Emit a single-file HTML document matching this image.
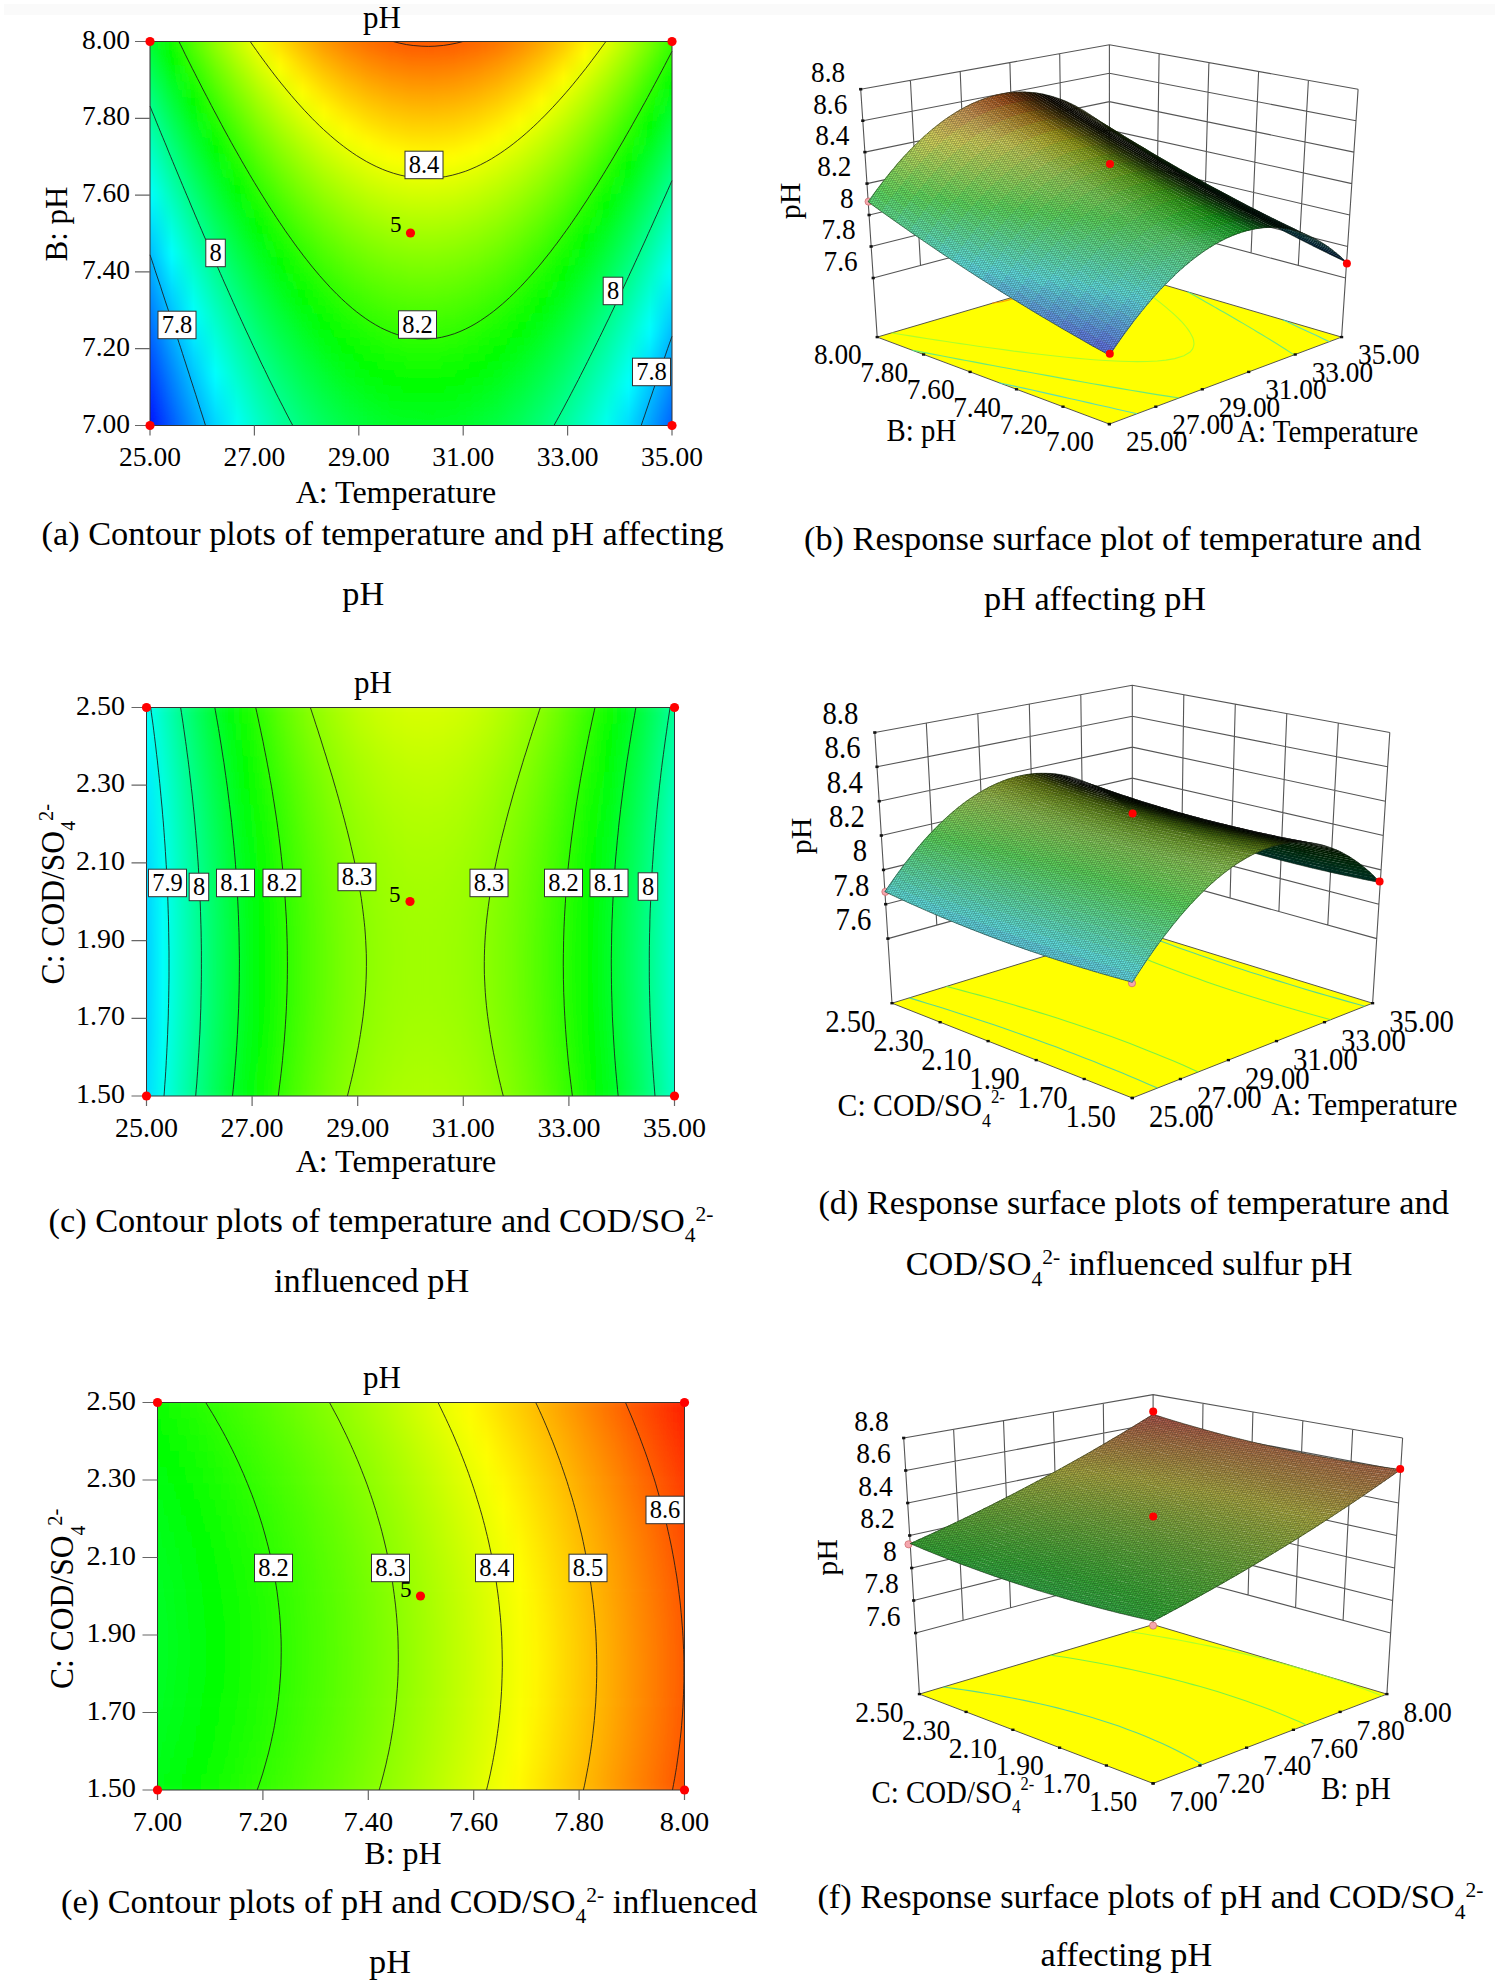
<!DOCTYPE html><html><head><meta charset="utf-8"><title>Figure</title><style>html,body{margin:0;padding:0;background:#fff}svg{display:block}.e{stroke:#1a2a1a;stroke-width:.9;stroke-opacity:.55;fill:none}</style></head><body><svg width="1499" height="1984" viewBox="0 0 1499 1984" font-family='"Liberation Serif","Times New Roman",serif'>
<defs><filter id="wh" x="0" y="0" width="100%" height="100%" filterUnits="objectBoundingBox"><feColorMatrix type="matrix" values="0 0 0 0 1 0 0 0 0 1 0 0 0 0 1 0 0 0 1 0"/></filter><pattern id="mesh" width="2.4" height="2.4" patternUnits="userSpaceOnUse" patternTransform="skewX(-28) skewY(-8)"><path d="M0 .45H2.4M.45 0V2.4" stroke="#000" stroke-opacity=".3" stroke-width=".9"/></pattern></defs>
<rect x="0" y="0" width="1499" height="1984" fill="#fff"/>
<rect x="4" y="4" width="1491" height="11" fill="#fafafa"/>
<defs><linearGradient id="pag0" gradientUnits="userSpaceOnUse" x1="150" x2="672" y1="0" y2="0"><stop offset="0" stop-color="#00ff35"/><stop offset="0.0417" stop-color="#12ff00"/><stop offset="0.0833" stop-color="#53ff00"/><stop offset="0.125" stop-color="#8fff00"/><stop offset="0.167" stop-color="#c4ff00"/><stop offset="0.208" stop-color="#f4ff00"/><stop offset="0.25" stop-color="#ffe000"/><stop offset="0.292" stop-color="#ffbc00"/><stop offset="0.333" stop-color="#ff9d00"/><stop offset="0.375" stop-color="#ff8500"/><stop offset="0.417" stop-color="#ff7200"/><stop offset="0.458" stop-color="#ff6500"/><stop offset="0.5" stop-color="#ff5d00"/><stop offset="0.542" stop-color="#ff5c00"/><stop offset="0.583" stop-color="#ff6000"/><stop offset="0.625" stop-color="#ff6a00"/><stop offset="0.667" stop-color="#ff7900"/><stop offset="0.708" stop-color="#ff8f00"/><stop offset="0.75" stop-color="#ffaa00"/><stop offset="0.792" stop-color="#ffcb00"/><stop offset="0.833" stop-color="#fff200"/><stop offset="0.875" stop-color="#e0ff00"/><stop offset="0.917" stop-color="#adff00"/><stop offset="0.958" stop-color="#75ff00"/><stop offset="1" stop-color="#37ff00"/></linearGradient><linearGradient id="pag1" gradientUnits="userSpaceOnUse" x1="150" x2="672" y1="0" y2="0"><stop offset="0" stop-color="#00ff40"/><stop offset="0.0417" stop-color="#06ff00"/><stop offset="0.0833" stop-color="#48ff00"/><stop offset="0.125" stop-color="#83ff00"/><stop offset="0.167" stop-color="#b8ff00"/><stop offset="0.208" stop-color="#e8ff00"/><stop offset="0.25" stop-color="#ffec00"/><stop offset="0.292" stop-color="#ffc800"/><stop offset="0.333" stop-color="#ffa900"/><stop offset="0.375" stop-color="#ff9100"/><stop offset="0.417" stop-color="#ff7e00"/><stop offset="0.458" stop-color="#ff7100"/><stop offset="0.5" stop-color="#ff6900"/><stop offset="0.542" stop-color="#ff6800"/><stop offset="0.583" stop-color="#ff6c00"/><stop offset="0.625" stop-color="#ff7600"/><stop offset="0.667" stop-color="#ff8500"/><stop offset="0.708" stop-color="#ff9b00"/><stop offset="0.75" stop-color="#ffb600"/><stop offset="0.792" stop-color="#ffd700"/><stop offset="0.833" stop-color="#fffe00"/><stop offset="0.875" stop-color="#d3ff00"/><stop offset="0.917" stop-color="#a1ff00"/><stop offset="0.958" stop-color="#69ff00"/><stop offset="1" stop-color="#2bff00"/></linearGradient><linearGradient id="pag2" gradientUnits="userSpaceOnUse" x1="150" x2="672" y1="0" y2="0"><stop offset="0" stop-color="#00ff4c"/><stop offset="0.0417" stop-color="#00ff05"/><stop offset="0.0833" stop-color="#3cff00"/><stop offset="0.125" stop-color="#77ff00"/><stop offset="0.167" stop-color="#adff00"/><stop offset="0.208" stop-color="#dcff00"/><stop offset="0.25" stop-color="#fff800"/><stop offset="0.292" stop-color="#ffd400"/><stop offset="0.333" stop-color="#ffb500"/><stop offset="0.375" stop-color="#ff9d00"/><stop offset="0.417" stop-color="#ff8a00"/><stop offset="0.458" stop-color="#ff7d00"/><stop offset="0.5" stop-color="#ff7500"/><stop offset="0.542" stop-color="#ff7400"/><stop offset="0.583" stop-color="#ff7800"/><stop offset="0.625" stop-color="#ff8200"/><stop offset="0.667" stop-color="#ff9200"/><stop offset="0.708" stop-color="#ffa700"/><stop offset="0.75" stop-color="#ffc200"/><stop offset="0.792" stop-color="#ffe300"/><stop offset="0.833" stop-color="#f4ff00"/><stop offset="0.875" stop-color="#c7ff00"/><stop offset="0.917" stop-color="#95ff00"/><stop offset="0.958" stop-color="#5dff00"/><stop offset="1" stop-color="#1fff00"/></linearGradient><linearGradient id="pag3" gradientUnits="userSpaceOnUse" x1="150" x2="672" y1="0" y2="0"><stop offset="0" stop-color="#00ff58"/><stop offset="0.0417" stop-color="#00ff11"/><stop offset="0.0833" stop-color="#30ff00"/><stop offset="0.125" stop-color="#6bff00"/><stop offset="0.167" stop-color="#a1ff00"/><stop offset="0.208" stop-color="#d1ff00"/><stop offset="0.25" stop-color="#fbff00"/><stop offset="0.292" stop-color="#ffdf00"/><stop offset="0.333" stop-color="#ffc100"/><stop offset="0.375" stop-color="#ffa800"/><stop offset="0.417" stop-color="#ff9500"/><stop offset="0.458" stop-color="#ff8800"/><stop offset="0.5" stop-color="#ff8100"/><stop offset="0.542" stop-color="#ff8000"/><stop offset="0.583" stop-color="#ff8400"/><stop offset="0.625" stop-color="#ff8e00"/><stop offset="0.667" stop-color="#ff9e00"/><stop offset="0.708" stop-color="#ffb300"/><stop offset="0.75" stop-color="#ffce00"/><stop offset="0.792" stop-color="#ffef00"/><stop offset="0.833" stop-color="#e8ff00"/><stop offset="0.875" stop-color="#bbff00"/><stop offset="0.917" stop-color="#89ff00"/><stop offset="0.958" stop-color="#51ff00"/><stop offset="1" stop-color="#13ff00"/></linearGradient><linearGradient id="pag4" gradientUnits="userSpaceOnUse" x1="150" x2="672" y1="0" y2="0"><stop offset="0" stop-color="#00ff63"/><stop offset="0.0417" stop-color="#00ff1c"/><stop offset="0.0833" stop-color="#25ff00"/><stop offset="0.125" stop-color="#60ff00"/><stop offset="0.167" stop-color="#95ff00"/><stop offset="0.208" stop-color="#c5ff00"/><stop offset="0.25" stop-color="#efff00"/><stop offset="0.292" stop-color="#ffeb00"/><stop offset="0.333" stop-color="#ffcd00"/><stop offset="0.375" stop-color="#ffb400"/><stop offset="0.417" stop-color="#ffa100"/><stop offset="0.458" stop-color="#ff9400"/><stop offset="0.5" stop-color="#ff8d00"/><stop offset="0.542" stop-color="#ff8b00"/><stop offset="0.583" stop-color="#ff9000"/><stop offset="0.625" stop-color="#ff9a00"/><stop offset="0.667" stop-color="#ffa900"/><stop offset="0.708" stop-color="#ffbf00"/><stop offset="0.75" stop-color="#ffda00"/><stop offset="0.792" stop-color="#fffb00"/><stop offset="0.833" stop-color="#dcff00"/><stop offset="0.875" stop-color="#afff00"/><stop offset="0.917" stop-color="#7dff00"/><stop offset="0.958" stop-color="#44ff00"/><stop offset="1" stop-color="#07ff00"/></linearGradient><linearGradient id="pag5" gradientUnits="userSpaceOnUse" x1="150" x2="672" y1="0" y2="0"><stop offset="0" stop-color="#00ff6e"/><stop offset="0.0417" stop-color="#00ff28"/><stop offset="0.0833" stop-color="#19ff00"/><stop offset="0.125" stop-color="#55ff00"/><stop offset="0.167" stop-color="#8aff00"/><stop offset="0.208" stop-color="#baff00"/><stop offset="0.25" stop-color="#e3ff00"/><stop offset="0.292" stop-color="#fff600"/><stop offset="0.333" stop-color="#ffd800"/><stop offset="0.375" stop-color="#ffc000"/><stop offset="0.417" stop-color="#ffad00"/><stop offset="0.458" stop-color="#ffa000"/><stop offset="0.5" stop-color="#ff9800"/><stop offset="0.542" stop-color="#ff9700"/><stop offset="0.583" stop-color="#ff9b00"/><stop offset="0.625" stop-color="#ffa500"/><stop offset="0.667" stop-color="#ffb500"/><stop offset="0.708" stop-color="#ffcb00"/><stop offset="0.75" stop-color="#ffe600"/><stop offset="0.792" stop-color="#f7ff00"/><stop offset="0.833" stop-color="#d0ff00"/><stop offset="0.875" stop-color="#a3ff00"/><stop offset="0.917" stop-color="#71ff00"/><stop offset="0.958" stop-color="#39ff00"/><stop offset="1" stop-color="#00ff05"/></linearGradient><linearGradient id="pag6" gradientUnits="userSpaceOnUse" x1="150" x2="672" y1="0" y2="0"><stop offset="0" stop-color="#00ff7a"/><stop offset="0.0417" stop-color="#00ff33"/><stop offset="0.0833" stop-color="#0eff00"/><stop offset="0.125" stop-color="#49ff00"/><stop offset="0.167" stop-color="#7fff00"/><stop offset="0.208" stop-color="#aeff00"/><stop offset="0.25" stop-color="#d8ff00"/><stop offset="0.292" stop-color="#fcff00"/><stop offset="0.333" stop-color="#ffe400"/><stop offset="0.375" stop-color="#ffcb00"/><stop offset="0.417" stop-color="#ffb800"/><stop offset="0.458" stop-color="#ffab00"/><stop offset="0.5" stop-color="#ffa400"/><stop offset="0.542" stop-color="#ffa300"/><stop offset="0.583" stop-color="#ffa700"/><stop offset="0.625" stop-color="#ffb100"/><stop offset="0.667" stop-color="#ffc100"/><stop offset="0.708" stop-color="#ffd600"/><stop offset="0.75" stop-color="#fff200"/><stop offset="0.792" stop-color="#ebff00"/><stop offset="0.833" stop-color="#c4ff00"/><stop offset="0.875" stop-color="#97ff00"/><stop offset="0.917" stop-color="#65ff00"/><stop offset="0.958" stop-color="#2dff00"/><stop offset="1" stop-color="#00ff11"/></linearGradient><linearGradient id="pag7" gradientUnits="userSpaceOnUse" x1="150" x2="672" y1="0" y2="0"><stop offset="0" stop-color="#00ff85"/><stop offset="0.0417" stop-color="#00ff3e"/><stop offset="0.0833" stop-color="#03ff00"/><stop offset="0.125" stop-color="#3eff00"/><stop offset="0.167" stop-color="#73ff00"/><stop offset="0.208" stop-color="#a3ff00"/><stop offset="0.25" stop-color="#cdff00"/><stop offset="0.292" stop-color="#f1ff00"/><stop offset="0.333" stop-color="#ffef00"/><stop offset="0.375" stop-color="#ffd600"/><stop offset="0.417" stop-color="#ffc400"/><stop offset="0.458" stop-color="#ffb700"/><stop offset="0.5" stop-color="#ffaf00"/><stop offset="0.542" stop-color="#ffae00"/><stop offset="0.583" stop-color="#ffb200"/><stop offset="0.625" stop-color="#ffbc00"/><stop offset="0.667" stop-color="#ffcc00"/><stop offset="0.708" stop-color="#ffe200"/><stop offset="0.75" stop-color="#fffd00"/><stop offset="0.792" stop-color="#dfff00"/><stop offset="0.833" stop-color="#b9ff00"/><stop offset="0.875" stop-color="#8cff00"/><stop offset="0.917" stop-color="#59ff00"/><stop offset="0.958" stop-color="#21ff00"/><stop offset="1" stop-color="#00ff1d"/></linearGradient><linearGradient id="pag8" gradientUnits="userSpaceOnUse" x1="150" x2="672" y1="0" y2="0"><stop offset="0" stop-color="#00ff90"/><stop offset="0.0417" stop-color="#00ff49"/><stop offset="0.0833" stop-color="#00ff08"/><stop offset="0.125" stop-color="#33ff00"/><stop offset="0.167" stop-color="#68ff00"/><stop offset="0.208" stop-color="#98ff00"/><stop offset="0.25" stop-color="#c2ff00"/><stop offset="0.292" stop-color="#e6ff00"/><stop offset="0.333" stop-color="#fffa00"/><stop offset="0.375" stop-color="#ffe200"/><stop offset="0.417" stop-color="#ffcf00"/><stop offset="0.458" stop-color="#ffc200"/><stop offset="0.5" stop-color="#ffbb00"/><stop offset="0.542" stop-color="#ffb900"/><stop offset="0.583" stop-color="#ffbe00"/><stop offset="0.625" stop-color="#ffc800"/><stop offset="0.667" stop-color="#ffd800"/><stop offset="0.708" stop-color="#ffed00"/><stop offset="0.75" stop-color="#f5ff00"/><stop offset="0.792" stop-color="#d4ff00"/><stop offset="0.833" stop-color="#adff00"/><stop offset="0.875" stop-color="#80ff00"/><stop offset="0.917" stop-color="#4eff00"/><stop offset="0.958" stop-color="#15ff00"/><stop offset="1" stop-color="#00ff29"/></linearGradient><linearGradient id="pag9" gradientUnits="userSpaceOnUse" x1="150" x2="672" y1="0" y2="0"><stop offset="0" stop-color="#00ff9b"/><stop offset="0.0417" stop-color="#00ff54"/><stop offset="0.0833" stop-color="#00ff13"/><stop offset="0.125" stop-color="#28ff00"/><stop offset="0.167" stop-color="#5dff00"/><stop offset="0.208" stop-color="#8dff00"/><stop offset="0.25" stop-color="#b7ff00"/><stop offset="0.292" stop-color="#dbff00"/><stop offset="0.333" stop-color="#f9ff00"/><stop offset="0.375" stop-color="#ffed00"/><stop offset="0.417" stop-color="#ffda00"/><stop offset="0.458" stop-color="#ffcd00"/><stop offset="0.5" stop-color="#ffc600"/><stop offset="0.542" stop-color="#ffc500"/><stop offset="0.583" stop-color="#ffc900"/><stop offset="0.625" stop-color="#ffd300"/><stop offset="0.667" stop-color="#ffe300"/><stop offset="0.708" stop-color="#fff900"/><stop offset="0.75" stop-color="#eaff00"/><stop offset="0.792" stop-color="#c9ff00"/><stop offset="0.833" stop-color="#a2ff00"/><stop offset="0.875" stop-color="#75ff00"/><stop offset="0.917" stop-color="#42ff00"/><stop offset="0.958" stop-color="#0aff00"/><stop offset="1" stop-color="#00ff34"/></linearGradient><linearGradient id="pag10" gradientUnits="userSpaceOnUse" x1="150" x2="672" y1="0" y2="0"><stop offset="0" stop-color="#00ffa5"/><stop offset="0.0417" stop-color="#00ff5f"/><stop offset="0.0833" stop-color="#00ff1e"/><stop offset="0.125" stop-color="#1dff00"/><stop offset="0.167" stop-color="#52ff00"/><stop offset="0.208" stop-color="#82ff00"/><stop offset="0.25" stop-color="#acff00"/><stop offset="0.292" stop-color="#d0ff00"/><stop offset="0.333" stop-color="#eeff00"/><stop offset="0.375" stop-color="#fff800"/><stop offset="0.417" stop-color="#ffe500"/><stop offset="0.458" stop-color="#ffd800"/><stop offset="0.5" stop-color="#ffd100"/><stop offset="0.542" stop-color="#ffd000"/><stop offset="0.583" stop-color="#ffd400"/><stop offset="0.625" stop-color="#ffde00"/><stop offset="0.667" stop-color="#ffee00"/><stop offset="0.708" stop-color="#faff00"/><stop offset="0.75" stop-color="#dfff00"/><stop offset="0.792" stop-color="#bdff00"/><stop offset="0.833" stop-color="#96ff00"/><stop offset="0.875" stop-color="#69ff00"/><stop offset="0.917" stop-color="#37ff00"/><stop offset="0.958" stop-color="#00ff01"/><stop offset="1" stop-color="#00ff40"/></linearGradient><linearGradient id="pag11" gradientUnits="userSpaceOnUse" x1="150" x2="672" y1="0" y2="0"><stop offset="0" stop-color="#00ffb0"/><stop offset="0.0417" stop-color="#00ff69"/><stop offset="0.0833" stop-color="#00ff29"/><stop offset="0.125" stop-color="#12ff00"/><stop offset="0.167" stop-color="#48ff00"/><stop offset="0.208" stop-color="#77ff00"/><stop offset="0.25" stop-color="#a1ff00"/><stop offset="0.292" stop-color="#c5ff00"/><stop offset="0.333" stop-color="#e3ff00"/><stop offset="0.375" stop-color="#fbff00"/><stop offset="0.417" stop-color="#fff000"/><stop offset="0.458" stop-color="#ffe300"/><stop offset="0.5" stop-color="#ffdc00"/><stop offset="0.542" stop-color="#ffdb00"/><stop offset="0.583" stop-color="#ffdf00"/><stop offset="0.625" stop-color="#ffe900"/><stop offset="0.667" stop-color="#fff900"/><stop offset="0.708" stop-color="#efff00"/><stop offset="0.75" stop-color="#d3ff00"/><stop offset="0.792" stop-color="#b2ff00"/><stop offset="0.833" stop-color="#8bff00"/><stop offset="0.875" stop-color="#5eff00"/><stop offset="0.917" stop-color="#2cff00"/><stop offset="0.958" stop-color="#00ff0d"/><stop offset="1" stop-color="#00ff4b"/></linearGradient><linearGradient id="pag12" gradientUnits="userSpaceOnUse" x1="150" x2="672" y1="0" y2="0"><stop offset="0" stop-color="#00ffbb"/><stop offset="0.0417" stop-color="#00ff74"/><stop offset="0.0833" stop-color="#00ff33"/><stop offset="0.125" stop-color="#08ff00"/><stop offset="0.167" stop-color="#3dff00"/><stop offset="0.208" stop-color="#6cff00"/><stop offset="0.25" stop-color="#96ff00"/><stop offset="0.292" stop-color="#baff00"/><stop offset="0.333" stop-color="#d8ff00"/><stop offset="0.375" stop-color="#f1ff00"/><stop offset="0.417" stop-color="#fffb00"/><stop offset="0.458" stop-color="#ffee00"/><stop offset="0.5" stop-color="#ffe700"/><stop offset="0.542" stop-color="#ffe600"/><stop offset="0.583" stop-color="#ffea00"/><stop offset="0.625" stop-color="#fff400"/><stop offset="0.667" stop-color="#faff00"/><stop offset="0.708" stop-color="#e4ff00"/><stop offset="0.75" stop-color="#c8ff00"/><stop offset="0.792" stop-color="#a7ff00"/><stop offset="0.833" stop-color="#80ff00"/><stop offset="0.875" stop-color="#53ff00"/><stop offset="0.917" stop-color="#21ff00"/><stop offset="0.958" stop-color="#00ff18"/><stop offset="1" stop-color="#00ff56"/></linearGradient><linearGradient id="pag13" gradientUnits="userSpaceOnUse" x1="150" x2="672" y1="0" y2="0"><stop offset="0" stop-color="#00ffc5"/><stop offset="0.0417" stop-color="#00ff7f"/><stop offset="0.0833" stop-color="#00ff3e"/><stop offset="0.125" stop-color="#00ff03"/><stop offset="0.167" stop-color="#32ff00"/><stop offset="0.208" stop-color="#62ff00"/><stop offset="0.25" stop-color="#8bff00"/><stop offset="0.292" stop-color="#afff00"/><stop offset="0.333" stop-color="#ceff00"/><stop offset="0.375" stop-color="#e6ff00"/><stop offset="0.417" stop-color="#f8ff00"/><stop offset="0.458" stop-color="#fff900"/><stop offset="0.5" stop-color="#fff200"/><stop offset="0.542" stop-color="#fff000"/><stop offset="0.583" stop-color="#fff500"/><stop offset="0.625" stop-color="#ffff00"/><stop offset="0.667" stop-color="#efff00"/><stop offset="0.708" stop-color="#d9ff00"/><stop offset="0.75" stop-color="#bdff00"/><stop offset="0.792" stop-color="#9cff00"/><stop offset="0.833" stop-color="#75ff00"/><stop offset="0.875" stop-color="#48ff00"/><stop offset="0.917" stop-color="#16ff00"/><stop offset="0.958" stop-color="#00ff23"/><stop offset="1" stop-color="#00ff61"/></linearGradient><linearGradient id="pag14" gradientUnits="userSpaceOnUse" x1="150" x2="672" y1="0" y2="0"><stop offset="0" stop-color="#00ffcf"/><stop offset="0.0417" stop-color="#00ff89"/><stop offset="0.0833" stop-color="#00ff48"/><stop offset="0.125" stop-color="#00ff0d"/><stop offset="0.167" stop-color="#28ff00"/><stop offset="0.208" stop-color="#57ff00"/><stop offset="0.25" stop-color="#81ff00"/><stop offset="0.292" stop-color="#a5ff00"/><stop offset="0.333" stop-color="#c3ff00"/><stop offset="0.375" stop-color="#dbff00"/><stop offset="0.417" stop-color="#eeff00"/><stop offset="0.458" stop-color="#fbff00"/><stop offset="0.5" stop-color="#fffc00"/><stop offset="0.542" stop-color="#fffb00"/><stop offset="0.583" stop-color="#feff00"/><stop offset="0.625" stop-color="#f4ff00"/><stop offset="0.667" stop-color="#e4ff00"/><stop offset="0.708" stop-color="#ceff00"/><stop offset="0.75" stop-color="#b3ff00"/><stop offset="0.792" stop-color="#91ff00"/><stop offset="0.833" stop-color="#6aff00"/><stop offset="0.875" stop-color="#3dff00"/><stop offset="0.917" stop-color="#0bff00"/><stop offset="0.958" stop-color="#00ff2e"/><stop offset="1" stop-color="#00ff6c"/></linearGradient><linearGradient id="pag15" gradientUnits="userSpaceOnUse" x1="150" x2="672" y1="0" y2="0"><stop offset="0" stop-color="#00ffda"/><stop offset="0.0417" stop-color="#00ff93"/><stop offset="0.0833" stop-color="#00ff52"/><stop offset="0.125" stop-color="#00ff18"/><stop offset="0.167" stop-color="#1eff00"/><stop offset="0.208" stop-color="#4dff00"/><stop offset="0.25" stop-color="#77ff00"/><stop offset="0.292" stop-color="#9aff00"/><stop offset="0.333" stop-color="#b9ff00"/><stop offset="0.375" stop-color="#d1ff00"/><stop offset="0.417" stop-color="#e3ff00"/><stop offset="0.458" stop-color="#f0ff00"/><stop offset="0.5" stop-color="#f7ff00"/><stop offset="0.542" stop-color="#f8ff00"/><stop offset="0.583" stop-color="#f4ff00"/><stop offset="0.625" stop-color="#eaff00"/><stop offset="0.667" stop-color="#d9ff00"/><stop offset="0.708" stop-color="#c4ff00"/><stop offset="0.75" stop-color="#a8ff00"/><stop offset="0.792" stop-color="#87ff00"/><stop offset="0.833" stop-color="#5fff00"/><stop offset="0.875" stop-color="#32ff00"/><stop offset="0.917" stop-color="#00ff00"/><stop offset="0.958" stop-color="#00ff39"/><stop offset="1" stop-color="#00ff77"/></linearGradient><linearGradient id="pag16" gradientUnits="userSpaceOnUse" x1="150" x2="672" y1="0" y2="0"><stop offset="0" stop-color="#00ffe4"/><stop offset="0.0417" stop-color="#00ff9d"/><stop offset="0.0833" stop-color="#00ff5d"/><stop offset="0.125" stop-color="#00ff22"/><stop offset="0.167" stop-color="#13ff00"/><stop offset="0.208" stop-color="#43ff00"/><stop offset="0.25" stop-color="#6cff00"/><stop offset="0.292" stop-color="#90ff00"/><stop offset="0.333" stop-color="#aeff00"/><stop offset="0.375" stop-color="#c6ff00"/><stop offset="0.417" stop-color="#d9ff00"/><stop offset="0.458" stop-color="#e6ff00"/><stop offset="0.5" stop-color="#edff00"/><stop offset="0.542" stop-color="#eeff00"/><stop offset="0.583" stop-color="#e9ff00"/><stop offset="0.625" stop-color="#dfff00"/><stop offset="0.667" stop-color="#cfff00"/><stop offset="0.708" stop-color="#b9ff00"/><stop offset="0.75" stop-color="#9dff00"/><stop offset="0.792" stop-color="#7cff00"/><stop offset="0.833" stop-color="#55ff00"/><stop offset="0.875" stop-color="#28ff00"/><stop offset="0.917" stop-color="#00ff0b"/><stop offset="0.958" stop-color="#00ff43"/><stop offset="1" stop-color="#00ff82"/></linearGradient><linearGradient id="pag17" gradientUnits="userSpaceOnUse" x1="150" x2="672" y1="0" y2="0"><stop offset="0" stop-color="#00ffee"/><stop offset="0.0417" stop-color="#00ffa7"/><stop offset="0.0833" stop-color="#00ff67"/><stop offset="0.125" stop-color="#00ff2c"/><stop offset="0.167" stop-color="#09ff00"/><stop offset="0.208" stop-color="#39ff00"/><stop offset="0.25" stop-color="#62ff00"/><stop offset="0.292" stop-color="#86ff00"/><stop offset="0.333" stop-color="#a4ff00"/><stop offset="0.375" stop-color="#bcff00"/><stop offset="0.417" stop-color="#cfff00"/><stop offset="0.458" stop-color="#dbff00"/><stop offset="0.5" stop-color="#e2ff00"/><stop offset="0.542" stop-color="#e4ff00"/><stop offset="0.583" stop-color="#dfff00"/><stop offset="0.625" stop-color="#d5ff00"/><stop offset="0.667" stop-color="#c4ff00"/><stop offset="0.708" stop-color="#afff00"/><stop offset="0.75" stop-color="#93ff00"/><stop offset="0.792" stop-color="#71ff00"/><stop offset="0.833" stop-color="#4aff00"/><stop offset="0.875" stop-color="#1dff00"/><stop offset="0.917" stop-color="#00ff15"/><stop offset="0.958" stop-color="#00ff4e"/><stop offset="1" stop-color="#00ff8c"/></linearGradient><linearGradient id="pag18" gradientUnits="userSpaceOnUse" x1="150" x2="672" y1="0" y2="0"><stop offset="0" stop-color="#00fff8"/><stop offset="0.0417" stop-color="#00ffb1"/><stop offset="0.0833" stop-color="#00ff71"/><stop offset="0.125" stop-color="#00ff36"/><stop offset="0.167" stop-color="#00ff01"/><stop offset="0.208" stop-color="#2fff00"/><stop offset="0.25" stop-color="#58ff00"/><stop offset="0.292" stop-color="#7cff00"/><stop offset="0.333" stop-color="#9aff00"/><stop offset="0.375" stop-color="#b2ff00"/><stop offset="0.417" stop-color="#c5ff00"/><stop offset="0.458" stop-color="#d1ff00"/><stop offset="0.5" stop-color="#d8ff00"/><stop offset="0.542" stop-color="#d9ff00"/><stop offset="0.583" stop-color="#d5ff00"/><stop offset="0.625" stop-color="#caff00"/><stop offset="0.667" stop-color="#baff00"/><stop offset="0.708" stop-color="#a4ff00"/><stop offset="0.75" stop-color="#89ff00"/><stop offset="0.792" stop-color="#67ff00"/><stop offset="0.833" stop-color="#40ff00"/><stop offset="0.875" stop-color="#13ff00"/><stop offset="0.917" stop-color="#00ff20"/><stop offset="0.958" stop-color="#00ff59"/><stop offset="1" stop-color="#00ff97"/></linearGradient><linearGradient id="pag19" gradientUnits="userSpaceOnUse" x1="150" x2="672" y1="0" y2="0"><stop offset="0" stop-color="#00fcff"/><stop offset="0.0417" stop-color="#00ffbb"/><stop offset="0.0833" stop-color="#00ff7b"/><stop offset="0.125" stop-color="#00ff40"/><stop offset="0.167" stop-color="#00ff0b"/><stop offset="0.208" stop-color="#25ff00"/><stop offset="0.25" stop-color="#4eff00"/><stop offset="0.292" stop-color="#72ff00"/><stop offset="0.333" stop-color="#90ff00"/><stop offset="0.375" stop-color="#a8ff00"/><stop offset="0.417" stop-color="#baff00"/><stop offset="0.458" stop-color="#c7ff00"/><stop offset="0.5" stop-color="#ceff00"/><stop offset="0.542" stop-color="#cfff00"/><stop offset="0.583" stop-color="#cbff00"/><stop offset="0.625" stop-color="#c0ff00"/><stop offset="0.667" stop-color="#b0ff00"/><stop offset="0.708" stop-color="#9aff00"/><stop offset="0.75" stop-color="#7eff00"/><stop offset="0.792" stop-color="#5dff00"/><stop offset="0.833" stop-color="#35ff00"/><stop offset="0.875" stop-color="#08ff00"/><stop offset="0.917" stop-color="#00ff2a"/><stop offset="0.958" stop-color="#00ff63"/><stop offset="1" stop-color="#00ffa1"/></linearGradient><linearGradient id="pag20" gradientUnits="userSpaceOnUse" x1="150" x2="672" y1="0" y2="0"><stop offset="0" stop-color="#00f3ff"/><stop offset="0.0417" stop-color="#00ffc5"/><stop offset="0.0833" stop-color="#00ff84"/><stop offset="0.125" stop-color="#00ff49"/><stop offset="0.167" stop-color="#00ff14"/><stop offset="0.208" stop-color="#1bff00"/><stop offset="0.25" stop-color="#44ff00"/><stop offset="0.292" stop-color="#68ff00"/><stop offset="0.333" stop-color="#86ff00"/><stop offset="0.375" stop-color="#9eff00"/><stop offset="0.417" stop-color="#b1ff00"/><stop offset="0.458" stop-color="#bdff00"/><stop offset="0.5" stop-color="#c4ff00"/><stop offset="0.542" stop-color="#c5ff00"/><stop offset="0.583" stop-color="#c0ff00"/><stop offset="0.625" stop-color="#b6ff00"/><stop offset="0.667" stop-color="#a6ff00"/><stop offset="0.708" stop-color="#90ff00"/><stop offset="0.75" stop-color="#74ff00"/><stop offset="0.792" stop-color="#53ff00"/><stop offset="0.833" stop-color="#2bff00"/><stop offset="0.875" stop-color="#00ff02"/><stop offset="0.917" stop-color="#00ff35"/><stop offset="0.958" stop-color="#00ff6d"/><stop offset="1" stop-color="#00ffac"/></linearGradient><linearGradient id="pag21" gradientUnits="userSpaceOnUse" x1="150" x2="672" y1="0" y2="0"><stop offset="0" stop-color="#00e9ff"/><stop offset="0.0417" stop-color="#00ffce"/><stop offset="0.0833" stop-color="#00ff8e"/><stop offset="0.125" stop-color="#00ff53"/><stop offset="0.167" stop-color="#00ff1e"/><stop offset="0.208" stop-color="#11ff00"/><stop offset="0.25" stop-color="#3bff00"/><stop offset="0.292" stop-color="#5eff00"/><stop offset="0.333" stop-color="#7cff00"/><stop offset="0.375" stop-color="#94ff00"/><stop offset="0.417" stop-color="#a7ff00"/><stop offset="0.458" stop-color="#b3ff00"/><stop offset="0.5" stop-color="#baff00"/><stop offset="0.542" stop-color="#bbff00"/><stop offset="0.583" stop-color="#b7ff00"/><stop offset="0.625" stop-color="#acff00"/><stop offset="0.667" stop-color="#9cff00"/><stop offset="0.708" stop-color="#86ff00"/><stop offset="0.75" stop-color="#6aff00"/><stop offset="0.792" stop-color="#49ff00"/><stop offset="0.833" stop-color="#21ff00"/><stop offset="0.875" stop-color="#00ff0c"/><stop offset="0.917" stop-color="#00ff3f"/><stop offset="0.958" stop-color="#00ff77"/><stop offset="1" stop-color="#00ffb6"/></linearGradient><linearGradient id="pag22" gradientUnits="userSpaceOnUse" x1="150" x2="672" y1="0" y2="0"><stop offset="0" stop-color="#00e0ff"/><stop offset="0.0417" stop-color="#00ffd8"/><stop offset="0.0833" stop-color="#00ff97"/><stop offset="0.125" stop-color="#00ff5d"/><stop offset="0.167" stop-color="#00ff28"/><stop offset="0.208" stop-color="#07ff00"/><stop offset="0.25" stop-color="#31ff00"/><stop offset="0.292" stop-color="#55ff00"/><stop offset="0.333" stop-color="#72ff00"/><stop offset="0.375" stop-color="#8bff00"/><stop offset="0.417" stop-color="#9dff00"/><stop offset="0.458" stop-color="#aaff00"/><stop offset="0.5" stop-color="#b0ff00"/><stop offset="0.542" stop-color="#b1ff00"/><stop offset="0.583" stop-color="#adff00"/><stop offset="0.625" stop-color="#a2ff00"/><stop offset="0.667" stop-color="#92ff00"/><stop offset="0.708" stop-color="#7cff00"/><stop offset="0.75" stop-color="#60ff00"/><stop offset="0.792" stop-color="#3fff00"/><stop offset="0.833" stop-color="#17ff00"/><stop offset="0.875" stop-color="#00ff16"/><stop offset="0.917" stop-color="#00ff49"/><stop offset="0.958" stop-color="#00ff81"/><stop offset="1" stop-color="#00ffc0"/></linearGradient><linearGradient id="pag23" gradientUnits="userSpaceOnUse" x1="150" x2="672" y1="0" y2="0"><stop offset="0" stop-color="#00d6ff"/><stop offset="0.0417" stop-color="#00ffe1"/><stop offset="0.0833" stop-color="#00ffa1"/><stop offset="0.125" stop-color="#00ff66"/><stop offset="0.167" stop-color="#00ff31"/><stop offset="0.208" stop-color="#00ff02"/><stop offset="0.25" stop-color="#27ff00"/><stop offset="0.292" stop-color="#4bff00"/><stop offset="0.333" stop-color="#69ff00"/><stop offset="0.375" stop-color="#81ff00"/><stop offset="0.417" stop-color="#93ff00"/><stop offset="0.458" stop-color="#a0ff00"/><stop offset="0.5" stop-color="#a7ff00"/><stop offset="0.542" stop-color="#a8ff00"/><stop offset="0.583" stop-color="#a3ff00"/><stop offset="0.625" stop-color="#98ff00"/><stop offset="0.667" stop-color="#88ff00"/><stop offset="0.708" stop-color="#72ff00"/><stop offset="0.75" stop-color="#56ff00"/><stop offset="0.792" stop-color="#35ff00"/><stop offset="0.833" stop-color="#0dff00"/><stop offset="0.875" stop-color="#00ff20"/><stop offset="0.917" stop-color="#00ff53"/><stop offset="0.958" stop-color="#00ff8b"/><stop offset="1" stop-color="#00ffca"/></linearGradient><linearGradient id="pag24" gradientUnits="userSpaceOnUse" x1="150" x2="672" y1="0" y2="0"><stop offset="0" stop-color="#00cdff"/><stop offset="0.0417" stop-color="#00ffeb"/><stop offset="0.0833" stop-color="#00ffaa"/><stop offset="0.125" stop-color="#00ff6f"/><stop offset="0.167" stop-color="#00ff3b"/><stop offset="0.208" stop-color="#00ff0b"/><stop offset="0.25" stop-color="#1eff00"/><stop offset="0.292" stop-color="#42ff00"/><stop offset="0.333" stop-color="#5fff00"/><stop offset="0.375" stop-color="#78ff00"/><stop offset="0.417" stop-color="#8aff00"/><stop offset="0.458" stop-color="#96ff00"/><stop offset="0.5" stop-color="#9dff00"/><stop offset="0.542" stop-color="#9eff00"/><stop offset="0.583" stop-color="#99ff00"/><stop offset="0.625" stop-color="#8fff00"/><stop offset="0.667" stop-color="#7fff00"/><stop offset="0.708" stop-color="#68ff00"/><stop offset="0.75" stop-color="#4dff00"/><stop offset="0.792" stop-color="#2bff00"/><stop offset="0.833" stop-color="#04ff00"/><stop offset="0.875" stop-color="#00ff2a"/><stop offset="0.917" stop-color="#00ff5d"/><stop offset="0.958" stop-color="#00ff95"/><stop offset="1" stop-color="#00ffd4"/></linearGradient><linearGradient id="pag25" gradientUnits="userSpaceOnUse" x1="150" x2="672" y1="0" y2="0"><stop offset="0" stop-color="#00c4ff"/><stop offset="0.0417" stop-color="#00fff4"/><stop offset="0.0833" stop-color="#00ffb3"/><stop offset="0.125" stop-color="#00ff79"/><stop offset="0.167" stop-color="#00ff44"/><stop offset="0.208" stop-color="#00ff15"/><stop offset="0.25" stop-color="#15ff00"/><stop offset="0.292" stop-color="#38ff00"/><stop offset="0.333" stop-color="#56ff00"/><stop offset="0.375" stop-color="#6eff00"/><stop offset="0.417" stop-color="#80ff00"/><stop offset="0.458" stop-color="#8dff00"/><stop offset="0.5" stop-color="#94ff00"/><stop offset="0.542" stop-color="#95ff00"/><stop offset="0.583" stop-color="#90ff00"/><stop offset="0.625" stop-color="#85ff00"/><stop offset="0.667" stop-color="#75ff00"/><stop offset="0.708" stop-color="#5fff00"/><stop offset="0.75" stop-color="#43ff00"/><stop offset="0.792" stop-color="#21ff00"/><stop offset="0.833" stop-color="#00ff06"/><stop offset="0.875" stop-color="#00ff33"/><stop offset="0.917" stop-color="#00ff66"/><stop offset="0.958" stop-color="#00ff9f"/><stop offset="1" stop-color="#00ffdd"/></linearGradient><linearGradient id="pag26" gradientUnits="userSpaceOnUse" x1="150" x2="672" y1="0" y2="0"><stop offset="0" stop-color="#00bbff"/><stop offset="0.0417" stop-color="#00fffd"/><stop offset="0.0833" stop-color="#00ffbc"/><stop offset="0.125" stop-color="#00ff82"/><stop offset="0.167" stop-color="#00ff4d"/><stop offset="0.208" stop-color="#00ff1e"/><stop offset="0.25" stop-color="#0cff00"/><stop offset="0.292" stop-color="#2fff00"/><stop offset="0.333" stop-color="#4dff00"/><stop offset="0.375" stop-color="#65ff00"/><stop offset="0.417" stop-color="#77ff00"/><stop offset="0.458" stop-color="#84ff00"/><stop offset="0.5" stop-color="#8aff00"/><stop offset="0.542" stop-color="#8bff00"/><stop offset="0.583" stop-color="#86ff00"/><stop offset="0.625" stop-color="#7cff00"/><stop offset="0.667" stop-color="#6cff00"/><stop offset="0.708" stop-color="#55ff00"/><stop offset="0.75" stop-color="#39ff00"/><stop offset="0.792" stop-color="#18ff00"/><stop offset="0.833" stop-color="#00ff10"/><stop offset="0.875" stop-color="#00ff3d"/><stop offset="0.917" stop-color="#00ff70"/><stop offset="0.958" stop-color="#00ffa9"/><stop offset="1" stop-color="#00ffe7"/></linearGradient><linearGradient id="pag27" gradientUnits="userSpaceOnUse" x1="150" x2="672" y1="0" y2="0"><stop offset="0" stop-color="#00b2ff"/><stop offset="0.0417" stop-color="#00f8ff"/><stop offset="0.0833" stop-color="#00ffc5"/><stop offset="0.125" stop-color="#00ff8b"/><stop offset="0.167" stop-color="#00ff56"/><stop offset="0.208" stop-color="#00ff27"/><stop offset="0.25" stop-color="#02ff00"/><stop offset="0.292" stop-color="#26ff00"/><stop offset="0.333" stop-color="#44ff00"/><stop offset="0.375" stop-color="#5cff00"/><stop offset="0.417" stop-color="#6eff00"/><stop offset="0.458" stop-color="#7aff00"/><stop offset="0.5" stop-color="#81ff00"/><stop offset="0.542" stop-color="#82ff00"/><stop offset="0.583" stop-color="#7dff00"/><stop offset="0.625" stop-color="#73ff00"/><stop offset="0.667" stop-color="#62ff00"/><stop offset="0.708" stop-color="#4cff00"/><stop offset="0.75" stop-color="#30ff00"/><stop offset="0.792" stop-color="#0eff00"/><stop offset="0.833" stop-color="#00ff19"/><stop offset="0.875" stop-color="#00ff46"/><stop offset="0.917" stop-color="#00ff79"/><stop offset="0.958" stop-color="#00ffb2"/><stop offset="1" stop-color="#00fff1"/></linearGradient><linearGradient id="pag28" gradientUnits="userSpaceOnUse" x1="150" x2="672" y1="0" y2="0"><stop offset="0" stop-color="#00a9ff"/><stop offset="0.0417" stop-color="#00efff"/><stop offset="0.0833" stop-color="#00ffce"/><stop offset="0.125" stop-color="#00ff94"/><stop offset="0.167" stop-color="#00ff5f"/><stop offset="0.208" stop-color="#00ff30"/><stop offset="0.25" stop-color="#00ff07"/><stop offset="0.292" stop-color="#1dff00"/><stop offset="0.333" stop-color="#3bff00"/><stop offset="0.375" stop-color="#53ff00"/><stop offset="0.417" stop-color="#65ff00"/><stop offset="0.458" stop-color="#71ff00"/><stop offset="0.5" stop-color="#78ff00"/><stop offset="0.542" stop-color="#79ff00"/><stop offset="0.583" stop-color="#74ff00"/><stop offset="0.625" stop-color="#69ff00"/><stop offset="0.667" stop-color="#59ff00"/><stop offset="0.708" stop-color="#43ff00"/><stop offset="0.75" stop-color="#27ff00"/><stop offset="0.792" stop-color="#05ff00"/><stop offset="0.833" stop-color="#00ff22"/><stop offset="0.875" stop-color="#00ff50"/><stop offset="0.917" stop-color="#00ff83"/><stop offset="0.958" stop-color="#00ffbc"/><stop offset="1" stop-color="#00fffa"/></linearGradient><linearGradient id="pag29" gradientUnits="userSpaceOnUse" x1="150" x2="672" y1="0" y2="0"><stop offset="0" stop-color="#00a1ff"/><stop offset="0.0417" stop-color="#00e7ff"/><stop offset="0.0833" stop-color="#00ffd7"/><stop offset="0.125" stop-color="#00ff9c"/><stop offset="0.167" stop-color="#00ff68"/><stop offset="0.208" stop-color="#00ff39"/><stop offset="0.25" stop-color="#00ff0f"/><stop offset="0.292" stop-color="#14ff00"/><stop offset="0.333" stop-color="#32ff00"/><stop offset="0.375" stop-color="#4aff00"/><stop offset="0.417" stop-color="#5cff00"/><stop offset="0.458" stop-color="#68ff00"/><stop offset="0.5" stop-color="#6fff00"/><stop offset="0.542" stop-color="#70ff00"/><stop offset="0.583" stop-color="#6bff00"/><stop offset="0.625" stop-color="#60ff00"/><stop offset="0.667" stop-color="#50ff00"/><stop offset="0.708" stop-color="#3aff00"/><stop offset="0.75" stop-color="#1eff00"/><stop offset="0.792" stop-color="#00ff04"/><stop offset="0.833" stop-color="#00ff2c"/><stop offset="0.875" stop-color="#00ff59"/><stop offset="0.917" stop-color="#00ff8c"/><stop offset="0.958" stop-color="#00ffc5"/><stop offset="1" stop-color="#00fbff"/></linearGradient><linearGradient id="pag30" gradientUnits="userSpaceOnUse" x1="150" x2="672" y1="0" y2="0"><stop offset="0" stop-color="#0098ff"/><stop offset="0.0417" stop-color="#00deff"/><stop offset="0.0833" stop-color="#00ffe0"/><stop offset="0.125" stop-color="#00ffa5"/><stop offset="0.167" stop-color="#00ff70"/><stop offset="0.208" stop-color="#00ff41"/><stop offset="0.25" stop-color="#00ff18"/><stop offset="0.292" stop-color="#0bff00"/><stop offset="0.333" stop-color="#29ff00"/><stop offset="0.375" stop-color="#41ff00"/><stop offset="0.417" stop-color="#53ff00"/><stop offset="0.458" stop-color="#5fff00"/><stop offset="0.5" stop-color="#66ff00"/><stop offset="0.542" stop-color="#67ff00"/><stop offset="0.583" stop-color="#62ff00"/><stop offset="0.625" stop-color="#57ff00"/><stop offset="0.667" stop-color="#47ff00"/><stop offset="0.708" stop-color="#31ff00"/><stop offset="0.75" stop-color="#15ff00"/><stop offset="0.792" stop-color="#00ff0d"/><stop offset="0.833" stop-color="#00ff35"/><stop offset="0.875" stop-color="#00ff62"/><stop offset="0.917" stop-color="#00ff95"/><stop offset="0.958" stop-color="#00ffce"/><stop offset="1" stop-color="#00f1ff"/></linearGradient><linearGradient id="pag31" gradientUnits="userSpaceOnUse" x1="150" x2="672" y1="0" y2="0"><stop offset="0" stop-color="#008fff"/><stop offset="0.0417" stop-color="#00d5ff"/><stop offset="0.0833" stop-color="#00ffe8"/><stop offset="0.125" stop-color="#00ffae"/><stop offset="0.167" stop-color="#00ff79"/><stop offset="0.208" stop-color="#00ff4a"/><stop offset="0.25" stop-color="#00ff21"/><stop offset="0.292" stop-color="#03ff00"/><stop offset="0.333" stop-color="#20ff00"/><stop offset="0.375" stop-color="#38ff00"/><stop offset="0.417" stop-color="#4aff00"/><stop offset="0.458" stop-color="#57ff00"/><stop offset="0.5" stop-color="#5dff00"/><stop offset="0.542" stop-color="#5eff00"/><stop offset="0.583" stop-color="#59ff00"/><stop offset="0.625" stop-color="#4eff00"/><stop offset="0.667" stop-color="#3eff00"/><stop offset="0.708" stop-color="#28ff00"/><stop offset="0.75" stop-color="#0cff00"/><stop offset="0.792" stop-color="#00ff16"/><stop offset="0.833" stop-color="#00ff3e"/><stop offset="0.875" stop-color="#00ff6b"/><stop offset="0.917" stop-color="#00ff9e"/><stop offset="0.958" stop-color="#00ffd7"/><stop offset="1" stop-color="#00e8ff"/></linearGradient><linearGradient id="pag32" gradientUnits="userSpaceOnUse" x1="150" x2="672" y1="0" y2="0"><stop offset="0" stop-color="#0087ff"/><stop offset="0.0417" stop-color="#00cdff"/><stop offset="0.0833" stop-color="#00fff1"/><stop offset="0.125" stop-color="#00ffb6"/><stop offset="0.167" stop-color="#00ff81"/><stop offset="0.208" stop-color="#00ff53"/><stop offset="0.25" stop-color="#00ff29"/><stop offset="0.292" stop-color="#00ff06"/><stop offset="0.333" stop-color="#18ff00"/><stop offset="0.375" stop-color="#30ff00"/><stop offset="0.417" stop-color="#42ff00"/><stop offset="0.458" stop-color="#4eff00"/><stop offset="0.5" stop-color="#55ff00"/><stop offset="0.542" stop-color="#55ff00"/><stop offset="0.583" stop-color="#50ff00"/><stop offset="0.625" stop-color="#46ff00"/><stop offset="0.667" stop-color="#35ff00"/><stop offset="0.708" stop-color="#1fff00"/><stop offset="0.75" stop-color="#03ff00"/><stop offset="0.792" stop-color="#00ff1f"/><stop offset="0.833" stop-color="#00ff47"/><stop offset="0.875" stop-color="#00ff74"/><stop offset="0.917" stop-color="#00ffa7"/><stop offset="0.958" stop-color="#00ffe0"/><stop offset="1" stop-color="#00dfff"/></linearGradient><linearGradient id="pag33" gradientUnits="userSpaceOnUse" x1="150" x2="672" y1="0" y2="0"><stop offset="0" stop-color="#007fff"/><stop offset="0.0417" stop-color="#00c5ff"/><stop offset="0.0833" stop-color="#00fff9"/><stop offset="0.125" stop-color="#00ffbf"/><stop offset="0.167" stop-color="#00ff8a"/><stop offset="0.208" stop-color="#00ff5b"/><stop offset="0.25" stop-color="#00ff32"/><stop offset="0.292" stop-color="#00ff0e"/><stop offset="0.333" stop-color="#0fff00"/><stop offset="0.375" stop-color="#27ff00"/><stop offset="0.417" stop-color="#39ff00"/><stop offset="0.458" stop-color="#45ff00"/><stop offset="0.5" stop-color="#4cff00"/><stop offset="0.542" stop-color="#4dff00"/><stop offset="0.583" stop-color="#48ff00"/><stop offset="0.625" stop-color="#3dff00"/><stop offset="0.667" stop-color="#2cff00"/><stop offset="0.708" stop-color="#16ff00"/><stop offset="0.75" stop-color="#00ff06"/><stop offset="0.792" stop-color="#00ff28"/><stop offset="0.833" stop-color="#00ff4f"/><stop offset="0.875" stop-color="#00ff7d"/><stop offset="0.917" stop-color="#00ffb0"/><stop offset="0.958" stop-color="#00ffe9"/><stop offset="1" stop-color="#00d6ff"/></linearGradient><linearGradient id="pag34" gradientUnits="userSpaceOnUse" x1="150" x2="672" y1="0" y2="0"><stop offset="0" stop-color="#0077ff"/><stop offset="0.0417" stop-color="#00bdff"/><stop offset="0.0833" stop-color="#00fdff"/><stop offset="0.125" stop-color="#00ffc7"/><stop offset="0.167" stop-color="#00ff92"/><stop offset="0.208" stop-color="#00ff63"/><stop offset="0.25" stop-color="#00ff3a"/><stop offset="0.292" stop-color="#00ff17"/><stop offset="0.333" stop-color="#07ff00"/><stop offset="0.375" stop-color="#1fff00"/><stop offset="0.417" stop-color="#31ff00"/><stop offset="0.458" stop-color="#3dff00"/><stop offset="0.5" stop-color="#44ff00"/><stop offset="0.542" stop-color="#44ff00"/><stop offset="0.583" stop-color="#3fff00"/><stop offset="0.625" stop-color="#34ff00"/><stop offset="0.667" stop-color="#24ff00"/><stop offset="0.708" stop-color="#0eff00"/><stop offset="0.75" stop-color="#00ff0f"/><stop offset="0.792" stop-color="#00ff30"/><stop offset="0.833" stop-color="#00ff58"/><stop offset="0.875" stop-color="#00ff86"/><stop offset="0.917" stop-color="#00ffb9"/><stop offset="0.958" stop-color="#00fff2"/><stop offset="1" stop-color="#00ceff"/></linearGradient><linearGradient id="pag35" gradientUnits="userSpaceOnUse" x1="150" x2="672" y1="0" y2="0"><stop offset="0" stop-color="#006fff"/><stop offset="0.0417" stop-color="#00b5ff"/><stop offset="0.0833" stop-color="#00f5ff"/><stop offset="0.125" stop-color="#00ffcf"/><stop offset="0.167" stop-color="#00ff9a"/><stop offset="0.208" stop-color="#00ff6b"/><stop offset="0.25" stop-color="#00ff42"/><stop offset="0.292" stop-color="#00ff1f"/><stop offset="0.333" stop-color="#00ff01"/><stop offset="0.375" stop-color="#16ff00"/><stop offset="0.417" stop-color="#28ff00"/><stop offset="0.458" stop-color="#35ff00"/><stop offset="0.5" stop-color="#3bff00"/><stop offset="0.542" stop-color="#3cff00"/><stop offset="0.583" stop-color="#37ff00"/><stop offset="0.625" stop-color="#2cff00"/><stop offset="0.667" stop-color="#1bff00"/><stop offset="0.708" stop-color="#05ff00"/><stop offset="0.75" stop-color="#00ff17"/><stop offset="0.792" stop-color="#00ff39"/><stop offset="0.833" stop-color="#00ff61"/><stop offset="0.875" stop-color="#00ff8e"/><stop offset="0.917" stop-color="#00ffc1"/><stop offset="0.958" stop-color="#00fffa"/><stop offset="1" stop-color="#00c5ff"/></linearGradient><linearGradient id="pag36" gradientUnits="userSpaceOnUse" x1="150" x2="672" y1="0" y2="0"><stop offset="0" stop-color="#0067ff"/><stop offset="0.0417" stop-color="#00adff"/><stop offset="0.0833" stop-color="#00edff"/><stop offset="0.125" stop-color="#00ffd7"/><stop offset="0.167" stop-color="#00ffa2"/><stop offset="0.208" stop-color="#00ff73"/><stop offset="0.25" stop-color="#00ff4a"/><stop offset="0.292" stop-color="#00ff27"/><stop offset="0.333" stop-color="#00ff0a"/><stop offset="0.375" stop-color="#0eff00"/><stop offset="0.417" stop-color="#20ff00"/><stop offset="0.458" stop-color="#2cff00"/><stop offset="0.5" stop-color="#33ff00"/><stop offset="0.542" stop-color="#34ff00"/><stop offset="0.583" stop-color="#2fff00"/><stop offset="0.625" stop-color="#24ff00"/><stop offset="0.667" stop-color="#13ff00"/><stop offset="0.708" stop-color="#00ff03"/><stop offset="0.75" stop-color="#00ff1f"/><stop offset="0.792" stop-color="#00ff41"/><stop offset="0.833" stop-color="#00ff69"/><stop offset="0.875" stop-color="#00ff97"/><stop offset="0.917" stop-color="#00ffca"/><stop offset="0.958" stop-color="#00fbff"/><stop offset="1" stop-color="#00bcff"/></linearGradient><linearGradient id="pag37" gradientUnits="userSpaceOnUse" x1="150" x2="672" y1="0" y2="0"><stop offset="0" stop-color="#005fff"/><stop offset="0.0417" stop-color="#00a5ff"/><stop offset="0.0833" stop-color="#00e5ff"/><stop offset="0.125" stop-color="#00ffdf"/><stop offset="0.167" stop-color="#00ffaa"/><stop offset="0.208" stop-color="#00ff7b"/><stop offset="0.25" stop-color="#00ff52"/><stop offset="0.292" stop-color="#00ff2f"/><stop offset="0.333" stop-color="#00ff12"/><stop offset="0.375" stop-color="#06ff00"/><stop offset="0.417" stop-color="#18ff00"/><stop offset="0.458" stop-color="#24ff00"/><stop offset="0.5" stop-color="#2bff00"/><stop offset="0.542" stop-color="#2bff00"/><stop offset="0.583" stop-color="#26ff00"/><stop offset="0.625" stop-color="#1bff00"/><stop offset="0.667" stop-color="#0bff00"/><stop offset="0.708" stop-color="#00ff0c"/><stop offset="0.75" stop-color="#00ff28"/><stop offset="0.792" stop-color="#00ff4a"/><stop offset="0.833" stop-color="#00ff71"/><stop offset="0.875" stop-color="#00ff9f"/><stop offset="0.917" stop-color="#00ffd2"/><stop offset="0.958" stop-color="#00f3ff"/><stop offset="1" stop-color="#00b4ff"/></linearGradient><linearGradient id="pag38" gradientUnits="userSpaceOnUse" x1="150" x2="672" y1="0" y2="0"><stop offset="0" stop-color="#0057ff"/><stop offset="0.0417" stop-color="#009dff"/><stop offset="0.0833" stop-color="#00ddff"/><stop offset="0.125" stop-color="#00ffe7"/><stop offset="0.167" stop-color="#00ffb2"/><stop offset="0.208" stop-color="#00ff83"/><stop offset="0.25" stop-color="#00ff5a"/><stop offset="0.292" stop-color="#00ff37"/><stop offset="0.333" stop-color="#00ff19"/><stop offset="0.375" stop-color="#00ff02"/><stop offset="0.417" stop-color="#10ff00"/><stop offset="0.458" stop-color="#1cff00"/><stop offset="0.5" stop-color="#23ff00"/><stop offset="0.542" stop-color="#23ff00"/><stop offset="0.583" stop-color="#1eff00"/><stop offset="0.625" stop-color="#13ff00"/><stop offset="0.667" stop-color="#03ff00"/><stop offset="0.708" stop-color="#00ff14"/><stop offset="0.75" stop-color="#00ff30"/><stop offset="0.792" stop-color="#00ff52"/><stop offset="0.833" stop-color="#00ff7a"/><stop offset="0.875" stop-color="#00ffa7"/><stop offset="0.917" stop-color="#00ffdb"/><stop offset="0.958" stop-color="#00eaff"/><stop offset="1" stop-color="#00acff"/></linearGradient><linearGradient id="pag39" gradientUnits="userSpaceOnUse" x1="150" x2="672" y1="0" y2="0"><stop offset="0" stop-color="#004fff"/><stop offset="0.0417" stop-color="#0095ff"/><stop offset="0.0833" stop-color="#00d5ff"/><stop offset="0.125" stop-color="#00ffee"/><stop offset="0.167" stop-color="#00ffba"/><stop offset="0.208" stop-color="#00ff8b"/><stop offset="0.25" stop-color="#00ff62"/><stop offset="0.292" stop-color="#00ff3f"/><stop offset="0.333" stop-color="#00ff21"/><stop offset="0.375" stop-color="#00ff0a"/><stop offset="0.417" stop-color="#08ff00"/><stop offset="0.458" stop-color="#14ff00"/><stop offset="0.5" stop-color="#1bff00"/><stop offset="0.542" stop-color="#1bff00"/><stop offset="0.583" stop-color="#16ff00"/><stop offset="0.625" stop-color="#0bff00"/><stop offset="0.667" stop-color="#00ff05"/><stop offset="0.708" stop-color="#00ff1c"/><stop offset="0.75" stop-color="#00ff38"/><stop offset="0.792" stop-color="#00ff5a"/><stop offset="0.833" stop-color="#00ff82"/><stop offset="0.875" stop-color="#00ffaf"/><stop offset="0.917" stop-color="#00ffe3"/><stop offset="0.958" stop-color="#00e2ff"/><stop offset="1" stop-color="#00a3ff"/></linearGradient><linearGradient id="pag40" gradientUnits="userSpaceOnUse" x1="150" x2="672" y1="0" y2="0"><stop offset="0" stop-color="#0048ff"/><stop offset="0.0417" stop-color="#008eff"/><stop offset="0.0833" stop-color="#00ceff"/><stop offset="0.125" stop-color="#00fff6"/><stop offset="0.167" stop-color="#00ffc1"/><stop offset="0.208" stop-color="#00ff93"/><stop offset="0.25" stop-color="#00ff6a"/><stop offset="0.292" stop-color="#00ff46"/><stop offset="0.333" stop-color="#00ff29"/><stop offset="0.375" stop-color="#00ff11"/><stop offset="0.417" stop-color="#01ff00"/><stop offset="0.458" stop-color="#0dff00"/><stop offset="0.5" stop-color="#13ff00"/><stop offset="0.542" stop-color="#14ff00"/><stop offset="0.583" stop-color="#0eff00"/><stop offset="0.625" stop-color="#03ff00"/><stop offset="0.667" stop-color="#00ff0d"/><stop offset="0.708" stop-color="#00ff24"/><stop offset="0.75" stop-color="#00ff40"/><stop offset="0.792" stop-color="#00ff62"/><stop offset="0.833" stop-color="#00ff8a"/><stop offset="0.875" stop-color="#00ffb7"/><stop offset="0.917" stop-color="#00ffeb"/><stop offset="0.958" stop-color="#00daff"/><stop offset="1" stop-color="#009bff"/></linearGradient><linearGradient id="pag41" gradientUnits="userSpaceOnUse" x1="150" x2="672" y1="0" y2="0"><stop offset="0" stop-color="#0041ff"/><stop offset="0.0417" stop-color="#0086ff"/><stop offset="0.0833" stop-color="#00c6ff"/><stop offset="0.125" stop-color="#00fffd"/><stop offset="0.167" stop-color="#00ffc9"/><stop offset="0.208" stop-color="#00ff9a"/><stop offset="0.25" stop-color="#00ff71"/><stop offset="0.292" stop-color="#00ff4e"/><stop offset="0.333" stop-color="#00ff31"/><stop offset="0.375" stop-color="#00ff19"/><stop offset="0.417" stop-color="#00ff07"/><stop offset="0.458" stop-color="#05ff00"/><stop offset="0.5" stop-color="#0bff00"/><stop offset="0.542" stop-color="#0cff00"/><stop offset="0.583" stop-color="#07ff00"/><stop offset="0.625" stop-color="#00ff04"/><stop offset="0.667" stop-color="#00ff15"/><stop offset="0.708" stop-color="#00ff2c"/><stop offset="0.75" stop-color="#00ff48"/><stop offset="0.792" stop-color="#00ff6a"/><stop offset="0.833" stop-color="#00ff92"/><stop offset="0.875" stop-color="#00ffbf"/><stop offset="0.917" stop-color="#00fff3"/><stop offset="0.958" stop-color="#00d2ff"/><stop offset="1" stop-color="#0093ff"/></linearGradient><linearGradient id="pag42" gradientUnits="userSpaceOnUse" x1="150" x2="672" y1="0" y2="0"><stop offset="0" stop-color="#0039ff"/><stop offset="0.0417" stop-color="#007fff"/><stop offset="0.0833" stop-color="#00bfff"/><stop offset="0.125" stop-color="#00f9ff"/><stop offset="0.167" stop-color="#00ffd0"/><stop offset="0.208" stop-color="#00ffa2"/><stop offset="0.25" stop-color="#00ff79"/><stop offset="0.292" stop-color="#00ff55"/><stop offset="0.333" stop-color="#00ff38"/><stop offset="0.375" stop-color="#00ff20"/><stop offset="0.417" stop-color="#00ff0f"/><stop offset="0.458" stop-color="#00ff03"/><stop offset="0.5" stop-color="#04ff00"/><stop offset="0.542" stop-color="#04ff00"/><stop offset="0.583" stop-color="#00ff01"/><stop offset="0.625" stop-color="#00ff0c"/><stop offset="0.667" stop-color="#00ff1d"/><stop offset="0.708" stop-color="#00ff33"/><stop offset="0.75" stop-color="#00ff50"/><stop offset="0.792" stop-color="#00ff72"/><stop offset="0.833" stop-color="#00ff9a"/><stop offset="0.875" stop-color="#00ffc7"/><stop offset="0.917" stop-color="#00fffb"/><stop offset="0.958" stop-color="#00caff"/><stop offset="1" stop-color="#008bff"/></linearGradient><linearGradient id="pag43" gradientUnits="userSpaceOnUse" x1="150" x2="672" y1="0" y2="0"><stop offset="0" stop-color="#0032ff"/><stop offset="0.0417" stop-color="#0078ff"/><stop offset="0.0833" stop-color="#00b8ff"/><stop offset="0.125" stop-color="#00f2ff"/><stop offset="0.167" stop-color="#00ffd8"/><stop offset="0.208" stop-color="#00ffa9"/><stop offset="0.25" stop-color="#00ff80"/><stop offset="0.292" stop-color="#00ff5d"/><stop offset="0.333" stop-color="#00ff3f"/><stop offset="0.375" stop-color="#00ff28"/><stop offset="0.417" stop-color="#00ff16"/><stop offset="0.458" stop-color="#00ff0a"/><stop offset="0.5" stop-color="#00ff04"/><stop offset="0.542" stop-color="#00ff03"/><stop offset="0.583" stop-color="#00ff09"/><stop offset="0.625" stop-color="#00ff14"/><stop offset="0.667" stop-color="#00ff24"/><stop offset="0.708" stop-color="#00ff3b"/><stop offset="0.75" stop-color="#00ff57"/><stop offset="0.792" stop-color="#00ff79"/><stop offset="0.833" stop-color="#00ffa1"/><stop offset="0.875" stop-color="#00ffcf"/><stop offset="0.917" stop-color="#00fcff"/><stop offset="0.958" stop-color="#00c2ff"/><stop offset="1" stop-color="#0084ff"/></linearGradient><linearGradient id="pag44" gradientUnits="userSpaceOnUse" x1="150" x2="672" y1="0" y2="0"><stop offset="0" stop-color="#002bff"/><stop offset="0.0417" stop-color="#0071ff"/><stop offset="0.0833" stop-color="#00b1ff"/><stop offset="0.125" stop-color="#00ebff"/><stop offset="0.167" stop-color="#00ffdf"/><stop offset="0.208" stop-color="#00ffb0"/><stop offset="0.25" stop-color="#00ff87"/><stop offset="0.292" stop-color="#00ff64"/><stop offset="0.333" stop-color="#00ff47"/><stop offset="0.375" stop-color="#00ff2f"/><stop offset="0.417" stop-color="#00ff1d"/><stop offset="0.458" stop-color="#00ff11"/><stop offset="0.5" stop-color="#00ff0b"/><stop offset="0.542" stop-color="#00ff0b"/><stop offset="0.583" stop-color="#00ff10"/><stop offset="0.625" stop-color="#00ff1b"/><stop offset="0.667" stop-color="#00ff2c"/><stop offset="0.708" stop-color="#00ff42"/><stop offset="0.75" stop-color="#00ff5f"/><stop offset="0.792" stop-color="#00ff81"/><stop offset="0.833" stop-color="#00ffa9"/><stop offset="0.875" stop-color="#00ffd7"/><stop offset="0.917" stop-color="#00f4ff"/><stop offset="0.958" stop-color="#00bbff"/><stop offset="1" stop-color="#007cff"/></linearGradient><linearGradient id="pag45" gradientUnits="userSpaceOnUse" x1="150" x2="672" y1="0" y2="0"><stop offset="0" stop-color="#0024ff"/><stop offset="0.0417" stop-color="#006aff"/><stop offset="0.0833" stop-color="#00aaff"/><stop offset="0.125" stop-color="#00e4ff"/><stop offset="0.167" stop-color="#00ffe6"/><stop offset="0.208" stop-color="#00ffb7"/><stop offset="0.25" stop-color="#00ff8e"/><stop offset="0.292" stop-color="#00ff6b"/><stop offset="0.333" stop-color="#00ff4e"/><stop offset="0.375" stop-color="#00ff36"/><stop offset="0.417" stop-color="#00ff25"/><stop offset="0.458" stop-color="#00ff19"/><stop offset="0.5" stop-color="#00ff12"/><stop offset="0.542" stop-color="#00ff12"/><stop offset="0.583" stop-color="#00ff17"/><stop offset="0.625" stop-color="#00ff22"/><stop offset="0.667" stop-color="#00ff33"/><stop offset="0.708" stop-color="#00ff4a"/><stop offset="0.75" stop-color="#00ff66"/><stop offset="0.792" stop-color="#00ff88"/><stop offset="0.833" stop-color="#00ffb0"/><stop offset="0.875" stop-color="#00ffde"/><stop offset="0.917" stop-color="#00edff"/><stop offset="0.958" stop-color="#00b3ff"/><stop offset="1" stop-color="#0074ff"/></linearGradient><linearGradient id="pag46" gradientUnits="userSpaceOnUse" x1="150" x2="672" y1="0" y2="0"><stop offset="0" stop-color="#001dff"/><stop offset="0.0417" stop-color="#0063ff"/><stop offset="0.0833" stop-color="#00a3ff"/><stop offset="0.125" stop-color="#00ddff"/><stop offset="0.167" stop-color="#00ffed"/><stop offset="0.208" stop-color="#00ffbe"/><stop offset="0.25" stop-color="#00ff95"/><stop offset="0.292" stop-color="#00ff72"/><stop offset="0.333" stop-color="#00ff55"/><stop offset="0.375" stop-color="#00ff3d"/><stop offset="0.417" stop-color="#00ff2c"/><stop offset="0.458" stop-color="#00ff20"/><stop offset="0.5" stop-color="#00ff1a"/><stop offset="0.542" stop-color="#00ff19"/><stop offset="0.583" stop-color="#00ff1e"/><stop offset="0.625" stop-color="#00ff2a"/><stop offset="0.667" stop-color="#00ff3a"/><stop offset="0.708" stop-color="#00ff51"/><stop offset="0.75" stop-color="#00ff6e"/><stop offset="0.792" stop-color="#00ff90"/><stop offset="0.833" stop-color="#00ffb8"/><stop offset="0.875" stop-color="#00ffe5"/><stop offset="0.917" stop-color="#00e5ff"/><stop offset="0.958" stop-color="#00acff"/><stop offset="1" stop-color="#006dff"/></linearGradient><linearGradient id="pag47" gradientUnits="userSpaceOnUse" x1="150" x2="672" y1="0" y2="0"><stop offset="0" stop-color="#0017ff"/><stop offset="0.0417" stop-color="#005cff"/><stop offset="0.0833" stop-color="#009cff"/><stop offset="0.125" stop-color="#00d6ff"/><stop offset="0.167" stop-color="#00fff4"/><stop offset="0.208" stop-color="#00ffc5"/><stop offset="0.25" stop-color="#00ff9c"/><stop offset="0.292" stop-color="#00ff79"/><stop offset="0.333" stop-color="#00ff5c"/><stop offset="0.375" stop-color="#00ff44"/><stop offset="0.417" stop-color="#00ff33"/><stop offset="0.458" stop-color="#00ff27"/><stop offset="0.5" stop-color="#00ff21"/><stop offset="0.542" stop-color="#00ff20"/><stop offset="0.583" stop-color="#00ff26"/><stop offset="0.625" stop-color="#00ff31"/><stop offset="0.667" stop-color="#00ff42"/><stop offset="0.708" stop-color="#00ff58"/><stop offset="0.75" stop-color="#00ff75"/><stop offset="0.792" stop-color="#00ff97"/><stop offset="0.833" stop-color="#00ffbf"/><stop offset="0.875" stop-color="#00ffed"/><stop offset="0.917" stop-color="#00deff"/><stop offset="0.958" stop-color="#00a5ff"/><stop offset="1" stop-color="#0065ff"/></linearGradient><clipPath id="pac"><rect x="150" y="41.5" width="522" height="384"/></clipPath><filter id="paf" filterUnits="userSpaceOnUse" x="136" y="27.5" width="550" height="412"><feGaussianBlur stdDeviation="0 4.40"/></filter></defs>
<g id="pa" clip-path="url(#pac)"><g filter="url(#paf)"><rect x="136" y="27.50" width="550" height="22.60" fill="url(#pag0)"/><rect x="136" y="49.50" width="550" height="8.60" fill="url(#pag1)"/><rect x="136" y="57.50" width="550" height="8.60" fill="url(#pag2)"/><rect x="136" y="65.50" width="550" height="8.60" fill="url(#pag3)"/><rect x="136" y="73.50" width="550" height="8.60" fill="url(#pag4)"/><rect x="136" y="81.50" width="550" height="8.60" fill="url(#pag5)"/><rect x="136" y="89.50" width="550" height="8.60" fill="url(#pag6)"/><rect x="136" y="97.50" width="550" height="8.60" fill="url(#pag7)"/><rect x="136" y="105.50" width="550" height="8.60" fill="url(#pag8)"/><rect x="136" y="113.50" width="550" height="8.60" fill="url(#pag9)"/><rect x="136" y="121.50" width="550" height="8.60" fill="url(#pag10)"/><rect x="136" y="129.50" width="550" height="8.60" fill="url(#pag11)"/><rect x="136" y="137.50" width="550" height="8.60" fill="url(#pag12)"/><rect x="136" y="145.50" width="550" height="8.60" fill="url(#pag13)"/><rect x="136" y="153.50" width="550" height="8.60" fill="url(#pag14)"/><rect x="136" y="161.50" width="550" height="8.60" fill="url(#pag15)"/><rect x="136" y="169.50" width="550" height="8.60" fill="url(#pag16)"/><rect x="136" y="177.50" width="550" height="8.60" fill="url(#pag17)"/><rect x="136" y="185.50" width="550" height="8.60" fill="url(#pag18)"/><rect x="136" y="193.50" width="550" height="8.60" fill="url(#pag19)"/><rect x="136" y="201.50" width="550" height="8.60" fill="url(#pag20)"/><rect x="136" y="209.50" width="550" height="8.60" fill="url(#pag21)"/><rect x="136" y="217.50" width="550" height="8.60" fill="url(#pag22)"/><rect x="136" y="225.50" width="550" height="8.60" fill="url(#pag23)"/><rect x="136" y="233.50" width="550" height="8.60" fill="url(#pag24)"/><rect x="136" y="241.50" width="550" height="8.60" fill="url(#pag25)"/><rect x="136" y="249.50" width="550" height="8.60" fill="url(#pag26)"/><rect x="136" y="257.50" width="550" height="8.60" fill="url(#pag27)"/><rect x="136" y="265.50" width="550" height="8.60" fill="url(#pag28)"/><rect x="136" y="273.50" width="550" height="8.60" fill="url(#pag29)"/><rect x="136" y="281.50" width="550" height="8.60" fill="url(#pag30)"/><rect x="136" y="289.50" width="550" height="8.60" fill="url(#pag31)"/><rect x="136" y="297.50" width="550" height="8.60" fill="url(#pag32)"/><rect x="136" y="305.50" width="550" height="8.60" fill="url(#pag33)"/><rect x="136" y="313.50" width="550" height="8.60" fill="url(#pag34)"/><rect x="136" y="321.50" width="550" height="8.60" fill="url(#pag35)"/><rect x="136" y="329.50" width="550" height="8.60" fill="url(#pag36)"/><rect x="136" y="337.50" width="550" height="8.60" fill="url(#pag37)"/><rect x="136" y="345.50" width="550" height="8.60" fill="url(#pag38)"/><rect x="136" y="353.50" width="550" height="8.60" fill="url(#pag39)"/><rect x="136" y="361.50" width="550" height="8.60" fill="url(#pag40)"/><rect x="136" y="369.50" width="550" height="8.60" fill="url(#pag41)"/><rect x="136" y="377.50" width="550" height="8.60" fill="url(#pag42)"/><rect x="136" y="385.50" width="550" height="8.60" fill="url(#pag43)"/><rect x="136" y="393.50" width="550" height="8.60" fill="url(#pag44)"/><rect x="136" y="401.50" width="550" height="8.60" fill="url(#pag45)"/><rect x="136" y="409.50" width="550" height="8.60" fill="url(#pag46)"/><rect x="136" y="417.50" width="550" height="22.60" fill="url(#pag47)"/></g></g>
<path d="M205.5 425.5 204 420.7 202.2 415 200.4 409.5 198.9 404.7 197.4 399.9 195.7 394.5 193.8 388.7 192.3 383.9 190.7 379.1 189.2 374.2 187.1 367.9 185.6 363.1 184 358.3 182.5 353.5 180.5 347.3 178.8 342.3 177.3 337.5 175.7 332.7 173.9 327.2 172 321.5 170.5 316.7 168.9 311.9 167.3 307.1 165.2 300.8 163.6 295.9 162 291.1 160.5 286.3 158.7 281 156.7 275.1 155.1 270.3 153.6 265.5 152 260.7 150 254.8" fill="none" stroke="#1a1a1a" stroke-width="1" stroke-opacity=".85"/>
<path d="M641.2 425.5 642.8 420.7 644.5 415.9 646.1 411.1 648.1 405.3 649.9 399.9 651.6 395.1 653.2 390.3 654.9 385.5 656.8 380 658.7 374.3 660.4 369.5 662.1 364.7 663.7 359.9 665.5 354.9 667.6 348.7 669.3 343.9 671 339.1 672 336.3" fill="none" stroke="#1a1a1a" stroke-width="1" stroke-opacity=".85"/>
<path d="M292.8 425.5 290.2 420.7 287.7 415.9 285.2 411.1 282.8 406.3 280.5 401.9 278.3 397.6 276.1 393.3 273.9 388.7 271.5 383.9 269.1 379.1 266.8 374.3 264.5 369.5 262.1 364.7 259.8 359.9 257.6 355.1 255.3 350.3 253 345.5 250.8 340.7 248.6 335.9 246.3 331.1 244.1 326.3 241.9 321.5 239.7 316.7 237.5 311.9 235.4 307.1 233.2 302.3 231.1 297.5 228.9 292.7 226.8 287.9 224.6 283.1 222.5 278.3 220.4 273.5 218.3 268.7 216.2 263.9 214.1 259.1 212 254.3 209.9 249.5 207.9 244.7 205.8 239.9 203.7 235.1 201.7 230.3 199.6 225.5 197.6 220.7 195.5 215.9 193.5 211.1 191.3 206 189.2 200.8 187 195.7 184.8 190.5 182.7 185.5 180.7 180.7 178.7 175.9 176.7 171.1 174.7 166.3 172.7 161.5 170.7 156.7 168.7 151.9 166.8 147.1 164.8 142.3 162.8 137.5 160.8 132.7 158.7 127.5 156.5 122.2 154.4 116.8 152.3 111.9 150.4 107.1 150 106.2" fill="none" stroke="#1a1a1a" stroke-width="1" stroke-opacity=".85"/>
<path d="M553.9 425.5 556.6 420.7 558.9 416.5 561.1 412.5 563.6 407.9 566.1 403.1 568.7 398.3 571.2 393.5 573.7 388.7 576.2 383.9 578.5 379.5 580.6 375.3 582.8 371 585.2 366.3 587.6 361.5 590 356.7 592.4 351.9 594.8 347.1 597.2 342.3 599.5 337.5 601.9 332.7 604.2 327.9 606.5 323.1 608.9 318.3 611.1 313.6 613.3 309.1 615.4 304.5 617.6 299.9 619.8 295.3 622 290.7 624.2 286 626.3 281.4 628.5 276.7 630.7 271.9 633 267.1 635.2 262.3 637.4 257.5 639.6 252.7 641.8 247.9 644 243.1 646.2 238.3 648.3 233.5 650.5 228.7 652.7 223.9 654.8 219.1 657 214.3 659.1 209.5 661.3 204.7 663.4 199.9 665.6 195.1 667.7 190.3 669.8 185.5 672 180.6" fill="none" stroke="#1a1a1a" stroke-width="1" stroke-opacity=".85"/>
<path d="M672 51.3 669.6 55.9 667.1 60.7 664.6 65.5 662.1 70.3 659.5 75.1 657 79.9 654.6 84.3 652.4 88.4 650.1 92.7 647.5 97.5 644.9 102.3 642.2 107.1 639.6 111.9 637.2 116.1 635 120 632.4 124.7 629.7 129.5 626.9 134.3 624.2 139.1 622 142.9 619.5 147.1 616.7 151.9 613.9 156.7 611.1 161.4 608.9 165 606.2 169.5 603.3 174.3 600.3 179.1 598.1 182.7 595.3 187.1 592.2 191.9 589.3 196.4 587.1 199.9 583.9 204.7 580.7 209.5 578.5 212.9 575.3 217.5 572 222.3 569.8 225.5 566.4 230.3 563.2 234.7 560.6 238.3 557.1 243.1 554.5 246.4 551 251.1 548 254.9 544.6 259.1 541.5 263 538.1 267.1 535 270.7 531.2 275.1 528.3 278.3 524.1 282.9 520.9 286.3 517.6 289.7 513.2 294 509.6 297.5 506.1 300.7 502.4 304 498 307.7 493.7 311.2 489.3 314.5 484.9 317.6 480.6 320.5 476.2 323.3 470.9 326.3 465.4 329.1 461 331.1 454.5 333.7 448 335.7 441.5 337.3 434.9 338.4 426.2 339 417.5 338.8 408.8 337.6 402.3 336.1 396.3 334.3 391.4 332.5 384.9 329.7 380.5 327.6 375.4 324.7 370.1 321.5 365.3 318.3 361 315.2 356.7 311.9 352.7 308.7 349 305.5 345.4 302.3 341.4 298.6 337.1 294.4 333.8 291.1 330.5 287.7 326.3 283.1 323.4 279.9 319.6 275.6 316.5 271.9 313.1 267.9 309.9 263.9 306.6 259.7 303.6 255.9 300.1 251.2 297.6 247.9 294.1 243.1 291.4 239.3 288.4 235.1 285 230.3 282.7 226.8 279.6 222.3 276.4 217.5 274 213.8 271.2 209.5 268.1 204.7 265.3 200.2 263.1 196.7 260.1 191.9 257.2 187.1 254.4 182.5 252.2 178.8 249.5 174.3 246.7 169.5 243.9 164.7 241.3 160.2 239.2 156.4 236.6 151.9 233.9 147.1 231.2 142.3 228.6 137.5 226.1 133 223.9 129 221.6 124.7 219 119.9 216.5 115.1 213.9 110.3 211.4 105.5 208.9 100.7 206.6 96.3 204.4 92.1 202.2 87.9 199.8 83.1 197.3 78.3 194.9 73.5 192.4 68.7 190 63.9 187.6 59.1 185.2 54.3 182.9 49.5 180.5 44.7 178.9 41.5" fill="none" stroke="#1a1a1a" stroke-width="1" stroke-opacity=".85"/>
<path d="M250.2 41.5 253.5 46.3 256.6 50.6 259.2 54.3 262.7 59.1 265.3 62.6 268.6 67.1 271.8 71.3 274.7 75.1 278.3 79.7 281 83.1 284.9 87.8 287.6 91.1 291.4 95.6 294.4 99.1 297.9 103.1 301.5 107.1 304.4 110.3 308.8 114.9 312 118.3 315.3 121.6 319.6 125.8 323.5 129.5 327.1 132.7 330.7 135.9 334.9 139.5 339.2 143 343.6 146.4 347.9 149.6 352.3 152.7 356.6 155.6 361 158.3 366.4 161.5 371.9 164.4 376.2 166.5 382.7 169.4 387.1 171.1 393.6 173.3 400.1 175.1 406.6 176.5 413.2 177.6 421.9 178.3 430.6 178.3 439.3 177.6 445.8 176.6 452.3 175.2 458.8 173.4 465.4 171.3 470 169.5 476.2 166.8 480.6 164.7 486.7 161.5 491.5 158.8 495.8 156.1 500.2 153.3 504.5 150.3 509 147.1 513.2 143.9 517.6 140.4 521.9 136.9 526.3 133.1 530.3 129.5 533.8 126.3 537.2 123.1 541.5 118.9 545.3 115.1 548.4 111.9 552.4 107.7 555.9 103.9 558.9 100.6 563.1 95.9 565.9 92.7 569.8 88.2 572.7 84.7 576.3 80.3 579.2 76.7 582.8 72.2 585.6 68.7 589.3 63.9 591.7 60.7 595.3 55.9 598.1 52.2 601.2 47.9 604.6 43.3 605.9 41.5" fill="none" stroke="#1a1a1a" stroke-width="1" stroke-opacity=".85"/>
<path d="M393.1 41.5 399.4 43.1 406.6 44.6 413.2 45.5 421.9 46.2 428.4 46.4 434.9 46.2 443.6 45.4 450.1 44.4 456.7 43.1 462.9 41.5" fill="none" stroke="#1a1a1a" stroke-width="1" stroke-opacity=".85"/>
<rect x="150" y="41.5" width="522" height="384" fill="none" stroke="#333" stroke-width="1"/>
<text x="150" y="466" font-size="27.5" text-anchor="middle" fill="#000">25.00</text>
<text x="254.4" y="466" font-size="27.5" text-anchor="middle" fill="#000">27.00</text>
<text x="358.8" y="466" font-size="27.5" text-anchor="middle" fill="#000">29.00</text>
<text x="463.2" y="466" font-size="27.5" text-anchor="middle" fill="#000">31.00</text>
<text x="567.6" y="466" font-size="27.5" text-anchor="middle" fill="#000">33.00</text>
<text x="672" y="466" font-size="27.5" text-anchor="middle" fill="#000">35.00</text>
<text x="130" y="432.5" font-size="27.5" text-anchor="end" fill="#000">7.00</text>
<text x="130" y="355.7" font-size="27.5" text-anchor="end" fill="#000">7.20</text>
<text x="130" y="278.9" font-size="27.5" text-anchor="end" fill="#000">7.40</text>
<text x="130" y="202.1" font-size="27.5" text-anchor="end" fill="#000">7.60</text>
<text x="130" y="125.3" font-size="27.5" text-anchor="end" fill="#000">7.80</text>
<text x="130" y="48.5" font-size="27.5" text-anchor="end" fill="#000">8.00</text>
<path d="M150 425.5v10M254.4 425.5v10M358.8 425.5v10M463.2 425.5v10M567.6 425.5v10M672 425.5v10M150 425.5h-15M150 348.7h-15M150 271.9h-15M150 195.1h-15M150 118.3h-15M150 41.5h-15" stroke="#666" stroke-width="1.2" fill="none"/>
<circle cx="150" cy="41.5" r="4.6" fill="#f00"/>
<circle cx="672" cy="41.5" r="4.6" fill="#f00"/>
<circle cx="150" cy="425.5" r="4.6" fill="#f00"/>
<circle cx="672" cy="425.5" r="4.6" fill="#f00"/>
<text x="382" y="27.5" font-size="31" text-anchor="middle" fill="#000">pH</text>
<text x="396" y="503" font-size="32" text-anchor="middle" fill="#000">A: Temperature</text>
<text transform="translate(66.5,224) rotate(-90)" font-size="31" text-anchor="middle">B: pH</text>
<circle cx="410.5" cy="233" r="4.6" fill="#f00"/>
<text x="390" y="232" font-size="23" text-anchor="start" fill="#000">5</text>
<rect x="405" y="151.2" width="38" height="27.5" fill="#fff" stroke="#333" stroke-width="1"/>
<text x="424" y="173.1" font-size="24.5" text-anchor="middle" fill="#000">8.4</text>
<rect x="205.8" y="239.2" width="19.5" height="27.5" fill="#fff" stroke="#333" stroke-width="1"/>
<text x="215.5" y="261.1" font-size="24.5" text-anchor="middle" fill="#000">8</text>
<rect x="398.5" y="310.8" width="38" height="27.5" fill="#fff" stroke="#333" stroke-width="1"/>
<text x="417.5" y="332.6" font-size="24.5" text-anchor="middle" fill="#000">8.2</text>
<rect x="158" y="311.2" width="38" height="27.5" fill="#fff" stroke="#333" stroke-width="1"/>
<text x="177" y="333.1" font-size="24.5" text-anchor="middle" fill="#000">7.8</text>
<rect x="603.2" y="277.2" width="19.5" height="27.5" fill="#fff" stroke="#333" stroke-width="1"/>
<text x="613" y="299.1" font-size="24.5" text-anchor="middle" fill="#000">8</text>
<rect x="632.5" y="358.2" width="38" height="27.5" fill="#fff" stroke="#333" stroke-width="1"/>
<text x="651.5" y="380.1" font-size="24.5" text-anchor="middle" fill="#000">7.8</text>
<text x="41.5" y="545.2" font-size="34.3" text-anchor="start" fill="#000">(a) Contour plots of temperature and pH affecting</text>
<text x="342.3" y="604.5" font-size="34.3" text-anchor="start" fill="#000">pH</text>
<defs><linearGradient id="pcg0" gradientUnits="userSpaceOnUse" x1="146.5" x2="674.5" y1="0" y2="0"><stop offset="0" stop-color="#00fff9"/><stop offset="0.0312" stop-color="#00ffc4"/><stop offset="0.0625" stop-color="#00ff92"/><stop offset="0.0938" stop-color="#00ff63"/><stop offset="0.125" stop-color="#00ff38"/><stop offset="0.156" stop-color="#00ff0f"/><stop offset="0.188" stop-color="#16ff00"/><stop offset="0.219" stop-color="#37ff00"/><stop offset="0.25" stop-color="#56ff00"/><stop offset="0.281" stop-color="#71ff00"/><stop offset="0.312" stop-color="#89ff00"/><stop offset="0.344" stop-color="#9eff00"/><stop offset="0.375" stop-color="#afff00"/><stop offset="0.406" stop-color="#beff00"/><stop offset="0.438" stop-color="#c9ff00"/><stop offset="0.469" stop-color="#d0ff00"/><stop offset="0.5" stop-color="#d5ff00"/><stop offset="0.531" stop-color="#d6ff00"/><stop offset="0.562" stop-color="#d4ff00"/><stop offset="0.594" stop-color="#cfff00"/><stop offset="0.625" stop-color="#c7ff00"/><stop offset="0.656" stop-color="#bbff00"/><stop offset="0.688" stop-color="#acff00"/><stop offset="0.719" stop-color="#9aff00"/><stop offset="0.75" stop-color="#85ff00"/><stop offset="0.781" stop-color="#6cff00"/><stop offset="0.812" stop-color="#50ff00"/><stop offset="0.844" stop-color="#31ff00"/><stop offset="0.875" stop-color="#0eff00"/><stop offset="0.906" stop-color="#00ff17"/><stop offset="0.938" stop-color="#00ff40"/><stop offset="0.969" stop-color="#00ff6c"/><stop offset="1" stop-color="#00ff9c"/></linearGradient><linearGradient id="pcg1" gradientUnits="userSpaceOnUse" x1="146.5" x2="674.5" y1="0" y2="0"><stop offset="0" stop-color="#00feff"/><stop offset="0.0312" stop-color="#00ffcb"/><stop offset="0.0625" stop-color="#00ff99"/><stop offset="0.0938" stop-color="#00ff6a"/><stop offset="0.125" stop-color="#00ff3f"/><stop offset="0.156" stop-color="#00ff16"/><stop offset="0.188" stop-color="#0fff00"/><stop offset="0.219" stop-color="#30ff00"/><stop offset="0.25" stop-color="#4fff00"/><stop offset="0.281" stop-color="#6aff00"/><stop offset="0.312" stop-color="#82ff00"/><stop offset="0.344" stop-color="#97ff00"/><stop offset="0.375" stop-color="#a8ff00"/><stop offset="0.406" stop-color="#b7ff00"/><stop offset="0.438" stop-color="#c2ff00"/><stop offset="0.469" stop-color="#caff00"/><stop offset="0.5" stop-color="#ceff00"/><stop offset="0.531" stop-color="#cfff00"/><stop offset="0.562" stop-color="#cdff00"/><stop offset="0.594" stop-color="#c8ff00"/><stop offset="0.625" stop-color="#c0ff00"/><stop offset="0.656" stop-color="#b4ff00"/><stop offset="0.688" stop-color="#a5ff00"/><stop offset="0.719" stop-color="#93ff00"/><stop offset="0.75" stop-color="#7eff00"/><stop offset="0.781" stop-color="#65ff00"/><stop offset="0.812" stop-color="#49ff00"/><stop offset="0.844" stop-color="#2aff00"/><stop offset="0.875" stop-color="#07ff00"/><stop offset="0.906" stop-color="#00ff1e"/><stop offset="0.938" stop-color="#00ff47"/><stop offset="0.969" stop-color="#00ff73"/><stop offset="1" stop-color="#00ffa3"/></linearGradient><linearGradient id="pcg2" gradientUnits="userSpaceOnUse" x1="146.5" x2="674.5" y1="0" y2="0"><stop offset="0" stop-color="#00f8ff"/><stop offset="0.0312" stop-color="#00ffd1"/><stop offset="0.0625" stop-color="#00ff9f"/><stop offset="0.0938" stop-color="#00ff71"/><stop offset="0.125" stop-color="#00ff45"/><stop offset="0.156" stop-color="#00ff1d"/><stop offset="0.188" stop-color="#08ff00"/><stop offset="0.219" stop-color="#2aff00"/><stop offset="0.25" stop-color="#48ff00"/><stop offset="0.281" stop-color="#64ff00"/><stop offset="0.312" stop-color="#7cff00"/><stop offset="0.344" stop-color="#91ff00"/><stop offset="0.375" stop-color="#a2ff00"/><stop offset="0.406" stop-color="#b0ff00"/><stop offset="0.438" stop-color="#bbff00"/><stop offset="0.469" stop-color="#c3ff00"/><stop offset="0.5" stop-color="#c8ff00"/><stop offset="0.531" stop-color="#c9ff00"/><stop offset="0.562" stop-color="#c7ff00"/><stop offset="0.594" stop-color="#c2ff00"/><stop offset="0.625" stop-color="#b9ff00"/><stop offset="0.656" stop-color="#aeff00"/><stop offset="0.688" stop-color="#9fff00"/><stop offset="0.719" stop-color="#8dff00"/><stop offset="0.75" stop-color="#77ff00"/><stop offset="0.781" stop-color="#5fff00"/><stop offset="0.812" stop-color="#43ff00"/><stop offset="0.844" stop-color="#23ff00"/><stop offset="0.875" stop-color="#01ff00"/><stop offset="0.906" stop-color="#00ff25"/><stop offset="0.938" stop-color="#00ff4d"/><stop offset="0.969" stop-color="#00ff7a"/><stop offset="1" stop-color="#00ffa9"/></linearGradient><linearGradient id="pcg3" gradientUnits="userSpaceOnUse" x1="146.5" x2="674.5" y1="0" y2="0"><stop offset="0" stop-color="#00f2ff"/><stop offset="0.0312" stop-color="#00ffd7"/><stop offset="0.0625" stop-color="#00ffa5"/><stop offset="0.0938" stop-color="#00ff76"/><stop offset="0.125" stop-color="#00ff4b"/><stop offset="0.156" stop-color="#00ff23"/><stop offset="0.188" stop-color="#02ff00"/><stop offset="0.219" stop-color="#24ff00"/><stop offset="0.25" stop-color="#43ff00"/><stop offset="0.281" stop-color="#5eff00"/><stop offset="0.312" stop-color="#76ff00"/><stop offset="0.344" stop-color="#8bff00"/><stop offset="0.375" stop-color="#9cff00"/><stop offset="0.406" stop-color="#aaff00"/><stop offset="0.438" stop-color="#b5ff00"/><stop offset="0.469" stop-color="#bdff00"/><stop offset="0.5" stop-color="#c2ff00"/><stop offset="0.531" stop-color="#c3ff00"/><stop offset="0.562" stop-color="#c1ff00"/><stop offset="0.594" stop-color="#bcff00"/><stop offset="0.625" stop-color="#b3ff00"/><stop offset="0.656" stop-color="#a8ff00"/><stop offset="0.688" stop-color="#99ff00"/><stop offset="0.719" stop-color="#87ff00"/><stop offset="0.75" stop-color="#71ff00"/><stop offset="0.781" stop-color="#59ff00"/><stop offset="0.812" stop-color="#3dff00"/><stop offset="0.844" stop-color="#1eff00"/><stop offset="0.875" stop-color="#00ff05"/><stop offset="0.906" stop-color="#00ff2b"/><stop offset="0.938" stop-color="#00ff53"/><stop offset="0.969" stop-color="#00ff80"/><stop offset="1" stop-color="#00ffaf"/></linearGradient><linearGradient id="pcg4" gradientUnits="userSpaceOnUse" x1="146.5" x2="674.5" y1="0" y2="0"><stop offset="0" stop-color="#00ecff"/><stop offset="0.0312" stop-color="#00ffdd"/><stop offset="0.0625" stop-color="#00ffab"/><stop offset="0.0938" stop-color="#00ff7c"/><stop offset="0.125" stop-color="#00ff50"/><stop offset="0.156" stop-color="#00ff28"/><stop offset="0.188" stop-color="#00ff03"/><stop offset="0.219" stop-color="#1fff00"/><stop offset="0.25" stop-color="#3dff00"/><stop offset="0.281" stop-color="#58ff00"/><stop offset="0.312" stop-color="#70ff00"/><stop offset="0.344" stop-color="#85ff00"/><stop offset="0.375" stop-color="#97ff00"/><stop offset="0.406" stop-color="#a5ff00"/><stop offset="0.438" stop-color="#b0ff00"/><stop offset="0.469" stop-color="#b8ff00"/><stop offset="0.5" stop-color="#bcff00"/><stop offset="0.531" stop-color="#beff00"/><stop offset="0.562" stop-color="#bcff00"/><stop offset="0.594" stop-color="#b6ff00"/><stop offset="0.625" stop-color="#aeff00"/><stop offset="0.656" stop-color="#a2ff00"/><stop offset="0.688" stop-color="#93ff00"/><stop offset="0.719" stop-color="#81ff00"/><stop offset="0.75" stop-color="#6cff00"/><stop offset="0.781" stop-color="#53ff00"/><stop offset="0.812" stop-color="#37ff00"/><stop offset="0.844" stop-color="#18ff00"/><stop offset="0.875" stop-color="#00ff0a"/><stop offset="0.906" stop-color="#00ff30"/><stop offset="0.938" stop-color="#00ff59"/><stop offset="0.969" stop-color="#00ff85"/><stop offset="1" stop-color="#00ffb4"/></linearGradient><linearGradient id="pcg5" gradientUnits="userSpaceOnUse" x1="146.5" x2="674.5" y1="0" y2="0"><stop offset="0" stop-color="#00e7ff"/><stop offset="0.0312" stop-color="#00ffe2"/><stop offset="0.0625" stop-color="#00ffb0"/><stop offset="0.0938" stop-color="#00ff81"/><stop offset="0.125" stop-color="#00ff55"/><stop offset="0.156" stop-color="#00ff2d"/><stop offset="0.188" stop-color="#00ff08"/><stop offset="0.219" stop-color="#1aff00"/><stop offset="0.25" stop-color="#38ff00"/><stop offset="0.281" stop-color="#53ff00"/><stop offset="0.312" stop-color="#6bff00"/><stop offset="0.344" stop-color="#80ff00"/><stop offset="0.375" stop-color="#92ff00"/><stop offset="0.406" stop-color="#a0ff00"/><stop offset="0.438" stop-color="#abff00"/><stop offset="0.469" stop-color="#b3ff00"/><stop offset="0.5" stop-color="#b7ff00"/><stop offset="0.531" stop-color="#b9ff00"/><stop offset="0.562" stop-color="#b7ff00"/><stop offset="0.594" stop-color="#b1ff00"/><stop offset="0.625" stop-color="#a9ff00"/><stop offset="0.656" stop-color="#9dff00"/><stop offset="0.688" stop-color="#8eff00"/><stop offset="0.719" stop-color="#7cff00"/><stop offset="0.75" stop-color="#67ff00"/><stop offset="0.781" stop-color="#4eff00"/><stop offset="0.812" stop-color="#32ff00"/><stop offset="0.844" stop-color="#13ff00"/><stop offset="0.875" stop-color="#00ff0f"/><stop offset="0.906" stop-color="#00ff35"/><stop offset="0.938" stop-color="#00ff5e"/><stop offset="0.969" stop-color="#00ff8a"/><stop offset="1" stop-color="#00ffb9"/></linearGradient><linearGradient id="pcg6" gradientUnits="userSpaceOnUse" x1="146.5" x2="674.5" y1="0" y2="0"><stop offset="0" stop-color="#00e3ff"/><stop offset="0.0312" stop-color="#00ffe6"/><stop offset="0.0625" stop-color="#00ffb4"/><stop offset="0.0938" stop-color="#00ff86"/><stop offset="0.125" stop-color="#00ff5a"/><stop offset="0.156" stop-color="#00ff32"/><stop offset="0.188" stop-color="#00ff0d"/><stop offset="0.219" stop-color="#15ff00"/><stop offset="0.25" stop-color="#33ff00"/><stop offset="0.281" stop-color="#4fff00"/><stop offset="0.312" stop-color="#67ff00"/><stop offset="0.344" stop-color="#7cff00"/><stop offset="0.375" stop-color="#8dff00"/><stop offset="0.406" stop-color="#9bff00"/><stop offset="0.438" stop-color="#a6ff00"/><stop offset="0.469" stop-color="#aeff00"/><stop offset="0.5" stop-color="#b3ff00"/><stop offset="0.531" stop-color="#b4ff00"/><stop offset="0.562" stop-color="#b2ff00"/><stop offset="0.594" stop-color="#adff00"/><stop offset="0.625" stop-color="#a4ff00"/><stop offset="0.656" stop-color="#99ff00"/><stop offset="0.688" stop-color="#8aff00"/><stop offset="0.719" stop-color="#78ff00"/><stop offset="0.75" stop-color="#62ff00"/><stop offset="0.781" stop-color="#4aff00"/><stop offset="0.812" stop-color="#2eff00"/><stop offset="0.844" stop-color="#0eff00"/><stop offset="0.875" stop-color="#00ff14"/><stop offset="0.906" stop-color="#00ff3a"/><stop offset="0.938" stop-color="#00ff62"/><stop offset="0.969" stop-color="#00ff8f"/><stop offset="1" stop-color="#00ffbe"/></linearGradient><linearGradient id="pcg7" gradientUnits="userSpaceOnUse" x1="146.5" x2="674.5" y1="0" y2="0"><stop offset="0" stop-color="#00deff"/><stop offset="0.0312" stop-color="#00ffea"/><stop offset="0.0625" stop-color="#00ffb8"/><stop offset="0.0938" stop-color="#00ff8a"/><stop offset="0.125" stop-color="#00ff5e"/><stop offset="0.156" stop-color="#00ff36"/><stop offset="0.188" stop-color="#00ff11"/><stop offset="0.219" stop-color="#11ff00"/><stop offset="0.25" stop-color="#2fff00"/><stop offset="0.281" stop-color="#4bff00"/><stop offset="0.312" stop-color="#63ff00"/><stop offset="0.344" stop-color="#77ff00"/><stop offset="0.375" stop-color="#89ff00"/><stop offset="0.406" stop-color="#97ff00"/><stop offset="0.438" stop-color="#a2ff00"/><stop offset="0.469" stop-color="#aaff00"/><stop offset="0.5" stop-color="#afff00"/><stop offset="0.531" stop-color="#b0ff00"/><stop offset="0.562" stop-color="#aeff00"/><stop offset="0.594" stop-color="#a9ff00"/><stop offset="0.625" stop-color="#a0ff00"/><stop offset="0.656" stop-color="#95ff00"/><stop offset="0.688" stop-color="#86ff00"/><stop offset="0.719" stop-color="#74ff00"/><stop offset="0.75" stop-color="#5eff00"/><stop offset="0.781" stop-color="#45ff00"/><stop offset="0.812" stop-color="#2aff00"/><stop offset="0.844" stop-color="#0aff00"/><stop offset="0.875" stop-color="#00ff18"/><stop offset="0.906" stop-color="#00ff3e"/><stop offset="0.938" stop-color="#00ff67"/><stop offset="0.969" stop-color="#00ff93"/><stop offset="1" stop-color="#00ffc2"/></linearGradient><linearGradient id="pcg8" gradientUnits="userSpaceOnUse" x1="146.5" x2="674.5" y1="0" y2="0"><stop offset="0" stop-color="#00dbff"/><stop offset="0.0312" stop-color="#00ffee"/><stop offset="0.0625" stop-color="#00ffbc"/><stop offset="0.0938" stop-color="#00ff8d"/><stop offset="0.125" stop-color="#00ff62"/><stop offset="0.156" stop-color="#00ff3a"/><stop offset="0.188" stop-color="#00ff15"/><stop offset="0.219" stop-color="#0dff00"/><stop offset="0.25" stop-color="#2cff00"/><stop offset="0.281" stop-color="#47ff00"/><stop offset="0.312" stop-color="#5fff00"/><stop offset="0.344" stop-color="#74ff00"/><stop offset="0.375" stop-color="#85ff00"/><stop offset="0.406" stop-color="#94ff00"/><stop offset="0.438" stop-color="#9fff00"/><stop offset="0.469" stop-color="#a6ff00"/><stop offset="0.5" stop-color="#abff00"/><stop offset="0.531" stop-color="#acff00"/><stop offset="0.562" stop-color="#aaff00"/><stop offset="0.594" stop-color="#a5ff00"/><stop offset="0.625" stop-color="#9dff00"/><stop offset="0.656" stop-color="#91ff00"/><stop offset="0.688" stop-color="#82ff00"/><stop offset="0.719" stop-color="#70ff00"/><stop offset="0.75" stop-color="#5aff00"/><stop offset="0.781" stop-color="#42ff00"/><stop offset="0.812" stop-color="#26ff00"/><stop offset="0.844" stop-color="#07ff00"/><stop offset="0.875" stop-color="#00ff1c"/><stop offset="0.906" stop-color="#00ff41"/><stop offset="0.938" stop-color="#00ff6a"/><stop offset="0.969" stop-color="#00ff96"/><stop offset="1" stop-color="#00ffc6"/></linearGradient><linearGradient id="pcg9" gradientUnits="userSpaceOnUse" x1="146.5" x2="674.5" y1="0" y2="0"><stop offset="0" stop-color="#00d8ff"/><stop offset="0.0312" stop-color="#00fff1"/><stop offset="0.0625" stop-color="#00ffbf"/><stop offset="0.0938" stop-color="#00ff90"/><stop offset="0.125" stop-color="#00ff65"/><stop offset="0.156" stop-color="#00ff3d"/><stop offset="0.188" stop-color="#00ff18"/><stop offset="0.219" stop-color="#0aff00"/><stop offset="0.25" stop-color="#29ff00"/><stop offset="0.281" stop-color="#44ff00"/><stop offset="0.312" stop-color="#5cff00"/><stop offset="0.344" stop-color="#71ff00"/><stop offset="0.375" stop-color="#82ff00"/><stop offset="0.406" stop-color="#90ff00"/><stop offset="0.438" stop-color="#9bff00"/><stop offset="0.469" stop-color="#a3ff00"/><stop offset="0.5" stop-color="#a8ff00"/><stop offset="0.531" stop-color="#a9ff00"/><stop offset="0.562" stop-color="#a7ff00"/><stop offset="0.594" stop-color="#a2ff00"/><stop offset="0.625" stop-color="#9aff00"/><stop offset="0.656" stop-color="#8eff00"/><stop offset="0.688" stop-color="#7fff00"/><stop offset="0.719" stop-color="#6dff00"/><stop offset="0.75" stop-color="#57ff00"/><stop offset="0.781" stop-color="#3fff00"/><stop offset="0.812" stop-color="#23ff00"/><stop offset="0.844" stop-color="#04ff00"/><stop offset="0.875" stop-color="#00ff1f"/><stop offset="0.906" stop-color="#00ff44"/><stop offset="0.938" stop-color="#00ff6d"/><stop offset="0.969" stop-color="#00ff9a"/><stop offset="1" stop-color="#00ffc9"/></linearGradient><linearGradient id="pcg10" gradientUnits="userSpaceOnUse" x1="146.5" x2="674.5" y1="0" y2="0"><stop offset="0" stop-color="#00d5ff"/><stop offset="0.0312" stop-color="#00fff4"/><stop offset="0.0625" stop-color="#00ffc2"/><stop offset="0.0938" stop-color="#00ff93"/><stop offset="0.125" stop-color="#00ff68"/><stop offset="0.156" stop-color="#00ff3f"/><stop offset="0.188" stop-color="#00ff1a"/><stop offset="0.219" stop-color="#07ff00"/><stop offset="0.25" stop-color="#26ff00"/><stop offset="0.281" stop-color="#41ff00"/><stop offset="0.312" stop-color="#59ff00"/><stop offset="0.344" stop-color="#6eff00"/><stop offset="0.375" stop-color="#7fff00"/><stop offset="0.406" stop-color="#8eff00"/><stop offset="0.438" stop-color="#99ff00"/><stop offset="0.469" stop-color="#a1ff00"/><stop offset="0.5" stop-color="#a5ff00"/><stop offset="0.531" stop-color="#a6ff00"/><stop offset="0.562" stop-color="#a4ff00"/><stop offset="0.594" stop-color="#9fff00"/><stop offset="0.625" stop-color="#97ff00"/><stop offset="0.656" stop-color="#8bff00"/><stop offset="0.688" stop-color="#7cff00"/><stop offset="0.719" stop-color="#6aff00"/><stop offset="0.75" stop-color="#55ff00"/><stop offset="0.781" stop-color="#3cff00"/><stop offset="0.812" stop-color="#20ff00"/><stop offset="0.844" stop-color="#01ff00"/><stop offset="0.875" stop-color="#00ff22"/><stop offset="0.906" stop-color="#00ff47"/><stop offset="0.938" stop-color="#00ff70"/><stop offset="0.969" stop-color="#00ff9c"/><stop offset="1" stop-color="#00ffcc"/></linearGradient><linearGradient id="pcg11" gradientUnits="userSpaceOnUse" x1="146.5" x2="674.5" y1="0" y2="0"><stop offset="0" stop-color="#00d3ff"/><stop offset="0.0312" stop-color="#00fff6"/><stop offset="0.0625" stop-color="#00ffc4"/><stop offset="0.0938" stop-color="#00ff95"/><stop offset="0.125" stop-color="#00ff6a"/><stop offset="0.156" stop-color="#00ff42"/><stop offset="0.188" stop-color="#00ff1d"/><stop offset="0.219" stop-color="#05ff00"/><stop offset="0.25" stop-color="#24ff00"/><stop offset="0.281" stop-color="#3fff00"/><stop offset="0.312" stop-color="#57ff00"/><stop offset="0.344" stop-color="#6cff00"/><stop offset="0.375" stop-color="#7dff00"/><stop offset="0.406" stop-color="#8bff00"/><stop offset="0.438" stop-color="#97ff00"/><stop offset="0.469" stop-color="#9eff00"/><stop offset="0.5" stop-color="#a3ff00"/><stop offset="0.531" stop-color="#a4ff00"/><stop offset="0.562" stop-color="#a2ff00"/><stop offset="0.594" stop-color="#9dff00"/><stop offset="0.625" stop-color="#95ff00"/><stop offset="0.656" stop-color="#89ff00"/><stop offset="0.688" stop-color="#7aff00"/><stop offset="0.719" stop-color="#68ff00"/><stop offset="0.75" stop-color="#52ff00"/><stop offset="0.781" stop-color="#3aff00"/><stop offset="0.812" stop-color="#1eff00"/><stop offset="0.844" stop-color="#00ff01"/><stop offset="0.875" stop-color="#00ff24"/><stop offset="0.906" stop-color="#00ff49"/><stop offset="0.938" stop-color="#00ff72"/><stop offset="0.969" stop-color="#00ff9e"/><stop offset="1" stop-color="#00ffce"/></linearGradient><linearGradient id="pcg12" gradientUnits="userSpaceOnUse" x1="146.5" x2="674.5" y1="0" y2="0"><stop offset="0" stop-color="#00d1ff"/><stop offset="0.0312" stop-color="#00fff8"/><stop offset="0.0625" stop-color="#00ffc6"/><stop offset="0.0938" stop-color="#00ff97"/><stop offset="0.125" stop-color="#00ff6c"/><stop offset="0.156" stop-color="#00ff43"/><stop offset="0.188" stop-color="#00ff1e"/><stop offset="0.219" stop-color="#03ff00"/><stop offset="0.25" stop-color="#22ff00"/><stop offset="0.281" stop-color="#3dff00"/><stop offset="0.312" stop-color="#55ff00"/><stop offset="0.344" stop-color="#6aff00"/><stop offset="0.375" stop-color="#7bff00"/><stop offset="0.406" stop-color="#8aff00"/><stop offset="0.438" stop-color="#95ff00"/><stop offset="0.469" stop-color="#9dff00"/><stop offset="0.5" stop-color="#a1ff00"/><stop offset="0.531" stop-color="#a2ff00"/><stop offset="0.562" stop-color="#a0ff00"/><stop offset="0.594" stop-color="#9bff00"/><stop offset="0.625" stop-color="#93ff00"/><stop offset="0.656" stop-color="#87ff00"/><stop offset="0.688" stop-color="#78ff00"/><stop offset="0.719" stop-color="#66ff00"/><stop offset="0.75" stop-color="#51ff00"/><stop offset="0.781" stop-color="#38ff00"/><stop offset="0.812" stop-color="#1cff00"/><stop offset="0.844" stop-color="#00ff03"/><stop offset="0.875" stop-color="#00ff26"/><stop offset="0.906" stop-color="#00ff4b"/><stop offset="0.938" stop-color="#00ff74"/><stop offset="0.969" stop-color="#00ffa0"/><stop offset="1" stop-color="#00ffd0"/></linearGradient><linearGradient id="pcg13" gradientUnits="userSpaceOnUse" x1="146.5" x2="674.5" y1="0" y2="0"><stop offset="0" stop-color="#00d0ff"/><stop offset="0.0312" stop-color="#00fff9"/><stop offset="0.0625" stop-color="#00ffc7"/><stop offset="0.0938" stop-color="#00ff98"/><stop offset="0.125" stop-color="#00ff6d"/><stop offset="0.156" stop-color="#00ff45"/><stop offset="0.188" stop-color="#00ff20"/><stop offset="0.219" stop-color="#02ff00"/><stop offset="0.25" stop-color="#21ff00"/><stop offset="0.281" stop-color="#3cff00"/><stop offset="0.312" stop-color="#54ff00"/><stop offset="0.344" stop-color="#69ff00"/><stop offset="0.375" stop-color="#7aff00"/><stop offset="0.406" stop-color="#88ff00"/><stop offset="0.438" stop-color="#93ff00"/><stop offset="0.469" stop-color="#9bff00"/><stop offset="0.5" stop-color="#a0ff00"/><stop offset="0.531" stop-color="#a1ff00"/><stop offset="0.562" stop-color="#9fff00"/><stop offset="0.594" stop-color="#9aff00"/><stop offset="0.625" stop-color="#91ff00"/><stop offset="0.656" stop-color="#86ff00"/><stop offset="0.688" stop-color="#77ff00"/><stop offset="0.719" stop-color="#65ff00"/><stop offset="0.75" stop-color="#4fff00"/><stop offset="0.781" stop-color="#37ff00"/><stop offset="0.812" stop-color="#1bff00"/><stop offset="0.844" stop-color="#00ff04"/><stop offset="0.875" stop-color="#00ff27"/><stop offset="0.906" stop-color="#00ff4d"/><stop offset="0.938" stop-color="#00ff75"/><stop offset="0.969" stop-color="#00ffa2"/><stop offset="1" stop-color="#00ffd1"/></linearGradient><linearGradient id="pcg14" gradientUnits="userSpaceOnUse" x1="146.5" x2="674.5" y1="0" y2="0"><stop offset="0" stop-color="#00cfff"/><stop offset="0.0312" stop-color="#00fffa"/><stop offset="0.0625" stop-color="#00ffc8"/><stop offset="0.0938" stop-color="#00ff99"/><stop offset="0.125" stop-color="#00ff6e"/><stop offset="0.156" stop-color="#00ff46"/><stop offset="0.188" stop-color="#00ff21"/><stop offset="0.219" stop-color="#01ff00"/><stop offset="0.25" stop-color="#20ff00"/><stop offset="0.281" stop-color="#3bff00"/><stop offset="0.312" stop-color="#53ff00"/><stop offset="0.344" stop-color="#68ff00"/><stop offset="0.375" stop-color="#79ff00"/><stop offset="0.406" stop-color="#88ff00"/><stop offset="0.438" stop-color="#93ff00"/><stop offset="0.469" stop-color="#9aff00"/><stop offset="0.5" stop-color="#9fff00"/><stop offset="0.531" stop-color="#a0ff00"/><stop offset="0.562" stop-color="#9eff00"/><stop offset="0.594" stop-color="#99ff00"/><stop offset="0.625" stop-color="#91ff00"/><stop offset="0.656" stop-color="#85ff00"/><stop offset="0.688" stop-color="#76ff00"/><stop offset="0.719" stop-color="#64ff00"/><stop offset="0.75" stop-color="#4eff00"/><stop offset="0.781" stop-color="#36ff00"/><stop offset="0.812" stop-color="#1aff00"/><stop offset="0.844" stop-color="#00ff05"/><stop offset="0.875" stop-color="#00ff28"/><stop offset="0.906" stop-color="#00ff4d"/><stop offset="0.938" stop-color="#00ff76"/><stop offset="0.969" stop-color="#00ffa2"/><stop offset="1" stop-color="#00ffd2"/></linearGradient><linearGradient id="pcg15" gradientUnits="userSpaceOnUse" x1="146.5" x2="674.5" y1="0" y2="0"><stop offset="0" stop-color="#00ceff"/><stop offset="0.0312" stop-color="#00fffa"/><stop offset="0.0625" stop-color="#00ffc8"/><stop offset="0.0938" stop-color="#00ff9a"/><stop offset="0.125" stop-color="#00ff6e"/><stop offset="0.156" stop-color="#00ff46"/><stop offset="0.188" stop-color="#00ff21"/><stop offset="0.219" stop-color="#01ff00"/><stop offset="0.25" stop-color="#1fff00"/><stop offset="0.281" stop-color="#3bff00"/><stop offset="0.312" stop-color="#53ff00"/><stop offset="0.344" stop-color="#67ff00"/><stop offset="0.375" stop-color="#79ff00"/><stop offset="0.406" stop-color="#87ff00"/><stop offset="0.438" stop-color="#92ff00"/><stop offset="0.469" stop-color="#9aff00"/><stop offset="0.5" stop-color="#9fff00"/><stop offset="0.531" stop-color="#a0ff00"/><stop offset="0.562" stop-color="#9eff00"/><stop offset="0.594" stop-color="#99ff00"/><stop offset="0.625" stop-color="#90ff00"/><stop offset="0.656" stop-color="#85ff00"/><stop offset="0.688" stop-color="#76ff00"/><stop offset="0.719" stop-color="#63ff00"/><stop offset="0.75" stop-color="#4eff00"/><stop offset="0.781" stop-color="#35ff00"/><stop offset="0.812" stop-color="#19ff00"/><stop offset="0.844" stop-color="#00ff06"/><stop offset="0.875" stop-color="#00ff28"/><stop offset="0.906" stop-color="#00ff4e"/><stop offset="0.938" stop-color="#00ff77"/><stop offset="0.969" stop-color="#00ffa3"/><stop offset="1" stop-color="#00ffd2"/></linearGradient><linearGradient id="pcg16" gradientUnits="userSpaceOnUse" x1="146.5" x2="674.5" y1="0" y2="0"><stop offset="0" stop-color="#00ceff"/><stop offset="0.0312" stop-color="#00fffa"/><stop offset="0.0625" stop-color="#00ffc8"/><stop offset="0.0938" stop-color="#00ff9a"/><stop offset="0.125" stop-color="#00ff6e"/><stop offset="0.156" stop-color="#00ff46"/><stop offset="0.188" stop-color="#00ff21"/><stop offset="0.219" stop-color="#01ff00"/><stop offset="0.25" stop-color="#1fff00"/><stop offset="0.281" stop-color="#3bff00"/><stop offset="0.312" stop-color="#53ff00"/><stop offset="0.344" stop-color="#67ff00"/><stop offset="0.375" stop-color="#79ff00"/><stop offset="0.406" stop-color="#87ff00"/><stop offset="0.438" stop-color="#92ff00"/><stop offset="0.469" stop-color="#9aff00"/><stop offset="0.5" stop-color="#9fff00"/><stop offset="0.531" stop-color="#a0ff00"/><stop offset="0.562" stop-color="#9eff00"/><stop offset="0.594" stop-color="#99ff00"/><stop offset="0.625" stop-color="#90ff00"/><stop offset="0.656" stop-color="#85ff00"/><stop offset="0.688" stop-color="#76ff00"/><stop offset="0.719" stop-color="#64ff00"/><stop offset="0.75" stop-color="#4eff00"/><stop offset="0.781" stop-color="#35ff00"/><stop offset="0.812" stop-color="#1aff00"/><stop offset="0.844" stop-color="#00ff06"/><stop offset="0.875" stop-color="#00ff28"/><stop offset="0.906" stop-color="#00ff4e"/><stop offset="0.938" stop-color="#00ff77"/><stop offset="0.969" stop-color="#00ffa3"/><stop offset="1" stop-color="#00ffd2"/></linearGradient><linearGradient id="pcg17" gradientUnits="userSpaceOnUse" x1="146.5" x2="674.5" y1="0" y2="0"><stop offset="0" stop-color="#00cfff"/><stop offset="0.0312" stop-color="#00fffa"/><stop offset="0.0625" stop-color="#00ffc8"/><stop offset="0.0938" stop-color="#00ff99"/><stop offset="0.125" stop-color="#00ff6e"/><stop offset="0.156" stop-color="#00ff45"/><stop offset="0.188" stop-color="#00ff20"/><stop offset="0.219" stop-color="#01ff00"/><stop offset="0.25" stop-color="#20ff00"/><stop offset="0.281" stop-color="#3bff00"/><stop offset="0.312" stop-color="#53ff00"/><stop offset="0.344" stop-color="#68ff00"/><stop offset="0.375" stop-color="#79ff00"/><stop offset="0.406" stop-color="#88ff00"/><stop offset="0.438" stop-color="#93ff00"/><stop offset="0.469" stop-color="#9bff00"/><stop offset="0.5" stop-color="#9fff00"/><stop offset="0.531" stop-color="#a0ff00"/><stop offset="0.562" stop-color="#9eff00"/><stop offset="0.594" stop-color="#99ff00"/><stop offset="0.625" stop-color="#91ff00"/><stop offset="0.656" stop-color="#85ff00"/><stop offset="0.688" stop-color="#76ff00"/><stop offset="0.719" stop-color="#64ff00"/><stop offset="0.75" stop-color="#4fff00"/><stop offset="0.781" stop-color="#36ff00"/><stop offset="0.812" stop-color="#1aff00"/><stop offset="0.844" stop-color="#00ff05"/><stop offset="0.875" stop-color="#00ff27"/><stop offset="0.906" stop-color="#00ff4d"/><stop offset="0.938" stop-color="#00ff76"/><stop offset="0.969" stop-color="#00ffa2"/><stop offset="1" stop-color="#00ffd2"/></linearGradient><linearGradient id="pcg18" gradientUnits="userSpaceOnUse" x1="146.5" x2="674.5" y1="0" y2="0"><stop offset="0" stop-color="#00d0ff"/><stop offset="0.0312" stop-color="#00fff9"/><stop offset="0.0625" stop-color="#00ffc7"/><stop offset="0.0938" stop-color="#00ff98"/><stop offset="0.125" stop-color="#00ff6d"/><stop offset="0.156" stop-color="#00ff44"/><stop offset="0.188" stop-color="#00ff1f"/><stop offset="0.219" stop-color="#02ff00"/><stop offset="0.25" stop-color="#21ff00"/><stop offset="0.281" stop-color="#3cff00"/><stop offset="0.312" stop-color="#54ff00"/><stop offset="0.344" stop-color="#69ff00"/><stop offset="0.375" stop-color="#7aff00"/><stop offset="0.406" stop-color="#89ff00"/><stop offset="0.438" stop-color="#94ff00"/><stop offset="0.469" stop-color="#9cff00"/><stop offset="0.5" stop-color="#a0ff00"/><stop offset="0.531" stop-color="#a1ff00"/><stop offset="0.562" stop-color="#9fff00"/><stop offset="0.594" stop-color="#9aff00"/><stop offset="0.625" stop-color="#92ff00"/><stop offset="0.656" stop-color="#86ff00"/><stop offset="0.688" stop-color="#77ff00"/><stop offset="0.719" stop-color="#65ff00"/><stop offset="0.75" stop-color="#50ff00"/><stop offset="0.781" stop-color="#37ff00"/><stop offset="0.812" stop-color="#1bff00"/><stop offset="0.844" stop-color="#00ff04"/><stop offset="0.875" stop-color="#00ff26"/><stop offset="0.906" stop-color="#00ff4c"/><stop offset="0.938" stop-color="#00ff75"/><stop offset="0.969" stop-color="#00ffa1"/><stop offset="1" stop-color="#00ffd1"/></linearGradient><linearGradient id="pcg19" gradientUnits="userSpaceOnUse" x1="146.5" x2="674.5" y1="0" y2="0"><stop offset="0" stop-color="#00d1ff"/><stop offset="0.0312" stop-color="#00fff7"/><stop offset="0.0625" stop-color="#00ffc5"/><stop offset="0.0938" stop-color="#00ff97"/><stop offset="0.125" stop-color="#00ff6b"/><stop offset="0.156" stop-color="#00ff43"/><stop offset="0.188" stop-color="#00ff1e"/><stop offset="0.219" stop-color="#04ff00"/><stop offset="0.25" stop-color="#22ff00"/><stop offset="0.281" stop-color="#3eff00"/><stop offset="0.312" stop-color="#56ff00"/><stop offset="0.344" stop-color="#6aff00"/><stop offset="0.375" stop-color="#7cff00"/><stop offset="0.406" stop-color="#8aff00"/><stop offset="0.438" stop-color="#95ff00"/><stop offset="0.469" stop-color="#9dff00"/><stop offset="0.5" stop-color="#a2ff00"/><stop offset="0.531" stop-color="#a3ff00"/><stop offset="0.562" stop-color="#a1ff00"/><stop offset="0.594" stop-color="#9cff00"/><stop offset="0.625" stop-color="#93ff00"/><stop offset="0.656" stop-color="#88ff00"/><stop offset="0.688" stop-color="#79ff00"/><stop offset="0.719" stop-color="#67ff00"/><stop offset="0.75" stop-color="#51ff00"/><stop offset="0.781" stop-color="#38ff00"/><stop offset="0.812" stop-color="#1dff00"/><stop offset="0.844" stop-color="#00ff03"/><stop offset="0.875" stop-color="#00ff25"/><stop offset="0.906" stop-color="#00ff4b"/><stop offset="0.938" stop-color="#00ff74"/><stop offset="0.969" stop-color="#00ffa0"/><stop offset="1" stop-color="#00ffcf"/></linearGradient><linearGradient id="pcg20" gradientUnits="userSpaceOnUse" x1="146.5" x2="674.5" y1="0" y2="0"><stop offset="0" stop-color="#00d3ff"/><stop offset="0.0312" stop-color="#00fff5"/><stop offset="0.0625" stop-color="#00ffc3"/><stop offset="0.0938" stop-color="#00ff95"/><stop offset="0.125" stop-color="#00ff69"/><stop offset="0.156" stop-color="#00ff41"/><stop offset="0.188" stop-color="#00ff1c"/><stop offset="0.219" stop-color="#06ff00"/><stop offset="0.25" stop-color="#24ff00"/><stop offset="0.281" stop-color="#40ff00"/><stop offset="0.312" stop-color="#58ff00"/><stop offset="0.344" stop-color="#6cff00"/><stop offset="0.375" stop-color="#7eff00"/><stop offset="0.406" stop-color="#8cff00"/><stop offset="0.438" stop-color="#97ff00"/><stop offset="0.469" stop-color="#9fff00"/><stop offset="0.5" stop-color="#a4ff00"/><stop offset="0.531" stop-color="#a5ff00"/><stop offset="0.562" stop-color="#a3ff00"/><stop offset="0.594" stop-color="#9eff00"/><stop offset="0.625" stop-color="#95ff00"/><stop offset="0.656" stop-color="#8aff00"/><stop offset="0.688" stop-color="#7bff00"/><stop offset="0.719" stop-color="#68ff00"/><stop offset="0.75" stop-color="#53ff00"/><stop offset="0.781" stop-color="#3aff00"/><stop offset="0.812" stop-color="#1eff00"/><stop offset="0.844" stop-color="#00ff01"/><stop offset="0.875" stop-color="#00ff23"/><stop offset="0.906" stop-color="#00ff49"/><stop offset="0.938" stop-color="#00ff72"/><stop offset="0.969" stop-color="#00ff9e"/><stop offset="1" stop-color="#00ffcd"/></linearGradient><linearGradient id="pcg21" gradientUnits="userSpaceOnUse" x1="146.5" x2="674.5" y1="0" y2="0"><stop offset="0" stop-color="#00d6ff"/><stop offset="0.0312" stop-color="#00fff3"/><stop offset="0.0625" stop-color="#00ffc1"/><stop offset="0.0938" stop-color="#00ff92"/><stop offset="0.125" stop-color="#00ff67"/><stop offset="0.156" stop-color="#00ff3f"/><stop offset="0.188" stop-color="#00ff1a"/><stop offset="0.219" stop-color="#08ff00"/><stop offset="0.25" stop-color="#27ff00"/><stop offset="0.281" stop-color="#42ff00"/><stop offset="0.312" stop-color="#5aff00"/><stop offset="0.344" stop-color="#6fff00"/><stop offset="0.375" stop-color="#80ff00"/><stop offset="0.406" stop-color="#8fff00"/><stop offset="0.438" stop-color="#9aff00"/><stop offset="0.469" stop-color="#a1ff00"/><stop offset="0.5" stop-color="#a6ff00"/><stop offset="0.531" stop-color="#a7ff00"/><stop offset="0.562" stop-color="#a5ff00"/><stop offset="0.594" stop-color="#a0ff00"/><stop offset="0.625" stop-color="#98ff00"/><stop offset="0.656" stop-color="#8cff00"/><stop offset="0.688" stop-color="#7dff00"/><stop offset="0.719" stop-color="#6bff00"/><stop offset="0.75" stop-color="#55ff00"/><stop offset="0.781" stop-color="#3dff00"/><stop offset="0.812" stop-color="#21ff00"/><stop offset="0.844" stop-color="#02ff00"/><stop offset="0.875" stop-color="#00ff21"/><stop offset="0.906" stop-color="#00ff46"/><stop offset="0.938" stop-color="#00ff6f"/><stop offset="0.969" stop-color="#00ff9b"/><stop offset="1" stop-color="#00ffcb"/></linearGradient><linearGradient id="pcg22" gradientUnits="userSpaceOnUse" x1="146.5" x2="674.5" y1="0" y2="0"><stop offset="0" stop-color="#00d9ff"/><stop offset="0.0312" stop-color="#00fff0"/><stop offset="0.0625" stop-color="#00ffbe"/><stop offset="0.0938" stop-color="#00ff8f"/><stop offset="0.125" stop-color="#00ff64"/><stop offset="0.156" stop-color="#00ff3c"/><stop offset="0.188" stop-color="#00ff17"/><stop offset="0.219" stop-color="#0bff00"/><stop offset="0.25" stop-color="#2aff00"/><stop offset="0.281" stop-color="#45ff00"/><stop offset="0.312" stop-color="#5dff00"/><stop offset="0.344" stop-color="#72ff00"/><stop offset="0.375" stop-color="#83ff00"/><stop offset="0.406" stop-color="#91ff00"/><stop offset="0.438" stop-color="#9cff00"/><stop offset="0.469" stop-color="#a4ff00"/><stop offset="0.5" stop-color="#a9ff00"/><stop offset="0.531" stop-color="#aaff00"/><stop offset="0.562" stop-color="#a8ff00"/><stop offset="0.594" stop-color="#a3ff00"/><stop offset="0.625" stop-color="#9bff00"/><stop offset="0.656" stop-color="#8fff00"/><stop offset="0.688" stop-color="#80ff00"/><stop offset="0.719" stop-color="#6eff00"/><stop offset="0.75" stop-color="#58ff00"/><stop offset="0.781" stop-color="#40ff00"/><stop offset="0.812" stop-color="#24ff00"/><stop offset="0.844" stop-color="#05ff00"/><stop offset="0.875" stop-color="#00ff1e"/><stop offset="0.906" stop-color="#00ff43"/><stop offset="0.938" stop-color="#00ff6c"/><stop offset="0.969" stop-color="#00ff99"/><stop offset="1" stop-color="#00ffc8"/></linearGradient><linearGradient id="pcg23" gradientUnits="userSpaceOnUse" x1="146.5" x2="674.5" y1="0" y2="0"><stop offset="0" stop-color="#00dcff"/><stop offset="0.0312" stop-color="#00ffed"/><stop offset="0.0625" stop-color="#00ffbb"/><stop offset="0.0938" stop-color="#00ff8c"/><stop offset="0.125" stop-color="#00ff61"/><stop offset="0.156" stop-color="#00ff38"/><stop offset="0.188" stop-color="#00ff13"/><stop offset="0.219" stop-color="#0eff00"/><stop offset="0.25" stop-color="#2dff00"/><stop offset="0.281" stop-color="#48ff00"/><stop offset="0.312" stop-color="#60ff00"/><stop offset="0.344" stop-color="#75ff00"/><stop offset="0.375" stop-color="#86ff00"/><stop offset="0.406" stop-color="#95ff00"/><stop offset="0.438" stop-color="#a0ff00"/><stop offset="0.469" stop-color="#a8ff00"/><stop offset="0.5" stop-color="#acff00"/><stop offset="0.531" stop-color="#adff00"/><stop offset="0.562" stop-color="#abff00"/><stop offset="0.594" stop-color="#a6ff00"/><stop offset="0.625" stop-color="#9eff00"/><stop offset="0.656" stop-color="#92ff00"/><stop offset="0.688" stop-color="#83ff00"/><stop offset="0.719" stop-color="#71ff00"/><stop offset="0.75" stop-color="#5cff00"/><stop offset="0.781" stop-color="#43ff00"/><stop offset="0.812" stop-color="#27ff00"/><stop offset="0.844" stop-color="#08ff00"/><stop offset="0.875" stop-color="#00ff1b"/><stop offset="0.906" stop-color="#00ff40"/><stop offset="0.938" stop-color="#00ff69"/><stop offset="0.969" stop-color="#00ff95"/><stop offset="1" stop-color="#00ffc5"/></linearGradient><clipPath id="pcc"><rect x="146.5" y="707.5" width="528" height="388.5"/></clipPath><filter id="pcf" filterUnits="userSpaceOnUse" x="132.5" y="693.5" width="556" height="416.5"><feGaussianBlur stdDeviation="0 8.90"/></filter></defs>
<g id="pc" clip-path="url(#pcc)"><g filter="url(#pcf)"><rect x="132.5" y="693.50" width="556" height="30.79" fill="url(#pcg0)"/><rect x="132.5" y="723.69" width="556" height="16.79" fill="url(#pcg1)"/><rect x="132.5" y="739.88" width="556" height="16.79" fill="url(#pcg2)"/><rect x="132.5" y="756.06" width="556" height="16.79" fill="url(#pcg3)"/><rect x="132.5" y="772.25" width="556" height="16.79" fill="url(#pcg4)"/><rect x="132.5" y="788.44" width="556" height="16.79" fill="url(#pcg5)"/><rect x="132.5" y="804.62" width="556" height="16.79" fill="url(#pcg6)"/><rect x="132.5" y="820.81" width="556" height="16.79" fill="url(#pcg7)"/><rect x="132.5" y="837.00" width="556" height="16.79" fill="url(#pcg8)"/><rect x="132.5" y="853.19" width="556" height="16.79" fill="url(#pcg9)"/><rect x="132.5" y="869.38" width="556" height="16.79" fill="url(#pcg10)"/><rect x="132.5" y="885.56" width="556" height="16.79" fill="url(#pcg11)"/><rect x="132.5" y="901.75" width="556" height="16.79" fill="url(#pcg12)"/><rect x="132.5" y="917.94" width="556" height="16.79" fill="url(#pcg13)"/><rect x="132.5" y="934.12" width="556" height="16.79" fill="url(#pcg14)"/><rect x="132.5" y="950.31" width="556" height="16.79" fill="url(#pcg15)"/><rect x="132.5" y="966.50" width="556" height="16.79" fill="url(#pcg16)"/><rect x="132.5" y="982.69" width="556" height="16.79" fill="url(#pcg17)"/><rect x="132.5" y="998.88" width="556" height="16.79" fill="url(#pcg18)"/><rect x="132.5" y="1015.06" width="556" height="16.79" fill="url(#pcg19)"/><rect x="132.5" y="1031.25" width="556" height="16.79" fill="url(#pcg20)"/><rect x="132.5" y="1047.44" width="556" height="16.79" fill="url(#pcg21)"/><rect x="132.5" y="1063.62" width="556" height="16.79" fill="url(#pcg22)"/><rect x="132.5" y="1079.81" width="556" height="30.79" fill="url(#pcg23)"/></g></g>
<path d="M164 1096 164.4 1091.1 164.8 1084.7 165.3 1078.2 165.7 1071.7 166.1 1065.2 166.3 1060.4 166.7 1053.9 167 1047.4 167.3 1041 167.6 1034.5 167.8 1028 168.1 1021.5 168.3 1015.1 168.4 1008.6 168.6 1003.7 168.7 997.3 168.8 990.8 168.9 984.3 169 977.8 169 971.4 169 964.9 169 958.4 169 951.9 168.9 945.5 168.8 939 168.7 932.5 168.6 926 168.5 921.2 168.3 914.7 168.1 908.2 167.9 901.8 167.7 895.3 167.4 888.8 167.1 882.3 166.8 875.9 166.5 869.4 166.2 864.5 165.8 858 165.4 851.6 165 845.1 164.5 838.6 164.1 832.8 163.7 827.3 163.2 820.8 162.6 814.3 162.1 807.9 161.6 803 161 796.5 160.4 790.1 159.8 783.6 159.3 778.7 158.6 772.2 157.9 765.8 157.4 760.9 156.6 754.4 155.9 748 155.3 743.1 154.5 736.6 153.7 730.2 153.1 725.3 152.2 718.8 151.3 712.4 150.7 707.5" fill="none" stroke="#1a1a1a" stroke-width="1" stroke-opacity=".85"/>
<path d="M195.7 1096 196.2 1089.5 196.8 1083 197.1 1078.2 197.6 1071.7 198 1065.2 198.4 1058.8 198.8 1052.3 199.2 1045.8 199.4 1041 199.8 1034.5 200.1 1028 200.3 1021.5 200.5 1015.1 200.8 1008.6 200.9 1002.1 201.1 995.6 201.2 989.2 201.3 982.7 201.4 976.2 201.4 969.7 201.4 963.3 201.4 956.8 201.4 950.3 201.3 943.8 201.2 937.4 201.1 930.9 200.9 924.4 200.7 917.9 200.5 911.5 200.3 905 200 898.5 199.7 892 199.4 885.6 199.1 880.7 198.8 874.2 198.4 867.8 198 861.3 197.5 854.8 197.1 849.2 196.7 843.5 196.1 837 195.6 830.5 195 824 194.6 819.2 194 812.7 193.3 806.2 192.7 800.1 192.2 794.9 191.4 788.4 190.7 782 190.1 777.1 189.4 770.6 188.6 764.2 188 759.3 187.1 752.8 186.3 746.3 185.6 741.5 184.7 735 183.9 729.5 183.1 723.7 182.1 717.2 181.4 712.4 180.6 707.5" fill="none" stroke="#1a1a1a" stroke-width="1" stroke-opacity=".85"/>
<path d="M655 1096 654.6 1091.1 654.1 1084.7 653.6 1078.2 653.1 1071.7 652.7 1065.2 652.4 1060.4 652 1053.9 651.6 1047.4 651.2 1041 650.9 1034.5 650.6 1028 650.4 1021.5 650.2 1016.7 650 1010.2 649.8 1003.7 649.7 997.3 649.5 990.8 649.4 984.3 649.3 977.8 649.3 971.4 649.3 964.9 649.3 958.4 649.3 951.9 649.4 945.5 649.5 939 649.6 932.5 649.8 926 649.9 919.6 650.1 913.1 650.3 908.2 650.6 901.8 650.8 895.3 651.1 888.8 651.5 882.3 651.8 875.9 652.2 869.4 652.5 864.5 653 858 653.4 851.6 653.9 845.1 654.4 838.6 654.8 833.8 655.4 827.3 656 820.8 656.6 814.3 657 809.5 657.7 803 658.4 796.5 659.1 790.1 659.6 785.2 660.4 778.7 661.1 772.2 661.7 767.4 662.5 760.9 663.4 754.4 664 749.6 664.9 743.1 665.7 737.2 666.5 731.8 667.4 725.3 668.1 720.5 669.1 714 670.1 707.5" fill="none" stroke="#1a1a1a" stroke-width="1" stroke-opacity=".85"/>
<path d="M232.5 1096 233.2 1089.5 233.8 1083 234.4 1076.6 234.8 1071.7 235.3 1065.2 235.8 1058.8 236.3 1052.3 236.7 1045.8 237 1041 237.4 1034.5 237.7 1028 238 1021.5 238.3 1015.1 238.6 1008.6 238.8 1002.1 238.9 997.3 239.1 990.8 239.2 984.3 239.3 977.8 239.3 971.4 239.4 964.9 239.4 958.4 239.3 951.9 239.2 945.5 239.1 939 239 932.5 238.8 927.6 238.6 921.2 238.4 914.7 238.1 908.2 237.8 901.8 237.5 895.3 237.1 888.8 236.7 882.3 236.4 877.5 236 871 235.5 864.5 235 858 234.5 852.7 234 846.7 233.4 840.2 232.7 833.8 232.2 828.9 231.6 822.4 230.8 816 230.1 809.5 229.5 804.6 228.7 798.2 227.9 791.7 227.3 786.8 226.4 780.3 225.7 775.4 224.8 769 223.9 762.5 223.1 757.7 222.1 751.2 221.3 745.9 220.3 739.9 219.3 733.4 218.5 728.5 217.4 722.1 216.5 717.2 215.4 710.7 214.8 707.5" fill="none" stroke="#1a1a1a" stroke-width="1" stroke-opacity=".85"/>
<path d="M618.2 1096 617.5 1089.5 617.1 1084.7 616.5 1078.2 615.9 1071.7 615.4 1065.2 615 1060.4 614.5 1053.9 614.1 1047.4 613.7 1041 613.3 1034.5 613 1028 612.7 1023.2 612.4 1016.7 612.2 1010.2 612 1003.7 611.8 997.3 611.6 990.8 611.5 984.3 611.4 977.8 611.4 971.4 611.3 964.9 611.3 958.4 611.4 951.9 611.5 945.5 611.6 939 611.7 932.5 611.9 926 612.1 919.6 612.4 913.1 612.6 906.6 612.9 901 613.2 895.3 613.6 888.8 614 882.3 614.4 875.9 614.9 869.4 615.2 864.5 615.7 858 616.3 851.6 616.9 845.1 617.3 840.2 618 833.8 618.6 827.3 619.3 820.8 619.9 816 620.6 809.5 621.4 803 622 798.2 622.8 791.7 623.7 785.2 624.3 780.3 625.2 773.9 626.1 767.7 626.8 762.5 627.8 756.1 628.6 751.2 629.6 744.7 630.5 739.1 631.4 733.4 632.5 726.9 633.3 722.1 634.5 715.6 635.3 710.7 635.9 707.5" fill="none" stroke="#1a1a1a" stroke-width="1" stroke-opacity=".85"/>
<path d="M278.3 1096 278.9 1091.1 279.7 1084.7 280.5 1078.2 281.1 1073.3 281.8 1066.9 282.5 1060.4 282.9 1055.5 283.5 1049.1 284.1 1042.6 284.6 1036.1 285.1 1029.6 285.4 1024.8 285.8 1018.3 286.2 1011.8 286.5 1005.3 286.7 998.9 287 992.4 287.1 985.9 287.3 979.5 287.3 974.6 287.4 968.1 287.4 961.6 287.3 955.2 287.3 950.3 287.2 943.8 287 937.4 286.8 930.9 286.6 924.4 286.3 917.9 285.9 911.5 285.5 905 285.1 898.5 284.8 893.7 284.3 887.2 283.7 880.7 283.1 874.2 282.7 869.4 282 862.9 281.3 856.4 280.7 850.9 280 845.1 279.2 838.6 278.5 833.2 277.7 827.3 276.8 820.8 276.1 816 275.1 809.5 274.1 803 273.3 798.2 272.3 791.7 271.5 786.8 270.3 780.3 269.5 775.5 268.3 769 267.4 764.2 266.2 757.7 265.2 752.8 263.9 746.3 263 741.5 261.6 735 260.6 730.2 259.2 723.7 258.2 718.8 256.8 712.4 255.7 707.5" fill="none" stroke="#1a1a1a" stroke-width="1" stroke-opacity=".85"/>
<path d="M572.4 1096 571.6 1089.5 571 1084.7 570.2 1078.2 569.4 1071.7 568.9 1066.8 568.2 1060.4 567.6 1053.9 567 1047.4 566.6 1042.6 566.1 1036.1 565.6 1029.6 565.2 1023.2 564.8 1016.7 564.5 1010.9 564.2 1005.3 564 998.9 563.7 992.4 563.6 985.9 563.4 979.5 563.4 973 563.3 966.5 563.3 960 563.4 953.6 563.5 947.1 563.6 940.6 563.8 934.1 564 927.6 564.3 921.2 564.5 916.3 564.9 909.8 565.3 903.4 565.7 896.9 566.2 890.4 566.7 883.9 567.1 879.1 567.7 872.6 568.3 866.1 568.9 860.8 569.6 854.8 570.3 848.3 571.1 841.9 571.7 837 572.6 830.5 573.3 825.1 574.1 819.2 575.1 812.7 575.8 807.9 576.8 801.4 577.7 796 578.7 790.1 579.8 783.6 580.6 778.7 581.8 772.2 582.7 767.4 583.9 760.9 584.8 756.1 586.1 749.6 587.1 744.7 588.4 738.3 589.4 733.4 590.8 726.9 591.8 722.1 593.1 716.1 594.3 710.7 595 707.5" fill="none" stroke="#1a1a1a" stroke-width="1" stroke-opacity=".85"/>
<path d="M347.4 1096 348.9 1090.1 350.2 1084.7 351.4 1079.8 352.9 1073.3 353.9 1068.5 355.3 1062 356.3 1057.2 357.6 1050.7 358.5 1045.8 359.6 1039.3 360.4 1034.5 361.4 1028 362.1 1023.2 363 1016.7 363.7 1010.2 364.3 1004.9 364.9 998.9 365.4 992.4 365.8 985.9 366.1 979.5 366.3 973 366.4 966.5 366.4 960 366.3 953.6 366 947.1 365.7 940.6 365.3 934.1 364.8 927.6 364.3 922.7 363.6 916.3 362.8 909.8 362.1 904.4 361.3 898.5 360.2 892 359.4 887.2 358.3 880.7 357.4 875.9 356.1 869.4 355.1 864.5 353.7 858 352.6 853.2 351.1 846.7 350 841.9 348.8 837 347.2 830.5 345.9 825.7 344.5 820.2 342.9 814.3 341.6 809.5 340.1 804 338.5 798.2 337.1 793.3 335.7 788.4 333.8 782 332.4 777.1 330.9 772.2 329.1 766.3 327.4 760.9 326 756.1 324.4 751.2 322.5 745.1 320.9 739.9 319.3 735 317.8 730.2 315.9 724.5 314.1 718.8 312.5 714 310.9 709.1 310.3 707.5" fill="none" stroke="#1a1a1a" stroke-width="1" stroke-opacity=".85"/>
<path d="M503.3 1096 502 1091.1 500.7 1085.6 499.3 1079.8 498.2 1075 496.8 1068.5 495.7 1063.6 494.4 1057.2 493.4 1052.3 492.2 1045.8 491.4 1041 490.3 1034.5 489.5 1029.6 488.6 1023.2 487.7 1016.7 487.1 1011.8 486.4 1005.3 485.8 998.9 485.3 992.4 485 987.5 484.7 981.1 484.4 974.6 484.3 968.1 484.3 961.6 484.4 955.2 484.6 948.7 484.9 942.2 485.3 935.7 485.7 930.9 486.2 924.4 486.9 917.9 487.5 912.8 488.3 906.6 489.2 900.1 489.9 895.3 491 888.8 491.9 883.7 493 877.5 494.1 872 495.3 866.1 496.3 861.3 497.7 854.8 498.8 849.9 500.3 843.5 501.5 838.6 502.9 833 504.4 827.3 505.6 822.4 507.3 816.1 508.6 811.1 510 806.2 511.7 800 513.1 794.9 514.5 790.1 516.1 784.7 517.9 778.7 519.3 773.9 520.8 769 522.7 762.7 524.2 757.7 525.8 752.8 527.3 748 529.3 741.6 530.9 736.6 532.4 731.8 534 726.9 535.9 721.1 537.7 715.6 539.3 710.7 540.4 707.5" fill="none" stroke="#1a1a1a" stroke-width="1" stroke-opacity=".85"/>
<rect x="146.5" y="707.5" width="528" height="388.5" fill="none" stroke="#333" stroke-width="1"/>
<text x="146.5" y="1136.5" font-size="28" text-anchor="middle" fill="#000">25.00</text>
<text x="252.1" y="1136.5" font-size="28" text-anchor="middle" fill="#000">27.00</text>
<text x="357.7" y="1136.5" font-size="28" text-anchor="middle" fill="#000">29.00</text>
<text x="463.3" y="1136.5" font-size="28" text-anchor="middle" fill="#000">31.00</text>
<text x="568.9" y="1136.5" font-size="28" text-anchor="middle" fill="#000">33.00</text>
<text x="674.5" y="1136.5" font-size="28" text-anchor="middle" fill="#000">35.00</text>
<text x="125" y="1103" font-size="28" text-anchor="end" fill="#000">1.50</text>
<text x="125" y="1025.3" font-size="28" text-anchor="end" fill="#000">1.70</text>
<text x="125" y="947.6" font-size="28" text-anchor="end" fill="#000">1.90</text>
<text x="125" y="869.9" font-size="28" text-anchor="end" fill="#000">2.10</text>
<text x="125" y="792.2" font-size="28" text-anchor="end" fill="#000">2.30</text>
<text x="125" y="714.5" font-size="28" text-anchor="end" fill="#000">2.50</text>
<path d="M146.5 1096v10M252.1 1096v10M357.7 1096v10M463.3 1096v10M568.9 1096v10M674.5 1096v10M146.5 1096h-15M146.5 1018.3h-15M146.5 940.6h-15M146.5 862.9h-15M146.5 785.2h-15M146.5 707.5h-15" stroke="#666" stroke-width="1.2" fill="none"/>
<circle cx="146.5" cy="707.5" r="4.6" fill="#f00"/>
<circle cx="674.5" cy="707.5" r="4.6" fill="#f00"/>
<circle cx="146.5" cy="1096" r="4.6" fill="#f00"/>
<circle cx="674.5" cy="1096" r="4.6" fill="#f00"/>
<text x="373" y="693" font-size="31" text-anchor="middle" fill="#000">pH</text>
<text x="396" y="1172" font-size="32" text-anchor="middle" fill="#000">A: Temperature</text>
<text transform="translate(63.9,984.4) rotate(-90) scale(1,1.05)" font-size="31.6">C: COD/SO<tspan font-size="19.6" dy="10.6">4</tspan><tspan font-size="20.5" dy="-21.4">2-</tspan></text>
<circle cx="410" cy="901.5" r="4.6" fill="#f00"/>
<text x="389" y="902" font-size="23" text-anchor="start" fill="#000">5</text>
<rect x="148.5" y="869.2" width="38" height="27.5" fill="#fff" stroke="#333" stroke-width="1"/>
<text x="167.5" y="891.1" font-size="24.5" text-anchor="middle" fill="#000">7.9</text>
<rect x="189.2" y="873.2" width="19.5" height="27.5" fill="#fff" stroke="#333" stroke-width="1"/>
<text x="199" y="895.1" font-size="24.5" text-anchor="middle" fill="#000">8</text>
<rect x="216.5" y="869.2" width="38" height="27.5" fill="#fff" stroke="#333" stroke-width="1"/>
<text x="235.5" y="891.1" font-size="24.5" text-anchor="middle" fill="#000">8.1</text>
<rect x="263" y="869.2" width="38" height="27.5" fill="#fff" stroke="#333" stroke-width="1"/>
<text x="282" y="891.1" font-size="24.5" text-anchor="middle" fill="#000">8.2</text>
<rect x="338" y="863.2" width="38" height="27.5" fill="#fff" stroke="#333" stroke-width="1"/>
<text x="357" y="885.1" font-size="24.5" text-anchor="middle" fill="#000">8.3</text>
<rect x="470" y="869.2" width="38" height="27.5" fill="#fff" stroke="#333" stroke-width="1"/>
<text x="489" y="891.1" font-size="24.5" text-anchor="middle" fill="#000">8.3</text>
<rect x="544.5" y="869.2" width="38" height="27.5" fill="#fff" stroke="#333" stroke-width="1"/>
<text x="563.5" y="891.1" font-size="24.5" text-anchor="middle" fill="#000">8.2</text>
<rect x="590" y="869.2" width="38" height="27.5" fill="#fff" stroke="#333" stroke-width="1"/>
<text x="609" y="891.1" font-size="24.5" text-anchor="middle" fill="#000">8.1</text>
<rect x="638.2" y="872.8" width="19.5" height="27.5" fill="#fff" stroke="#333" stroke-width="1"/>
<text x="648" y="894.6" font-size="24.5" text-anchor="middle" fill="#000">8</text>
<text x="48.5" y="1231.5" font-size="34.3">(c) Contour plots of temperature and COD/SO<tspan font-size="21.5" dy="10.7">4</tspan><tspan font-size="21.5" dy="-21.4">2-</tspan></text>
<text x="274" y="1291.5" font-size="34.3" text-anchor="start" fill="#000">influenced pH</text>
<defs><linearGradient id="peg0" gradientUnits="userSpaceOnUse" x1="157.5" x2="684.5" y1="0" y2="0"><stop offset="0" stop-color="#0bff00"/><stop offset="0.0312" stop-color="#15ff00"/><stop offset="0.0625" stop-color="#20ff00"/><stop offset="0.0938" stop-color="#2cff00"/><stop offset="0.125" stop-color="#37ff00"/><stop offset="0.156" stop-color="#43ff00"/><stop offset="0.188" stop-color="#4fff00"/><stop offset="0.219" stop-color="#5bff00"/><stop offset="0.25" stop-color="#68ff00"/><stop offset="0.281" stop-color="#75ff00"/><stop offset="0.312" stop-color="#82ff00"/><stop offset="0.344" stop-color="#8fff00"/><stop offset="0.375" stop-color="#9cff00"/><stop offset="0.406" stop-color="#aaff00"/><stop offset="0.438" stop-color="#b8ff00"/><stop offset="0.469" stop-color="#c7ff00"/><stop offset="0.5" stop-color="#d5ff00"/><stop offset="0.531" stop-color="#e4ff00"/><stop offset="0.562" stop-color="#f3ff00"/><stop offset="0.594" stop-color="#fffc00"/><stop offset="0.625" stop-color="#ffed00"/><stop offset="0.656" stop-color="#ffdd00"/><stop offset="0.688" stop-color="#ffcd00"/><stop offset="0.719" stop-color="#ffbd00"/><stop offset="0.75" stop-color="#ffac00"/><stop offset="0.781" stop-color="#ff9b00"/><stop offset="0.812" stop-color="#ff8a00"/><stop offset="0.844" stop-color="#ff7900"/><stop offset="0.875" stop-color="#ff6800"/><stop offset="0.906" stop-color="#ff5600"/><stop offset="0.938" stop-color="#ff4400"/><stop offset="0.969" stop-color="#ff3200"/><stop offset="1" stop-color="#ff2000"/></linearGradient><linearGradient id="peg1" gradientUnits="userSpaceOnUse" x1="157.5" x2="684.5" y1="0" y2="0"><stop offset="0" stop-color="#04ff00"/><stop offset="0.0312" stop-color="#0fff00"/><stop offset="0.0625" stop-color="#1aff00"/><stop offset="0.0938" stop-color="#25ff00"/><stop offset="0.125" stop-color="#31ff00"/><stop offset="0.156" stop-color="#3cff00"/><stop offset="0.188" stop-color="#48ff00"/><stop offset="0.219" stop-color="#55ff00"/><stop offset="0.25" stop-color="#61ff00"/><stop offset="0.281" stop-color="#6eff00"/><stop offset="0.312" stop-color="#7bff00"/><stop offset="0.344" stop-color="#88ff00"/><stop offset="0.375" stop-color="#96ff00"/><stop offset="0.406" stop-color="#a3ff00"/><stop offset="0.438" stop-color="#b1ff00"/><stop offset="0.469" stop-color="#c0ff00"/><stop offset="0.5" stop-color="#ceff00"/><stop offset="0.531" stop-color="#ddff00"/><stop offset="0.562" stop-color="#ecff00"/><stop offset="0.594" stop-color="#fbff00"/><stop offset="0.625" stop-color="#fff400"/><stop offset="0.656" stop-color="#ffe400"/><stop offset="0.688" stop-color="#ffd400"/><stop offset="0.719" stop-color="#ffc400"/><stop offset="0.75" stop-color="#ffb300"/><stop offset="0.781" stop-color="#ffa300"/><stop offset="0.812" stop-color="#ff9200"/><stop offset="0.844" stop-color="#ff8000"/><stop offset="0.875" stop-color="#ff6f00"/><stop offset="0.906" stop-color="#ff5d00"/><stop offset="0.938" stop-color="#ff4b00"/><stop offset="0.969" stop-color="#ff3900"/><stop offset="1" stop-color="#ff2700"/></linearGradient><linearGradient id="peg2" gradientUnits="userSpaceOnUse" x1="157.5" x2="684.5" y1="0" y2="0"><stop offset="0" stop-color="#00ff02"/><stop offset="0.0312" stop-color="#09ff00"/><stop offset="0.0625" stop-color="#14ff00"/><stop offset="0.0938" stop-color="#1fff00"/><stop offset="0.125" stop-color="#2bff00"/><stop offset="0.156" stop-color="#36ff00"/><stop offset="0.188" stop-color="#42ff00"/><stop offset="0.219" stop-color="#4fff00"/><stop offset="0.25" stop-color="#5bff00"/><stop offset="0.281" stop-color="#68ff00"/><stop offset="0.312" stop-color="#75ff00"/><stop offset="0.344" stop-color="#82ff00"/><stop offset="0.375" stop-color="#8fff00"/><stop offset="0.406" stop-color="#9dff00"/><stop offset="0.438" stop-color="#abff00"/><stop offset="0.469" stop-color="#b9ff00"/><stop offset="0.5" stop-color="#c8ff00"/><stop offset="0.531" stop-color="#d6ff00"/><stop offset="0.562" stop-color="#e5ff00"/><stop offset="0.594" stop-color="#f5ff00"/><stop offset="0.625" stop-color="#fffa00"/><stop offset="0.656" stop-color="#ffea00"/><stop offset="0.688" stop-color="#ffda00"/><stop offset="0.719" stop-color="#ffca00"/><stop offset="0.75" stop-color="#ffba00"/><stop offset="0.781" stop-color="#ffa900"/><stop offset="0.812" stop-color="#ff9800"/><stop offset="0.844" stop-color="#ff8700"/><stop offset="0.875" stop-color="#ff7600"/><stop offset="0.906" stop-color="#ff6400"/><stop offset="0.938" stop-color="#ff5200"/><stop offset="0.969" stop-color="#ff4000"/><stop offset="1" stop-color="#ff2e00"/></linearGradient><linearGradient id="peg3" gradientUnits="userSpaceOnUse" x1="157.5" x2="684.5" y1="0" y2="0"><stop offset="0" stop-color="#00ff07"/><stop offset="0.0312" stop-color="#03ff00"/><stop offset="0.0625" stop-color="#0eff00"/><stop offset="0.0938" stop-color="#19ff00"/><stop offset="0.125" stop-color="#25ff00"/><stop offset="0.156" stop-color="#31ff00"/><stop offset="0.188" stop-color="#3dff00"/><stop offset="0.219" stop-color="#49ff00"/><stop offset="0.25" stop-color="#55ff00"/><stop offset="0.281" stop-color="#62ff00"/><stop offset="0.312" stop-color="#6fff00"/><stop offset="0.344" stop-color="#7cff00"/><stop offset="0.375" stop-color="#8aff00"/><stop offset="0.406" stop-color="#97ff00"/><stop offset="0.438" stop-color="#a5ff00"/><stop offset="0.469" stop-color="#b3ff00"/><stop offset="0.5" stop-color="#c2ff00"/><stop offset="0.531" stop-color="#d0ff00"/><stop offset="0.562" stop-color="#dfff00"/><stop offset="0.594" stop-color="#efff00"/><stop offset="0.625" stop-color="#feff00"/><stop offset="0.656" stop-color="#fff000"/><stop offset="0.688" stop-color="#ffe100"/><stop offset="0.719" stop-color="#ffd000"/><stop offset="0.75" stop-color="#ffc000"/><stop offset="0.781" stop-color="#ffaf00"/><stop offset="0.812" stop-color="#ff9e00"/><stop offset="0.844" stop-color="#ff8d00"/><stop offset="0.875" stop-color="#ff7c00"/><stop offset="0.906" stop-color="#ff6a00"/><stop offset="0.938" stop-color="#ff5800"/><stop offset="0.969" stop-color="#ff4600"/><stop offset="1" stop-color="#ff3400"/></linearGradient><linearGradient id="peg4" gradientUnits="userSpaceOnUse" x1="157.5" x2="684.5" y1="0" y2="0"><stop offset="0" stop-color="#00ff0d"/><stop offset="0.0312" stop-color="#00ff02"/><stop offset="0.0625" stop-color="#09ff00"/><stop offset="0.0938" stop-color="#14ff00"/><stop offset="0.125" stop-color="#20ff00"/><stop offset="0.156" stop-color="#2bff00"/><stop offset="0.188" stop-color="#37ff00"/><stop offset="0.219" stop-color="#44ff00"/><stop offset="0.25" stop-color="#50ff00"/><stop offset="0.281" stop-color="#5dff00"/><stop offset="0.312" stop-color="#6aff00"/><stop offset="0.344" stop-color="#77ff00"/><stop offset="0.375" stop-color="#84ff00"/><stop offset="0.406" stop-color="#92ff00"/><stop offset="0.438" stop-color="#a0ff00"/><stop offset="0.469" stop-color="#aeff00"/><stop offset="0.5" stop-color="#bcff00"/><stop offset="0.531" stop-color="#cbff00"/><stop offset="0.562" stop-color="#daff00"/><stop offset="0.594" stop-color="#e9ff00"/><stop offset="0.625" stop-color="#f8ff00"/><stop offset="0.656" stop-color="#fff600"/><stop offset="0.688" stop-color="#ffe600"/><stop offset="0.719" stop-color="#ffd600"/><stop offset="0.75" stop-color="#ffc600"/><stop offset="0.781" stop-color="#ffb500"/><stop offset="0.812" stop-color="#ffa400"/><stop offset="0.844" stop-color="#ff9300"/><stop offset="0.875" stop-color="#ff8200"/><stop offset="0.906" stop-color="#ff7000"/><stop offset="0.938" stop-color="#ff5e00"/><stop offset="0.969" stop-color="#ff4c00"/><stop offset="1" stop-color="#ff3a00"/></linearGradient><linearGradient id="peg5" gradientUnits="userSpaceOnUse" x1="157.5" x2="684.5" y1="0" y2="0"><stop offset="0" stop-color="#00ff11"/><stop offset="0.0312" stop-color="#00ff07"/><stop offset="0.0625" stop-color="#04ff00"/><stop offset="0.0938" stop-color="#10ff00"/><stop offset="0.125" stop-color="#1bff00"/><stop offset="0.156" stop-color="#27ff00"/><stop offset="0.188" stop-color="#33ff00"/><stop offset="0.219" stop-color="#3fff00"/><stop offset="0.25" stop-color="#4bff00"/><stop offset="0.281" stop-color="#58ff00"/><stop offset="0.312" stop-color="#65ff00"/><stop offset="0.344" stop-color="#72ff00"/><stop offset="0.375" stop-color="#7fff00"/><stop offset="0.406" stop-color="#8dff00"/><stop offset="0.438" stop-color="#9bff00"/><stop offset="0.469" stop-color="#a9ff00"/><stop offset="0.5" stop-color="#b7ff00"/><stop offset="0.531" stop-color="#c6ff00"/><stop offset="0.562" stop-color="#d5ff00"/><stop offset="0.594" stop-color="#e4ff00"/><stop offset="0.625" stop-color="#f3ff00"/><stop offset="0.656" stop-color="#fffb00"/><stop offset="0.688" stop-color="#ffeb00"/><stop offset="0.719" stop-color="#ffdb00"/><stop offset="0.75" stop-color="#ffcb00"/><stop offset="0.781" stop-color="#ffba00"/><stop offset="0.812" stop-color="#ffa900"/><stop offset="0.844" stop-color="#ff9800"/><stop offset="0.875" stop-color="#ff8700"/><stop offset="0.906" stop-color="#ff7500"/><stop offset="0.938" stop-color="#ff6400"/><stop offset="0.969" stop-color="#ff5200"/><stop offset="1" stop-color="#ff3f00"/></linearGradient><linearGradient id="peg6" gradientUnits="userSpaceOnUse" x1="157.5" x2="684.5" y1="0" y2="0"><stop offset="0" stop-color="#00ff15"/><stop offset="0.0312" stop-color="#00ff0b"/><stop offset="0.0625" stop-color="#00ff00"/><stop offset="0.0938" stop-color="#0bff00"/><stop offset="0.125" stop-color="#17ff00"/><stop offset="0.156" stop-color="#22ff00"/><stop offset="0.188" stop-color="#2eff00"/><stop offset="0.219" stop-color="#3aff00"/><stop offset="0.25" stop-color="#47ff00"/><stop offset="0.281" stop-color="#53ff00"/><stop offset="0.312" stop-color="#60ff00"/><stop offset="0.344" stop-color="#6dff00"/><stop offset="0.375" stop-color="#7bff00"/><stop offset="0.406" stop-color="#88ff00"/><stop offset="0.438" stop-color="#96ff00"/><stop offset="0.469" stop-color="#a4ff00"/><stop offset="0.5" stop-color="#b3ff00"/><stop offset="0.531" stop-color="#c1ff00"/><stop offset="0.562" stop-color="#d0ff00"/><stop offset="0.594" stop-color="#dfff00"/><stop offset="0.625" stop-color="#efff00"/><stop offset="0.656" stop-color="#feff00"/><stop offset="0.688" stop-color="#fff000"/><stop offset="0.719" stop-color="#ffe000"/><stop offset="0.75" stop-color="#ffd000"/><stop offset="0.781" stop-color="#ffbf00"/><stop offset="0.812" stop-color="#ffae00"/><stop offset="0.844" stop-color="#ff9d00"/><stop offset="0.875" stop-color="#ff8c00"/><stop offset="0.906" stop-color="#ff7a00"/><stop offset="0.938" stop-color="#ff6900"/><stop offset="0.969" stop-color="#ff5600"/><stop offset="1" stop-color="#ff4400"/></linearGradient><linearGradient id="peg7" gradientUnits="userSpaceOnUse" x1="157.5" x2="684.5" y1="0" y2="0"><stop offset="0" stop-color="#00ff19"/><stop offset="0.0312" stop-color="#00ff0e"/><stop offset="0.0625" stop-color="#00ff04"/><stop offset="0.0938" stop-color="#08ff00"/><stop offset="0.125" stop-color="#13ff00"/><stop offset="0.156" stop-color="#1fff00"/><stop offset="0.188" stop-color="#2aff00"/><stop offset="0.219" stop-color="#36ff00"/><stop offset="0.25" stop-color="#43ff00"/><stop offset="0.281" stop-color="#4fff00"/><stop offset="0.312" stop-color="#5cff00"/><stop offset="0.344" stop-color="#69ff00"/><stop offset="0.375" stop-color="#77ff00"/><stop offset="0.406" stop-color="#84ff00"/><stop offset="0.438" stop-color="#92ff00"/><stop offset="0.469" stop-color="#a0ff00"/><stop offset="0.5" stop-color="#afff00"/><stop offset="0.531" stop-color="#bdff00"/><stop offset="0.562" stop-color="#ccff00"/><stop offset="0.594" stop-color="#dbff00"/><stop offset="0.625" stop-color="#eaff00"/><stop offset="0.656" stop-color="#faff00"/><stop offset="0.688" stop-color="#fff400"/><stop offset="0.719" stop-color="#ffe400"/><stop offset="0.75" stop-color="#ffd400"/><stop offset="0.781" stop-color="#ffc300"/><stop offset="0.812" stop-color="#ffb300"/><stop offset="0.844" stop-color="#ffa200"/><stop offset="0.875" stop-color="#ff9000"/><stop offset="0.906" stop-color="#ff7f00"/><stop offset="0.938" stop-color="#ff6d00"/><stop offset="0.969" stop-color="#ff5b00"/><stop offset="1" stop-color="#ff4900"/></linearGradient><linearGradient id="peg8" gradientUnits="userSpaceOnUse" x1="157.5" x2="684.5" y1="0" y2="0"><stop offset="0" stop-color="#00ff1c"/><stop offset="0.0312" stop-color="#00ff12"/><stop offset="0.0625" stop-color="#00ff07"/><stop offset="0.0938" stop-color="#04ff00"/><stop offset="0.125" stop-color="#10ff00"/><stop offset="0.156" stop-color="#1bff00"/><stop offset="0.188" stop-color="#27ff00"/><stop offset="0.219" stop-color="#33ff00"/><stop offset="0.25" stop-color="#3fff00"/><stop offset="0.281" stop-color="#4cff00"/><stop offset="0.312" stop-color="#59ff00"/><stop offset="0.344" stop-color="#66ff00"/><stop offset="0.375" stop-color="#73ff00"/><stop offset="0.406" stop-color="#81ff00"/><stop offset="0.438" stop-color="#8fff00"/><stop offset="0.469" stop-color="#9dff00"/><stop offset="0.5" stop-color="#abff00"/><stop offset="0.531" stop-color="#baff00"/><stop offset="0.562" stop-color="#c8ff00"/><stop offset="0.594" stop-color="#d7ff00"/><stop offset="0.625" stop-color="#e7ff00"/><stop offset="0.656" stop-color="#f6ff00"/><stop offset="0.688" stop-color="#fff800"/><stop offset="0.719" stop-color="#ffe800"/><stop offset="0.75" stop-color="#ffd800"/><stop offset="0.781" stop-color="#ffc700"/><stop offset="0.812" stop-color="#ffb600"/><stop offset="0.844" stop-color="#ffa500"/><stop offset="0.875" stop-color="#ff9400"/><stop offset="0.906" stop-color="#ff8300"/><stop offset="0.938" stop-color="#ff7100"/><stop offset="0.969" stop-color="#ff5f00"/><stop offset="1" stop-color="#ff4d00"/></linearGradient><linearGradient id="peg9" gradientUnits="userSpaceOnUse" x1="157.5" x2="684.5" y1="0" y2="0"><stop offset="0" stop-color="#00ff1f"/><stop offset="0.0312" stop-color="#00ff15"/><stop offset="0.0625" stop-color="#00ff0a"/><stop offset="0.0938" stop-color="#01ff00"/><stop offset="0.125" stop-color="#0dff00"/><stop offset="0.156" stop-color="#18ff00"/><stop offset="0.188" stop-color="#24ff00"/><stop offset="0.219" stop-color="#30ff00"/><stop offset="0.25" stop-color="#3cff00"/><stop offset="0.281" stop-color="#49ff00"/><stop offset="0.312" stop-color="#56ff00"/><stop offset="0.344" stop-color="#63ff00"/><stop offset="0.375" stop-color="#70ff00"/><stop offset="0.406" stop-color="#7eff00"/><stop offset="0.438" stop-color="#8bff00"/><stop offset="0.469" stop-color="#9aff00"/><stop offset="0.5" stop-color="#a8ff00"/><stop offset="0.531" stop-color="#b6ff00"/><stop offset="0.562" stop-color="#c5ff00"/><stop offset="0.594" stop-color="#d4ff00"/><stop offset="0.625" stop-color="#e3ff00"/><stop offset="0.656" stop-color="#f3ff00"/><stop offset="0.688" stop-color="#fffb00"/><stop offset="0.719" stop-color="#ffeb00"/><stop offset="0.75" stop-color="#ffdb00"/><stop offset="0.781" stop-color="#ffcb00"/><stop offset="0.812" stop-color="#ffba00"/><stop offset="0.844" stop-color="#ffa900"/><stop offset="0.875" stop-color="#ff9800"/><stop offset="0.906" stop-color="#ff8600"/><stop offset="0.938" stop-color="#ff7400"/><stop offset="0.969" stop-color="#ff6200"/><stop offset="1" stop-color="#ff5000"/></linearGradient><linearGradient id="peg10" gradientUnits="userSpaceOnUse" x1="157.5" x2="684.5" y1="0" y2="0"><stop offset="0" stop-color="#00ff21"/><stop offset="0.0312" stop-color="#00ff17"/><stop offset="0.0625" stop-color="#00ff0c"/><stop offset="0.0938" stop-color="#00ff01"/><stop offset="0.125" stop-color="#0aff00"/><stop offset="0.156" stop-color="#16ff00"/><stop offset="0.188" stop-color="#22ff00"/><stop offset="0.219" stop-color="#2eff00"/><stop offset="0.25" stop-color="#3aff00"/><stop offset="0.281" stop-color="#46ff00"/><stop offset="0.312" stop-color="#53ff00"/><stop offset="0.344" stop-color="#60ff00"/><stop offset="0.375" stop-color="#6eff00"/><stop offset="0.406" stop-color="#7bff00"/><stop offset="0.438" stop-color="#89ff00"/><stop offset="0.469" stop-color="#97ff00"/><stop offset="0.5" stop-color="#a5ff00"/><stop offset="0.531" stop-color="#b4ff00"/><stop offset="0.562" stop-color="#c2ff00"/><stop offset="0.594" stop-color="#d1ff00"/><stop offset="0.625" stop-color="#e1ff00"/><stop offset="0.656" stop-color="#f0ff00"/><stop offset="0.688" stop-color="#fffe00"/><stop offset="0.719" stop-color="#ffee00"/><stop offset="0.75" stop-color="#ffde00"/><stop offset="0.781" stop-color="#ffce00"/><stop offset="0.812" stop-color="#ffbd00"/><stop offset="0.844" stop-color="#ffac00"/><stop offset="0.875" stop-color="#ff9b00"/><stop offset="0.906" stop-color="#ff8900"/><stop offset="0.938" stop-color="#ff7700"/><stop offset="0.969" stop-color="#ff6600"/><stop offset="1" stop-color="#ff5300"/></linearGradient><linearGradient id="peg11" gradientUnits="userSpaceOnUse" x1="157.5" x2="684.5" y1="0" y2="0"><stop offset="0" stop-color="#00ff23"/><stop offset="0.0312" stop-color="#00ff19"/><stop offset="0.0625" stop-color="#00ff0e"/><stop offset="0.0938" stop-color="#00ff03"/><stop offset="0.125" stop-color="#08ff00"/><stop offset="0.156" stop-color="#14ff00"/><stop offset="0.188" stop-color="#20ff00"/><stop offset="0.219" stop-color="#2cff00"/><stop offset="0.25" stop-color="#38ff00"/><stop offset="0.281" stop-color="#44ff00"/><stop offset="0.312" stop-color="#51ff00"/><stop offset="0.344" stop-color="#5eff00"/><stop offset="0.375" stop-color="#6bff00"/><stop offset="0.406" stop-color="#79ff00"/><stop offset="0.438" stop-color="#87ff00"/><stop offset="0.469" stop-color="#95ff00"/><stop offset="0.5" stop-color="#a3ff00"/><stop offset="0.531" stop-color="#b1ff00"/><stop offset="0.562" stop-color="#c0ff00"/><stop offset="0.594" stop-color="#cfff00"/><stop offset="0.625" stop-color="#deff00"/><stop offset="0.656" stop-color="#eeff00"/><stop offset="0.688" stop-color="#fdff00"/><stop offset="0.719" stop-color="#fff100"/><stop offset="0.75" stop-color="#ffe000"/><stop offset="0.781" stop-color="#ffd000"/><stop offset="0.812" stop-color="#ffbf00"/><stop offset="0.844" stop-color="#ffae00"/><stop offset="0.875" stop-color="#ff9d00"/><stop offset="0.906" stop-color="#ff8c00"/><stop offset="0.938" stop-color="#ff7a00"/><stop offset="0.969" stop-color="#ff6800"/><stop offset="1" stop-color="#ff5600"/></linearGradient><linearGradient id="peg12" gradientUnits="userSpaceOnUse" x1="157.5" x2="684.5" y1="0" y2="0"><stop offset="0" stop-color="#00ff25"/><stop offset="0.0312" stop-color="#00ff1a"/><stop offset="0.0625" stop-color="#00ff0f"/><stop offset="0.0938" stop-color="#00ff04"/><stop offset="0.125" stop-color="#07ff00"/><stop offset="0.156" stop-color="#12ff00"/><stop offset="0.188" stop-color="#1eff00"/><stop offset="0.219" stop-color="#2aff00"/><stop offset="0.25" stop-color="#36ff00"/><stop offset="0.281" stop-color="#43ff00"/><stop offset="0.312" stop-color="#50ff00"/><stop offset="0.344" stop-color="#5cff00"/><stop offset="0.375" stop-color="#6aff00"/><stop offset="0.406" stop-color="#77ff00"/><stop offset="0.438" stop-color="#85ff00"/><stop offset="0.469" stop-color="#93ff00"/><stop offset="0.5" stop-color="#a1ff00"/><stop offset="0.531" stop-color="#b0ff00"/><stop offset="0.562" stop-color="#beff00"/><stop offset="0.594" stop-color="#cdff00"/><stop offset="0.625" stop-color="#dcff00"/><stop offset="0.656" stop-color="#ecff00"/><stop offset="0.688" stop-color="#fbff00"/><stop offset="0.719" stop-color="#fff300"/><stop offset="0.75" stop-color="#ffe200"/><stop offset="0.781" stop-color="#ffd200"/><stop offset="0.812" stop-color="#ffc100"/><stop offset="0.844" stop-color="#ffb000"/><stop offset="0.875" stop-color="#ff9f00"/><stop offset="0.906" stop-color="#ff8e00"/><stop offset="0.938" stop-color="#ff7c00"/><stop offset="0.969" stop-color="#ff6a00"/><stop offset="1" stop-color="#ff5800"/></linearGradient><linearGradient id="peg13" gradientUnits="userSpaceOnUse" x1="157.5" x2="684.5" y1="0" y2="0"><stop offset="0" stop-color="#00ff26"/><stop offset="0.0312" stop-color="#00ff1b"/><stop offset="0.0625" stop-color="#00ff10"/><stop offset="0.0938" stop-color="#00ff05"/><stop offset="0.125" stop-color="#06ff00"/><stop offset="0.156" stop-color="#11ff00"/><stop offset="0.188" stop-color="#1dff00"/><stop offset="0.219" stop-color="#29ff00"/><stop offset="0.25" stop-color="#35ff00"/><stop offset="0.281" stop-color="#42ff00"/><stop offset="0.312" stop-color="#4eff00"/><stop offset="0.344" stop-color="#5bff00"/><stop offset="0.375" stop-color="#68ff00"/><stop offset="0.406" stop-color="#76ff00"/><stop offset="0.438" stop-color="#84ff00"/><stop offset="0.469" stop-color="#92ff00"/><stop offset="0.5" stop-color="#a0ff00"/><stop offset="0.531" stop-color="#aeff00"/><stop offset="0.562" stop-color="#bdff00"/><stop offset="0.594" stop-color="#ccff00"/><stop offset="0.625" stop-color="#dbff00"/><stop offset="0.656" stop-color="#eaff00"/><stop offset="0.688" stop-color="#faff00"/><stop offset="0.719" stop-color="#fff400"/><stop offset="0.75" stop-color="#ffe400"/><stop offset="0.781" stop-color="#ffd300"/><stop offset="0.812" stop-color="#ffc300"/><stop offset="0.844" stop-color="#ffb200"/><stop offset="0.875" stop-color="#ffa100"/><stop offset="0.906" stop-color="#ff8f00"/><stop offset="0.938" stop-color="#ff7e00"/><stop offset="0.969" stop-color="#ff6c00"/><stop offset="1" stop-color="#ff5a00"/></linearGradient><linearGradient id="peg14" gradientUnits="userSpaceOnUse" x1="157.5" x2="684.5" y1="0" y2="0"><stop offset="0" stop-color="#00ff26"/><stop offset="0.0312" stop-color="#00ff1c"/><stop offset="0.0625" stop-color="#00ff11"/><stop offset="0.0938" stop-color="#00ff06"/><stop offset="0.125" stop-color="#05ff00"/><stop offset="0.156" stop-color="#11ff00"/><stop offset="0.188" stop-color="#1cff00"/><stop offset="0.219" stop-color="#28ff00"/><stop offset="0.25" stop-color="#35ff00"/><stop offset="0.281" stop-color="#41ff00"/><stop offset="0.312" stop-color="#4eff00"/><stop offset="0.344" stop-color="#5bff00"/><stop offset="0.375" stop-color="#68ff00"/><stop offset="0.406" stop-color="#75ff00"/><stop offset="0.438" stop-color="#83ff00"/><stop offset="0.469" stop-color="#91ff00"/><stop offset="0.5" stop-color="#9fff00"/><stop offset="0.531" stop-color="#adff00"/><stop offset="0.562" stop-color="#bcff00"/><stop offset="0.594" stop-color="#cbff00"/><stop offset="0.625" stop-color="#daff00"/><stop offset="0.656" stop-color="#e9ff00"/><stop offset="0.688" stop-color="#f9ff00"/><stop offset="0.719" stop-color="#fff500"/><stop offset="0.75" stop-color="#ffe500"/><stop offset="0.781" stop-color="#ffd500"/><stop offset="0.812" stop-color="#ffc400"/><stop offset="0.844" stop-color="#ffb300"/><stop offset="0.875" stop-color="#ffa200"/><stop offset="0.906" stop-color="#ff9100"/><stop offset="0.938" stop-color="#ff7f00"/><stop offset="0.969" stop-color="#ff6d00"/><stop offset="1" stop-color="#ff5b00"/></linearGradient><linearGradient id="peg15" gradientUnits="userSpaceOnUse" x1="157.5" x2="684.5" y1="0" y2="0"><stop offset="0" stop-color="#00ff26"/><stop offset="0.0312" stop-color="#00ff1c"/><stop offset="0.0625" stop-color="#00ff11"/><stop offset="0.0938" stop-color="#00ff06"/><stop offset="0.125" stop-color="#05ff00"/><stop offset="0.156" stop-color="#11ff00"/><stop offset="0.188" stop-color="#1cff00"/><stop offset="0.219" stop-color="#28ff00"/><stop offset="0.25" stop-color="#34ff00"/><stop offset="0.281" stop-color="#41ff00"/><stop offset="0.312" stop-color="#4dff00"/><stop offset="0.344" stop-color="#5aff00"/><stop offset="0.375" stop-color="#67ff00"/><stop offset="0.406" stop-color="#75ff00"/><stop offset="0.438" stop-color="#82ff00"/><stop offset="0.469" stop-color="#90ff00"/><stop offset="0.5" stop-color="#9fff00"/><stop offset="0.531" stop-color="#adff00"/><stop offset="0.562" stop-color="#bcff00"/><stop offset="0.594" stop-color="#caff00"/><stop offset="0.625" stop-color="#daff00"/><stop offset="0.656" stop-color="#e9ff00"/><stop offset="0.688" stop-color="#f9ff00"/><stop offset="0.719" stop-color="#fff600"/><stop offset="0.75" stop-color="#ffe600"/><stop offset="0.781" stop-color="#ffd500"/><stop offset="0.812" stop-color="#ffc500"/><stop offset="0.844" stop-color="#ffb400"/><stop offset="0.875" stop-color="#ffa300"/><stop offset="0.906" stop-color="#ff9100"/><stop offset="0.938" stop-color="#ff8000"/><stop offset="0.969" stop-color="#ff6e00"/><stop offset="1" stop-color="#ff5c00"/></linearGradient><linearGradient id="peg16" gradientUnits="userSpaceOnUse" x1="157.5" x2="684.5" y1="0" y2="0"><stop offset="0" stop-color="#00ff26"/><stop offset="0.0312" stop-color="#00ff1b"/><stop offset="0.0625" stop-color="#00ff11"/><stop offset="0.0938" stop-color="#00ff06"/><stop offset="0.125" stop-color="#06ff00"/><stop offset="0.156" stop-color="#11ff00"/><stop offset="0.188" stop-color="#1dff00"/><stop offset="0.219" stop-color="#28ff00"/><stop offset="0.25" stop-color="#35ff00"/><stop offset="0.281" stop-color="#41ff00"/><stop offset="0.312" stop-color="#4eff00"/><stop offset="0.344" stop-color="#5bff00"/><stop offset="0.375" stop-color="#68ff00"/><stop offset="0.406" stop-color="#75ff00"/><stop offset="0.438" stop-color="#83ff00"/><stop offset="0.469" stop-color="#90ff00"/><stop offset="0.5" stop-color="#9fff00"/><stop offset="0.531" stop-color="#adff00"/><stop offset="0.562" stop-color="#bcff00"/><stop offset="0.594" stop-color="#caff00"/><stop offset="0.625" stop-color="#daff00"/><stop offset="0.656" stop-color="#e9ff00"/><stop offset="0.688" stop-color="#f8ff00"/><stop offset="0.719" stop-color="#fff600"/><stop offset="0.75" stop-color="#ffe600"/><stop offset="0.781" stop-color="#ffd500"/><stop offset="0.812" stop-color="#ffc500"/><stop offset="0.844" stop-color="#ffb400"/><stop offset="0.875" stop-color="#ffa300"/><stop offset="0.906" stop-color="#ff9200"/><stop offset="0.938" stop-color="#ff8000"/><stop offset="0.969" stop-color="#ff6e00"/><stop offset="1" stop-color="#ff5c00"/></linearGradient><linearGradient id="peg17" gradientUnits="userSpaceOnUse" x1="157.5" x2="684.5" y1="0" y2="0"><stop offset="0" stop-color="#00ff25"/><stop offset="0.0312" stop-color="#00ff1a"/><stop offset="0.0625" stop-color="#00ff10"/><stop offset="0.0938" stop-color="#00ff05"/><stop offset="0.125" stop-color="#06ff00"/><stop offset="0.156" stop-color="#12ff00"/><stop offset="0.188" stop-color="#1dff00"/><stop offset="0.219" stop-color="#29ff00"/><stop offset="0.25" stop-color="#35ff00"/><stop offset="0.281" stop-color="#42ff00"/><stop offset="0.312" stop-color="#4eff00"/><stop offset="0.344" stop-color="#5bff00"/><stop offset="0.375" stop-color="#68ff00"/><stop offset="0.406" stop-color="#76ff00"/><stop offset="0.438" stop-color="#83ff00"/><stop offset="0.469" stop-color="#91ff00"/><stop offset="0.5" stop-color="#9fff00"/><stop offset="0.531" stop-color="#adff00"/><stop offset="0.562" stop-color="#bcff00"/><stop offset="0.594" stop-color="#cbff00"/><stop offset="0.625" stop-color="#daff00"/><stop offset="0.656" stop-color="#e9ff00"/><stop offset="0.688" stop-color="#f9ff00"/><stop offset="0.719" stop-color="#fff500"/><stop offset="0.75" stop-color="#ffe500"/><stop offset="0.781" stop-color="#ffd500"/><stop offset="0.812" stop-color="#ffc400"/><stop offset="0.844" stop-color="#ffb400"/><stop offset="0.875" stop-color="#ffa300"/><stop offset="0.906" stop-color="#ff9100"/><stop offset="0.938" stop-color="#ff8000"/><stop offset="0.969" stop-color="#ff6e00"/><stop offset="1" stop-color="#ff5c00"/></linearGradient><linearGradient id="peg18" gradientUnits="userSpaceOnUse" x1="157.5" x2="684.5" y1="0" y2="0"><stop offset="0" stop-color="#00ff23"/><stop offset="0.0312" stop-color="#00ff19"/><stop offset="0.0625" stop-color="#00ff0e"/><stop offset="0.0938" stop-color="#00ff03"/><stop offset="0.125" stop-color="#08ff00"/><stop offset="0.156" stop-color="#13ff00"/><stop offset="0.188" stop-color="#1fff00"/><stop offset="0.219" stop-color="#2aff00"/><stop offset="0.25" stop-color="#37ff00"/><stop offset="0.281" stop-color="#43ff00"/><stop offset="0.312" stop-color="#4fff00"/><stop offset="0.344" stop-color="#5cff00"/><stop offset="0.375" stop-color="#69ff00"/><stop offset="0.406" stop-color="#77ff00"/><stop offset="0.438" stop-color="#84ff00"/><stop offset="0.469" stop-color="#92ff00"/><stop offset="0.5" stop-color="#a0ff00"/><stop offset="0.531" stop-color="#aeff00"/><stop offset="0.562" stop-color="#bdff00"/><stop offset="0.594" stop-color="#ccff00"/><stop offset="0.625" stop-color="#dbff00"/><stop offset="0.656" stop-color="#eaff00"/><stop offset="0.688" stop-color="#faff00"/><stop offset="0.719" stop-color="#fff500"/><stop offset="0.75" stop-color="#ffe400"/><stop offset="0.781" stop-color="#ffd400"/><stop offset="0.812" stop-color="#ffc400"/><stop offset="0.844" stop-color="#ffb300"/><stop offset="0.875" stop-color="#ffa200"/><stop offset="0.906" stop-color="#ff9100"/><stop offset="0.938" stop-color="#ff7f00"/><stop offset="0.969" stop-color="#ff6d00"/><stop offset="1" stop-color="#ff5b00"/></linearGradient><linearGradient id="peg19" gradientUnits="userSpaceOnUse" x1="157.5" x2="684.5" y1="0" y2="0"><stop offset="0" stop-color="#00ff21"/><stop offset="0.0312" stop-color="#00ff17"/><stop offset="0.0625" stop-color="#00ff0d"/><stop offset="0.0938" stop-color="#00ff02"/><stop offset="0.125" stop-color="#09ff00"/><stop offset="0.156" stop-color="#15ff00"/><stop offset="0.188" stop-color="#20ff00"/><stop offset="0.219" stop-color="#2cff00"/><stop offset="0.25" stop-color="#38ff00"/><stop offset="0.281" stop-color="#45ff00"/><stop offset="0.312" stop-color="#51ff00"/><stop offset="0.344" stop-color="#5eff00"/><stop offset="0.375" stop-color="#6bff00"/><stop offset="0.406" stop-color="#78ff00"/><stop offset="0.438" stop-color="#86ff00"/><stop offset="0.469" stop-color="#94ff00"/><stop offset="0.5" stop-color="#a2ff00"/><stop offset="0.531" stop-color="#b0ff00"/><stop offset="0.562" stop-color="#beff00"/><stop offset="0.594" stop-color="#cdff00"/><stop offset="0.625" stop-color="#dcff00"/><stop offset="0.656" stop-color="#ecff00"/><stop offset="0.688" stop-color="#fbff00"/><stop offset="0.719" stop-color="#fff300"/><stop offset="0.75" stop-color="#ffe300"/><stop offset="0.781" stop-color="#ffd300"/><stop offset="0.812" stop-color="#ffc200"/><stop offset="0.844" stop-color="#ffb200"/><stop offset="0.875" stop-color="#ffa100"/><stop offset="0.906" stop-color="#ff8f00"/><stop offset="0.938" stop-color="#ff7e00"/><stop offset="0.969" stop-color="#ff6c00"/><stop offset="1" stop-color="#ff5a00"/></linearGradient><linearGradient id="peg20" gradientUnits="userSpaceOnUse" x1="157.5" x2="684.5" y1="0" y2="0"><stop offset="0" stop-color="#00ff1f"/><stop offset="0.0312" stop-color="#00ff15"/><stop offset="0.0625" stop-color="#00ff0a"/><stop offset="0.0938" stop-color="#01ff00"/><stop offset="0.125" stop-color="#0cff00"/><stop offset="0.156" stop-color="#17ff00"/><stop offset="0.188" stop-color="#22ff00"/><stop offset="0.219" stop-color="#2eff00"/><stop offset="0.25" stop-color="#3aff00"/><stop offset="0.281" stop-color="#47ff00"/><stop offset="0.312" stop-color="#53ff00"/><stop offset="0.344" stop-color="#60ff00"/><stop offset="0.375" stop-color="#6dff00"/><stop offset="0.406" stop-color="#7aff00"/><stop offset="0.438" stop-color="#88ff00"/><stop offset="0.469" stop-color="#96ff00"/><stop offset="0.5" stop-color="#a4ff00"/><stop offset="0.531" stop-color="#b2ff00"/><stop offset="0.562" stop-color="#c0ff00"/><stop offset="0.594" stop-color="#cfff00"/><stop offset="0.625" stop-color="#deff00"/><stop offset="0.656" stop-color="#edff00"/><stop offset="0.688" stop-color="#fdff00"/><stop offset="0.719" stop-color="#fff100"/><stop offset="0.75" stop-color="#ffe100"/><stop offset="0.781" stop-color="#ffd100"/><stop offset="0.812" stop-color="#ffc100"/><stop offset="0.844" stop-color="#ffb000"/><stop offset="0.875" stop-color="#ff9f00"/><stop offset="0.906" stop-color="#ff8e00"/><stop offset="0.938" stop-color="#ff7c00"/><stop offset="0.969" stop-color="#ff6b00"/><stop offset="1" stop-color="#ff5900"/></linearGradient><linearGradient id="peg21" gradientUnits="userSpaceOnUse" x1="157.5" x2="684.5" y1="0" y2="0"><stop offset="0" stop-color="#00ff1c"/><stop offset="0.0312" stop-color="#00ff12"/><stop offset="0.0625" stop-color="#00ff08"/><stop offset="0.0938" stop-color="#03ff00"/><stop offset="0.125" stop-color="#0eff00"/><stop offset="0.156" stop-color="#1aff00"/><stop offset="0.188" stop-color="#25ff00"/><stop offset="0.219" stop-color="#31ff00"/><stop offset="0.25" stop-color="#3dff00"/><stop offset="0.281" stop-color="#49ff00"/><stop offset="0.312" stop-color="#56ff00"/><stop offset="0.344" stop-color="#62ff00"/><stop offset="0.375" stop-color="#6fff00"/><stop offset="0.406" stop-color="#7dff00"/><stop offset="0.438" stop-color="#8aff00"/><stop offset="0.469" stop-color="#98ff00"/><stop offset="0.5" stop-color="#a6ff00"/><stop offset="0.531" stop-color="#b4ff00"/><stop offset="0.562" stop-color="#c3ff00"/><stop offset="0.594" stop-color="#d1ff00"/><stop offset="0.625" stop-color="#e0ff00"/><stop offset="0.656" stop-color="#f0ff00"/><stop offset="0.688" stop-color="#ffff00"/><stop offset="0.719" stop-color="#ffef00"/><stop offset="0.75" stop-color="#ffdf00"/><stop offset="0.781" stop-color="#ffcf00"/><stop offset="0.812" stop-color="#ffbf00"/><stop offset="0.844" stop-color="#ffae00"/><stop offset="0.875" stop-color="#ff9d00"/><stop offset="0.906" stop-color="#ff8c00"/><stop offset="0.938" stop-color="#ff7a00"/><stop offset="0.969" stop-color="#ff6900"/><stop offset="1" stop-color="#ff5700"/></linearGradient><linearGradient id="peg22" gradientUnits="userSpaceOnUse" x1="157.5" x2="684.5" y1="0" y2="0"><stop offset="0" stop-color="#00ff19"/><stop offset="0.0312" stop-color="#00ff0f"/><stop offset="0.0625" stop-color="#00ff04"/><stop offset="0.0938" stop-color="#06ff00"/><stop offset="0.125" stop-color="#11ff00"/><stop offset="0.156" stop-color="#1dff00"/><stop offset="0.188" stop-color="#28ff00"/><stop offset="0.219" stop-color="#34ff00"/><stop offset="0.25" stop-color="#40ff00"/><stop offset="0.281" stop-color="#4cff00"/><stop offset="0.312" stop-color="#59ff00"/><stop offset="0.344" stop-color="#65ff00"/><stop offset="0.375" stop-color="#72ff00"/><stop offset="0.406" stop-color="#80ff00"/><stop offset="0.438" stop-color="#8dff00"/><stop offset="0.469" stop-color="#9bff00"/><stop offset="0.5" stop-color="#a9ff00"/><stop offset="0.531" stop-color="#b7ff00"/><stop offset="0.562" stop-color="#c5ff00"/><stop offset="0.594" stop-color="#d4ff00"/><stop offset="0.625" stop-color="#e3ff00"/><stop offset="0.656" stop-color="#f2ff00"/><stop offset="0.688" stop-color="#fffc00"/><stop offset="0.719" stop-color="#ffed00"/><stop offset="0.75" stop-color="#ffdd00"/><stop offset="0.781" stop-color="#ffcc00"/><stop offset="0.812" stop-color="#ffbc00"/><stop offset="0.844" stop-color="#ffab00"/><stop offset="0.875" stop-color="#ff9a00"/><stop offset="0.906" stop-color="#ff8900"/><stop offset="0.938" stop-color="#ff7800"/><stop offset="0.969" stop-color="#ff6600"/><stop offset="1" stop-color="#ff5400"/></linearGradient><linearGradient id="peg23" gradientUnits="userSpaceOnUse" x1="157.5" x2="684.5" y1="0" y2="0"><stop offset="0" stop-color="#00ff15"/><stop offset="0.0312" stop-color="#00ff0b"/><stop offset="0.0625" stop-color="#00ff01"/><stop offset="0.0938" stop-color="#0aff00"/><stop offset="0.125" stop-color="#15ff00"/><stop offset="0.156" stop-color="#20ff00"/><stop offset="0.188" stop-color="#2cff00"/><stop offset="0.219" stop-color="#38ff00"/><stop offset="0.25" stop-color="#43ff00"/><stop offset="0.281" stop-color="#50ff00"/><stop offset="0.312" stop-color="#5cff00"/><stop offset="0.344" stop-color="#69ff00"/><stop offset="0.375" stop-color="#76ff00"/><stop offset="0.406" stop-color="#83ff00"/><stop offset="0.438" stop-color="#90ff00"/><stop offset="0.469" stop-color="#9eff00"/><stop offset="0.5" stop-color="#acff00"/><stop offset="0.531" stop-color="#baff00"/><stop offset="0.562" stop-color="#c9ff00"/><stop offset="0.594" stop-color="#d7ff00"/><stop offset="0.625" stop-color="#e6ff00"/><stop offset="0.656" stop-color="#f6ff00"/><stop offset="0.688" stop-color="#fff900"/><stop offset="0.719" stop-color="#ffe900"/><stop offset="0.75" stop-color="#ffd900"/><stop offset="0.781" stop-color="#ffc900"/><stop offset="0.812" stop-color="#ffb900"/><stop offset="0.844" stop-color="#ffa800"/><stop offset="0.875" stop-color="#ff9700"/><stop offset="0.906" stop-color="#ff8600"/><stop offset="0.938" stop-color="#ff7500"/><stop offset="0.969" stop-color="#ff6300"/><stop offset="1" stop-color="#ff5100"/></linearGradient><clipPath id="pec"><rect x="157.5" y="1402.5" width="527" height="387.5"/></clipPath><filter id="pef" filterUnits="userSpaceOnUse" x="143.5" y="1388.5" width="555" height="415.5"><feGaussianBlur stdDeviation="0 8.88"/></filter></defs>
<g id="pe" clip-path="url(#pec)"><g filter="url(#pef)"><rect x="143.5" y="1388.50" width="555" height="30.75" fill="url(#peg0)"/><rect x="143.5" y="1418.65" width="555" height="16.75" fill="url(#peg1)"/><rect x="143.5" y="1434.79" width="555" height="16.75" fill="url(#peg2)"/><rect x="143.5" y="1450.94" width="555" height="16.75" fill="url(#peg3)"/><rect x="143.5" y="1467.08" width="555" height="16.75" fill="url(#peg4)"/><rect x="143.5" y="1483.23" width="555" height="16.75" fill="url(#peg5)"/><rect x="143.5" y="1499.38" width="555" height="16.75" fill="url(#peg6)"/><rect x="143.5" y="1515.52" width="555" height="16.75" fill="url(#peg7)"/><rect x="143.5" y="1531.67" width="555" height="16.75" fill="url(#peg8)"/><rect x="143.5" y="1547.81" width="555" height="16.75" fill="url(#peg9)"/><rect x="143.5" y="1563.96" width="555" height="16.75" fill="url(#peg10)"/><rect x="143.5" y="1580.10" width="555" height="16.75" fill="url(#peg11)"/><rect x="143.5" y="1596.25" width="555" height="16.75" fill="url(#peg12)"/><rect x="143.5" y="1612.40" width="555" height="16.75" fill="url(#peg13)"/><rect x="143.5" y="1628.54" width="555" height="16.75" fill="url(#peg14)"/><rect x="143.5" y="1644.69" width="555" height="16.75" fill="url(#peg15)"/><rect x="143.5" y="1660.83" width="555" height="16.75" fill="url(#peg16)"/><rect x="143.5" y="1676.98" width="555" height="16.75" fill="url(#peg17)"/><rect x="143.5" y="1693.12" width="555" height="16.75" fill="url(#peg18)"/><rect x="143.5" y="1709.27" width="555" height="16.75" fill="url(#peg19)"/><rect x="143.5" y="1725.42" width="555" height="16.75" fill="url(#peg20)"/><rect x="143.5" y="1741.56" width="555" height="16.75" fill="url(#peg21)"/><rect x="143.5" y="1757.71" width="555" height="16.75" fill="url(#peg22)"/><rect x="143.5" y="1773.85" width="555" height="30.75" fill="url(#peg23)"/></g></g>
<path d="M257.2 1790 258.9 1785.2 260.7 1779.7 262.6 1773.9 264 1769 265.4 1764.2 267.2 1757.7 268.5 1752.9 269.7 1748 271.2 1741.6 272.2 1736.7 273.6 1730.3 274.5 1725.4 275.6 1719 276.4 1714.1 277.3 1707.7 278.2 1701.2 278.7 1696.4 279.4 1689.9 279.9 1683.4 280.4 1677 280.7 1672.1 281 1665.7 281.1 1659.2 281.2 1652.8 281.2 1646.3 281.1 1639.8 280.8 1633.4 280.5 1626.9 280.2 1622.1 279.7 1615.6 279.1 1609.2 278.4 1602.7 277.8 1597.9 277 1591.4 276.1 1585.5 275.2 1580.1 274.1 1573.6 273.1 1568.8 271.8 1562.3 270.8 1557.5 269.5 1552 268.1 1546.2 266.8 1541.4 265.1 1535 263.7 1530.1 262.3 1525.2 260.7 1520.2 258.7 1513.9 257 1509.1 255.3 1504.2 253.6 1499.4 251.8 1494.5 249.7 1489.2 247.5 1483.7 245.3 1478.4 243.3 1473.5 241.1 1468.7 239 1463.9 236.7 1459 234.4 1454.2 232.2 1449.6 230 1445.3 227.8 1441 225.4 1436.4 222.8 1431.6 220.1 1426.7 217.3 1421.9 214.6 1417.1 212.4 1413.4 209.7 1409 206.7 1404.1 205.7 1402.5" fill="none" stroke="#1a1a1a" stroke-width="1" stroke-opacity=".85"/>
<path d="M379.2 1790 380.6 1785.2 381.9 1780.3 383.6 1773.9 384.8 1769 386 1764.2 387.4 1757.7 388.5 1752.9 389.8 1746.4 390.7 1741.6 391.8 1735.1 392.6 1730.3 393.6 1723.8 394.4 1717.3 395 1712.5 395.8 1706 396.4 1699.6 396.8 1694.1 397.3 1688.3 397.7 1681.8 398 1675.4 398.2 1668.9 398.3 1662.4 398.3 1656 398.2 1649.5 398.1 1643.1 397.9 1636.6 397.6 1630.2 397.1 1623.7 396.8 1618.9 396.2 1612.4 395.6 1605.9 394.8 1599.5 394.2 1594.6 393.3 1588.2 392.5 1582.2 391.6 1576.9 390.5 1570.4 389.6 1565.6 388.3 1559.1 387.3 1554.3 385.9 1548 384.7 1543 383.5 1538.1 381.9 1531.7 380.6 1526.8 379.2 1522 377.3 1515.5 375.9 1510.7 374.3 1505.8 372.7 1500.7 370.6 1494.5 368.9 1489.7 367.2 1484.8 365.4 1480 363.5 1475.2 361.6 1470.3 359.5 1465 357.3 1459.7 355.1 1454.6 352.9 1449.6 350.7 1444.7 348.5 1439.9 346.3 1435.2 344.1 1430.7 341.9 1426.2 339.8 1421.9 337.3 1417 334.7 1412.2 332.1 1407.3 329.5 1402.5" fill="none" stroke="#1a1a1a" stroke-width="1" stroke-opacity=".85"/>
<path d="M486.5 1790 487.7 1785.2 489.1 1779.3 490.3 1773.9 491.3 1769 492.6 1762.6 493.5 1757.7 494.7 1751.2 495.7 1745.4 496.5 1739.9 497.4 1733.5 498.1 1728.6 498.9 1722.2 499.6 1715.7 500.1 1710.7 500.6 1704.4 501.1 1698 501.5 1691.5 501.8 1685.1 502 1678.6 502.2 1672.1 502.3 1667.3 502.3 1660.8 502.2 1656 502.1 1649.5 501.9 1643.1 501.7 1636.6 501.3 1630.2 500.9 1623.7 500.4 1617.2 499.9 1612.4 499.3 1605.9 498.6 1599.5 497.9 1593.8 497.1 1588.2 496.2 1581.7 495.4 1576.9 494.3 1570.4 493.5 1565.5 492.3 1559.1 491.3 1554.2 489.9 1547.8 488.9 1543 487.4 1536.5 486.2 1531.7 484.7 1525.6 483.3 1520.4 482 1515.5 480.3 1509.6 478.7 1504.2 477.2 1499.4 475.7 1494.5 473.7 1488.3 472 1483.2 470.3 1478.4 468.6 1473.5 466.8 1468.7 464.9 1463.6 462.7 1457.9 460.6 1452.6 458.7 1447.7 456.6 1442.9 454.6 1438 452.5 1433.2 450.3 1428.3 448.1 1423.5 445.8 1418.6 443.5 1413.8 441.2 1409 438.8 1404.1 438 1402.5" fill="none" stroke="#1a1a1a" stroke-width="1" stroke-opacity=".85"/>
<path d="M583.4 1790 584.5 1785.2 585.7 1779.2 586.7 1773.9 587.9 1767.6 588.8 1762.6 589.8 1756.1 590.6 1751.2 591.5 1744.8 592.3 1738.7 592.9 1733.5 593.6 1727 594.3 1720.6 594.7 1715.7 595.2 1709.3 595.7 1702.8 596 1696.4 596.3 1689.9 596.5 1683.4 596.7 1677.5 596.7 1672.1 596.8 1665.7 596.7 1659.2 596.6 1654.4 596.4 1647.9 596.2 1641.5 595.9 1635 595.5 1628.5 595 1622.1 594.5 1615.7 594 1610.8 593.4 1604.3 592.6 1597.9 592 1593 591.2 1586.6 590.2 1580.1 589.5 1575.3 588.4 1568.8 587.6 1564 586.4 1557.5 585.4 1552.7 584.1 1546.2 583.1 1541.4 581.7 1534.9 580.5 1530.1 579.1 1524.2 577.7 1518.8 576.5 1513.9 574.7 1507.4 573.4 1502.6 572 1497.8 570.3 1492.3 568.5 1486.5 567 1481.6 565.4 1476.8 563.7 1471.8 561.5 1465.5 559.8 1460.6 558 1455.8 556.2 1450.9 554.4 1446.1 552.5 1441.2 550.5 1436.4 548.4 1431.1 546.2 1425.8 544 1420.7 541.8 1415.7 539.6 1410.8 537.4 1406 535.7 1402.5" fill="none" stroke="#1a1a1a" stroke-width="1" stroke-opacity=".85"/>
<path d="M672.5 1790 673.5 1784.5 674.6 1778.7 675.7 1772.2 676.5 1767.4 677.4 1760.9 678.1 1756.1 679 1749.6 679.8 1743.2 680.3 1738.3 681 1731.9 681.6 1725.4 682.1 1719 682.5 1714.1 682.9 1707.7 683.2 1701.2 683.5 1694.7 683.7 1688.3 683.9 1681.8 683.9 1675.4 683.9 1668.9 683.9 1662.4 683.8 1656 683.6 1649.5 683.3 1643.1 683 1636.6 682.6 1630.2 682.2 1625.3 681.7 1618.9 681.1 1612.4 680.5 1605.9 680 1601.1 679.2 1594.6 678.4 1588.2 677.7 1583.3 676.8 1576.9 675.7 1570.4 674.9 1565.6 673.8 1559.1 672.9 1554.3 671.7 1547.8 670.7 1543 669.3 1536.5 668.2 1531.7 666.9 1525.9 665.6 1520.4 664.4 1515.5 662.8 1509.1 661.5 1504.2 660.1 1499.4 658.3 1492.9 656.9 1488.1 655.5 1483.2 653.8 1477.7 651.9 1471.9 650.3 1467.1 648.7 1462.2 647.1 1457.4 645 1451.5 643 1446.1 641.2 1441.2 639.4 1436.4 637.5 1431.6 635.6 1426.7 633.7 1421.9 631.7 1417 629.6 1412.1 627.4 1407 625.5 1402.5" fill="none" stroke="#1a1a1a" stroke-width="1" stroke-opacity=".85"/>
<rect x="157.5" y="1402.5" width="527" height="387.5" fill="none" stroke="#333" stroke-width="1"/>
<text x="157.5" y="1830.5" font-size="28.3" text-anchor="middle" fill="#000">7.00</text>
<text x="262.9" y="1830.5" font-size="28.3" text-anchor="middle" fill="#000">7.20</text>
<text x="368.3" y="1830.5" font-size="28.3" text-anchor="middle" fill="#000">7.40</text>
<text x="473.7" y="1830.5" font-size="28.3" text-anchor="middle" fill="#000">7.60</text>
<text x="579.1" y="1830.5" font-size="28.3" text-anchor="middle" fill="#000">7.80</text>
<text x="684.5" y="1830.5" font-size="28.3" text-anchor="middle" fill="#000">8.00</text>
<text x="136" y="1797" font-size="28.3" text-anchor="end" fill="#000">1.50</text>
<text x="136" y="1719.5" font-size="28.3" text-anchor="end" fill="#000">1.70</text>
<text x="136" y="1642" font-size="28.3" text-anchor="end" fill="#000">1.90</text>
<text x="136" y="1564.5" font-size="28.3" text-anchor="end" fill="#000">2.10</text>
<text x="136" y="1487" font-size="28.3" text-anchor="end" fill="#000">2.30</text>
<text x="136" y="1409.5" font-size="28.3" text-anchor="end" fill="#000">2.50</text>
<path d="M157.5 1790v10M262.9 1790v10M368.3 1790v10M473.7 1790v10M579.1 1790v10M684.5 1790v10M157.5 1790h-15M157.5 1712.5h-15M157.5 1635h-15M157.5 1557.5h-15M157.5 1480h-15M157.5 1402.5h-15" stroke="#666" stroke-width="1.2" fill="none"/>
<circle cx="157.5" cy="1402.5" r="4.6" fill="#f00"/>
<circle cx="684.5" cy="1402.5" r="4.6" fill="#f00"/>
<circle cx="157.5" cy="1790" r="4.6" fill="#f00"/>
<circle cx="684.5" cy="1790" r="4.6" fill="#f00"/>
<text x="382" y="1388" font-size="31" text-anchor="middle" fill="#000">pH</text>
<text x="403" y="1864" font-size="32" text-anchor="middle" fill="#000">B: pH</text>
<text transform="translate(73.4,1689) rotate(-90) scale(1,1.05)" font-size="31.6">C: COD/SO<tspan font-size="19.6" dy="10.6">4</tspan><tspan font-size="20.5" dy="-21.4">2-</tspan></text>
<circle cx="420.5" cy="1596" r="4.6" fill="#f00"/>
<text x="400" y="1597" font-size="23" text-anchor="start" fill="#000">5</text>
<rect x="254.5" y="1554.2" width="38" height="27.5" fill="#fff" stroke="#333" stroke-width="1"/>
<text x="273.5" y="1576.1" font-size="24.5" text-anchor="middle" fill="#000">8.2</text>
<rect x="371.5" y="1554.2" width="38" height="27.5" fill="#fff" stroke="#333" stroke-width="1"/>
<text x="390.5" y="1576.1" font-size="24.5" text-anchor="middle" fill="#000">8.3</text>
<rect x="475.5" y="1554.2" width="38" height="27.5" fill="#fff" stroke="#333" stroke-width="1"/>
<text x="494.5" y="1576.1" font-size="24.5" text-anchor="middle" fill="#000">8.4</text>
<rect x="569" y="1554.2" width="38" height="27.5" fill="#fff" stroke="#333" stroke-width="1"/>
<text x="588" y="1576.1" font-size="24.5" text-anchor="middle" fill="#000">8.5</text>
<rect x="646" y="1496.2" width="38" height="27.5" fill="#fff" stroke="#333" stroke-width="1"/>
<text x="665" y="1518.1" font-size="24.5" text-anchor="middle" fill="#000">8.6</text>
<text x="61" y="1912.5" font-size="34.3">(e) Contour plots of pH and COD/SO<tspan font-size="21.5" dy="10.7">4</tspan><tspan font-size="21.5" dy="-21.4">2-</tspan><tspan dy="10.7"> influenced</tspan></text>
<text x="369" y="1972.5" font-size="34.3" text-anchor="start" fill="#000">pH</text>
<g id="pb">
<path d="M873.2 278L1109.4 215.3L1345.6 278M871.1 246.5L1109.4 186.9L1347.7 246.5M869.1 215L1109.4 158.5L1349.7 215M867 183.6L1109.4 130.1L1351.8 183.6M864.9 152.1L1109.4 101.6L1353.9 152.1M862.8 120.7L1109.4 73.2L1356 120.7M860.7 89.2L1109.4 44.8L1358.1 89.2M910.4 80.3L920.5 265.4M1159.1 53.7L1156.6 227.9M960.2 71.4L967.7 252.9M1208.9 62.6L1203.9 240.4M1009.9 62.6L1014.9 240.4M1258.6 71.4L1251.1 252.9M1059.7 53.7L1062.2 227.9M1308.4 80.3L1298.3 265.4M860.7 89.2L877.2 337.1M1109.4 44.8L1109.4 268.8M1358.1 89.2L1341.6 337.1" fill="none" stroke="#555" stroke-width="1.1"/>
<polygon points="1109.4,424.1 1341.6,337.1 1109.4,268.8 877.2,337.1" fill="#ffff00" stroke="#444" stroke-width=".9"/>
<path d="M1137.1 413.7 1128.3 411.7 1117 409.2 1109 407.3 1097.1 404.7 1089.2 402.9 1077.8 400.3 1069.6 398.5 1061.5 396.6 1050.3 394.1 1042.6 392.4 1031.1 389.8 1023.5 388.1 1014.2 386.1 1004.6 384 998.8 382.7" fill="none" stroke="#40d8d0" stroke-width="1.1" stroke-opacity=".85"/>
<path d="M1329.5 341.7 1322 338.2 1316.6 335.6 1311.5 333.3 1303.9 329.7 1299 327.4 1292.3 324.3 1286.7 321.6 1282.8 319.8" fill="none" stroke="#40d8d0" stroke-width="1.1" stroke-opacity=".85"/>
<path d="M1179 398 1168.8 396.4 1157.1 394.6 1148 393.1 1139.3 391.6 1130.7 390.2 1121.3 388.6 1109.5 386.6 1101.1 385.1 1092.7 383.7 1084.5 382.2 1072.5 380.1 1064 378.6 1055.9 377.1 1047.8 375.6 1035.9 373.5 1027.9 372 1020.1 370.6 1010.6 368.8 1000.6 367 992.8 365.5 985.2 364.1 973.7 361.9 966.1 360.5 958.6 359.1 948.9 357.3 939.9 355.5 932.5 354.1 924.5 352.6 914.2 350.6 912.3 350.3" fill="none" stroke="#50e890" stroke-width="1.1" stroke-opacity=".85"/>
<path d="M1294.1 354.9 1289.8 352.1 1285.5 349.3 1281.1 346.5 1276.8 343.8 1271.5 340.5 1266 337.1 1261.7 334.5 1257.4 332 1253.2 329.4 1248.1 326.4 1242.6 323.1 1238.4 320.7 1234.2 318.3 1230 315.8 1223.9 312.3 1219.7 309.9 1215.6 307.6 1211.6 305.2 1205.7 301.9 1201.5 299.6 1197.5 297.3 1193.5 295.1 1187.6 291.8 1187.5 291.7" fill="none" stroke="#50e890" stroke-width="1.1" stroke-opacity=".85"/>
<path d="M1114.7 270.3 1118.9 273.1 1122.7 275.6 1126 277.8 1129.2 280 1132.5 282.3 1135.7 284.5 1139.3 287 1143.2 289.8 1147 292.5 1150.3 295 1153.5 297.4 1156.7 299.9 1159.9 302.4 1163 304.9 1166.1 307.4 1169.2 310.1 1172.2 312.7 1175.2 315.4 1178.1 318.2 1180.9 321 1183.6 323.9 1185.8 326.5 1187.6 328.9 1189.5 331.6 1191.4 334.9 1192.8 337.8 1193.5 340.1 1194 343.7 1193.6 346.2 1192.6 348.9 1190.1 352 1183.9 355.8 1174.7 358.6 1165.8 360.1 1157.4 361 1147.3 361.5 1137.5 361.6 1129.3 361.5 1120.5 361.2 1109.9 360.7 1101.3 360.2 1093.7 359.7 1085.1 359 1075.6 358.1 1066.4 357.2 1057.2 356.3 1048.3 355.3 1039.5 354.3 1030.8 353.2 1022.2 352.1 1013.7 351.1 1005.3 349.9 997 348.8 987.6 347.5 977.9 346.2 968.5 344.8 960.5 343.6 952.6 342.5 944.8 341.3 937 340.1 928 338.7 917.8 337.1 910.2 335.9 902.7 334.7 895.2 333.5 891.5 332.9" fill="none" stroke="#a0ff30" stroke-width="1.1" stroke-opacity=".85"/>
<path d="M991.9 303.3 1001.9 301.7 1008.2 300.1 1013.8 298.4 1020.8 295.4 1022.6 294.3" fill="none" stroke="#ff9000" stroke-width="1.1" stroke-opacity=".85"/>
<rect x="871.6" y="276.7" width="3.2" height="2.6" fill="#111"/>
<rect x="869.5" y="245.2" width="3.2" height="2.6" fill="#111"/>
<rect x="867.5" y="213.7" width="3.2" height="2.6" fill="#111"/>
<rect x="865.4" y="182.3" width="3.2" height="2.6" fill="#111"/>
<rect x="863.3" y="150.8" width="3.2" height="2.6" fill="#111"/>
<rect x="861.2" y="119.4" width="3.2" height="2.6" fill="#111"/>
<rect x="859.1" y="87.9" width="3.2" height="2.6" fill="#111"/>
<rect x="1107.8" y="422.9" width="3.2" height="2.4" fill="#111"/>
<rect x="1107.8" y="422.9" width="3.2" height="2.4" fill="#111"/>
<rect x="1061.4" y="405.5" width="3.2" height="2.4" fill="#111"/>
<rect x="1154.2" y="405.5" width="3.2" height="2.4" fill="#111"/>
<rect x="1014.9" y="388.1" width="3.2" height="2.4" fill="#111"/>
<rect x="1200.7" y="388.1" width="3.2" height="2.4" fill="#111"/>
<rect x="968.5" y="370.7" width="3.2" height="2.4" fill="#111"/>
<rect x="1247.1" y="370.7" width="3.2" height="2.4" fill="#111"/>
<rect x="922" y="353.3" width="3.2" height="2.4" fill="#111"/>
<rect x="1293.6" y="353.3" width="3.2" height="2.4" fill="#111"/>
<rect x="875.6" y="335.9" width="3.2" height="2.4" fill="#111"/>
<rect x="1340" y="335.9" width="3.2" height="2.4" fill="#111"/>
<circle cx="868.6" cy="201.6" r="3.6" fill="#f4a6ae" stroke="#c66" stroke-width=".7"/>
<g id="spb">
<path d="M1119.2 135l4.1 3.6-14.3-9.2-4.1-3.6z" fill="#0d3800"/>
<path class="e" d="M1122.9 138.4L1109.4 129.7"/>
<path class="e" d="M1105.2 126.1L1109.4 129.7"/>
<path d="M1115 131.6l4.2 3.5-14.3-9.2-4.2-3.5z" fill="#133800"/>
<path class="e" d="M1101.1 122.7L1105.2 126.1"/>
<path d="M1132.9 143.7l4.1 3.6-14.5-9.1-4.1-3.7z" fill="#053800"/>
<path class="e" d="M1136.6 147L1122.9 138.4"/>
<path d="M1110.8 128.4l4.2 3.2-14.3-9.2-4.2-3.2z" fill="#193800"/>
<path class="e" d="M1096.8 119.4L1101.1 122.7"/>
<path d="M1128.8 140.3l4.1 3.4-14.5-9.1-4.1-3.5z" fill="#0b3800"/>
<path d="M1106.6 125.3l4.2 3.1-14.3-9.2-4.3-3.1z" fill="#1d3500"/>
<path class="e" d="M1092.6 116.4L1096.8 119.4"/>
<path d="M1146.8 152.3l4 3.6-14.6-9.1-4.1-3.6z" fill="#003803"/>
<path class="e" d="M1150.5 155.6L1136.6 147"/>
<path d="M1124.6 137.1l4.2 3.2-14.5-9.1-4.2-3.3z" fill="#113800"/>
<path d="M1102.4 122.4l4.2 2.9-14.4-9.2-4.2-2.9z" fill="#1f3000"/>
<path class="e" d="M1088.3 113.5L1092.6 116.4"/>
<path d="M1142.7 148.9l4.1 3.4-14.7-9-4.1-3.5z" fill="#033800"/>
<path d="M1120.4 134l4.2 3.1-14.5-9.2-4.2-3.1z" fill="#153500"/>
<path d="M1098.1 119.7l4.3 2.7-14.4-9.2-4.3-2.7z" fill="#202c00"/>
<path class="e" d="M1084.1 110.7L1088.3 113.5"/>
<path d="M1160.8 160.8l4 3.6-14.7-9-4.1-3.6z" fill="#00380b"/>
<path class="e" d="M1164.5 164.2L1150.5 155.6"/>
<path d="M1138.5 145.7l4.1 3.2-14.6-9.1-4.2-3.2z" fill="#093800"/>
<path d="M1116.2 131.1l4.2 2.9-14.6-9.1-4.2-2.9z" fill="#183000"/>
<path d="M1093.8 117.2l4.3 2.5-14.4-9.2-4.3-2.6z" fill="#212700"/>
<path class="e" d="M1079.7 108.2L1084.1 110.7"/>
<path d="M1156.7 157.4l4.1 3.5-14.8-9-4.1-3.5z" fill="#003804"/>
<path d="M1134.3 142.6l4.2 3.1-14.7-9.1-4.2-3.1z" fill="#0e3500"/>
<path d="M1111.9 128.4l4.3 2.7-14.6-9.1-4.3-2.8z" fill="#1a2c00"/>
<path d="M1175 169.3l4 3.6-14.9-8.9-4.1-3.6z" fill="#003812"/>
<path class="e" d="M1178.6 172.7L1164.5 164.2"/>
<path d="M1089.5 114.8l4.3 2.4-14.4-9.3-4.4-2.3z" fill="#202300"/>
<path class="e" d="M1075.4 105.8L1079.7 108.2"/>
<path d="M1152.6 154.2l4.1 3.3-14.8-9-4.2-3.3z" fill="#023800"/>
<path d="M1130.1 139.7l4.2 2.9-14.7-9.1-4.2-2.9z" fill="#123000"/>
<path d="M1107.6 125.9l4.3 2.5-14.6-9.2-4.3-2.5z" fill="#1b2700"/>
<path d="M1085.1 112.7l4.4 2.1-14.5-9.2-4.4-2.2z" fill="#1e1f00"/>
<path class="e" d="M1071 103.6L1075.4 105.8"/>
<path d="M1170.9 165.9l4.1 3.5-15-9-4.1-3.4z" fill="#00380c"/>
<path d="M1148.4 151.2l4.2 3-14.9-9-4.1-3z" fill="#073500"/>
<path d="M1125.9 137l4.2 2.7-14.7-9-4.2-2.8z" fill="#142c00"/>
<path d="M1189.4 177.7l3.9 3.7-15.1-8.9-4-3.6z" fill="#003819"/>
<path class="e" d="M1193 181.1L1178.6 172.7"/>
<path d="M1103.3 123.5l4.3 2.4-14.6-9.2-4.3-2.4z" fill="#1b2300"/>
<path d="M1080.7 110.7l4.4 1.9-14.4-9.2-4.5-2z" fill="#1a1800"/>
<path class="e" d="M1066.6 101.6L1071 103.6"/>
<path d="M1166.8 162.7l4.1 3.3-15-9-4.1-3.2z" fill="#003806"/>
<path d="M1144.3 148.3l4.1 2.9-14.8-9-4.2-2.9z" fill="#0b3100"/>
<path d="M1121.6 134.5l4.3 2.5-14.7-9.1-4.3-2.5z" fill="#162800"/>
<path d="M1099 121.4l4.3 2.1-14.6-9.2-4.3-2.1z" fill="#1a1f00"/>
<path d="M1076.3 108.9l4.5 1.7-14.5-9.3-4.5-1.7z" fill="#161300"/>
<path class="e" d="M1062.2 99.8L1066.6 101.6"/>
<path d="M1185.3 174.4l4 3.4-15.1-8.9-4-3.4z" fill="#003813"/>
<path d="M1162.7 159.7l4.1 3-15-8.9-4.1-3.1z" fill="#003500"/>
<path d="M1140 145.6l4.2 2.7-14.8-9-4.3-2.7z" fill="#0e2c00"/>
<path d="M1117.3 132.2l4.3 2.3-14.7-9.1-4.3-2.3z" fill="#162300"/>
<path d="M1203.9 186.1l3.9 3.6-15.2-8.8-4-3.6z" fill="#003820"/>
<path class="e" d="M1207.5 189.5L1193 181.1"/>
<path d="M1094.6 119.4l4.4 1.9-14.6-9.2-4.4-1.9z" fill="#181a00"/>
<path d="M1071.9 107.2l4.5 1.6-14.5-9.3-4.5-1.6z" fill="#110e00"/>
<path class="e" d="M1057.8 98.2L1062.2 99.8"/>
<path d="M1181.2 171.2l4.1 3.2-15.2-8.9-4-3.2z" fill="#00380d"/>
<path d="M1158.5 156.8l4.2 2.9-15-9-4.2-2.9z" fill="#053100"/>
<path d="M1135.8 143.1l4.2 2.5-14.9-9-4.2-2.6z" fill="#102800"/>
<path d="M1113 130l4.4 2.2-14.8-9.2-4.4-2.1z" fill="#161f00"/>
<path d="M1090.2 117.6l4.5 1.7-14.7-9.2-4.4-1.7z" fill="#161600"/>
<path d="M1067.5 105.8l4.4 1.4-14.5-9.3-4.5-1.4z" fill="#0d0a00"/>
<path class="e" d="M1053.3 96.7L1057.8 98.2"/>
<path d="M1199.9 182.7l4 3.5-15.4-8.8-4-3.5z" fill="#00381a"/>
<path d="M1177.1 168.1l4.1 3.1-15.2-8.9-4.1-3.1z" fill="#003507"/>
<path d="M1154.3 154.1l4.2 2.7-15-8.9-4.2-2.8z" fill="#092c00"/>
<path d="M1131.5 140.8l4.3 2.3-14.9-9.1-4.3-2.3z" fill="#122300"/>
<path d="M1218.6 194.4l3.9 3.7-15.4-8.8-4-3.6z" fill="#003827"/>
<path class="e" d="M1222.1 197.8L1207.5 189.5"/>
<path d="M1108.7 128l4.3 2-14.8-9.1-4.3-2z" fill="#151a00"/>
<path d="M1085.8 116l4.5 1.5-14.7-9.2-4.4-1.6z" fill="#111000"/>
<path d="M1063 104.6l4.5 1.1-14.5-9.3-4.6-1.2z" fill="#0b0700"/>
<path class="e" d="M1048.8 95.5L1053.3 96.7"/>
<path d="M1195.8 179.5l4.1 3.3-15.4-8.8-4-3.3z" fill="#003814"/>
<path d="M1173 165.3l4.1 2.8-15.2-8.9-4.1-2.8z" fill="#003101"/>
<path d="M1150.1 151.6l4.2 2.5-15-8.9-4.3-2.6z" fill="#0b2800"/>
<path d="M1127.2 138.6l4.3 2.2-14.9-9.1-4.3-2.2z" fill="#121f00"/>
<path d="M1058.5 103.5l4.5 1-14.5-9.3-4.6-1z" fill="#0a0701"/>
<path class="e" d="M1044.3 94.4L1048.8 95.5"/>
<path d="M1104.3 126.3l4.4 1.7-14.8-9.1-4.4-1.8z" fill="#131600"/>
<path d="M1081.4 114.6l4.5 1.3-14.7-9.2-4.5-1.4z" fill="#0d0b00"/>
<path d="M1214.6 191.1l4 3.4-15.5-8.8-4-3.4z" fill="#003821"/>
<path d="M1191.7 176.5l4.1 3.1-15.4-8.8-4-3.1z" fill="#00350d"/>
<path d="M1168.8 162.6l4.2 2.7-15.2-8.9-4.2-2.7z" fill="#032c00"/>
<path d="M1145.9 149.3l4.2 2.3-15.1-9-4.2-2.3z" fill="#0d2300"/>
<path d="M1054 102.7l4.5 .7-14.5-9.3-4.6-.8z" fill="#0d0802"/>
<path class="e" d="M1039.8 93.5L1044.3 94.4"/>
<path d="M1122.9 136.6l4.3 2-14.9-9.1-4.4-1.9z" fill="#111a00"/>
<path d="M1233.5 202.7l3.9 3.6-15.7-8.7-3.9-3.6z" fill="#00382d"/>
<path class="e" d="M1237 206.1L1222.1 197.8"/>
<path d="M1076.9 113.3l4.5 1.2-14.7-9.3-4.5-1.1z" fill="#0b0900"/>
<path d="M1099.9 124.7l4.4 1.5-14.8-9.1-4.4-1.6z" fill="#101200"/>
<path d="M1210.6 187.9l4 3.2-15.5-8.7-4.1-3.3z" fill="#00381a"/>
<path d="M1187.6 173.7l4.1 2.8-15.4-8.8-4.1-2.9z" fill="#003107"/>
<path d="M1164.6 160.1l4.2 2.5-15.2-8.9-4.2-2.5z" fill="#062800"/>
<path d="M1049.4 102l4.6 .6-14.5-9.4-4.6-.6z" fill="#150d03"/>
<path class="e" d="M1035.3 92.8L1039.8 93.5"/>
<path d="M1141.6 147.2l4.3 2.1-15.1-9-4.3-2.2z" fill="#0e1f00"/>
<path d="M1072.4 112.3l4.6 1-14.7-9.3-4.6-1z" fill="#0a0801"/>
<path d="M1118.5 134.9l4.4 1.7-15-9.1-4.3-1.7z" fill="#101600"/>
<path d="M1095.5 123.3l4.4 1.3-14.8-9.2-4.5-1.3z" fill="#0d0d00"/>
<path d="M1229.5 199.3l4 3.5-15.7-8.7-4-3.5z" fill="#003827"/>
<path d="M1206.5 184.8l4.1 3.1-15.6-8.8-4-3z" fill="#003514"/>
<path d="M1183.5 171l4.1 2.7-15.4-8.9-4.2-2.7z" fill="#002d02"/>
<path d="M1044.9 101.6l4.6 .3-14.6-9.4-4.6-.3z" fill="#201305"/>
<path class="e" d="M1030.7 92.4L1035.3 92.8"/>
<path d="M1160.4 157.8l4.2 2.3-15.2-8.9-4.3-2.4z" fill="#092400"/>
<path d="M1067.9 111.5l4.6 .7-14.7-9.3-4.6-.7z" fill="#0c0902"/>
<path d="M1137.3 145.2l4.3 1.9-15.1-9-4.4-1.9z" fill="#0e1b00"/>
<path d="M1091 122l4.5 1.2-14.8-9.2-4.5-1.2z" fill="#0b0a00"/>
<path d="M1114.2 133.3l4.4 1.5-15-9.1-4.4-1.5z" fill="#0e1200"/>
<path d="M1248.6 210.9l3.8 3.6-15.8-8.6-3.9-3.6z" fill="#003834"/>
<path class="e" d="M1252.1 214.3L1237 206.1"/>
<path d="M1225.5 196.1l4 3.3-15.7-8.7-4-3.3z" fill="#003821"/>
<path d="M1202.4 182l4.1 2.9-15.6-8.8-4.1-2.9z" fill="#00310d"/>
<path d="M1040.3 101.3l4.6 .2-14.5-9.4-4.7-.2z" fill="#2d1906"/>
<path class="e" d="M1026.1 92.1L1030.7 92.4"/>
<path d="M1179.3 168.5l4.2 2.5-15.5-8.9-4.1-2.5z" fill="#012800"/>
<path d="M1063.4 110.8l4.6 .6-14.7-9.3-4.6-.6z" fill="#150f03"/>
<path d="M1156.1 155.6l4.3 2.2-15.3-9-4.3-2.1z" fill="#0a1f00"/>
<path d="M1086.6 121l4.5 1-14.9-9.2-4.5-1z" fill="#0a0901"/>
<path d="M1133 143.4l4.3 1.8-15.1-9.1-4.4-1.7z" fill="#0d1600"/>
<path d="M1109.8 131.9l4.4 1.3-15-9.1-4.5-1.3z" fill="#0b0d00"/>
<path d="M1244.6 207.6l3.9 3.4-15.8-8.6-4-3.5z" fill="#00382d"/>
<path d="M1035.7 101.2l4.7 0-14.6-9.4-4.7 0z" fill="#3b2009"/>
<path class="e" d="M1021.5 92L1026.1 92.1"/>
<path d="M1221.5 193.1l4 3.1-15.7-8.7-4.1-3.1z" fill="#00361a"/>
<path d="M1058.9 110.4l4.6 .3-14.8-9.3-4.6-.4z" fill="#1f1605"/>
<path d="M1198.3 179.3l4.1 2.7-15.6-8.8-4.1-2.7z" fill="#002d08"/>
<path d="M1082.1 120.2l4.5 .7-14.8-9.2-4.6-.7z" fill="#0c0b02"/>
<path d="M1175.1 166.2l4.2 2.3-15.4-8.9-4.3-2.3z" fill="#042400"/>
<path d="M1105.3 130.7l4.5 1.1-15-9.1-4.5-1.1z" fill="#0a0b00"/>
<path d="M1151.9 153.7l4.3 1.9-15.4-8.9-4.3-2z" fill="#0b1b00"/>
<path d="M1128.6 141.8l4.4 1.6-15.2-9-4.4-1.6z" fill="#0c1200"/>
<path d="M1263.9 219.1l3.8 3.6-16.1-8.6-3.8-3.6z" fill="#003638"/>
<path class="e" d="M1267.3 222.4L1252.1 214.3"/>
<path d="M1031.1 101.4l4.7-.3-14.6-9.4-4.7 .2z" fill="#4b270b"/>
<path class="e" d="M1016.9 92.1L1021.5 92"/>
<path d="M1240.7 204.4l3.9 3.2-15.9-8.6-4-3.3z" fill="#003827"/>
<path d="M1054.3 110.1l4.6 .2-14.7-9.4-4.7-.1z" fill="#2c1e06"/>
<path d="M1217.4 190.3l4.1 2.9-15.8-8.8-4-2.8z" fill="#003113"/>
<path d="M1077.6 119.6l4.5 .5-14.8-9.2-4.6-.6z" fill="#141103"/>
<path d="M1194.2 176.8l4.1 2.5-15.6-8.7-4.2-2.6z" fill="#002803"/>
<path d="M1100.9 129.7l4.5 .9-15.1-9.1-4.5-1z" fill="#0a0a01"/>
<path d="M1170.9 164.1l4.2 2.1-15.5-8.9-4.2-2.1z" fill="#061f00"/>
<path d="M1124.2 140.5l4.4 1.3-15.2-9-4.4-1.4z" fill="#0a0d00"/>
<path d="M1147.5 151.9l4.4 1.8-15.4-9-4.3-1.7z" fill="#0a1600"/>
<path d="M1026.4 101.7l4.7-.4-14.5-9.5-4.8 .5z" fill="#5c2f0d"/>
<path class="e" d="M1012.2 92.5L1016.9 92.1"/>
<path d="M1260 215.7l3.8 3.4-16.1-8.5-3.9-3.5z" fill="#003833"/>
<path d="M1049.7 110.1l4.7-.1-14.8-9.3-4.7 0z" fill="#3b2709"/>
<path d="M1236.7 201.3l4 3.1-16-8.6-4-3.1z" fill="#003620"/>
<path d="M1073 119.1l4.6 .4-14.9-9.3-4.6-.3z" fill="#1f1a04"/>
<path d="M1213.3 187.6l4.1 2.7-15.8-8.7-4.1-2.7z" fill="#002d0d"/>
<path d="M1096.4 128.9l4.5 .7-15-9.1-4.6-.8z" fill="#0c0c02"/>
<path d="M1190 174.5l4.2 2.3-15.7-8.8-4.2-2.3z" fill="#002400"/>
<path d="M1119.8 139.3l4.4 1.1-15.2-9-4.4-1.2z" fill="#080b00"/>
<path d="M1021.8 102.3l4.7-.7-14.6-9.5-4.7 .7z" fill="#6e3710"/>
<path class="e" d="M1007.6 93L1012.2 92.5"/>
<path d="M1166.6 162.1l4.3 1.9-15.5-8.8-4.3-2z" fill="#071b00"/>
<path d="M1143.2 150.4l4.4 1.5-15.4-9-4.4-1.5z" fill="#091200"/>
<path d="M1279.3 227.2l3.8 3.6-16.2-8.5-3.9-3.6z" fill="#003138"/>
<path class="e" d="M1282.7 230.5L1267.3 222.4"/>
<path d="M1045.1 110.2l4.7-.2-14.8-9.4-4.7 .3z" fill="#4b300b"/>
<path d="M1256 212.5l3.9 3.3-16.1-8.6-3.9-3.3z" fill="#00382d"/>
<path d="M1068.5 118.9l4.6 .1-14.9-9.2-4.6-.2z" fill="#2c2306"/>
<path d="M1232.6 198.5l4.1 2.9-16-8.7-4-2.9z" fill="#003118"/>
<path d="M1017.1 103l4.8-.9-14.6-9.4-4.8 .9z" fill="#803f12"/>
<path class="e" d="M1002.9 93.7L1007.6 93"/>
<path d="M1091.9 128.2l4.5 .6-15-9.2-4.6-.5z" fill="#141303"/>
<path d="M1209.2 185.1l4.1 2.5-15.8-8.7-4.1-2.5z" fill="#002808"/>
<path d="M1115.3 138.3l4.5 .9-15.2-9.1-4.5-.9z" fill="#080a01"/>
<path d="M1185.8 172.4l4.2 2.1-15.7-8.8-4.2-2.1z" fill="#021f00"/>
<path d="M1138.8 149l4.4 1.3-15.3-9-4.5-1.3z" fill="#080e00"/>
<path d="M1162.3 160.4l4.3 1.7-15.5-8.9-4.3-1.7z" fill="#081600"/>
<path d="M1040.4 110.6l4.8-.5-14.8-9.3-4.7 .4z" fill="#5c3a0d"/>
<path d="M1063.9 118.9l4.6-.1-14.9-9.3-4.6 .1z" fill="#3b2e08"/>
<path d="M1275.5 223.8l3.8 3.4-16.3-8.5-3.9-3.4z" fill="#003738"/>
<path d="M1012.4 104l4.8-1.1-14.6-9.5-4.8 1.1z" fill="#914816"/>
<path class="e" d="M998.2 94.7L1002.9 93.7"/>
<path d="M1087.4 127.8l4.5 .4-15-9.2-4.6-.4z" fill="#1f1d04"/>
<path d="M1252 209.5l4 3.1-16.1-8.6-4-3.1z" fill="#003626"/>
<path d="M1110.9 137.5l4.5 .7-15.2-9.1-4.6-.7z" fill="#0a0c02"/>
<path d="M1228.6 195.8l4 2.7-16-8.6-4-2.7z" fill="#002d12"/>
<path d="M1035.8 111.2l4.7-.7-14.7-9.4-4.8 .7z" fill="#6e4410"/>
<path d="M1134.4 147.8l4.4 1.1-15.3-9-4.5-1.1z" fill="#070b00"/>
<path d="M1205.1 182.8l4.1 2.3-15.8-8.7-4.2-2.3z" fill="#002404"/>
<path d="M1158 158.8l4.3 1.5-15.5-8.9-4.4-1.5z" fill="#071200"/>
<path d="M1181.5 170.5l4.3 1.9-15.7-8.8-4.3-1.9z" fill="#041b00"/>
<path d="M1059.3 119.1l4.7-.3-15-9.3-4.7 .2z" fill="#4b390b"/>
<path d="M1007.7 105.2l4.8-1.3-14.6-9.6-4.8 1.4z" fill="#a4551f"/>
<path class="e" d="M993.5 95.8L998.2 94.7"/>
<path d="M1295 235.2l3.8 3.6-16.5-8.4-3.8-3.6z" fill="#002b38"/>
<path class="e" d="M1298.4 238.6L1282.7 230.5"/>
<path d="M1082.8 127.6l4.6 .1-15.1-9.2-4.6-.1z" fill="#2c2806"/>
<path d="M1271.5 220.6l3.9 3.3-16.3-8.5-3.9-3.3z" fill="#003833"/>
<path d="M1031.1 112l4.8-1-14.8-9.4-4.7 .9z" fill="#804e12"/>
<path d="M1106.4 136.9l4.5 .5-15.2-9.1-4.6-.5z" fill="#121403"/>
<path d="M1248 206.7l4 2.8-16.1-8.5-4.1-2.9z" fill="#00311e"/>
<path d="M1130 146.8l4.5 .9-15.4-9-4.5-.9z" fill="#070a01"/>
<path d="M1224.5 193.4l4.1 2.5-16-8.7-4.2-2.5z" fill="#00280d"/>
<path d="M1003 106.6l4.8-1.6-14.6-9.5-4.8 1.5z" fill="#ad5e26"/>
<path class="e" d="M988.8 97.2L993.5 95.8"/>
<path d="M1153.6 157.4l4.4 1.4-15.6-8.9-4.4-1.4z" fill="#060e00"/>
<path d="M1200.9 180.7l4.2 2.1-15.9-8.7-4.2-2.1z" fill="#002001"/>
<path d="M1177.2 168.7l4.3 1.8-15.7-8.9-4.3-1.7z" fill="#051700"/>
<path d="M1054.6 119.4l4.8-.5-15-9.3-4.7 .5z" fill="#5d450d"/>
<path d="M1078.2 127.6l4.7-.1-15.1-9.2-4.7 .1z" fill="#3b3408"/>
<path d="M1026.4 113l4.8-1.2-14.7-9.4-4.8 1.1z" fill="#925a16"/>
<path d="M1291.2 231.8l3.8 3.5-16.5-8.5-3.8-3.4z" fill="#003138"/>
<path d="M1101.9 136.5l4.5 .3-15.2-9.1-4.6-.4z" fill="#1d1e04"/>
<path d="M998.2 108.2l4.9-1.8-14.6-9.5-4.9 1.7z" fill="#b4682e"/>
<path class="e" d="M984 98.8L988.8 97.2"/>
<path d="M1267.6 217.6l3.9 3.1-16.3-8.5-4-3.1z" fill="#00362c"/>
<path d="M1125.5 146l4.5 .7-15.4-9-4.5-.7z" fill="#090b02"/>
<path d="M1050 120l4.7-.7-14.9-9.3-4.7 .7z" fill="#6e5110"/>
<path d="M1244 204l4 2.7-16.2-8.6-4-2.7z" fill="#002d17"/>
<path d="M1149.2 156.3l4.4 1.1-15.5-8.9-4.5-1.2z" fill="#060b00"/>
<path d="M1220.3 191.1l4.2 2.3-16.1-8.7-4.1-2.3z" fill="#002408"/>
<path d="M1172.9 167.2l4.4 1.5-15.8-8.8-4.3-1.5z" fill="#051200"/>
<path d="M1196.6 178.8l4.3 1.9-15.9-8.7-4.3-2z" fill="#011b00"/>
<path d="M1021.7 114.2l4.8-1.4-14.7-9.4-4.8 1.3z" fill="#a5681e"/>
<path d="M1073.6 127.8l4.7-.3-15.1-9.2-4.7 .3z" fill="#4b420b"/>
<path d="M993.5 110l4.9-2-14.7-9.6-4.8 2z" fill="#bb7236"/>
<path class="e" d="M979.3 100.6L984 98.8"/>
<path d="M1310.9 243.2l3.7 3.6-16.6-8.4-3.8-3.6z" fill="#002538"/>
<path class="e" d="M1314.2 246.6L1298.4 238.6"/>
<path d="M1097.3 136.3l4.6 .1-15.2-9.1-4.6-.2z" fill="#2a2b06"/>
<path d="M1045.3 120.8l4.8-.9-14.9-9.3-4.8 .9z" fill="#815e12"/>
<path d="M1287.3 228.7l3.8 3.2-16.5-8.4-3.9-3.3z" fill="#003738"/>
<path d="M1121.1 145.4l4.5 .6-15.4-9.1-4.6-.5z" fill="#101303"/>
<path d="M1263.6 214.8l4 2.8-16.4-8.5-4-2.8z" fill="#003223"/>
<path d="M1144.8 155.3l4.5 .9-15.6-8.9-4.5-1z" fill="#060a01"/>
<path d="M1017 115.6l4.9-1.6-14.8-9.5-4.9 1.6z" fill="#ad7126"/>
<path d="M1239.9 201.5l4.1 2.5-16.2-8.6-4.1-2.5z" fill="#002911"/>
<path d="M1168.6 165.8l4.4 1.4-15.8-8.9-4.4-1.3z" fill="#050e00"/>
<path d="M1069 128.2l4.7-.5-15.1-9.3-4.7 .6z" fill="#5d4f0d"/>
<path d="M1216.2 189l4.1 2.1-16-8.7-4.2-2.1z" fill="#002005"/>
<path d="M988.7 112l4.9-2.2-14.6-9.6-4.9 2.2z" fill="#c17c3e"/>
<path class="e" d="M974.5 102.6L979.3 100.6"/>
<path d="M1192.4 177.1l4.2 1.7-15.8-8.8-4.3-1.7z" fill="#021700"/>
<path d="M1092.8 136.3l4.6-.1-15.3-9.2-4.6 .1z" fill="#3a3a08"/>
<path d="M1040.7 121.8l4.7-1.1-14.9-9.4-4.8 1.2z" fill="#936b16"/>
<path d="M1307.1 239.8l3.8 3.5-16.7-8.4-3.8-3.4z" fill="#002c38"/>
<path d="M1116.5 145.1l4.6 .3-15.4-9.1-4.6-.3z" fill="#191e04"/>
<path d="M1012.3 117.2l4.8-1.8-14.7-9.5-4.9 1.8z" fill="#b47a2e"/>
<path d="M983.9 114.3l4.9-2.5-14.6-9.6-4.9 2.4z" fill="#c78647"/>
<path class="e" d="M969.8 104.8L974.5 102.6"/>
<path d="M1283.4 225.7l3.9 3-16.6-8.4-3.9-3.1z" fill="#003631"/>
<path d="M1140.4 154.5l4.5 .7-15.6-8.9-4.5-.7z" fill="#070b02"/>
<path d="M1064.4 128.8l4.7-.7-15.1-9.3-4.7 .7z" fill="#6f5e10"/>
<path d="M1259.6 212.1l4 2.7-16.4-8.5-4-2.7z" fill="#002d1c"/>
<path d="M1164.2 164.7l4.4 1.1-15.7-8.9-4.4-1.1z" fill="#050b00"/>
<path d="M1235.8 199.3l4.1 2.2-16.2-8.6-4.2-2.3z" fill="#00240c"/>
<path d="M1188.1 175.5l4.3 1.5-15.9-8.7-4.3-1.6z" fill="#031200"/>
<path d="M1211.9 187.1l4.3 1.9-16.1-8.7-4.3-1.9z" fill="#001b02"/>
<path d="M1036 123.1l4.8-1.4-15-9.4-4.8 1.4z" fill="#a57a1e"/>
<path d="M1088.2 136.5l4.6-.3-15.2-9.2-4.7 .3z" fill="#4b4a0b"/>
<path d="M1007.5 119l4.9-2-14.8-9.5-4.8 2z" fill="#bb8436"/>
<path d="M979.1 116.7l5-2.6-14.6-9.7-4.9 2.7z" fill="#cc914f"/>
<path class="e" d="M965 107.2L969.8 104.8"/>
<path d="M1112 144.9l4.6 .1-15.4-9.1-4.6-.1z" fill="#252b06"/>
<path d="M1327 251.1l3.7 3.6-16.9-8.3-3.7-3.6z" fill="#002038"/>
<path class="e" d="M1330.3 254.5L1314.2 246.6"/>
<path d="M1059.7 129.6l4.8-.9-15.1-9.3-4.8 .9z" fill="#816d13"/>
<path d="M1135.9 154l4.5 .5-15.6-9-4.5-.5z" fill="#0d1303"/>
<path d="M1303.2 236.7l3.9 3.2-16.8-8.4-3.8-3.2z" fill="#003238"/>
<path d="M1031.2 124.5l4.9-1.6-15-9.4-4.8 1.6z" fill="#ad8326"/>
<path d="M1159.8 163.7l4.5 .9-15.8-8.8-4.5-1z" fill="#050a01"/>
<path d="M1279.4 222.8l4 2.9-16.6-8.5-4-2.8z" fill="#003228"/>
<path d="M974.3 119.4l5-2.9-14.6-9.6-4.9 2.8z" fill="#d19c57"/>
<path class="e" d="M960.2 109.9L965 107.2"/>
<path d="M1002.8 121.1l4.9-2.2-14.8-9.6-4.9 2.2z" fill="#c18e3e"/>
<path d="M1083.6 136.9l4.6-.5-15.2-9.2-4.7 .5z" fill="#5d5a0d"/>
<path d="M1183.8 174.2l4.3 1.3-15.9-8.8-4.4-1.3z" fill="#030e00"/>
<path d="M1255.6 209.7l4 2.4-16.4-8.5-4.1-2.5z" fill="#002915"/>
<path d="M1207.7 185.3l4.3 1.7-16.1-8.7-4.3-1.7z" fill="#001700"/>
<path d="M1231.6 197.2l4.2 2.1-16.3-8.7-4.1-2.1z" fill="#002008"/>
<path d="M1107.5 144.9l4.6-.1-15.5-9.1-4.6 .1z" fill="#343a08"/>
<path d="M1055 130.7l4.8-1.2-15.1-9.3-4.8 1.2z" fill="#937c16"/>
<path d="M969.5 122.3l5-3.1-14.6-9.7-4.9 3.1z" fill="#d5a75e"/>
<path class="e" d="M955.4 112.7L960.2 109.9"/>
<path d="M1026.5 126.2l4.9-1.9-15-9.4-4.8 1.8z" fill="#b48d2e"/>
<path d="M1131.4 153.6l4.6 .3-15.7-9-4.5-.3z" fill="#161e04"/>
<path d="M998 123.4l4.9-2.5-14.8-9.6-4.9 2.5z" fill="#c79846"/>
<path d="M1323.2 247.8l3.8 3.4-16.9-8.3-3.8-3.4z" fill="#002738"/>
<path d="M1078.9 137.6l4.7-.8-15.2-9.2-4.8 .7z" fill="#6f6a10"/>
<path d="M1155.4 163l4.5 .7-15.8-8.9-4.5-.7z" fill="#060b01"/>
<path d="M1299.4 233.6l3.8 3.1-16.7-8.4-3.9-3z" fill="#003636"/>
<path d="M1179.4 173l4.4 1.1-16-8.8-4.3-1.1z" fill="#030b00"/>
<path d="M1275.4 220.2l4 2.7-16.6-8.5-4-2.7z" fill="#002d20"/>
<path d="M1203.4 183.8l4.3 1.5-16.1-8.7-4.3-1.5z" fill="#011200"/>
<path d="M1050.3 131.9l4.8-1.4-15.1-9.3-4.8 1.4z" fill="#a58c1e"/>
<path d="M1251.5 207.4l4 2.3-16.4-8.6-4.1-2.3z" fill="#002410"/>
<path d="M1227.5 195.3l4.1 1.8-16.2-8.6-4.2-1.9z" fill="#001b05"/>
<path d="M964.7 125.4l5-3.3-14.6-9.7-5 3.3z" fill="#d8ae5f"/>
<path class="e" d="M950.6 115.8L955.4 112.7"/>
<path d="M1102.9 145.1l4.6-.3-15.4-9.1-4.7 .3z" fill="#444b0b"/>
<path d="M1021.8 128l4.8-2-14.9-9.5-4.9 2z" fill="#bb9636"/>
<path d="M993.2 125.9l4.9-2.7-14.7-9.6-5 2.6z" fill="#cca34f"/>
<path d="M1126.9 153.4l4.6 .1-15.7-9-4.5-.1z" fill="#212b06"/>
<path d="M1074.3 138.4l4.7-1-15.3-9.2-4.7 1z" fill="#817b13"/>
<path d="M1343.3 259l3.7 3.6-17.1-8.2-3.7-3.6z" fill="#001b38"/>
<path class="e" d="M1346.6 262.4L1330.3 254.5"/>
<path class="e" d="M1342.9 258.9L1346.6 262.4"/>
<path d="M959.9 128.8l5-3.6-14.6-9.7-5 3.5z" fill="#dab660"/>
<path class="e" d="M945.7 119.1L950.6 115.8"/>
<path d="M1151 162.4l4.5 .5-15.8-8.9-4.6-.5z" fill="#0b1203"/>
<path d="M1045.6 133.4l4.9-1.6-15.2-9.4-4.8 1.6z" fill="#ad9526"/>
<path d="M1319.4 244.6l3.8 3.2-16.9-8.3-3.9-3.2z" fill="#002d38"/>
<path d="M988.4 128.6l4.9-2.9-14.7-9.7-5 2.9z" fill="#d1ad57"/>
<path d="M1175 172.1l4.5 .9-16-8.8-4.4-.9z" fill="#040a01"/>
<path d="M1017 130.1l4.9-2.3-15-9.4-4.8 2.2z" fill="#c1a03e"/>
<path d="M1098.3 145.6l4.7-.6-15.5-9.1-4.7 .5z" fill="#565d0d"/>
<path d="M1295.4 230.8l3.9 2.9-16.8-8.4-3.9-2.9z" fill="#00322d"/>
<path d="M1199.1 182.5l4.4 1.3-16.2-8.7-4.3-1.4z" fill="#020e00"/>
<path d="M1271.4 217.7l4 2.5-16.6-8.5-4-2.5z" fill="#002919"/>
<path d="M1223.2 193.5l4.3 1.7-16.3-8.6-4.3-1.7z" fill="#001703"/>
<path d="M1247.3 205.3l4.2 2.1-16.5-8.6-4.2-2.1z" fill="#00200b"/>
<path d="M955 132.3l5-3.8-14.5-9.7-5 3.7z" fill="#dcbf61"/>
<path class="e" d="M940.9 122.6L945.7 119.1"/>
<path d="M1122.4 153.5l4.6-.2-15.7-9-4.6 .1z" fill="#2e3a08"/>
<path d="M1069.6 139.5l4.8-1.2-15.3-9.3-4.8 1.2z" fill="#948d16"/>
<path d="M983.6 131.5l4.9-3.1-14.7-9.7-5 3.1z" fill="#d6b75e"/>
<path d="M1040.9 135.1l4.8-1.9-15.1-9.4-4.8 1.9z" fill="#b49e2e"/>
<path d="M1012.2 132.4l4.9-2.5-14.9-9.5-4.9 2.5z" fill="#c7aa46"/>
<path d="M1146.5 162.1l4.5 .2-15.8-8.9-4.5-.3z" fill="#131d04"/>
<path d="M950.2 136.1l5-4-14.5-9.8-5 3.9z" fill="#ddc861"/>
<path class="e" d="M936.1 126.4L940.9 122.6"/>
<path d="M1093.7 146.2l4.7-.8-15.5-9.1-4.7 .8z" fill="#686f10"/>
<path d="M1339.6 255.6l3.7 3.5-17.1-8.3-3.8-3.4z" fill="#002238"/>
<path class="e" d="M1339.2 255.5L1342.9 258.9"/>
<path d="M1170.6 171.3l4.5 .7-16-8.8-4.5-.7z" fill="#050b01"/>
<path d="M1315.6 241.6l3.8 3-17-8.3-3.8-3z" fill="#003136"/>
<path d="M1194.8 181.3l4.4 1.1-16.2-8.7-4.4-1.1z" fill="#020b00"/>
<path d="M978.8 134.6l4.9-3.3-14.7-9.7-5 3.3z" fill="#d8bf5f"/>
<path d="M1064.9 140.7l4.8-1.4-15.3-9.3-4.8 1.4z" fill="#a59d1e"/>
<path d="M1291.5 228.2l3.9 2.7-16.8-8.4-4-2.7z" fill="#002d25"/>
<path d="M1219 192l4.3 1.5-16.4-8.6-4.2-1.5z" fill="#001301"/>
<path d="M1117.8 153.7l4.6-.3-15.6-9.1-4.7 .4z" fill="#3c4b0b"/>
<path d="M1267.3 215.4l4.1 2.3-16.7-8.4-4-2.3z" fill="#002414"/>
<path d="M1243.2 203.4l4.1 1.9-16.4-8.6-4.2-1.9z" fill="#001c08"/>
<path d="M1007.4 134.9l4.9-2.7-14.9-9.5-4.9 2.7z" fill="#cdb44f"/>
<path d="M1036.2 136.9l4.8-2-15.1-9.4-4.9 2z" fill="#bba836"/>
<path d="M945.3 140.1l5.1-4.2-14.6-9.9-5 4.2z" fill="#dfd162"/>
<path class="e" d="M931.2 130.3L936.1 126.4"/>
<path d="M1142 161.9l4.5 .1-15.8-9-4.6 0z" fill="#1c2a06"/>
<path d="M1089 147.1l4.7-1-15.4-9.2-4.8 1z" fill="#7a8213"/>
<path d="M973.9 138l5-3.6-14.7-9.7-5 3.6z" fill="#dac760"/>
<path d="M1166.2 170.8l4.5 .5-16-8.9-4.5-.4z" fill="#091203"/>
<path d="M940.5 144.3l5-4.5-14.5-9.8-5 4.4z" fill="#e0db63"/>
<path class="e" d="M926.4 134.5L931.2 130.3"/>
<path d="M1060.2 142.2l4.8-1.6-15.3-9.3-4.8 1.6z" fill="#ada626"/>
<path d="M1002.6 137.7l5-3-15-9.5-4.9 2.9z" fill="#d2be57"/>
<path d="M1031.4 139.1l4.9-2.3-15.1-9.5-4.9 2.3z" fill="#c2b13e"/>
<path d="M1190.4 180.4l4.4 .9-16.1-8.8-4.4-.9z" fill="#030a01"/>
<path d="M1335.8 252.5l3.8 3.2-17.2-8.2-3.8-3.3z" fill="#002838"/>
<path class="e" d="M1335.4 252.3L1339.2 255.5"/>
<path d="M1113.2 154.2l4.7-.6-15.7-9.1-4.7 .6z" fill="#4c5d0d"/>
<path d="M1214.7 190.7l4.3 1.3-16.3-8.7-4.3-1.3z" fill="#000e00"/>
<path d="M1311.7 238.8l3.9 2.8-17.1-8.3-3.9-2.9z" fill="#003232"/>
<path d="M969.1 141.6l5-3.8-14.7-9.8-5 3.8z" fill="#dcd061"/>
<path d="M1239 201.7l4.2 1.7-16.5-8.6-4.2-1.7z" fill="#001705"/>
<path d="M1287.5 225.7l4 2.5-16.9-8.4-4-2.5z" fill="#00291d"/>
<path d="M935.6 148.7l5.1-4.6-14.5-10-5.1 4.7z" fill="#dde163"/>
<path class="e" d="M921.6 138.9L926.4 134.5"/>
<path d="M1263.3 213.4l4 2.1-16.6-8.5-4.2-2.1z" fill="#00200f"/>
<path d="M1084.3 148.2l4.8-1.3-15.5-9.1-4.7 1.2z" fill="#8c9416"/>
<path d="M1137.4 162l4.6-.2-15.8-8.9-4.6 .1z" fill="#283a08"/>
<path d="M997.8 140.6l5-3.2-15-9.5-4.9 3.1z" fill="#d6c85e"/>
<path d="M1055.5 143.9l4.8-1.9-15.3-9.3-4.8 1.9z" fill="#b4b02d"/>
<path d="M1026.6 141.4l4.9-2.5-15.1-9.5-4.9 2.5z" fill="#c7bb46"/>
<path d="M1161.7 170.5l4.5 .2-16-8.8-4.5-.3z" fill="#101d04"/>
<path d="M930.8 153.4l5-4.9-14.5-10-5 4.9z" fill="#d4e264"/>
<path class="e" d="M916.7 143.5L921.6 138.9"/>
<path d="M964.2 145.4l5-4.1-14.7-9.7-5 4z" fill="#ded961"/>
<path d="M1108.6 154.8l4.7-.8-15.7-9-4.7 .8z" fill="#5d6f10"/>
<path d="M1186.1 179.7l4.4 .6-16.2-8.7-4.4-.7z" fill="#040a01"/>
<path d="M993 143.8l4.9-3.4-14.9-9.6-4.9 3.3z" fill="#d8d05f"/>
<path d="M1079.7 149.5l4.7-1.5-15.4-9.2-4.8 1.4z" fill="#9ba41e"/>
<path d="M1210.4 189.6l4.3 1.1-16.3-8.7-4.4-1.1z" fill="#010b00"/>
<path d="M1332 249.5l3.8 3-17.2-8.2-3.8-3.1z" fill="#002c36"/>
<path class="e" d="M1331.6 249.3L1335.4 252.3"/>
<path d="M925.9 158.3l5.1-5.2-14.5-9.9-5.1 5.1z" fill="#cae364"/>
<path class="e" d="M911.8 148.4L916.7 143.5"/>
<path d="M1132.9 162.2l4.6-.3-15.8-9-4.7 .3z" fill="#354b0b"/>
<path d="M1021.8 143.9l4.9-2.7-15.1-9.5-4.9 2.7z" fill="#cdc54f"/>
<path d="M1050.7 145.8l4.9-2.1-15.3-9.3-4.9 2.1z" fill="#bbb935"/>
<path d="M1234.8 200.2l4.2 1.5-16.5-8.6-4.3-1.5z" fill="#001303"/>
<path d="M959.4 149.4l5-4.3-14.7-9.7-5 4.2z" fill="#dcdf62"/>
<path d="M1307.8 236.1l3.9 2.7-17.1-8.3-3.9-2.7z" fill="#002e29"/>
<path d="M1259.1 211.5l4.2 1.9-16.8-8.5-4.1-1.9z" fill="#001c0b"/>
<path d="M1283.5 223.5l4 2.2-16.9-8.4-4.1-2.3z" fill="#002517"/>
<path d="M1157.2 170.3l4.6 .1-16-8.9-4.6-.1z" fill="#182a06"/>
<path d="M921 163.4l5.1-5.4-14.5-10-5 5.3z" fill="#bfe464"/>
<path class="e" d="M907 153.4L911.8 148.4"/>
<path d="M1103.9 155.7l4.8-1-15.7-9.1-4.7 1z" fill="#6d8213"/>
<path d="M988.1 147.2l5-3.6-14.9-9.7-5 3.6z" fill="#dad860"/>
<path d="M954.5 153.7l5-4.5-14.7-9.9-5 4.5z" fill="#d4e163"/>
<path d="M1075 151l4.8-1.7-15.5-9.2-4.8 1.6z" fill="#a3ad25"/>
<path d="M1017 146.7l5-3-15.1-9.5-5 3z" fill="#d2ce57"/>
<path d="M1181.6 179.1l4.5 .5-16.2-8.8-4.5-.4z" fill="#071203"/>
<path d="M1046 147.9l4.8-2.3-15.2-9.3-4.9 2.3z" fill="#c1c23e"/>
<path d="M916.2 168.7l5-5.6-14.4-10-5.1 5.5z" fill="#b3e565"/>
<path class="e" d="M902.1 158.7L907 153.4"/>
<path d="M1128.3 162.7l4.6-.6-15.8-9-4.7 .6z" fill="#435d0d"/>
<path d="M1206.1 188.7l4.3 .8-16.3-8.7-4.4-.8z" fill="#020901"/>
<path d="M983.3 150.8l5-3.9-14.9-9.6-5 3.8z" fill="#d8dc61"/>
<path d="M949.6 158.1l5.1-4.7-14.7-9.8-5 4.7z" fill="#cce263"/>
<path d="M1230.5 198.9l4.3 1.2-16.6-8.5-4.3-1.3z" fill="#000e01"/>
<path d="M1328.2 246.6l3.8 2.9-17.3-8.3-3.8-2.8z" fill="#002e32"/>
<path class="e" d="M1327.7 246.5L1331.6 249.3"/>
<path d="M1254.9 209.8l4.2 1.7-16.7-8.5-4.2-1.7z" fill="#001707"/>
<path d="M1303.8 233.7l3.9 2.4-17-8.3-4-2.5z" fill="#002921"/>
<path d="M1099.3 156.8l4.7-1.2-15.6-9.1-4.8 1.2z" fill="#7d9515"/>
<path d="M1279.4 221.4l4 2.1-16.9-8.4-4.1-2.1z" fill="#002012"/>
<path d="M911.3 174.3l5.1-5.9-14.5-10.1-5.1 5.8z" fill="#a7e665"/>
<path class="e" d="M897.3 164.2L902.1 158.7"/>
<path d="M1152.7 170.4l4.6-.2-16-8.9-4.6 .2z" fill="#223908"/>
<path d="M1012.2 149.7l5-3.2-15.1-9.6-5 3.2z" fill="#d5d65e"/>
<path d="M1070.2 152.7l4.9-1.9-15.5-9.2-4.9 1.8z" fill="#a9b52d"/>
<path d="M1041.2 150.3l4.9-2.5-15.3-9.4-4.9 2.5z" fill="#c4c846"/>
<path d="M944.8 162.8l5-4.9-14.7-9.9-5 4.9z" fill="#c2e364"/>
<path d="M978.4 154.6l5-4-14.8-9.7-5.1 4z" fill="#d2de62"/>
<path d="M1177.2 178.8l4.5 .3-16.2-8.8-4.5-.3z" fill="#0d1c04"/>
<path d="M906.4 180l5.1-6-14.5-10.2-5 6.1z" fill="#9ae765"/>
<path class="e" d="M892.4 170L897.3 164.2"/>
<path d="M1123.7 163.4l4.7-.8-15.9-9-4.7 .8z" fill="#527010"/>
<path d="M1201.7 187.9l4.4 .7-16.4-8.7-4.4-.7z" fill="#030a01"/>
<path d="M1007.4 152.9l4.9-3.5-15.1-9.5-4.9 3.4z" fill="#d1d95f"/>
<path d="M901.5 186l5.1-6.3-14.4-10.1-5.1 6.2z" fill="#8ce766"/>
<path class="e" d="M887.6 175.9L892.4 170"/>
<path d="M1094.6 158.1l4.8-1.4-15.7-9.2-4.8 1.5z" fill="#8ba41e"/>
<path d="M939.9 167.8l5-5.2-14.6-10-5.1 5.2z" fill="#b8e464"/>
<path d="M1226.2 197.8l4.3 1-16.5-8.6-4.4-1.1z" fill="#000b01"/>
<path d="M1036.4 152.9l4.9-2.8-15.3-9.4-4.9 2.7z" fill="#c5cd4e"/>
<path d="M973.6 158.7l5-4.3-14.9-9.7-5 4.2z" fill="#cbdf62"/>
<path d="M1065.5 154.6l4.8-2.1-15.4-9.3-4.9 2.1z" fill="#adbc35"/>
<path d="M1148.2 170.7l4.6-.4-16.1-8.9-4.6 .4z" fill="#2d4a0b"/>
<path d="M1250.7 208.3l4.3 1.5-16.8-8.6-4.2-1.4z" fill="#001305"/>
<path d="M1324.3 244l3.8 2.7-17.2-8.3-4-2.7z" fill="#002e2d"/>
<path class="e" d="M1323.8 243.8L1327.7 246.5"/>
<path d="M1275.3 219.5l4.1 1.9-17-8.4-4.1-1.9z" fill="#001c0d"/>
<path d="M896.7 192.2l5-6.5-14.4-10.2-5 6.5z" fill="#7ee866"/>
<path class="e" d="M882.7 182.1L887.6 175.9"/>
<path d="M1299.8 231.4l4 2.3-17.1-8.4-4.1-2.2z" fill="#00251b"/>
<path d="M935 172.9l5.1-5.4-14.7-10-5 5.4z" fill="#aee564"/>
<path d="M1002.5 156.3l5-3.7-15.1-9.5-5 3.6z" fill="#cddb60"/>
<path d="M1172.7 178.7l4.5 0-16.2-8.8-4.5 0z" fill="#142906"/>
<path d="M1119.1 164.3l4.7-1-15.9-9.1-4.7 1.1z" fill="#608313"/>
<path d="M968.7 163l5-4.6-14.8-9.7-5.1 4.5z" fill="#c3e163"/>
<path d="M891.8 198.7l5.1-6.8-14.4-10.2-5.1 6.7z" fill="#6fe866"/>
<path class="e" d="M877.9 188.5L882.7 182.1"/>
<path d="M1031.6 155.7l4.9-3-15.3-9.5-4.9 3z" fill="#c6d257"/>
<path d="M1089.9 159.7l4.8-1.7-15.7-9.2-4.8 1.7z" fill="#92ad25"/>
<path d="M1197.3 187.4l4.4 .5-16.4-8.7-4.4-.5z" fill="#061102"/>
<path d="M1060.7 156.8l4.9-2.4-15.5-9.3-4.9 2.4z" fill="#b1c23e"/>
<path d="M930.1 178.3l5.1-5.7-14.6-10-5.1 5.6z" fill="#a2e565"/>
<path d="M886.9 205.3l5.1-7-14.3-10.2-5.1 6.9z" fill="#66e96e"/>
<path class="e" d="M873 195.1L877.9 188.5"/>
<path d="M1143.6 171.2l4.6-.6-16-8.9-4.7 .6z" fill="#3a5d0d"/>
<path d="M1221.9 196.8l4.3 .9-16.6-8.6-4.3-.9z" fill="#010901"/>
<path d="M997.7 160l5-3.9-15.1-9.6-5 3.8z" fill="#c8dd61"/>
<path d="M963.8 167.5l5.1-4.8-14.9-9.8-5.1 4.8z" fill="#bbe263"/>
<path d="M882.1 212.2l5.1-7.2-14.4-10.3-5.1 7.1z" fill="#66e97f"/>
<path class="e" d="M881.9 211.8L868.2 201.9"/>
<path class="e" d="M868.2 201.9L873 195.1"/>
<path d="M1246.5 207l4.3 1.2-16.8-8.5-4.3-1.3z" fill="#000e03"/>
<path d="M925.2 183.9l5.1-5.9-14.6-10.1-5.1 5.9z" fill="#96e665"/>
<path d="M1114.4 165.4l4.7-1.2-15.8-9.1-4.8 1.3z" fill="#6f9616"/>
<path d="M1026.8 158.7l4.9-3.3-15.3-9.4-4.9 3.2z" fill="#c6d65e"/>
<path d="M1271.1 217.8l4.2 1.7-17-8.4-4.2-1.7z" fill="#00170a"/>
<path d="M1168.2 178.8l4.6-.2-16.3-8.8-4.6 .2z" fill="#1c3908"/>
<path d="M1320.3 241.6l3.9 2.4-17.3-8.2-3.9-2.5z" fill="#002925"/>
<path class="e" d="M1319.9 241.4L1323.8 243.8"/>
<path d="M1295.7 229.3l4.1 2.1-17.2-8.3-4-2.1z" fill="#002015"/>
<path d="M1085.2 161.4l4.8-1.9-15.7-9.2-4.8 1.9z" fill="#98b52d"/>
<path d="M1055.9 159.2l4.9-2.6-15.4-9.3-4.9 2.5z" fill="#b4c846"/>
<path d="M958.9 172.2l5.1-5-14.9-9.8-5 5z" fill="#b2e364"/>
<path d="M992.8 163.8l5-4.1-15.1-9.6-5 4z" fill="#c2de62"/>
<path d="M920.3 189.7l5.1-6.1-14.6-10.1-5.1 6.1z" fill="#89e765"/>
<path d="M1192.8 187.1l4.5 .2-16.4-8.7-4.5-.2z" fill="#0a1c04"/>
<path d="M1139 171.9l4.7-.8-16.1-9-4.7 .8z" fill="#477010"/>
<path d="M1021.9 161.9l5-3.4-15.3-9.5-5 3.4z" fill="#c2d95f"/>
<path d="M915.4 195.7l5.1-6.3-14.5-10.1-5.1 6.2z" fill="#7be766"/>
<path d="M1217.5 196.1l4.4 .7-16.6-8.6-4.4-.7z" fill="#020a01"/>
<path d="M954 177.2l5.1-5.2-14.8-9.9-5.1 5.2z" fill="#a8e464"/>
<path d="M1109.7 166.8l4.8-1.5-15.9-9.1-4.7 1.5z" fill="#7ba41d"/>
<path d="M987.9 167.9l5.1-4.3-15.1-9.7-5 4.3z" fill="#bbe062"/>
<path d="M1051.1 161.8l5-2.8-15.5-9.4-4.9 2.8z" fill="#b6cd4e"/>
<path d="M1080.4 163.4l4.9-2.2-15.7-9.2-4.8 2.1z" fill="#9dbc35"/>
<path d="M1242.2 205.9l4.3 1-16.8-8.5-4.3-1.1z" fill="#000b02"/>
<path d="M1163.7 179.1l4.6-.4-16.3-8.9-4.6 .4z" fill="#264a0b"/>
<path d="M910.5 201.9l5.2-6.5-14.6-10.2-5.1 6.6z" fill="#6ce866"/>
<path d="M1266.9 216.3l4.2 1.5-16.9-8.5-4.3-1.4z" fill="#001306"/>
<path d="M949.1 182.4l5.1-5.5-14.8-9.9-5.1 5.4z" fill="#9de565"/>
<path d="M1291.7 227.5l4 1.8-17.1-8.3-4.1-1.9z" fill="#001c10"/>
<path d="M1316.3 239.3l4 2.3-17.3-8.3-4-2.3z" fill="#00251e"/>
<path class="e" d="M1315.9 239.1L1319.9 241.4"/>
<path d="M1017.1 165.4l5-3.7-15.3-9.5-5 3.6z" fill="#bedb60"/>
<path d="M1134.4 172.8l4.7-1-16.1-9-4.7 1z" fill="#548313"/>
<path d="M1188.4 187l4.5 0-16.4-8.7-4.6 0z" fill="#102906"/>
<path d="M983 172.2l5.1-4.5-15.1-9.7-5 4.5z" fill="#b3e163"/>
<path d="M905.7 208.4l5.1-6.8-14.6-10.2-5.1 6.8z" fill="#66e86f"/>
<path d="M1046.3 164.6l5-3-15.5-9.4-4.9 3z" fill="#b7d257"/>
<path d="M1105 168.3l4.8-1.7-15.8-9.1-4.8 1.7z" fill="#83ad25"/>
<path d="M944.2 187.8l5.1-5.7-14.8-10-5.1 5.7z" fill="#91e665"/>
<path d="M1075.7 165.6l4.8-2.4-15.6-9.2-4.9 2.3z" fill="#a1c23d"/>
<path d="M1213.1 195.6l4.5 .5-16.7-8.7-4.4-.4z" fill="#041102"/>
<path d="M900.8 215.1l5.1-7-14.5-10.2-5.1 6.9z" fill="#66e980"/>
<path d="M1159.1 179.6l4.6-.6-16.2-8.9-4.7 .6z" fill="#315d0d"/>
<path d="M1012.2 169.1l5-4-15.2-9.5-5.1 3.9z" fill="#b9dd61"/>
<path d="M978.1 176.8l5.1-4.8-15-9.8-5.1 4.8z" fill="#abe263"/>
<path d="M1237.9 205l4.4 .8-16.9-8.5-4.3-.9z" fill="#010901"/>
<path d="M895.9 222l5.1-7.2-14.5-10.3-5.1 7.2z" fill="#67e991"/>
<path class="e" d="M895.7 221.6L881.9 211.8"/>
<path d="M939.3 193.4l5.1-5.9-14.8-10-5.1 5.9z" fill="#85e665"/>
<path d="M1262.7 215l4.3 1.3-17-8.5-4.3-1.2z" fill="#000f04"/>
<path d="M1129.7 174l4.8-1.3-16.1-9-4.7 1.3z" fill="#619616"/>
<path d="M1041.5 167.6l5-3.2-15.5-9.4-5 3.2z" fill="#b7d75e"/>
<path d="M1183.9 187.1l4.5-.2-16.4-8.7-4.6 .1z" fill="#173908"/>
<path d="M1287.5 225.8l4.2 1.7-17.2-8.4-4.2-1.7z" fill="#00170c"/>
<path d="M1100.3 170.1l4.8-2-15.8-9.1-4.9 1.9z" fill="#89b52d"/>
<path d="M1070.9 168l4.9-2.6-15.7-9.3-4.9 2.6z" fill="#a4c846"/>
<path d="M973.2 181.6l5.1-5.1-15-9.8-5.1 5z" fill="#a1e364"/>
<path d="M1312.3 237.2l4 2.1-17.3-8.3-4.1-2z" fill="#002018"/>
<path class="e" d="M1311.9 237.1L1315.9 239.1"/>
<path d="M934.4 199.2l5.1-6.1-14.7-10-5.1 6.1z" fill="#78e766"/>
<path d="M1007.3 173l5.1-4.2-15.3-9.6-5 4.1z" fill="#b3df62"/>
<path d="M1208.7 195.3l4.5 .3-16.7-8.7-4.4-.2z" fill="#071b04"/>
<path d="M1154.5 180.3l4.7-.8-16.3-8.9-4.7 .8z" fill="#3d7010"/>
<path d="M929.5 205.3l5.1-6.4-14.7-10-5.1 6.3z" fill="#6ae866"/>
<path d="M1036.7 170.9l4.9-3.5-15.4-9.4-5 3.4z" fill="#b4d95f"/>
<path d="M968.3 186.6l5.1-5.3-15-9.8-5.1 5.2z" fill="#97e464"/>
<path d="M1233.6 204.3l4.4 .6-16.9-8.5-4.4-.7z" fill="#010a01"/>
<path d="M1002.4 177.1l5.1-4.4-15.2-9.6-5.1 4.3z" fill="#ace063"/>
<path d="M1125.1 175.3l4.7-1.5-16.1-9-4.7 1.5z" fill="#6ca51d"/>
<path d="M1066.1 170.6l4.9-2.8-15.7-9.3-4.9 2.8z" fill="#a7cd4e"/>
<path d="M1095.6 172.1l4.8-2.2-15.9-9.1-4.8 2.1z" fill="#8ebc35"/>
<path d="M924.6 211.6l5.1-6.6-14.7-10.1-5.1 6.6z" fill="#66e871"/>
<path d="M1179.4 187.4l4.5-.4-16.4-8.8-4.6 .5z" fill="#204a0b"/>
<path d="M1258.5 213.9l4.3 1.1-17.1-8.5-4.3-1z" fill="#000b03"/>
<path d="M963.4 191.8l5.1-5.5-15-9.9-5.1 5.5z" fill="#8ce565"/>
<path d="M1283.4 224.3l4.1 1.5-17.2-8.4-4.2-1.5z" fill="#001308"/>
<path d="M1031.8 174.4l5-3.7-15.4-9.5-5 3.7z" fill="#afdb60"/>
<path d="M919.7 218.1l5.1-6.8-14.7-10.1-5.1 6.8z" fill="#66e981"/>
<path d="M1308.3 235.4l4 1.8-17.4-8.2-4.1-1.9z" fill="#001c12"/>
<path class="e" d="M1307.9 235.2L1311.9 237.1"/>
<path d="M997.6 181.4l5-4.6-15.2-9.6-5.1 4.6z" fill="#a4e163"/>
<path d="M1149.9 181.3l4.7-1.1-16.3-8.9-4.7 1.1z" fill="#488313"/>
<path d="M1204.3 195.3l4.5 0-16.7-8.7-4.5 0z" fill="#0c2806"/>
<path d="M1061.3 173.4l4.9-3-15.6-9.3-5 3z" fill="#a8d357"/>
<path d="M958.5 197.2l5.1-5.7-15-9.9-5.1 5.7z" fill="#81e665"/>
<path d="M1120.4 176.9l4.7-1.7-16-9.1-4.8 1.7z" fill="#73ad25"/>
<path d="M1090.8 174.3l4.9-2.4-15.9-9.2-4.9 2.4z" fill="#92c23d"/>
<path d="M914.8 224.9l5.1-7.1-14.7-10.2-5.1 7z" fill="#66e991"/>
<path d="M1229.2 203.8l4.4 .4-16.8-8.6-4.4-.4z" fill="#021002"/>
<path d="M1026.9 178.1l5.1-4-15.5-9.4-5 3.9z" fill="#aadd61"/>
<path d="M992.7 186l5-4.8-15.2-9.7-5.1 4.8z" fill="#9be364"/>
<path d="M1174.8 188l4.6-.7-16.4-8.8-4.7 .7z" fill="#295d0d"/>
<path d="M909.9 231.8l5.1-7.3-14.7-10.2-5.1 7.3z" fill="#67eaa2"/>
<path class="e" d="M909.7 231.4L895.7 221.6"/>
<path d="M953.6 202.9l5.1-6-15-9.9-5.1 5.9z" fill="#74e765"/>
<path d="M1254.2 213.1l4.3 .8-17-8.5-4.4-.8z" fill="#010902"/>
<path d="M1056.4 176.5l5-3.3-15.7-9.3-4.9 3.3z" fill="#a9d75f"/>
<path d="M1145.3 182.5l4.7-1.4-16.3-8.9-4.7 1.3z" fill="#539716"/>
<path d="M1279.2 223l4.2 1.3-17.2-8.4-4.3-1.3z" fill="#000f05"/>
<path d="M987.7 190.8l5.1-5-15.2-9.8-5 5.1z" fill="#92e464"/>
<path d="M1086 176.7l4.9-2.6-15.8-9.2-4.9 2.6z" fill="#95c846"/>
<path d="M1199.8 195.4l4.5-.2-16.6-8.7-4.6 .2z" fill="#123808"/>
<path d="M1115.6 178.7l4.9-2-16.1-9-4.8 1.9z" fill="#79b52d"/>
<path d="M948.7 208.8l5.1-6.2-14.9-10-5.2 6.2z" fill="#67e766"/>
<path d="M1022.1 182l5-4.1-15.4-9.6-5.1 4.2z" fill="#a4df62"/>
<path d="M1304.2 233.7l4.1 1.7-17.5-8.3-4.1-1.7z" fill="#00180e"/>
<path class="e" d="M1303.8 233.5L1307.9 235.2"/>
<path d="M1224.8 203.5l4.5 .2-16.9-8.6-4.5-.2z" fill="#051b04"/>
<path d="M943.8 214.9l5.1-6.4-14.9-10-5.2 6.3z" fill="#66e873"/>
<path d="M1170.2 188.7l4.7-.8-16.5-8.9-4.7 .9z" fill="#337010"/>
<path d="M1051.6 179.8l5-3.5-15.7-9.4-5 3.5z" fill="#a5da60"/>
<path d="M982.8 195.9l5.1-5.3-15.2-9.8-5 5.3z" fill="#87e565"/>
<path d="M1017.2 186.2l5-4.4-15.4-9.6-5.1 4.4z" fill="#9ce063"/>
<path d="M1140.6 183.8l4.7-1.5-16.2-8.9-4.8 1.5z" fill="#5da51d"/>
<path d="M1081.2 179.4l4.9-2.9-15.8-9.2-4.9 2.8z" fill="#98ce4e"/>
<path d="M1249.9 212.4l4.3 .6-17-8.5-4.4-.6z" fill="#010a02"/>
<path d="M1110.9 180.7l4.8-2.2-16-9.1-4.9 2.2z" fill="#7fbc35"/>
<path d="M938.8 221.2l5.2-6.6-14.9-10.1-5.2 6.6z" fill="#66e982"/>
<path d="M1195.3 195.7l4.5-.4-16.6-8.7-4.6 .4z" fill="#194a0b"/>
<path d="M977.9 201.1l5.1-5.5-15.2-9.8-5.1 5.5z" fill="#7ce665"/>
<path d="M1275 221.9l4.2 1.1-17.3-8.4-4.2-1.1z" fill="#000b04"/>
<path d="M1046.7 183.3l5-3.7-15.6-9.4-5 3.7z" fill="#a1dc61"/>
<path d="M933.9 227.8l5.2-6.9-14.9-10.1-5.2 6.9z" fill="#66e992"/>
<path d="M1012.3 190.6l5-4.6-15.4-9.6-5 4.6z" fill="#94e263"/>
<path d="M1300 232.2l4.2 1.5-17.5-8.3-4.1-1.5z" fill="#00130a"/>
<path class="e" d="M1299.6 232L1303.8 233.5"/>
<path d="M1165.6 189.7l4.7-1.1-16.5-8.8-4.7 1z" fill="#3c8413"/>
<path d="M1220.4 203.5l4.5-.1-16.9-8.6-4.5 0z" fill="#092806"/>
<path d="M1076.4 182.3l5-3.1-15.9-9.3-5 3.1z" fill="#9ad357"/>
<path d="M973 206.6l5.1-5.8-15.2-9.8-5.1 5.7z" fill="#71e665"/>
<path d="M929 234.6l5.1-7.1-14.8-10.2-5.2 7.1z" fill="#67e9a2"/>
<path d="M1135.9 185.4l4.8-1.7-16.3-9-4.8 1.7z" fill="#64ad25"/>
<path d="M1106.1 183l4.9-2.5-16.1-9.1-4.8 2.4z" fill="#83c33d"/>
<path d="M1041.9 187.1l5-4-15.7-9.4-5 3.9z" fill="#9bde61"/>
<path d="M1007.4 195.2l5-4.9-15.4-9.6-5 4.9z" fill="#8ce364"/>
<path d="M1245.5 211.9l4.4 .4-17.1-8.5-4.4-.4z" fill="#021003"/>
<path d="M924.1 241.6l5.1-7.3-14.8-10.2-5.2 7.3z" fill="#67eab3"/>
<path class="e" d="M923.9 241.2L909.7 231.4"/>
<path d="M968.1 212.3l5.1-6-15.2-9.8-5.1 5.9z" fill="#66e767"/>
<path d="M1190.7 196.3l4.6-.7-16.7-8.7-4.6 .6z" fill="#215d0d"/>
<path d="M1270.7 221.1l4.3 .8-17.3-8.4-4.3-.9z" fill="#000903"/>
<path d="M1071.6 185.4l4.9-3.4-15.8-9.2-5 3.3z" fill="#9bd75f"/>
<path d="M1161 190.9l4.7-1.3-16.5-8.9-4.7 1.3z" fill="#469716"/>
<path d="M1002.4 200.1l5.1-5.1-15.4-9.7-5 5.1z" fill="#82e464"/>
<path d="M963.1 218.3l5.2-6.3-15.2-9.9-5.1 6.2z" fill="#66e875"/>
<path d="M1101.4 185.4l4.9-2.6-16.1-9.2-4.9 2.7z" fill="#87c946"/>
<path d="M1131.2 187.3l4.8-2-16.3-9-4.8 1.9z" fill="#6bb52d"/>
<path d="M1295.9 231l4.2 1.2-17.5-8.3-4.2-1.3z" fill="#000f07"/>
<path class="e" d="M1295.5 230.8L1299.6 232"/>
<path d="M1037 191.1l5-4.2-15.6-9.5-5 4.2z" fill="#95df62"/>
<path d="M1215.9 203.6l4.5-.2-16.9-8.7-4.5 .3z" fill="#0d3808"/>
<path d="M958.2 224.4l5.1-6.4-15.1-10-5.1 6.4z" fill="#66e883"/>
<path d="M997.5 205.1l5.1-5.3-15.4-9.7-5.1 5.3z" fill="#78e565"/>
<path d="M1066.7 188.7l5-3.6-15.8-9.3-5 3.6z" fill="#98da60"/>
<path d="M1186.2 197.1l4.6-.9-16.7-8.8-4.6 .9z" fill="#297010"/>
<path d="M1241.1 211.6l4.5 .2-17.1-8.5-4.5-.2z" fill="#041a05"/>
<path d="M1032.1 195.3l5-4.5-15.6-9.5-5 4.4z" fill="#8ee163"/>
<path d="M1096.6 188.1l4.9-2.9-16.1-9.1-4.9 2.8z" fill="#8ace4e"/>
<path d="M1156.3 192.3l4.8-1.6-16.5-8.8-4.8 1.5z" fill="#4fa51d"/>
<path d="M953.2 230.8l5.2-6.7-15.1-10-5.1 6.7z" fill="#66e992"/>
<path d="M1126.4 189.3l4.9-2.2-16.3-9-4.8 2.2z" fill="#70bc35"/>
<path d="M1266.4 220.4l4.3 .6-17.3-8.4-4.3-.6z" fill="#010903"/>
<path d="M992.6 210.4l5.1-5.5-15.4-9.8-5.1 5.6z" fill="#6de665"/>
<path d="M1211.4 204l4.6-.5-16.9-8.6-4.6 .4z" fill="#134a0b"/>
<path d="M1061.9 192.3l5-3.8-15.9-9.4-5 3.8z" fill="#93dc61"/>
<path d="M948.3 237.4l5.2-6.9-15.1-10-5.2 6.8z" fill="#67e9a2"/>
<path d="M1291.7 229.9l4.2 1-17.5-8.3-4.2-1.1z" fill="#000b05"/>
<path class="e" d="M1291.3 229.7L1295.5 230.8"/>
<path d="M1027.2 199.7l5-4.7-15.6-9.5-5 4.6z" fill="#86e263"/>
<path d="M1181.6 198l4.6-1.1-16.7-8.7-4.6 1.1z" fill="#318413"/>
<path d="M987.6 216l5.2-5.8-15.4-9.8-5.1 5.8z" fill="#65e76a"/>
<path d="M1091.7 191l5-3.1-16.1-9.2-4.9 3.1z" fill="#8cd357"/>
<path d="M943.4 244.3l5.1-7.2-15-10.1-5.2 7.1z" fill="#67eab3"/>
<path d="M1236.7 211.6l4.5 0-17.1-8.6-4.5 0z" fill="#062806"/>
<path d="M1151.6 193.9l4.8-1.8-16.5-8.9-4.8 1.8z" fill="#56ad25"/>
<path d="M1121.7 191.6l4.9-2.5-16.3-9-4.9 2.4z" fill="#75c33d"/>
<path d="M1022.3 204.4l5-5-15.6-9.5-5 4.9z" fill="#7de364"/>
<path d="M1057 196l5-4-15.8-9.4-5 4z" fill="#8dde62"/>
<path d="M938.4 251.3l5.2-7.4-15-10.1-5.2 7.3z" fill="#67eac4"/>
<path class="e" d="M938.2 250.9L923.9 241.2"/>
<path d="M982.7 221.7l5.1-6-15.3-9.8-5.1 6z" fill="#66e777"/>
<path d="M1262.1 220l4.3 .3-17.3-8.4-4.4-.4z" fill="#020f04"/>
<path d="M1206.9 204.5l4.6-.7-16.9-8.6-4.6 .7z" fill="#195d0d"/>
<path d="M1086.9 194.2l5-3.4-16.1-9.2-4.9 3.3z" fill="#8ed85f"/>
<path d="M1287.4 229l4.3 .9-17.5-8.4-4.3-.8z" fill="#000903"/>
<path class="e" d="M1287 228.8L1291.3 229.7"/>
<path d="M1017.3 209.3l5.1-5.2-15.6-9.6-5.1 5.1z" fill="#73e464"/>
<path d="M1176.9 199.3l4.7-1.4-16.7-8.8-4.7 1.3z" fill="#399816"/>
<path d="M977.7 227.7l5.2-6.3-15.3-9.8-5.2 6.2z" fill="#66e885"/>
<path d="M1116.9 194.1l4.9-2.7-16.3-9.1-4.9 2.7z" fill="#79c945"/>
<path d="M1052.1 200.1l5-4.3-15.8-9.4-5 4.2z" fill="#87e062"/>
<path d="M1146.9 195.8l4.8-2.1-16.5-8.9-4.8 2z" fill="#5cb52d"/>
<path d="M1232.3 211.8l4.5-.3-17.2-8.6-4.5 .3z" fill="#093708"/>
<path d="M972.8 233.9l5.1-6.5-15.3-9.9-5.1 6.5z" fill="#66e993"/>
<path d="M1012.4 214.4l5.1-5.4-15.6-9.7-5.1 5.4z" fill="#69e565"/>
<path d="M1082.1 197.5l5-3.6-16.1-9.2-5 3.5z" fill="#8ada60"/>
<path d="M1202.3 205.3l4.6-.9-16.9-8.7-4.6 .9z" fill="#207110"/>
<path d="M1257.7 219.7l4.4 .2-17.3-8.5-4.5-.2z" fill="#041a07"/>
<path d="M1047.2 204.3l5.1-4.5-15.9-9.4-5 4.4z" fill="#7fe163"/>
<path d="M967.8 240.3l5.2-6.7-15.3-9.9-5.1 6.7z" fill="#66e9a2"/>
<path d="M1112.1 196.8l4.9-2.9-16.3-9.1-4.9 2.8z" fill="#7cce4e"/>
<path d="M1172.3 200.7l4.7-1.6-16.7-8.8-4.7 1.5z" fill="#41a51d"/>
<path d="M1142.2 197.8l4.8-2.2-16.5-9-4.8 2.2z" fill="#62bd35"/>
<path d="M1007.4 219.7l5.2-5.6-15.6-9.7-5.1 5.6z" fill="#65e66d"/>
<path d="M1283.2 228.4l4.3 .6-17.6-8.4-4.3-.6z" fill="#010903"/>
<path class="e" d="M1282.8 228.2L1287 228.8"/>
<path d="M962.9 247l5.1-7-15.2-10-5.2 7z" fill="#67eab2"/>
<path d="M1227.8 212.1l4.5-.4-17.1-8.6-4.6 .4z" fill="#0d490b"/>
<path d="M1077.2 201.1l5-3.8-16.1-9.3-5 3.8z" fill="#85dc61"/>
<path d="M1042.3 208.8l5.1-4.8-15.9-9.4-5 4.6z" fill="#77e264"/>
<path d="M1002.5 225.3l5.1-5.9-15.5-9.7-5.1 5.8z" fill="#66e779"/>
<path d="M957.9 253.9l5.2-7.2-15.2-10.1-5.2 7.2z" fill="#67eac3"/>
<path d="M1197.7 206.3l4.7-1.1-16.9-8.7-4.7 1.1z" fill="#268513"/>
<path d="M1107.3 199.7l4.9-3.1-16.2-9.2-5 3.2z" fill="#7fd357"/>
<path d="M1253.3 219.7l4.4-.1-17.3-8.5-4.5 .1z" fill="#062709"/>
<path d="M1167.6 202.3l4.8-1.8-16.7-8.8-4.8 1.8z" fill="#48ae24"/>
<path d="M1137.4 200.1l4.9-2.4-16.5-9-4.9 2.4z" fill="#67c33d"/>
<path d="M1037.3 213.5l5.1-5-15.8-9.5-5.1 4.9z" fill="#6ee464"/>
<path d="M953 261l5.1-7.4-15.2-10.1-5.1 7.4z" fill="#67ead4"/>
<path class="e" d="M952.7 260.6L938.2 250.9"/>
<path d="M1072.3 204.9l5-4-16-9.3-5 4z" fill="#80de62"/>
<path d="M997.5 231.1l5.2-6.1-15.6-9.8-5.1 6.1z" fill="#66e886"/>
<path d="M1278.8 227.9l4.4 .4-17.6-8.4-4.3-.4z" fill="#020f05"/>
<path class="e" d="M1278.5 227.7L1282.8 228.2"/>
<path d="M1223.3 212.7l4.5-.7-17.1-8.6-4.6 .7z" fill="#125d0d"/>
<path d="M1102.5 202.9l4.9-3.4-16.3-9.2-4.9 3.4z" fill="#81d85f"/>
<path d="M992.6 237.1l5.1-6.3-15.5-9.8-5.1 6.3z" fill="#66e894"/>
<path d="M1032.4 218.4l5.1-5.2-15.8-9.6-5.1 5.2z" fill="#65e565"/>
<path d="M1193.1 207.6l4.7-1.4-16.9-8.7-4.7 1.3z" fill="#2c9816"/>
<path d="M1067.4 209l5.1-4.3-16.1-9.4-5 4.3z" fill="#79e062"/>
<path d="M1132.7 202.6l4.9-2.7-16.5-9-4.9 2.7z" fill="#6bc945"/>
<path d="M1162.9 204.2l4.8-2-16.7-8.9-4.8 2z" fill="#4fb62c"/>
<path d="M1248.8 219.8l4.5-.2-17.3-8.5-4.5 .2z" fill="#08370c"/>
<path d="M987.6 243.4l5.2-6.6-15.5-9.9-5.2 6.6z" fill="#66e9a3"/>
<path d="M1027.4 223.5l5.2-5.4-15.8-9.6-5.1 5.4z" fill="#65e66f"/>
<path d="M1097.6 206.3l5-3.6-16.3-9.2-5 3.6z" fill="#7ddb60"/>
<path d="M1062.5 213.3l5.1-4.6-16.1-9.4-5 4.5z" fill="#72e163"/>
<path d="M1218.7 213.5l4.6-.9-17.1-8.6-4.7 .9z" fill="#177110"/>
<path d="M1274.5 227.7l4.4 .2-17.6-8.4-4.4-.2z" fill="#041908"/>
<path class="e" d="M1274.1 227.5L1278.5 227.7"/>
<path d="M982.6 249.8l5.2-6.8-15.5-9.8-5.1 6.7z" fill="#67e9b2"/>
<path d="M1127.9 205.4l4.9-2.9-16.5-9.1-4.9 2.9z" fill="#6fcf4e"/>
<path d="M1188.5 209l4.7-1.6-16.9-8.7-4.8 1.5z" fill="#34a51d"/>
<path d="M1158.2 206.3l4.8-2.3-16.7-8.9-4.8 2.3z" fill="#54bd35"/>
<path d="M1022.5 228.9l5.1-5.6-15.7-9.7-5.2 5.7z" fill="#65e67b"/>
<path d="M977.6 256.5l5.2-7-15.4-9.9-5.2 7z" fill="#67eac2"/>
<path d="M1092.7 209.9l5-3.8-16.2-9.3-5 3.9z" fill="#78dd61"/>
<path d="M1057.6 217.8l5.1-4.8-16.1-9.4-5 4.7z" fill="#69e364"/>
<path d="M1244.4 220.2l4.5-.4-17.4-8.6-4.5 .5z" fill="#0b490e"/>
<path d="M1017.5 234.5l5.2-5.9-15.8-9.6-5.1 5.8z" fill="#66e788"/>
<path d="M972.7 263.5l5.1-7.3-15.4-10-5.2 7.2z" fill="#67ead2"/>
<path d="M1123.1 208.4l4.9-3.2-16.5-9.1-4.9 3.2z" fill="#72d456"/>
<path d="M1214.1 214.6l4.7-1.2-17.2-8.6-4.6 1.1z" fill="#1c8513"/>
<path d="M1153.4 208.6l4.9-2.5-16.7-8.9-4.9 2.5z" fill="#59c33d"/>
<path d="M1183.8 210.7l4.8-1.8-17-8.8-4.8 1.8z" fill="#3bae24"/>
<path d="M1270.1 227.7l4.4-.1-17.6-8.4-4.4 .1z" fill="#06260c"/>
<path class="e" d="M1269.7 227.4L1274.1 227.5"/>
<path d="M967.7 270.6l5.2-7.5-15.4-10-5.2 7.5z" fill="#67ebe3"/>
<path class="e" d="M967.5 270.3L952.7 260.6"/>
<path d="M1052.6 222.5l5.1-5-16-9.5-5.1 5z" fill="#64e468"/>
<path d="M1087.8 213.8l5.1-4.1-16.3-9.3-5 4.1z" fill="#72df62"/>
<path d="M1012.5 240.4l5.2-6.2-15.7-9.7-5.2 6.1z" fill="#66e895"/>
<path d="M1239.9 220.9l4.5-.8-17.4-8.5-4.5 .7z" fill="#0d5d10"/>
<path d="M1118.2 211.6l5-3.4-16.5-9.1-5 3.3z" fill="#75d95f"/>
<path d="M1007.6 246.5l5.1-6.4-15.7-9.8-5.1 6.4z" fill="#66e9a3"/>
<path d="M1047.7 227.5l5.1-5.3-16-9.5-5.1 5.2z" fill="#65e573"/>
<path d="M1082.9 217.9l5.1-4.4-16.3-9.3-5 4.3z" fill="#6ce063"/>
<path d="M1209.5 215.8l4.7-1.4-17.2-8.6-4.7 1.3z" fill="#209916"/>
<path d="M1148.7 211.2l4.8-2.8-16.7-8.9-4.9 2.7z" fill="#5ec945"/>
<path d="M1179.1 212.6l4.8-2.1-17-8.8-4.8 2.1z" fill="#41b62c"/>
<path d="M1002.6 252.8l5.2-6.6-15.7-9.9-5.2 6.6z" fill="#67e9b2"/>
<path d="M1265.7 227.9l4.4-.3-17.6-8.4-4.4 .2z" fill="#08370f"/>
<path class="e" d="M1265.3 227.6L1269.7 227.4"/>
<path d="M1042.7 232.7l5.1-5.5-15.9-9.5-5.2 5.4z" fill="#65e67e"/>
<path d="M1113.4 215l4.9-3.6-16.4-9.2-5 3.6z" fill="#71db60"/>
<path d="M1078 222.2l5.1-4.6-16.3-9.3-5 4.5z" fill="#64e263"/>
<path d="M997.6 259.3l5.2-6.9-15.7-9.8-5.2 6.8z" fill="#67eac1"/>
<path d="M1235.3 221.7l4.6-1-17.4-8.5-4.6 .9z" fill="#107112"/>
<path d="M1143.9 214l4.9-3-16.8-9-4.9 2.9z" fill="#62cf4e"/>
<path d="M1037.7 238.1l5.2-5.7-16-9.6-5.1 5.7z" fill="#65e78a"/>
<path d="M1204.9 217.3l4.7-1.6-17.2-8.7-4.7 1.6z" fill="#27a51c"/>
<path d="M1174.4 214.7l4.8-2.3-17-8.8-4.8 2.3z" fill="#47bd34"/>
<path d="M992.6 266l5.2-7-15.7-9.9-5.1 7z" fill="#67ead1"/>
<path d="M1108.5 218.7l5-3.9-16.5-9.2-5 3.9z" fill="#6cdd61"/>
<path d="M1073.1 226.7l5.1-4.8-16.3-9.3-5 4.7z" fill="#64e36c"/>
<path d="M1261.2 228.3l4.5-.5-17.6-8.5-4.5 .5z" fill="#0a4913"/>
<path class="e" d="M1260.9 228L1265.3 227.6"/>
<path d="M1032.8 243.8l5.1-6-15.9-9.6-5.2 5.9z" fill="#66e896"/>
<path d="M987.6 273l5.2-7.3-15.6-9.9-5.2 7.2z" fill="#67ebe1"/>
<path d="M1139 217l5-3.2-16.8-9.1-4.9 3.2z" fill="#66d456"/>
<path d="M1230.8 222.7l4.6-1.1-17.4-8.6-4.6 1.2z" fill="#138515"/>
<path d="M982.6 280.2l5.2-7.5-15.6-10-5.2 7.5z" fill="#67e4eb"/>
<path class="e" d="M982.4 279.9L967.5 270.3"/>
<path d="M1169.6 217.1l4.9-2.6-17-8.8-4.8 2.5z" fill="#4cc43d"/>
<path d="M1068.1 231.5l5.1-5-16.2-9.4-5.1 5z" fill="#64e476"/>
<path d="M1200.2 219l4.8-1.8-17.2-8.8-4.8 1.9z" fill="#2eae24"/>
<path d="M1103.6 222.6l5-4.2-16.5-9.2-5 4.1z" fill="#66df62"/>
<path d="M1027.8 249.6l5.1-6.1-15.9-9.7-5.1 6.1z" fill="#66e8a4"/>
<path d="M1134.2 220.2l5-3.4-16.8-9.1-4.9 3.4z" fill="#69d95f"/>
<path d="M1256.7 228.9l4.6-.7-17.7-8.5-4.5 .7z" fill="#0d5c17"/>
<path class="e" d="M1256.4 228.7L1260.9 228"/>
<path d="M1022.8 255.8l5.2-6.5-16-9.7-5.1 6.4z" fill="#66e9b2"/>
<path d="M1063.2 236.5l5.1-5.3-16.2-9.4-5.1 5.2z" fill="#65e580"/>
<path d="M1098.7 226.7l5-4.4-16.4-9.2-5.1 4.3z" fill="#63e167"/>
<path d="M1164.9 219.7l4.8-2.8-16.9-8.9-4.9 2.7z" fill="#51ca45"/>
<path d="M1226.2 224l4.6-1.4-17.4-8.6-4.6 1.4z" fill="#169918"/>
<path d="M1195.5 220.9l4.8-2.1-17.2-8.7-4.8 2.1z" fill="#34b62c"/>
<path d="M1017.8 262.1l5.2-6.6-15.9-9.8-5.2 6.6z" fill="#67eac0"/>
<path d="M1058.2 241.8l5.1-5.6-16.2-9.5-5.1 5.5z" fill="#65e68c"/>
<path d="M1129.3 223.7l5-3.7-16.7-9.1-5 3.7z" fill="#65db60"/>
<path d="M1093.7 231l5.1-4.6-16.4-9.2-5.1 4.5z" fill="#63e26f"/>
<path d="M1012.8 268.7l5.2-6.9-15.9-9.8-5.2 6.8z" fill="#67ead0"/>
<path d="M1252.2 229.8l4.6-1-17.7-8.5-4.5 1z" fill="#10711b"/>
<path class="e" d="M1251.8 229.5L1256.4 228.7"/>
<path d="M1160.1 222.5l4.9-3-17-9-4.9 3z" fill="#55cf4e"/>
<path d="M1053.2 247.2l5.2-5.7-16.2-9.6-5.2 5.8z" fill="#66e798"/>
<path d="M1221.5 225.5l4.8-1.6-17.5-8.6-4.7 1.6z" fill="#1ca51e"/>
<path d="M1190.8 223.1l4.8-2.3-17.2-8.8-4.8 2.3z" fill="#3abd34"/>
<path d="M1007.7 275.5l5.3-7.1-15.9-9.9-5.2 7.1z" fill="#67ebdf"/>
<path d="M1124.4 227.4l5.1-4-16.7-9.1-5.1 3.9z" fill="#61dd63"/>
<path d="M1088.8 235.6l5.1-4.8-16.5-9.3-5 4.8z" fill="#64e379"/>
<path d="M1048.2 252.9l5.2-6-16.2-9.5-5.1 5.9z" fill="#66e8a4"/>
<path d="M1002.7 282.5l5.3-7.3-15.9-9.9-5.2 7.3z" fill="#67e6eb"/>
<path d="M1155.2 225.5l5-3.2-17-9-4.9 3.2z" fill="#59d456"/>
<path d="M1247.7 230.9l4.6-1.2-17.7-8.5-4.6 1.1z" fill="#13861f"/>
<path class="e" d="M1247.3 230.6L1251.8 229.5"/>
<path d="M997.7 289.8l5.2-7.6-15.8-9.9-5.2 7.5z" fill="#67d6eb"/>
<path class="e" d="M997.5 289.4L982.4 279.9"/>
<path d="M1083.8 240.4l5.2-5-16.5-9.4-5.1 5.1z" fill="#64e583"/>
<path d="M1186.1 225.5l4.8-2.6-17.2-8.8-4.8 2.5z" fill="#40c43d"/>
<path d="M1043.2 258.9l5.2-6.3-16.2-9.6-5.1 6.2z" fill="#66e9b2"/>
<path d="M1119.5 231.3l5.1-4.2-16.7-9.1-5.1 4.1z" fill="#62df6b"/>
<path d="M1216.9 227.3l4.7-1.9-17.4-8.7-4.7 1.9z" fill="#24ae27"/>
<path d="M1038.2 265l5.2-6.4-16.1-9.7-5.2 6.4z" fill="#67e9c0"/>
<path d="M1150.4 228.8l5-3.5-17-9-5 3.5z" fill="#5fd961"/>
<path d="M1078.9 245.5l5.1-5.3-16.4-9.4-5.2 5.3z" fill="#65e68e"/>
<path d="M1114.6 235.5l5.1-4.4-16.7-9.2-5.1 4.3z" fill="#63e173"/>
<path d="M1181.3 228.1l4.9-2.8-17.2-8.8-4.9 2.7z" fill="#45ca45"/>
<path d="M1243.1 232.2l4.6-1.5-17.6-8.5-4.7 1.4z" fill="#169a23"/>
<path class="e" d="M1242.7 231.9L1247.3 230.6"/>
<path d="M1212.2 229.2l4.8-2.1-17.5-8.7-4.7 2.1z" fill="#2cb630"/>
<path d="M1033.2 271.4l5.2-6.7-16.1-9.7-5.2 6.7z" fill="#67eace"/>
<path d="M1073.9 250.8l5.1-5.6-16.4-9.4-5.1 5.5z" fill="#65e799"/>
<path d="M1145.5 232.3l5-3.7-16.9-9.1-5 3.7z" fill="#61dc68"/>
<path d="M1109.7 239.9l5.1-4.7-16.7-9.2-5.1 4.6z" fill="#64e27c"/>
<path d="M1028.1 278.1l5.3-7-16.1-9.7-5.2 6.9z" fill="#67eade"/>
<path d="M1176.5 230.9l4.9-3-17.2-8.9-4.9 3z" fill="#4ed052"/>
<path d="M1068.9 256.3l5.1-5.8-16.3-9.5-5.2 5.8z" fill="#66e7a5"/>
<path d="M1023.1 284.9l5.2-7.2-16-9.8-5.2 7.2z" fill="#67e8eb"/>
<path d="M1238.5 233.7l4.6-1.7-17.6-8.5-4.7 1.6z" fill="#1ca52a"/>
<path class="e" d="M1238.1 233.4L1242.7 231.9"/>
<path d="M1207.5 231.4l4.8-2.4-17.4-8.7-4.9 2.4z" fill="#34be3a"/>
<path d="M1140.6 236l5.1-3.9-17-9.1-5 3.9z" fill="#62de6f"/>
<path d="M1104.7 244.5l5.1-4.9-16.6-9.3-5.1 4.9z" fill="#64e486"/>
<path d="M1018.1 292l5.2-7.4-16-9.9-5.3 7.4z" fill="#67d8eb"/>
<path d="M1063.9 262.1l5.2-6.1-16.4-9.5-5.2 6z" fill="#66e8b2"/>
<path d="M1171.7 234l4.9-3.3-17.2-8.9-4.9 3.3z" fill="#56d55f"/>
<path d="M1013 299.3l5.3-7.6-16-9.9-5.3 7.6z" fill="#68c8ec"/>
<path class="e" d="M1012.8 298.9L997.5 289.4"/>
<path d="M1099.8 249.3l5.1-5.1-16.7-9.3-5.1 5.1z" fill="#65e590"/>
<path d="M1058.8 268l5.2-6.2-16.3-9.6-5.2 6.2z" fill="#66e9bf"/>
<path d="M1202.7 233.8l4.9-2.6-17.5-8.7-4.8 2.5z" fill="#3dc446"/>
<path d="M1135.7 240l5.1-4.2-17-9.1-5 4.2z" fill="#62e077"/>
<path d="M1233.8 235.5l4.7-2-17.7-8.5-4.7 1.8z" fill="#24ae32"/>
<path class="e" d="M1233.5 235.2L1238.1 233.4"/>
<path d="M1053.8 274.3l5.2-6.6-16.3-9.6-5.2 6.5z" fill="#67eacd"/>
<path d="M1094.8 254.4l5.1-5.3-16.6-9.4-5.2 5.4z" fill="#65e69b"/>
<path d="M1166.8 237.3l5-3.5-17.2-8.9-5 3.4z" fill="#5fda6c"/>
<path d="M1130.8 244.2l5.1-4.5-16.9-9.1-5.1 4.4z" fill="#63e17f"/>
<path d="M1198 236.4l4.8-2.8-17.4-8.7-4.9 2.8z" fill="#45ca51"/>
<path d="M1048.8 280.7l5.2-6.8-16.3-9.6-5.2 6.7z" fill="#67eadc"/>
<path d="M1229.1 237.4l4.8-2.1-17.7-8.6-4.8 2.1z" fill="#2cb73c"/>
<path class="e" d="M1228.8 237.1L1233.5 235.2"/>
<path d="M1089.8 259.8l5.1-5.6-16.6-9.4-5.1 5.5z" fill="#66e7a6"/>
<path d="M1162 240.8l5-3.7-17.2-9-5 3.7z" fill="#61dc74"/>
<path d="M1043.7 287.4l5.3-7-16.3-9.7-5.3 6.9z" fill="#67eaeb"/>
<path d="M1125.9 248.6l5.1-4.7-17-9.1-5 4.6z" fill="#64e388"/>
<path d="M1084.8 265.3l5.2-5.8-16.7-9.4-5.1 5.8z" fill="#66e8b2"/>
<path d="M1193.2 239.3l4.9-3-17.5-8.8-4.9 3z" fill="#4ed05d"/>
<path d="M1038.7 294.3l5.2-7.2-16.3-9.8-5.2 7.2z" fill="#67dbeb"/>
<path d="M1224.4 239.6l4.8-2.3-17.7-8.7-4.8 2.4z" fill="#34be46"/>
<path class="e" d="M1224.1 239.4L1228.8 237.1"/>
<path d="M1120.9 253.3l5.1-4.9-16.9-9.2-5.1 4.8z" fill="#64e492"/>
<path d="M1157.1 244.6l5-4-17.2-9-5 4z" fill="#62de7b"/>
<path d="M1033.6 301.4l5.3-7.4-16.3-9.8-5.2 7.4z" fill="#68cbec"/>
<path d="M1079.7 271.1l5.2-6.1-16.6-9.4-5.1 6z" fill="#66e9bf"/>
<path d="M1188.4 242.4l4.9-3.3-17.4-8.8-5 3.3z" fill="#56d56a"/>
<path d="M1028.6 308.8l5.2-7.7-16.2-9.9-5.3 7.7z" fill="#68bbec"/>
<path class="e" d="M1028.3 308.4L1012.8 298.9"/>
<path d="M1115.9 258.2l5.2-5.2-16.9-9.2-5.2 5.1z" fill="#65e59c"/>
<path d="M1074.7 277.2l5.2-6.4-16.6-9.5-5.2 6.3z" fill="#67e9cc"/>
<path d="M1152.2 248.6l5-4.2-17.2-9-5 4.2z" fill="#63e083"/>
<path d="M1219.7 242.1l4.8-2.6-17.7-8.7-4.8 2.6z" fill="#3dc551"/>
<path class="e" d="M1219.3 241.8L1224.1 239.4"/>
<path d="M1069.7 283.4l5.2-6.5-16.6-9.6-5.2 6.5z" fill="#67eada"/>
<path d="M1110.9 263.3l5.2-5.4-16.9-9.3-5.1 5.4z" fill="#65e6a7"/>
<path d="M1183.5 245.8l5-3.6-17.5-8.8-4.9 3.5z" fill="#5fda77"/>
<path d="M1147.2 252.9l5.1-4.5-17.2-9.1-5 4.5z" fill="#63e28b"/>
<path d="M1064.6 289.9l5.3-6.8-16.6-9.6-5.2 6.8z" fill="#67eae9"/>
<path d="M1214.9 244.8l4.9-2.9-17.7-8.7-4.9 2.8z" fill="#45cb5d"/>
<path class="e" d="M1214.6 244.5L1219.3 241.8"/>
<path d="M1105.9 268.7l5.2-5.6-16.9-9.4-5.1 5.6z" fill="#66e7b3"/>
<path d="M1178.6 249.3l5-3.7-17.4-8.9-5 3.7z" fill="#61dd7f"/>
<path d="M1059.5 296.7l5.3-7.1-16.5-9.6-5.3 6.9z" fill="#67ddeb"/>
<path d="M1142.3 257.3l5.1-4.7-17.2-9.1-5.1 4.7z" fill="#64e394"/>
<path d="M1100.9 274.3l5.2-5.9-16.9-9.3-5.1 5.8z" fill="#66e8bf"/>
<path d="M1210.1 247.7l4.9-3.1-17.7-8.8-4.9 3.1z" fill="#4ed069"/>
<path class="e" d="M1209.8 247.4L1214.6 244.5"/>
<path d="M1054.5 303.6l5.2-7.3-16.5-9.7-5.2 7.3z" fill="#68ceeb"/>
<path d="M1137.3 262l5.1-4.9-17.1-9.2-5.1 5z" fill="#64e59e"/>
<path d="M1173.8 253.2l5-4.1-17.5-8.9-5 4z" fill="#62df86"/>
<path d="M1049.4 310.8l5.3-7.5-16.5-9.8-5.3 7.5z" fill="#68bfec"/>
<path d="M1095.9 280.2l5.2-6.2-16.9-9.4-5.2 6.1z" fill="#66e9cc"/>
<path d="M1044.3 318.2l5.3-7.7-16.5-9.8-5.2 7.7z" fill="#68aeec"/>
<path class="e" d="M1044.1 317.9L1028.3 308.4"/>
<path d="M1205.3 250.8l4.9-3.3-17.7-8.8-4.9 3.3z" fill="#56d575"/>
<path class="e" d="M1205 250.5L1209.8 247.4"/>
<path d="M1132.3 267l5.2-5.2-17.2-9.2-5.1 5.2z" fill="#65e6a8"/>
<path d="M1090.8 286.2l5.2-6.3-16.8-9.5-5.2 6.3z" fill="#67ead9"/>
<path d="M1168.8 257.2l5.1-4.3-17.4-8.9-5.1 4.2z" fill="#63e18e"/>
<path d="M1085.7 292.6l5.3-6.7-16.8-9.5-5.2 6.6z" fill="#67eae7"/>
<path d="M1127.3 272.2l5.2-5.5-17.1-9.2-5.2 5.4z" fill="#65e7b3"/>
<path d="M1200.4 254.2l5-3.6-17.7-8.8-4.9 3.6z" fill="#5fda82"/>
<path class="e" d="M1200.1 253.9L1205 250.5"/>
<path d="M1163.9 261.5l5.1-4.5-17.4-9-5.1 4.4z" fill="#63e297"/>
<path d="M1080.7 299.1l5.2-6.9-16.8-9.5-5.2 6.8z" fill="#67e0eb"/>
<path d="M1122.3 277.6l5.2-5.7-17.1-9.3-5.2 5.7z" fill="#66e8bf"/>
<path d="M1075.6 305.9l5.3-7.1-16.8-9.6-5.3 7z" fill="#67d1eb"/>
<path d="M1195.6 257.8l5-3.8-17.7-8.9-5 3.8z" fill="#61dd89"/>
<path class="e" d="M1195.3 257.5L1200.1 253.9"/>
<path d="M1158.9 266l5.1-4.8-17.4-9-5.1 4.7z" fill="#64e4a0"/>
<path d="M1117.3 283.3l5.2-6-17.1-9.3-5.2 5.9z" fill="#66e8cb"/>
<path d="M1070.5 312.9l5.3-7.3-16.8-9.7-5.2 7.3z" fill="#68c2ec"/>
<path d="M1154 270.8l5.1-5.1-17.4-9-5.1 4.9z" fill="#65e5a9"/>
<path d="M1190.7 261.6l5-4-17.7-8.9-5 4z" fill="#62df91"/>
<path class="e" d="M1190.4 261.3L1195.3 257.5"/>
<path d="M1065.4 320.2l5.3-7.6-16.7-9.7-5.3 7.5z" fill="#68b3ec"/>
<path d="M1112.2 289.2l5.2-6.2-17.1-9.4-5.2 6.1z" fill="#67e9d8"/>
<path d="M1060.3 327.6l5.3-7.8-16.7-9.7-5.3 7.7z" fill="#68a2ed"/>
<path class="e" d="M1060 327.3L1044.1 317.9"/>
<path d="M1149 275.7l5.1-5.2-17.4-9.1-5.1 5.2z" fill="#65e6b4"/>
<path d="M1107.1 295.3l5.3-6.4-17.1-9.5-5.2 6.4z" fill="#67eae5"/>
<path d="M1185.8 265.7l5-4.3-17.7-8.9-5 4.3z" fill="#63e199"/>
<path class="e" d="M1185.4 265.4L1190.4 261.3"/>
<path d="M1102.1 301.7l5.2-6.7-17-9.5-5.3 6.6z" fill="#67e2eb"/>
<path d="M1143.9 281l5.2-5.5-17.4-9.2-5.1 5.5z" fill="#66e7bf"/>
<path d="M1180.8 270.1l5.1-4.6-17.7-9-5 4.6z" fill="#64e3a2"/>
<path class="e" d="M1180.5 269.7L1185.4 265.4"/>
<path d="M1097 308.3l5.2-7-17-9.5-5.2 6.9z" fill="#67d4eb"/>
<path d="M1138.9 286.4l5.2-5.7-17.4-9.2-5.1 5.7z" fill="#66e8ca"/>
<path d="M1091.9 315.1l5.3-7.2-17-9.5-5.3 7.1z" fill="#68c6ec"/>
<path d="M1175.8 274.6l5.1-4.8-17.6-9-5.1 4.8z" fill="#64e4ab"/>
<path class="e" d="M1175.5 274.3L1180.5 269.7"/>
<path d="M1133.9 292.2l5.2-6-17.4-9.3-5.2 5.9z" fill="#66e9d7"/>
<path d="M1086.7 322.2l5.4-7.4-17-9.6-5.3 7.3z" fill="#68b7ec"/>
<path d="M1170.9 279.4l5.1-5-17.7-9.1-5.1 5z" fill="#65e5b5"/>
<path class="e" d="M1170.6 279.1L1175.5 274.3"/>
<path d="M1081.6 329.5l5.3-7.7-16.9-9.6-5.3 7.5z" fill="#68a7ed"/>
<path d="M1128.8 298.1l5.2-6.2-17.3-9.4-5.2 6.2z" fill="#67eae3"/>
<path d="M1076.5 337l5.3-7.9-16.9-9.7-5.3 7.8z" fill="#6896ed"/>
<path class="e" d="M1076.2 336.6L1060 327.3"/>
<path d="M1123.7 304.3l5.3-6.5-17.3-9.4-5.3 6.5z" fill="#67e4ea"/>
<path d="M1165.9 284.5l5.1-5.3-17.6-9.1-5.2 5.2z" fill="#65e6bf"/>
<path class="e" d="M1165.6 284.1L1170.6 279.1"/>
<path d="M1118.6 310.7l5.3-6.7-17.3-9.4-5.3 6.6z" fill="#67d7eb"/>
<path d="M1160.8 289.7l5.2-5.5-17.6-9.1-5.2 5.5z" fill="#66e7ca"/>
<path class="e" d="M1160.5 289.4L1165.6 284.1"/>
<path d="M1113.5 317.4l5.3-7-17.3-9.5-5.2 6.9z" fill="#67c9eb"/>
<path d="M1155.8 295.2l5.2-5.7-17.6-9.2-5.2 5.7z" fill="#66e8d6"/>
<path class="e" d="M1155.5 294.9L1160.5 289.4"/>
<path d="M1108.4 324.3l5.3-7.3-17.3-9.5-5.2 7.2z" fill="#68bbec"/>
<path d="M1150.7 301l5.2-6-17.6-9.3-5.2 6z" fill="#67e9e2"/>
<path class="e" d="M1150.4 300.7L1155.5 294.9"/>
<path d="M1103.2 331.4l5.4-7.5-17.3-9.5-5.3 7.4z" fill="#68acec"/>
<path d="M1098.1 338.7l5.3-7.6-17.2-9.7-5.3 7.7z" fill="#689ced"/>
<path d="M1145.6 307l5.3-6.3-17.6-9.3-5.2 6.3z" fill="#67e5ea"/>
<path class="e" d="M1145.4 306.6L1150.4 300.7"/>
<path d="M1092.9 346.4l5.4-8-17.2-9.7-5.3 7.9z" fill="#688bed"/>
<path class="e" d="M1092.7 346L1076.2 336.6"/>
<path d="M1140.5 313.2l5.3-6.5-17.6-9.3-5.2 6.5z" fill="#67d9eb"/>
<path class="e" d="M1140.3 312.9L1145.4 306.6"/>
<path d="M1135.4 319.7l5.3-6.8-17.5-9.3-5.3 6.7z" fill="#67cceb"/>
<path class="e" d="M1135.1 319.3L1140.3 312.9"/>
<path d="M1130.3 326.4l5.3-7-17.5-9.4-5.3 6.9z" fill="#68beec"/>
<path class="e" d="M1130 326.1L1135.1 319.3"/>
<path d="M1125.1 333.4l5.4-7.3-17.5-9.5-5.3 7.2z" fill="#68b0ec"/>
<path class="e" d="M1124.9 333L1130 326.1"/>
<path d="M1120 340.6l5.3-7.6-17.4-9.5-5.4 7.5z" fill="#68a1ed"/>
<path class="e" d="M1119.7 340.2L1124.9 333"/>
<path d="M1114.8 348l5.4-7.8-17.5-9.6-5.3 7.7z" fill="#6891ed"/>
<path class="e" d="M1114.6 347.6L1119.7 340.2"/>
<path d="M1109.7 355.6l5.3-7.9-17.4-9.7-5.3 7.9z" fill="#6880ee"/>
<path class="e" d="M1109.4 355.3L1092.7 346"/>
<path class="e" d="M1109.4 355.3L1114.6 347.6"/>
</g>
<mask id="mpb" maskUnits="userSpaceOnUse" x="866.2" y="90" width="482.4" height="267.3"><use href="#spb" filter="url(#wh)"/></mask>
<rect x="866.2" y="90" width="482.4" height="267.3" fill="url(#mesh)" mask="url(#mpb)"/>
</g>
<g id="pd">
<path d="M887.9 938.6L1132.3 870.9L1376.7 938.6M885.7 904.2L1132.3 840L1378.9 904.2M883.5 869.9L1132.3 809L1381.1 869.9M881.3 835.5L1132.3 778.1L1383.3 835.5M879.2 801.2L1132.3 747.1L1385.4 801.2M877 766.8L1132.3 716.2L1387.6 766.8M874.8 732.5L1132.3 685.2L1389.8 732.5M926.3 723L936.8 925.1M1183.8 694.7L1181.2 884.5M977.8 713.6L985.7 911.5M1235.3 704.1L1230.1 898M1029.3 704.1L1034.5 898M1286.8 713.6L1278.9 911.5M1080.8 694.7L1083.4 884.5M1338.3 723L1327.8 925.1M874.8 732.5L892 1003.2M1132.3 685.2L1132.3 929.1M1389.8 732.5L1372.6 1003.2" fill="none" stroke="#555" stroke-width="1.1"/>
<polygon points="1132.3,1098 1372.6,1003.2 1132.3,929.1 892,1003.2" fill="#ffff00" stroke="#444" stroke-width=".9"/>
<path d="M1157.5 1088.1 1147.9 1083.9 1138.3 1079.8 1128.7 1075.8 1122.4 1073.1 1112.9 1069.2 1103.4 1065.4 1094 1061.6 1084.6 1057.9 1075.2 1054.3 1065.8 1050.7 1056.5 1047.1 1047.1 1043.7 1037.8 1040.3 1028.5 1036.9 1020.2 1034 1013.1 1031.5 1003.9 1028.2 994.6 1025.1 985.4 1022 976.2 1018.9 967.2 1016 960.9 1013.9 951.8 1011 942.6 1008.1 933.5 1005.3 927.5 1003.4 918.4 1000.6 909.3 997.9" fill="none" stroke="#3cd2aa" stroke-width="1.1" stroke-opacity=".85"/>
<path d="M1364.8 1006.3 1357.7 1004.3 1347.3 1001.4 1336.9 998.4 1326.8 995.5 1316.7 992.6 1306.9 989.7 1297.1 986.7 1287.5 983.8 1278.1 980.9 1268.7 978 1259.6 975.1 1250.5 972.2 1241.6 969.3 1232.9 966.4 1224.2 963.6 1215.7 960.7 1207.4 957.8 1199.1 955 1193.7 953.1 1185.7 950.2 1177.8 947.4 1170 944.6 1162.5 941.8 1157.3 939.9 1149.8 937.1 1142.5 934.3 1137.6 932.4 1130.5 929.7" fill="none" stroke="#3cd2aa" stroke-width="1.1" stroke-opacity=".85"/>
<path d="M1198.4 1071.9 1192.2 1069.2 1182.9 1065.1 1173.6 1061.1 1164.2 1057.2 1155.7 1053.8 1148.7 1050.9 1139.4 1047.2 1130.1 1043.6 1120.7 1040.1 1111.3 1036.6 1101.9 1033.2 1092.5 1029.9 1083.1 1026.7 1073.6 1023.5 1067.3 1021.4 1057.8 1018.3 1048.3 1015.3 1038.8 1012.4 1029.3 1009.5 1022.9 1007.6 1013.4 1004.8 1003.8 1002 997.4 1000.2 987.9 997.5 978.3 994.9 971.9 993.2 962.3 990.6 955.4 988.8 946.4 986.4" fill="none" stroke="#64f050" stroke-width="1.1" stroke-opacity=".85"/>
<path d="M1330.8 1019.7 1319.9 1016.7 1309.2 1013.8 1302.2 1011.8 1291.8 1008.8 1281.5 1005.8 1271.4 1002.8 1261.6 999.8 1251.9 996.8 1242.4 993.8 1233 990.8 1223.9 987.8 1214.9 984.7 1206.1 981.7 1197.5 978.6 1189 975.6 1180.7 972.5 1175.3 970.5 1167.3 967.5 1159.4 964.4 1151.7 961.4 1146.7 959.3 1139.2 956.3 1131.9 953.3 1127.1 951.3 1120 948.2 1113.2 945.3 1108.5 943.2 1101.8 940.2 1099.5 939.2" fill="none" stroke="#64f050" stroke-width="1.1" stroke-opacity=".85"/>
<rect x="886.3" y="937.3" width="3.2" height="2.6" fill="#111"/>
<rect x="884.1" y="902.9" width="3.2" height="2.6" fill="#111"/>
<rect x="881.9" y="868.6" width="3.2" height="2.6" fill="#111"/>
<rect x="879.7" y="834.2" width="3.2" height="2.6" fill="#111"/>
<rect x="877.6" y="799.9" width="3.2" height="2.6" fill="#111"/>
<rect x="875.4" y="765.5" width="3.2" height="2.6" fill="#111"/>
<rect x="873.2" y="731.2" width="3.2" height="2.6" fill="#111"/>
<rect x="1130.7" y="1096.8" width="3.2" height="2.4" fill="#111"/>
<rect x="1130.7" y="1096.8" width="3.2" height="2.4" fill="#111"/>
<rect x="1082.6" y="1077.8" width="3.2" height="2.4" fill="#111"/>
<rect x="1178.8" y="1077.8" width="3.2" height="2.4" fill="#111"/>
<rect x="1034.6" y="1058.9" width="3.2" height="2.4" fill="#111"/>
<rect x="1226.8" y="1058.9" width="3.2" height="2.4" fill="#111"/>
<rect x="986.5" y="1039.9" width="3.2" height="2.4" fill="#111"/>
<rect x="1274.9" y="1039.9" width="3.2" height="2.4" fill="#111"/>
<rect x="938.5" y="1021" width="3.2" height="2.4" fill="#111"/>
<rect x="1322.9" y="1021" width="3.2" height="2.4" fill="#111"/>
<rect x="890.4" y="1002" width="3.2" height="2.4" fill="#111"/>
<rect x="1371" y="1002" width="3.2" height="2.4" fill="#111"/>
<circle cx="885.4" cy="891.8" r="3.6" fill="#f4a6ae" stroke="#c66" stroke-width=".7"/><circle cx="1132" cy="983.2" r="3.6" fill="#f4a6ae" stroke="#c66" stroke-width=".7"/>
<g id="spd">
<path d="M1142.4 814.5l4.2 3.9-14.7-5.4-4.3-4z" fill="#00381f"/>
<path class="e" d="M1146.2 818.2L1132.3 813"/>
<path class="e" d="M1128 809.2L1132.3 813"/>
<path d="M1138.1 810.9l4.2 3.7-14.7-5.4-4.2-3.8z" fill="#003819"/>
<path class="e" d="M1123.8 805.6L1128 809.2"/>
<path d="M1156.5 819.5l4.1 4-14.9-5.3-4.2-4z" fill="#003822"/>
<path class="e" d="M1160.2 823.3L1146.2 818.2"/>
<path d="M1133.8 807.4l4.3 3.6-14.8-5.5-4.3-3.5z" fill="#003813"/>
<path class="e" d="M1119.5 802.2L1123.8 805.6"/>
<path d="M1129.5 804.1l4.3 3.4-14.8-5.4-4.3-3.4z" fill="#00350c"/>
<path class="e" d="M1115.1 798.9L1119.5 802.2"/>
<path d="M1152.2 815.9l4.2 3.8-14.9-5.3-4.2-3.8z" fill="#00381b"/>
<path d="M1125.1 801.1l4.4 3.1-14.8-5.4-4.4-3.2z" fill="#003107"/>
<path class="e" d="M1110.7 795.8L1115.1 798.9"/>
<path d="M1147.9 812.5l4.3 3.5-15-5.3-4.2-3.6z" fill="#003815"/>
<path d="M1170.7 824.5l4.2 4-15.1-5.2-4.2-4z" fill="#003824"/>
<path class="e" d="M1174.5 828.3L1160.2 823.3"/>
<path d="M1120.8 798.2l4.3 3-14.8-5.5-4.4-3z" fill="#002c02"/>
<path class="e" d="M1106.4 792.9L1110.7 795.8"/>
<path d="M1143.6 809.2l4.3 3.4-15-5.4-4.3-3.3z" fill="#00350e"/>
<path d="M1166.5 820.9l4.2 3.7-15.1-5.2-4.2-3.7z" fill="#00381d"/>
<path d="M1116.4 795.5l4.3 2.8-14.8-5.5-4.4-2.8z" fill="#022800"/>
<path class="e" d="M1101.9 790.2L1106.4 792.9"/>
<path d="M1139.3 806.1l4.3 3.2-15-5.3-4.3-3.2z" fill="#003108"/>
<path d="M1162.2 817.4l4.3 3.6-15.2-5.2-4.2-3.6z" fill="#003817"/>
<path d="M1185.2 829.4l4.1 3.9-15.3-5.1-4.1-3.9z" fill="#003825"/>
<path class="e" d="M1188.9 833.2L1174.5 828.3"/>
<path d="M1111.9 793l4.4 2.5-14.8-5.4-4.4-2.6z" fill="#052400"/>
<path class="e" d="M1097.5 787.7L1101.9 790.2"/>
<path d="M1134.9 803.2l4.4 3-15-5.3-4.4-3z" fill="#002c04"/>
<path d="M1158 814.1l4.2 3.4-15.2-5.2-4.2-3.4z" fill="#003510"/>
<path d="M1181 825.7l4.2 3.8-15.4-5.1-4.2-3.8z" fill="#00381f"/>
<path d="M1107.5 790.7l4.4 2.3-14.8-5.4-4.5-2.4z" fill="#071f00"/>
<path class="e" d="M1093 785.4L1097.5 787.7"/>
<path d="M1130.5 800.5l4.4 2.8-15-5.3-4.4-2.8z" fill="#002800"/>
<path d="M1153.6 811l4.3 3.2-15.2-5.2-4.3-3.2z" fill="#00310a"/>
<path d="M1176.8 822.2l4.2 3.6-15.4-5.1-4.2-3.5z" fill="#003819"/>
<path d="M1199.9 834.1l4.1 4-15.5-5-4.2-4z" fill="#003827"/>
<path class="e" d="M1203.6 837.9L1188.9 833.2"/>
<path d="M1103 788.5l4.5 2.2-14.9-5.5-4.5-2.1z" fill="#081b00"/>
<path class="e" d="M1088.5 783.3L1093 785.4"/>
<path d="M1126.1 798l4.4 2.6-15-5.3-4.4-2.6z" fill="#032400"/>
<path d="M1149.3 808.1l4.3 3-15.2-5.2-4.3-3z" fill="#002c05"/>
<path d="M1172.5 819l4.2 3.4-15.3-5.1-4.3-3.4z" fill="#003512"/>
<path d="M1195.7 830.4l4.1 3.8-15.5-4.9-4.2-3.8z" fill="#003820"/>
<path d="M1098.5 786.6l4.5 2-14.9-5.5-4.5-1.9z" fill="#081600"/>
<path class="e" d="M1084 781.3L1088.5 783.3"/>
<path d="M1121.7 795.7l4.4 2.4-15-5.4-4.5-2.3z" fill="#051f00"/>
<path d="M1144.9 805.4l4.4 2.8-15.2-5.2-4.4-2.8z" fill="#002801"/>
<path d="M1168.2 815.9l4.3 3.2-15.4-5.1-4.3-3.2z" fill="#00310c"/>
<path d="M1191.5 827l4.2 3.6-15.6-5-4.2-3.6z" fill="#00381a"/>
<path d="M1214.8 838.7l4.1 4.1-15.8-4.9-4.1-4z" fill="#003828"/>
<path class="e" d="M1218.4 842.6L1203.6 837.9"/>
<path d="M1093.9 784.9l4.6 1.7-14.9-5.4-4.6-1.8z" fill="#081200"/>
<path class="e" d="M1079.5 779.6L1084 781.3"/>
<path d="M1117.2 793.6l4.5 2.1-15.1-5.3-4.5-2.2z" fill="#071b00"/>
<path d="M1140.5 802.9l4.4 2.6-15.2-5.2-4.4-2.6z" fill="#022400"/>
<path d="M1163.9 813l4.3 3-15.4-5.1-4.4-3z" fill="#002c06"/>
<path d="M1187.2 823.7l4.2 3.4-15.5-5-4.3-3.4z" fill="#003513"/>
<path d="M1210.6 835.1l4.1 3.8-15.7-4.9-4.2-3.8z" fill="#003822"/>
<path d="M1089.4 783.4l4.5 1.5-14.9-5.5-4.5-1.5z" fill="#070e00"/>
<path class="e" d="M1074.9 778.1L1079.5 779.6"/>
<path d="M1112.7 791.7l4.5 1.9-15.1-5.3-4.5-2z" fill="#071600"/>
<path d="M1136.1 800.6l4.4 2.4-15.3-5.2-4.4-2.4z" fill="#041f00"/>
<path d="M1159.5 810.3l4.3 2.7-15.4-5-4.3-2.8z" fill="#002802"/>
<path d="M1084.8 782.1l4.6 1.3-14.9-5.5-4.6-1.3z" fill="#050900"/>
<path class="e" d="M1070.3 776.7L1074.9 778.1"/>
<path d="M1182.9 820.6l4.3 3.2-15.6-5-4.3-3.2z" fill="#00310d"/>
<path d="M1206.4 831.6l4.2 3.6-15.8-4.9-4.2-3.6z" fill="#00381c"/>
<path d="M1229.9 843.3l4 4-15.9-4.8-4.1-4z" fill="#003829"/>
<path class="e" d="M1233.5 847.1L1218.4 842.6"/>
<path d="M1108.2 789.9l4.5 1.8-15.1-5.4-4.5-1.7z" fill="#071200"/>
<path d="M1131.6 798.5l4.5 2.2-15.3-5.3-4.5-2.1z" fill="#061b00"/>
<path d="M1080.2 781l4.6 1.1-14.9-5.5-4.6-1.1z" fill="#030500"/>
<path class="e" d="M1065.7 775.6L1070.3 776.7"/>
<path d="M1155.1 807.7l4.4 2.6-15.5-5.1-4.3-2.5z" fill="#012400"/>
<path d="M1178.6 817.7l4.3 3-15.6-5-4.3-3z" fill="#002c08"/>
<path d="M1202.2 828.3l4.2 3.4-15.8-4.8-4.2-3.5z" fill="#003515"/>
<path d="M1103.6 788.4l4.6 1.5-15.1-5.3-4.6-1.5z" fill="#060e00"/>
<path d="M1225.7 839.6l4.1 3.8-15.9-4.7-4.2-3.8z" fill="#003823"/>
<path d="M1127.1 796.6l4.5 1.9-15.3-5.2-4.5-1.9z" fill="#061600"/>
<path d="M1075.5 780.1l4.7 .8-14.9-5.5-4.7-.8z" fill="#010200"/>
<path class="e" d="M1061 774.7L1065.7 775.6"/>
<path d="M1150.7 805.4l4.4 2.4-15.5-5.1-4.4-2.4z" fill="#031f00"/>
<path d="M1174.3 815l4.3 2.8-15.6-5-4.4-2.8z" fill="#002803"/>
<path d="M1099 787.1l4.6 1.3-15.1-5.3-4.6-1.3z" fill="#050900"/>
<path d="M1197.9 825.2l4.2 3.2-15.8-4.8-4.2-3.3z" fill="#00310e"/>
<path d="M1221.6 836.1l4.1 3.6-16-4.7-4.2-3.6z" fill="#00381d"/>
<path d="M1245.2 847.7l4 4-16.1-4.6-4.1-4z" fill="#00382a"/>
<path class="e" d="M1248.8 851.5L1233.5 847.1"/>
<path d="M1122.6 794.9l4.5 1.7-15.3-5.2-4.5-1.8z" fill="#061200"/>
<path d="M1070.9 779.4l4.6 .6-14.9-5.5-4.6-.6z" fill="#030401"/>
<path class="e" d="M1056.4 774L1061 774.7"/>
<path d="M1146.2 803.3l4.5 2.2-15.5-5.1-4.4-2.2z" fill="#051b00"/>
<path d="M1094.4 786l4.6 1.1-15.1-5.4-4.6-1z" fill="#030500"/>
<path d="M1169.9 812.4l4.4 2.6-15.7-4.9-4.4-2.6z" fill="#002400"/>
<path d="M1193.6 822.3l4.3 3-15.8-4.9-4.3-3z" fill="#002c09"/>
<path d="M1066.2 778.9l4.7 .4-14.9-5.5-4.7-.4z" fill="#060801"/>
<path class="e" d="M1051.7 773.5L1056.4 774"/>
<path d="M1118.1 793.4l4.5 1.5-15.3-5.2-4.5-1.6z" fill="#060e00"/>
<path d="M1217.3 832.8l4.2 3.4-16-4.7-4.2-3.4z" fill="#003516"/>
<path d="M1241.1 844l4.1 3.8-16.2-4.6-4.1-3.8z" fill="#003824"/>
<path d="M1141.8 801.4l4.4 1.9-15.5-5-4.4-2z" fill="#061600"/>
<path d="M1089.8 785.1l4.6 .9-15.1-5.4-4.6-.8z" fill="#010200"/>
<path d="M1165.5 810.1l4.4 2.4-15.7-5-4.4-2.3z" fill="#031f00"/>
<path d="M1061.5 778.7l4.7 .2-14.9-5.6-4.7-.2z" fill="#0c0f02"/>
<path class="e" d="M1047 773.3L1051.7 773.5"/>
<path d="M1189.3 819.5l4.3 2.9-15.9-4.9-4.3-2.8z" fill="#002804"/>
<path d="M1113.5 792.1l4.6 1.3-15.3-5.3-4.6-1.3z" fill="#040900"/>
<path d="M1213.1 829.7l4.2 3.2-16-4.7-4.2-3.2z" fill="#00310f"/>
<path d="M1236.9 840.5l4.2 3.6-16.3-4.6-4.1-3.6z" fill="#00381d"/>
<path d="M1137.3 799.7l4.5 1.7-15.5-5.1-4.5-1.7z" fill="#061200"/>
<path d="M1260.8 852l4 4-16.4-4.5-4.1-4z" fill="#00382a"/>
<path class="e" d="M1264.4 855.8L1248.8 851.5"/>
<path d="M1085.2 784.5l4.6 .6-15.1-5.4-4.7-.6z" fill="#020300"/>
<path d="M1056.8 778.6l4.7 0-14.9-5.6-4.8 .1z" fill="#141904"/>
<path class="e" d="M1042.3 773.2L1047 773.3"/>
<path d="M1161.1 808l4.4 2.2-15.7-5-4.4-2.2z" fill="#041b00"/>
<path d="M1108.9 791l4.6 1-15.3-5.2-4.6-1.1z" fill="#030500"/>
<path d="M1184.9 817l4.4 2.6-15.9-4.8-4.3-2.6z" fill="#002401"/>
<path d="M1208.8 826.7l4.3 3.1-16.1-4.7-4.2-3.1z" fill="#002c09"/>
<path d="M1080.5 784l4.7 .4-15.1-5.4-4.7-.4z" fill="#050701"/>
<path d="M1132.7 798.2l4.6 1.5-15.5-5.1-4.6-1.5z" fill="#050e00"/>
<path d="M1232.8 837.2l4.1 3.4-16.2-4.6-4.2-3.4z" fill="#003516"/>
<path d="M1052 778.8l4.8-.3-14.9-5.5-4.8 .2z" fill="#1f2605"/>
<path class="e" d="M1037.5 773.3L1042.3 773.2"/>
<path d="M1256.7 848.3l4 3.8-16.4-4.5-4.1-3.8z" fill="#003824"/>
<path d="M1156.6 806.1l4.5 1.9-15.7-4.9-4.5-2z" fill="#051600"/>
<path d="M1104.3 790.1l4.6 .8-15.3-5.2-4.6-.9z" fill="#010100"/>
<path d="M1180.6 814.7l4.3 2.4-15.9-4.8-4.4-2.4z" fill="#021f00"/>
<path d="M1075.8 783.8l4.7 .1-15.1-5.4-4.7-.2z" fill="#0a0e02"/>
<path d="M1128.2 796.9l4.5 1.3-15.5-5.1-4.6-1.3z" fill="#040900"/>
<path d="M1204.5 824l4.3 2.8-16.1-4.7-4.3-2.8z" fill="#002805"/>
<path d="M1047.3 779.2l4.8-.5-14.9-5.6-4.9 .5z" fill="#2d3608"/>
<path class="e" d="M1032.8 773.7L1037.5 773.3"/>
<path d="M1228.5 834l4.2 3.3-16.2-4.6-4.3-3.3z" fill="#003110"/>
<path d="M1252.5 844.7l4.1 3.7-16.4-4.5-4.1-3.6z" fill="#00381e"/>
<path d="M1152.1 804.4l4.5 1.7-15.7-5-4.5-1.7z" fill="#051200"/>
<path d="M1099.6 789.4l4.7 .7-15.3-5.3-4.7-.6z" fill="#020300"/>
<path d="M1276.6 856.1l4 4.1-16.7-4.4-4-4z" fill="#00382b"/>
<path class="e" d="M1280.1 860L1264.4 855.8"/>
<path d="M1071.1 783.7l4.7 0-15.1-5.4-4.8 0z" fill="#121803"/>
<path d="M1176.1 812.6l4.4 2.2-15.9-4.9-4.4-2.1z" fill="#041b00"/>
<path d="M1042.5 779.8l4.8-.7-14.9-5.6-4.8 .7z" fill="#3d480a"/>
<path class="e" d="M1028 774.3L1032.8 773.7"/>
<path d="M1123.6 795.8l4.6 1.1-15.5-5.1-4.6-1.1z" fill="#020500"/>
<path d="M1200.2 821.5l4.3 2.6-16.1-4.7-4.3-2.6z" fill="#002401"/>
<path d="M1095 789l4.7 .4-15.4-5.3-4.7-.4z" fill="#050701"/>
<path d="M1224.3 831.1l4.2 3-16.3-4.6-4.2-3z" fill="#002c0a"/>
<path d="M1147.6 802.9l4.5 1.5-15.7-5-4.5-1.5z" fill="#050e00"/>
<path d="M1248.4 841.4l4.1 3.5-16.5-4.5-4.1-3.4z" fill="#003517"/>
<path d="M1066.3 783.9l4.8-.3-15.1-5.4-4.8 .3z" fill="#1d2505"/>
<path d="M1037.7 780.7l4.8-1-14.9-5.6-4.8 .9z" fill="#4f5c0d"/>
<path class="e" d="M1023.2 775.1L1028 774.3"/>
<path d="M1272.5 852.4l4 3.9-16.6-4.4-4.1-3.8z" fill="#003824"/>
<path d="M1171.7 810.7l4.4 1.9-15.9-4.8-4.4-2z" fill="#051600"/>
<path d="M1119 794.9l4.6 .9-15.5-5.2-4.7-.8z" fill="#010100"/>
<path d="M1195.8 819.2l4.4 2.4-16.1-4.7-4.4-2.4z" fill="#011f00"/>
<path d="M1090.3 788.7l4.7 .2-15.3-5.3-4.8-.2z" fill="#090d02"/>
<path d="M1143.1 801.6l4.5 1.3-15.7-5-4.6-1.3z" fill="#040900"/>
<path d="M1061.6 784.3l4.8-.5-15.2-5.4-4.8 .5z" fill="#2a3408"/>
<path d="M1032.9 781.7l4.9-1.2-15-5.6-4.8 1.2z" fill="#5d6c10"/>
<path class="e" d="M1018.4 776.2L1023.2 775.1"/>
<path d="M1220 828.4l4.3 2.8-16.4-4.6-4.2-2.8z" fill="#002806"/>
<path d="M1244.2 838.3l4.2 3.2-16.5-4.4-4.2-3.3z" fill="#003110"/>
<path d="M1114.3 794.3l4.7 .6-15.5-5.1-4.7-.7z" fill="#020300"/>
<path d="M1167.2 809l4.5 1.7-16-4.8-4.4-1.8z" fill="#051200"/>
<path d="M1268.4 848.9l4.1 3.7-16.7-4.4-4.1-3.7z" fill="#00381e"/>
<path d="M1292.6 860.2l4 4.1-16.9-4.3-4-4z" fill="#00382b"/>
<path class="e" d="M1296.2 864.1L1280.1 860"/>
<path d="M1085.6 788.7l4.7 0-15.3-5.3-4.8 0z" fill="#111703"/>
<path d="M1028 783l4.9-1.4-14.9-5.7-4.9 1.4z" fill="#697a16"/>
<path class="e" d="M1013.6 777.4L1018.4 776.2"/>
<path d="M1191.4 817.1l4.4 2.1-16.1-4.7-4.4-2.2z" fill="#031b00"/>
<path d="M1056.8 785l4.8-.8-15.1-5.5-4.8 .8z" fill="#3a470a"/>
<path d="M1138.5 800.5l4.6 1.1-15.8-5-4.6-1.1z" fill="#020500"/>
<path d="M1215.7 825.8l4.3 2.7-16.4-4.6-4.3-2.6z" fill="#002402"/>
<path d="M1109.7 793.8l4.7 .4-15.6-5.1-4.7-.4z" fill="#040601"/>
<path d="M1240 835.3l4.2 3.1-16.6-4.5-4.2-3z" fill="#002c0b"/>
<path d="M1162.7 807.5l4.5 1.5-15.9-4.9-4.6-1.5z" fill="#040e00"/>
<path d="M1080.8 788.9l4.8-.3-15.3-5.3-4.8 .3z" fill="#1b2305"/>
<path d="M1023.2 784.5l4.9-1.6-14.9-5.7-4.9 1.6z" fill="#74871d"/>
<path class="e" d="M1008.7 778.9L1013.6 777.4"/>
<path d="M1052 785.8l4.8-1-15.1-5.5-4.8 1z" fill="#4b5b0d"/>
<path d="M1264.3 845.6l4.1 3.4-16.8-4.3-4.1-3.5z" fill="#003517"/>
<path d="M1288.6 856.5l4 3.8-16.9-4.2-4.1-3.9z" fill="#003825"/>
<path d="M1187 815.1l4.4 2-16.1-4.7-4.5-2z" fill="#041600"/>
<path d="M1133.9 799.7l4.6 .8-15.8-5-4.6-.9z" fill="#010100"/>
<path d="M1105 793.6l4.7 .2-15.5-5.2-4.8-.2z" fill="#080c02"/>
<path d="M1211.3 823.5l4.4 2.4-16.4-4.6-4.4-2.4z" fill="#011f00"/>
<path d="M1018.3 786.3l5-1.9-14.9-5.8-5 1.9z" fill="#7e9224"/>
<path class="e" d="M1003.9 780.6L1008.7 778.9"/>
<path d="M1076.1 789.4l4.8-.6-15.4-5.3-4.8 .5z" fill="#283307"/>
<path d="M1047.2 786.9l4.8-1.2-15.1-5.5-4.8 1.2z" fill="#586b0f"/>
<path d="M1158.2 806.2l4.5 1.3-16-4.9-4.5-1.3z" fill="#040900"/>
<path d="M1235.7 832.6l4.2 2.8-16.5-4.4-4.3-2.8z" fill="#002806"/>
<path d="M1260.1 842.4l4.1 3.3-16.7-4.4-4.2-3.2z" fill="#003111"/>
<path d="M1129.2 799l4.7 .6-15.8-5-4.6-.6z" fill="#010200"/>
<path d="M1182.5 813.4l4.5 1.8-16.2-4.7-4.5-1.8z" fill="#051200"/>
<path d="M1284.5 852.9l4.1 3.7-17-4.2-4.1-3.7z" fill="#00381e"/>
<path d="M1013.4 788.3l5-2.2-14.9-5.8-4.9 2.2z" fill="#869d2c"/>
<path class="e" d="M999 782.6L1003.9 780.6"/>
<path d="M1100.3 793.6l4.7-.1-15.5-5.1-4.8 0z" fill="#0f1503"/>
<path d="M1308.9 864.1l4 4.1-17.2-4.1-4-4.1z" fill="#00382b"/>
<path class="e" d="M1312.4 868.1L1296.2 864.1"/>
<path d="M1042.3 788.2l4.9-1.4-15.1-5.6-4.9 1.5z" fill="#647916"/>
<path d="M1071.3 790l4.8-.7-15.3-5.4-4.8 .7z" fill="#37450a"/>
<path d="M1206.9 821.4l4.4 2.2-16.4-4.6-4.4-2.2z" fill="#031b00"/>
<path d="M1153.6 805.1l4.6 1.1-16-4.9-4.6-1.1z" fill="#020500"/>
<path d="M1231.4 830.1l4.3 2.6-16.6-4.5-4.3-2.6z" fill="#002402"/>
<path d="M1008.5 790.5l5-2.5-14.8-5.7-5 2.4z" fill="#8da734"/>
<path class="e" d="M994.1 784.7L999 782.6"/>
<path d="M1124.6 798.6l4.7 .4-15.8-5.1-4.7-.4z" fill="#040501"/>
<path d="M1178 811.9l4.5 1.6-16.2-4.8-4.5-1.5z" fill="#040e00"/>
<path d="M1255.9 839.5l4.2 3-16.8-4.3-4.2-3.1z" fill="#002c0b"/>
<path d="M1037.5 789.8l4.9-1.7-15.1-5.6-4.9 1.7z" fill="#6f861d"/>
<path d="M1095.5 793.8l4.8-.3-15.5-5.2-4.8 .3z" fill="#192205"/>
<path d="M1066.5 790.9l4.8-1-15.3-5.4-4.8 1z" fill="#475a0d"/>
<path d="M1280.4 849.6l4.1 3.5-17-4.3-4.1-3.4z" fill="#003517"/>
<path d="M1202.5 819.5l4.4 1.9-16.4-4.5-4.4-2z" fill="#041600"/>
<path d="M1304.9 860.4l4 3.9-17.2-4.1-4-3.9z" fill="#003824"/>
<path d="M1149 804.3l4.6 .8-16-4.9-4.6-.8z" fill="#000100"/>
<path d="M1003.6 792.9l5-2.7-14.8-5.8-5 2.7z" fill="#92af3d"/>
<path class="e" d="M989.2 787.1L994.1 784.7"/>
<path d="M1119.9 798.4l4.7 .1-15.7-5-4.8-.2z" fill="#080b02"/>
<path d="M1032.6 791.5l5-1.9-15.1-5.6-5 1.9z" fill="#799224"/>
<path d="M1227.1 827.7l4.3 2.4-16.6-4.4-4.4-2.4z" fill="#001f00"/>
<path d="M1090.8 794.3l4.8-.6-15.6-5.2-4.8 .6z" fill="#253207"/>
<path d="M1061.7 792l4.9-1.2-15.4-5.4-4.8 1.2z" fill="#546a0f"/>
<path d="M1173.5 810.7l4.5 1.2-16.2-4.7-4.5-1.3z" fill="#030900"/>
<path d="M998.7 795.6l5-2.9-14.8-5.9-5 2.9z" fill="#97b745"/>
<path class="e" d="M984.3 789.8L989.2 787.1"/>
<path d="M1251.6 836.7l4.3 2.9-16.8-4.4-4.3-2.8z" fill="#002806"/>
<path d="M1144.4 803.6l4.6 .6-16-4.9-4.6-.6z" fill="#010200"/>
<path d="M1276.2 846.4l4.2 3.3-17-4.2-4.2-3.3z" fill="#003111"/>
<path d="M1198.1 817.8l4.4 1.7-16.4-4.6-4.5-1.7z" fill="#041200"/>
<path d="M1027.7 793.5l5-2.1-15.1-5.7-5 2.2z" fill="#819d2c"/>
<path d="M1115.2 798.4l4.7-.1-15.7-5.1-4.8 .1z" fill="#0e1403"/>
<path d="M1300.9 856.8l4 3.7-17.2-4.1-4.1-3.7z" fill="#00381e"/>
<path d="M1056.8 793.3l4.9-1.5-15.3-5.4-4.9 1.5z" fill="#607815"/>
<path d="M1086 794.9l4.8-.7-15.5-5.3-4.8 .8z" fill="#34440a"/>
<path d="M993.8 798.5l5-3.2-14.8-5.8-5 3.1z" fill="#9bbf4e"/>
<path class="e" d="M979.4 792.6L984.3 789.8"/>
<path d="M1325.5 867.9l3.9 4.2-17.4-4-3.9-4.1z" fill="#00382b"/>
<path class="e" d="M1329 871.9L1312.4 868.1"/>
<path d="M1222.7 825.6l4.3 2.2-16.6-4.4-4.3-2.2z" fill="#021b00"/>
<path d="M1168.9 809.6l4.6 1-16.2-4.7-4.6-1.1z" fill="#020500"/>
<path d="M1022.8 795.8l5-2.5-15.1-5.6-4.9 2.4z" fill="#88a634"/>
<path d="M1247.4 834.2l4.2 2.6-16.8-4.3-4.3-2.6z" fill="#002403"/>
<path d="M1139.7 803.2l4.7 .4-16-4.9-4.7-.4z" fill="#030501"/>
<path d="M988.8 801.6l5.1-3.4-14.8-5.9-5.1 3.4z" fill="#9dc557"/>
<path class="e" d="M974.5 795.7L979.4 792.6"/>
<path d="M1052 794.9l4.9-1.7-15.3-5.5-4.9 1.7z" fill="#6b851c"/>
<path d="M1193.6 816.3l4.5 1.5-16.5-4.6-4.4-1.5z" fill="#040e00"/>
<path d="M1110.5 798.6l4.7-.3-15.7-5.1-4.8 .3z" fill="#172105"/>
<path d="M1081.2 795.8l4.9-1-15.6-5.2-4.8 1z" fill="#44590d"/>
<path d="M1272.1 843.5l4.1 3-17-4.2-4.2-3z" fill="#002c0b"/>
<path d="M1296.8 853.5l4 3.5-17.2-4.1-4.1-3.5z" fill="#003517"/>
<path d="M1017.9 798.2l5-2.6-15-5.7-5 2.6z" fill="#8eaf3d"/>
<path d="M1164.4 808.7l4.5 .9-16.2-4.8-4.6-.8z" fill="#000100"/>
<path d="M1218.3 823.7l4.4 2-16.7-4.5-4.4-1.9z" fill="#041600"/>
<path d="M1321.5 864.2l4 3.9-17.5-4-4-3.9z" fill="#003824"/>
<path d="M983.9 805l5.1-3.7-14.8-5.9-5.1 3.6z" fill="#9cc959"/>
<path class="e" d="M969.5 799.1L974.5 795.7"/>
<path d="M1047.1 796.7l5-2-15.3-5.4-5 1.9z" fill="#759124"/>
<path d="M1135.1 803l4.7 .1-16-4.9-4.7-.1z" fill="#070a01"/>
<path d="M1076.4 797l4.9-1.3-15.6-5.3-4.8 1.3z" fill="#51690f"/>
<path d="M1243 831.8l4.3 2.5-16.8-4.4-4.3-2.4z" fill="#001f00"/>
<path d="M1105.7 799.1l4.8-.6-15.8-5.1-4.7 .6z" fill="#233007"/>
<path d="M1189.1 815l4.5 1.3-16.4-4.6-4.6-1.3z" fill="#030900"/>
<path d="M1013 800.9l5-2.9-15-5.7-5.1 2.9z" fill="#93b745"/>
<path d="M978.9 808.6l5.1-3.9-14.8-6-5.1 3.9z" fill="#99cd5a"/>
<path class="e" d="M964.6 802.6L969.5 799.1"/>
<path d="M1267.8 840.7l4.2 2.9-17-4.2-4.2-2.9z" fill="#002806"/>
<path d="M1159.7 808.1l4.7 .6-16.2-4.7-4.7-.7z" fill="#010200"/>
<path d="M1042.2 798.7l5-2.2-15.3-5.5-5 2.2z" fill="#7d9c2c"/>
<path d="M1213.8 822l4.5 1.7-16.7-4.4-4.4-1.8z" fill="#041200"/>
<path d="M1292.7 850.3l4.1 3.3-17.3-4.1-4.1-3.3z" fill="#003111"/>
<path d="M1130.4 803l4.7-.1-16-4.9-4.7 .1z" fill="#0d1303"/>
<path d="M1071.6 798.3l4.9-1.5-15.6-5.3-4.9 1.5z" fill="#5d7715"/>
<path d="M1101 799.8l4.8-.8-15.8-5.1-4.8 .7z" fill="#31430a"/>
<path d="M1008 803.9l5.1-3.2-15.1-5.7-5 3.1z" fill="#96bf4e"/>
<path d="M974 812.4l5.1-4.1-14.8-6-5.1 4.1z" fill="#95d05c"/>
<path class="e" d="M959.6 806.4L964.6 802.6"/>
<path d="M1317.5 860.6l4 3.7-17.5-3.9-4-3.7z" fill="#00381e"/>
<path d="M1342.3 871.6l3.9 4.2-17.7-3.9-3.9-4.1z" fill="#00382a"/>
<path class="e" d="M1345.8 875.6L1329 871.9"/>
<path d="M1238.7 829.7l4.3 2.2-16.8-4.3-4.4-2.2z" fill="#021b00"/>
<path d="M1184.5 813.9l4.6 1.1-16.5-4.6-4.5-1.1z" fill="#020500"/>
<path d="M1037.3 801l5-2.5-15.3-5.5-5 2.4z" fill="#84a634"/>
<path d="M969 816.5l5.1-4.4-14.8-6-5.1 4.3z" fill="#90d35d"/>
<path class="e" d="M954.7 810.5L959.6 806.4"/>
<path d="M1155.1 807.7l4.7 .4-16.3-4.8-4.6-.4z" fill="#030401"/>
<path d="M1263.6 838.2l4.2 2.6-17.1-4.2-4.2-2.6z" fill="#002403"/>
<path d="M1003.1 807l5.1-3.4-15.1-5.7-5 3.3z" fill="#99c557"/>
<path d="M1066.7 799.9l4.9-1.7-15.5-5.4-4.9 1.8z" fill="#67851c"/>
<path d="M1125.6 803.3l4.8-.4-16-4.9-4.8 .3z" fill="#161f04"/>
<path d="M1209.4 820.5l4.4 1.5-16.6-4.4-4.5-1.6z" fill="#040e00"/>
<path d="M1096.2 800.7l4.8-1.1-15.8-5.1-4.8 1z" fill="#41570d"/>
<path d="M1288.5 847.3l4.1 3.1-17.3-4.1-4.1-3z" fill="#002c0b"/>
<path d="M964 820.8l5.1-4.6-14.7-6.1-5.1 4.6z" fill="#8ad65e"/>
<path class="e" d="M949.7 814.7L954.7 810.5"/>
<path d="M1032.4 803.5l5-2.7-15.3-5.6-5 2.7z" fill="#8aaf3d"/>
<path d="M1313.4 857.2l4.1 3.5-17.5-3.9-4.1-3.5z" fill="#003517"/>
<path d="M1179.9 813.1l4.6 .8-16.4-4.6-4.6-.8z" fill="#000100"/>
<path d="M998.1 810.4l5.1-3.6-15-5.8-5.1 3.6z" fill="#97ca59"/>
<path d="M1234.3 827.8l4.4 2-16.9-4.3-4.4-2z" fill="#031600"/>
<path d="M1338.4 867.8l3.9 4-17.7-3.9-4-3.9z" fill="#003824"/>
<path d="M1061.8 801.7l5-2-15.6-5.3-4.9 2z" fill="#719124"/>
<path d="M1150.4 807.5l4.7 .1-16.2-4.7-4.7-.2z" fill="#060a01"/>
<path d="M1091.3 801.8l4.9-1.3-15.8-5.1-4.8 1.3z" fill="#4d680f"/>
<path d="M959 825.4l5.1-4.9-14.7-6.1-5.1 4.8z" fill="#83d85f"/>
<path class="e" d="M944.7 819.2L949.7 814.7"/>
<path d="M1120.9 803.7l4.8-.5-16-5-4.8 .6z" fill="#212f07"/>
<path d="M1259.3 835.8l4.3 2.4-17.1-4.1-4.3-2.5z" fill="#001f00"/>
<path d="M1027.5 806.2l5-3-15.3-5.5-5 2.9z" fill="#8fb845"/>
<path d="M1204.9 819.2l4.5 1.3-16.7-4.4-4.5-1.3z" fill="#030900"/>
<path d="M993.2 814.1l5.1-3.9-15-5.9-5.1 3.9z" fill="#94cd5a"/>
<path d="M1284.3 844.6l4.2 2.8-17.3-4-4.2-2.9z" fill="#002806"/>
<path d="M954 830.1l5.2-5.1-14.8-6.1-5.1 5.1z" fill="#7bda60"/>
<path class="e" d="M939.8 824L944.7 819.2"/>
<path d="M1056.9 803.8l5-2.3-15.5-5.3-5 2.2z" fill="#799c2c"/>
<path d="M1175.3 812.5l4.7 .6-16.5-4.7-4.6-.6z" fill="#010100"/>
<path d="M1229.9 826.1l4.4 1.7-16.9-4.3-4.4-1.7z" fill="#041200"/>
<path d="M1309.3 854l4.1 3.4-17.5-4-4.1-3.3z" fill="#003110"/>
<path d="M1086.5 803.2l4.9-1.5-15.8-5.2-4.9 1.5z" fill="#597715"/>
<path d="M1145.7 807.5l4.8-.1-16.3-4.8-4.7 .1z" fill="#0c1203"/>
<path d="M988.2 818l5.1-4.2-15-5.9-5.1 4.1z" fill="#90d15c"/>
<path d="M1022.5 809.2l5.1-3.2-15.3-5.7-5 3.2z" fill="#93bf4e"/>
<path d="M1116.1 804.4l4.8-.8-16-4.9-4.8 .8z" fill="#2f4109"/>
<path d="M949 835.2l5.2-5.4-14.7-6.2-5.2 5.3z" fill="#72dc61"/>
<path class="e" d="M934.8 829L939.8 824"/>
<path d="M1334.4 864.2l4 3.8-17.8-3.8-4-3.8z" fill="#00381e"/>
<path d="M1254.9 833.7l4.4 2.2-17.2-4.2-4.3-2.2z" fill="#021b00"/>
<path d="M1200.3 818.2l4.6 1-16.7-4.4-4.5-1.1z" fill="#020500"/>
<path d="M1359.5 875.2l3.8 4.1-18-3.7-3.8-4.1z" fill="#003829"/>
<path class="e" d="M1362.9 879.2L1345.8 875.6"/>
<path d="M1052 806.1l5-2.5-15.5-5.4-5 2.4z" fill="#81a634"/>
<path d="M983.2 822.1l5.1-4.4-15-5.9-5.1 4.3z" fill="#8bd45d"/>
<path d="M1017.6 812.4l5-3.5-15.2-5.6-5.1 3.4z" fill="#96c657"/>
<path d="M944 840.4l5.2-5.6-14.7-6.2-5.2 5.6z" fill="#68dd61"/>
<path class="e" d="M929.8 834.2L934.8 829"/>
<path d="M1170.7 812.1l4.7 .3-16.5-4.6-4.7-.4z" fill="#020401"/>
<path d="M1081.6 804.8l5-1.8-15.8-5.2-4.9 1.8z" fill="#64841c"/>
<path d="M1280.1 842l4.2 2.7-17.4-4.1-4.2-2.6z" fill="#002403"/>
<path d="M1141 807.8l4.8-.3-16.3-4.8-4.7 .3z" fill="#141e04"/>
<path d="M1111.3 805.4l4.9-1.1-16-5-4.9 1.1z" fill="#3e560c"/>
<path d="M1225.4 824.6l4.5 1.5-16.9-4.3-4.5-1.5z" fill="#040e00"/>
<path d="M978.2 826.4l5.1-4.6-14.9-6-5.2 4.6z" fill="#85d65e"/>
<path d="M1305.2 851.1l4.1 3.1-17.5-4-4.2-3z" fill="#002c0b"/>
<path d="M939 846l5.2-5.9-14.7-6.3-5.1 5.8z" fill="#62df66"/>
<path class="e" d="M924.8 839.6L929.8 834.2"/>
<path d="M1047.1 808.6l5-2.7-15.5-5.5-5 2.7z" fill="#87af3d"/>
<path d="M1012.6 815.8l5.1-3.7-15.3-5.7-5 3.7z" fill="#94ca59"/>
<path d="M1195.8 817.3l4.6 .9-16.7-4.5-4.6-.8z" fill="#000100"/>
<path d="M1330.4 860.9l4 3.5-17.8-3.8-4-3.5z" fill="#003516"/>
<path d="M1250.6 831.8l4.3 1.9-17.1-4.1-4.4-2z" fill="#031600"/>
<path d="M1076.8 806.6l4.9-2-15.7-5.2-5 2z" fill="#6e9124"/>
<path d="M934 851.7l5.2-6.1-14.7-6.3-5.1 6z" fill="#62e072"/>
<path class="e" d="M919.8 845.3L924.8 839.6"/>
<path d="M1166.1 811.9l4.6 .1-16.4-4.6-4.7-.2z" fill="#050901"/>
<path d="M1355.5 871.4l3.9 3.9-18-3.7-3.9-3.9z" fill="#003823"/>
<path d="M973.2 831l5.1-4.9-14.9-6-5.1 4.9z" fill="#7ed85f"/>
<path d="M1106.5 806.5l4.9-1.3-16-5-4.9 1.3z" fill="#4b670f"/>
<path d="M1136.3 808.3l4.8-.6-16.3-4.8-4.8 .6z" fill="#1f2d07"/>
<path d="M1042.2 811.3l5-2.9-15.5-5.5-5 3z" fill="#8bb846"/>
<path d="M1007.6 819.5l5.1-4-15.2-5.7-5.1 3.9z" fill="#91ce5a"/>
<path d="M1275.8 839.7l4.2 2.4-17.3-4-4.3-2.5z" fill="#001f00"/>
<path d="M1220.9 823.3l4.5 1.3-16.9-4.3-4.5-1.3z" fill="#030900"/>
<path d="M929 857.7l5.1-6.4-14.6-6.3-5.1 6.3z" fill="#63e17f"/>
<path class="e" d="M914.8 851.3L919.8 845.3"/>
<path d="M968.2 835.9l5.1-5.2-14.9-6-5.1 5.1z" fill="#76da60"/>
<path d="M1071.9 808.7l4.9-2.2-15.7-5.3-5 2.2z" fill="#769c2c"/>
<path d="M1301 848.3l4.2 2.9-17.6-3.9-4.2-2.9z" fill="#002806"/>
<path d="M1191.2 816.7l4.6 .6-16.7-4.5-4.6-.6z" fill="#010100"/>
<path d="M923.9 863.9l5.2-6.6-14.5-6.4-5.2 6.5z" fill="#63e28d"/>
<path class="e" d="M909.8 857.4L914.8 851.3"/>
<path d="M1002.6 823.4l5.1-4.2-15.2-5.8-5.1 4.2z" fill="#8cd15c"/>
<path d="M1101.7 807.9l4.9-1.5-16-5-4.9 1.5z" fill="#567615"/>
<path d="M1037.2 814.3l5-3.2-15.4-5.5-5.1 3.2z" fill="#8fbf4e"/>
<path d="M1246.2 830.1l4.4 1.7-17.2-4.2-4.4-1.7z" fill="#041200"/>
<path d="M1161.4 811.9l4.7-.1-16.5-4.6-4.7 .1z" fill="#0b1102"/>
<path d="M1131.5 809l4.8-.8-16.2-4.9-4.8 .9z" fill="#2d4009"/>
<path d="M1326.3 857.7l4 3.3-17.8-3.8-4-3.3z" fill="#003110"/>
<path d="M963.1 840.9l5.2-5.4-14.9-6-5.1 5.3z" fill="#6ddc61"/>
<path d="M918.9 870.4l5.2-6.9-14.5-6.4-5.2 6.7z" fill="#64e39b"/>
<path class="e" d="M904.8 863.8L909.8 857.4"/>
<path d="M1351.6 867.8l3.9 3.7-18-3.7-4-3.7z" fill="#00381d"/>
<path d="M1066.9 811l5-2.5-15.7-5.2-5 2.4z" fill="#7da634"/>
<path d="M1216.4 822.3l4.5 1-16.9-4.3-4.5-1.1z" fill="#020500"/>
<path d="M1271.5 837.5l4.3 2.2-17.4-4-4.3-2.2z" fill="#021b00"/>
<path d="M997.6 827.6l5.1-4.5-15.2-5.8-5.1 4.4z" fill="#87d45d"/>
<path d="M1376.9 878.6l3.8 4.2-18.3-3.6-3.8-4.2z" fill="#003828"/>
<path class="e" d="M1380.3 882.6L1362.9 879.2"/>
<path class="e" d="M1376.4 878.6L1380.3 882.6"/>
<path d="M913.9 877.1l5.2-7.1-14.5-6.5-5.2 7z" fill="#64e4aa"/>
<path class="e" d="M899.9 870.5L904.8 863.8"/>
<path d="M958.1 846.3l5.2-5.7-14.9-6.1-5.1 5.6z" fill="#64de61"/>
<path d="M1032.2 817.6l5.1-3.5-15.5-5.5-5 3.4z" fill="#92c657"/>
<path d="M1096.8 809.6l4.9-1.8-16-5.1-4.9 1.8z" fill="#61841c"/>
<path d="M1186.6 816.3l4.6 .4-16.7-4.5-4.6-.4z" fill="#020300"/>
<path d="M1296.8 845.7l4.2 2.7-17.6-3.9-4.2-2.7z" fill="#002402"/>
<path d="M1126.7 810l4.8-1.1-16.2-4.9-4.8 1.1z" fill="#3c550c"/>
<path d="M1156.7 812.2l4.7-.3-16.5-4.7-4.7 .3z" fill="#131d04"/>
<path d="M908.9 884l5.2-7.3-14.5-6.6-5.2 7.3z" fill="#64e5ba"/>
<path class="e" d="M894.9 877.3L899.9 870.5"/>
<path d="M1241.7 828.6l4.5 1.5-17.2-4.2-4.4-1.5z" fill="#040e00"/>
<path d="M953.1 851.8l5.2-5.9-14.9-6.2-5.1 5.9z" fill="#62df6b"/>
<path d="M992.6 832l5.1-4.7-15.1-5.9-5.2 4.7z" fill="#81d65e"/>
<path d="M1062 813.6l5-2.8-15.7-5.3-5 2.8z" fill="#83af3d"/>
<path d="M1027.2 821.1l5.1-3.8-15.4-5.5-5.1 3.7z" fill="#90ca59"/>
<path d="M1322.2 854.7l4.1 3.1-17.9-3.8-4.1-3.1z" fill="#002c0a"/>
<path d="M903.9 891.2l5.2-7.6-14.5-6.6-5.2 7.5z" fill="#65e5ca"/>
<path class="e" d="M889.9 884.5L894.9 877.3"/>
<path d="M1211.9 821.4l4.5 .9-16.9-4.4-4.6-.8z" fill="#000100"/>
<path d="M948.1 857.6l5.2-6.1-14.9-6.3-5.2 6.1z" fill="#63e077"/>
<path d="M1091.9 811.4l5-2-16-5.1-5 2z" fill="#6b9024"/>
<path d="M1267.1 835.6l4.4 2-17.4-4-4.4-2z" fill="#031600"/>
<path d="M1347.6 864.4l4 3.5-18.1-3.7-4-3.5z" fill="#003516"/>
<path d="M898.9 898.6l5.2-7.8-14.4-6.7-5.2 7.7z" fill="#65e6db"/>
<path class="e" d="M898.7 898.2L884.9 891.8"/>
<path class="e" d="M884.9 891.8L889.9 884.5"/>
<path d="M987.6 836.6l5.1-4.9-15.1-5.9-5.2 4.9z" fill="#7ad95f"/>
<path d="M1181.9 816.2l4.7 .1-16.7-4.5-4.7-.2z" fill="#050801"/>
<path d="M1121.9 811.2l4.9-1.4-16.3-4.8-4.8 1.2z" fill="#48660f"/>
<path d="M1151.9 812.7l4.8-.6-16.5-4.7-4.8 .6z" fill="#1e2c06"/>
<path d="M1373 874.8l3.8 3.9-18.2-3.5-3.9-4z" fill="#003822"/>
<path class="e" d="M1372.5 874.8L1376.4 878.6"/>
<path d="M1057.1 816.4l5-3-15.7-5.4-5 3z" fill="#88b846"/>
<path d="M1022.2 824.8l5.2-4-15.5-5.6-5.1 3.9z" fill="#8dce5b"/>
<path d="M943 863.7l5.2-6.4-14.8-6.3-5.2 6.3z" fill="#63e185"/>
<path d="M1292.6 843.4l4.2 2.4-17.6-3.9-4.3-2.4z" fill="#001f00"/>
<path d="M1237.3 827.3l4.4 1.3-17.1-4.2-4.5-1.3z" fill="#030900"/>
<path d="M982.5 841.5l5.2-5.2-15.1-5.9-5.2 5.1z" fill="#72db60"/>
<path d="M1087 813.5l5-2.2-16-5.2-5 2.3z" fill="#749c2c"/>
<path d="M938 869.9l5.2-6.6-14.8-6.3-5.2 6.6z" fill="#64e292"/>
<path d="M1207.3 820.8l4.6 .6-17-4.3-4.6-.6z" fill="#000100"/>
<path d="M1318 851.9l4.2 2.9-17.9-3.8-4.2-2.9z" fill="#002806"/>
<path d="M1017.2 828.7l5.2-4.2-15.5-5.6-5.1 4.2z" fill="#89d15c"/>
<path d="M1052.1 819.4l5.1-3.3-15.7-5.3-5.1 3.2z" fill="#8cbf4e"/>
<path d="M1117.1 812.6l4.8-1.6-16.2-4.9-4.9 1.5z" fill="#547515"/>
<path d="M1177.2 816.2l4.7-.1-16.7-4.5-4.7 .1z" fill="#0a1002"/>
<path d="M1262.7 833.9l4.4 1.8-17.4-4.1-4.4-1.7z" fill="#041200"/>
<path d="M977.5 846.6l5.2-5.4-15.1-6-5.2 5.4z" fill="#69dc61"/>
<path d="M1147.1 813.5l4.8-.9-16.4-4.7-4.8 .8z" fill="#2b3f09"/>
<path d="M932.9 876.5l5.3-6.9-14.8-6.4-5.2 6.8z" fill="#64e3a1"/>
<path d="M1343.5 861.2l4.1 3.3-18.1-3.7-4.1-3.3z" fill="#00310f"/>
<path d="M1082.1 815.9l5-2.5-16-5.2-5 2.5z" fill="#7ba634"/>
<path d="M1012.2 832.9l5.2-4.5-15.4-5.6-5.2 4.4z" fill="#84d45d"/>
<path d="M1369.1 871.1l3.9 3.8-18.4-3.5-3.9-3.8z" fill="#00381c"/>
<path class="e" d="M1368.6 871.2L1372.5 874.8"/>
<path d="M1232.8 826.3l4.5 1-17.2-4.2-4.5-1z" fill="#020500"/>
<path d="M927.9 883.2l5.2-7.1-14.7-6.5-5.2 7.1z" fill="#64e4b0"/>
<path d="M972.4 852l5.2-5.7-15-6-5.2 5.6z" fill="#62de64"/>
<path d="M1288.3 841.2l4.2 2.3-17.6-3.9-4.3-2.2z" fill="#021b00"/>
<path d="M1047.1 822.7l5.1-3.5-15.7-5.4-5.1 3.4z" fill="#90c657"/>
<path d="M1112.2 814.2l4.9-1.8-16.2-4.9-4.9 1.8z" fill="#5f831c"/>
<path d="M1202.7 820.4l4.6 .4-17-4.4-4.6-.3z" fill="#020300"/>
<path d="M922.9 890.2l5.2-7.4-14.7-6.5-5.2 7.4z" fill="#65e5bf"/>
<path d="M1142.4 814.4l4.8-1.1-16.5-4.7-4.8 1.1z" fill="#3a540c"/>
<path d="M1172.5 816.5l4.8-.4-16.8-4.5-4.7 .4z" fill="#121b04"/>
<path d="M967.4 857.6l5.2-6-15.1-6-5.1 5.9z" fill="#62df70"/>
<path d="M1313.8 849.3l4.2 2.7-17.9-3.8-4.2-2.6z" fill="#002402"/>
<path d="M1007.2 837.4l5.1-4.8-15.3-5.7-5.2 4.7z" fill="#7ed75e"/>
<path d="M1258.3 832.4l4.4 1.5-17.4-4-4.4-1.5z" fill="#040e00"/>
<path d="M1077.2 818.5l5-2.8-16-5.2-5 2.8z" fill="#81b03d"/>
<path d="M917.8 897.4l5.3-7.6-14.7-6.5-5.2 7.5z" fill="#65e6d0"/>
<path d="M1042.1 826.2l5.1-3.8-15.7-5.4-5 3.7z" fill="#8ecb59"/>
<path d="M1339.5 858.2l4 3.1-18.1-3.7-4.1-3.1z" fill="#002c0a"/>
<path d="M962.3 863.4l5.3-6.2-15.1-6.1-5.2 6.2z" fill="#63e17c"/>
<path d="M1228.2 825.4l4.6 .8-17.2-4.2-4.6-.8z" fill="#000100"/>
<path d="M912.8 904.9l5.2-7.9-14.6-6.6-5.2 7.8z" fill="#65e6e1"/>
<path class="e" d="M912.6 904.5L898.7 898.2"/>
<path d="M1107.3 816.1l5-2-16.3-5-4.9 2z" fill="#699024"/>
<path d="M1002.1 842.1l5.2-5-15.3-5.8-5.2 4.9z" fill="#76d95f"/>
<path d="M1283.9 839.3l4.4 2-17.7-3.9-4.4-2z" fill="#041600"/>
<path d="M1365.1 867.7l3.9 3.6-18.3-3.5-4-3.6z" fill="#003515"/>
<path class="e" d="M1364.6 867.7L1368.6 871.2"/>
<path d="M1198 820.3l4.7 .1-17-4.4-4.6-.1z" fill="#040701"/>
<path d="M1137.5 815.6l4.9-1.3-16.5-4.7-4.8 1.3z" fill="#46650e"/>
<path d="M1167.8 817l4.8-.6-16.8-4.5-4.7 .6z" fill="#1c2b06"/>
<path d="M1072.2 821.3l5-3-15.9-5.3-5 3.1z" fill="#86b846"/>
<path d="M1037.1 829.9l5.1-4-15.6-5.4-5.1 3.9z" fill="#8ace5b"/>
<path d="M957.3 869.5l5.2-6.4-15-6.2-5.2 6.4z" fill="#63e289"/>
<path d="M997.1 847l5.2-5.3-15.4-5.8-5.1 5.2z" fill="#6edb60"/>
<path d="M1309.6 847l4.2 2.4-17.9-3.7-4.2-2.5z" fill="#011f00"/>
<path d="M1253.9 831.1l4.4 1.3-17.4-4-4.5-1.3z" fill="#030900"/>
<path d="M1102.4 818.3l5-2.4-16.2-4.9-5 2.2z" fill="#719c2c"/>
<path d="M952.2 875.9l5.3-6.7-15-6.3-5.2 6.7z" fill="#64e397"/>
<path d="M1032.1 833.9l5.1-4.2-15.6-5.5-5.1 4.2z" fill="#86d25c"/>
<path d="M1223.7 824.8l4.5 .6-17.2-4.2-4.6-.6z" fill="#000100"/>
<path d="M1067.2 824.4l5.1-3.3-15.9-5.3-5.1 3.3z" fill="#8ac04f"/>
<path d="M1132.7 817.1l4.9-1.6-16.5-4.8-4.9 1.6z" fill="#527415"/>
<path d="M1335.3 855.4l4.1 2.9-18.1-3.7-4.1-2.8z" fill="#002805"/>
<path d="M992 852.2l5.2-5.5-15.3-5.9-5.2 5.5z" fill="#65dd61"/>
<path d="M1193.4 820.4l4.7-.2-17-4.4-4.7 .2z" fill="#090f02"/>
<path d="M947.2 882.4l5.2-6.9-14.9-6.3-5.3 6.9z" fill="#64e4a5"/>
<path d="M1163 817.8l4.8-.9-16.7-4.5-4.8 .8z" fill="#2a3d09"/>
<path d="M1279.6 837.6l4.3 1.8-17.7-3.9-4.3-1.8z" fill="#041200"/>
<path d="M1361.1 864.5l4 3.4-18.4-3.5-4-3.4z" fill="#00310e"/>
<path class="e" d="M1360.6 864.5L1364.6 867.7"/>
<path d="M1097.5 820.6l5-2.5-16.2-5.1-5 2.6z" fill="#79a634"/>
<path d="M1027.1 838.2l5.1-4.5-15.6-5.6-5.2 4.5z" fill="#81d55d"/>
<path d="M942.1 889.2l5.3-7.2-15-6.3-5.2 7.2z" fill="#64e5b4"/>
<path d="M987 857.6l5.2-5.8-15.3-5.9-5.2 5.7z" fill="#62de68"/>
<path d="M1062.2 827.7l5.1-3.6-15.9-5.3-5.1 3.6z" fill="#8dc757"/>
<path d="M1249.4 830.1l4.5 1.1-17.5-4.1-4.5-1.1z" fill="#020500"/>
<path d="M1305.4 844.8l4.2 2.2-17.9-3.7-4.3-2.2z" fill="#031b00"/>
<path d="M1127.8 818.8l4.9-1.9-16.4-4.8-4.9 1.8z" fill="#5d821c"/>
<path d="M937.1 896.3l5.2-7.4-14.9-6.4-5.2 7.4z" fill="#65e5c4"/>
<path d="M1219.1 824.4l4.6 .4-17.3-4.2-4.6-.4z" fill="#010200"/>
<path d="M1158.2 818.8l4.9-1.1-16.8-4.6-4.8 1.1z" fill="#39520c"/>
<path d="M981.9 863.2l5.2-6-15.2-5.9-5.2 5.9z" fill="#62e074"/>
<path d="M1188.7 820.7l4.7-.4-17-4.4-4.7 .4z" fill="#111a04"/>
<path d="M1022 842.7l5.2-4.8-15.6-5.6-5.2 4.7z" fill="#7bd75f"/>
<path d="M1092.5 823.2l5.1-2.8-16.2-5-5.1 2.8z" fill="#7fb03d"/>
<path d="M932 903.6l5.3-7.7-14.9-6.4-5.2 7.6z" fill="#65e6d5"/>
<path d="M1331.2 852.8l4.1 2.7-18.2-3.7-4.1-2.6z" fill="#002401"/>
<path d="M1275.2 836.1l4.4 1.5-17.7-3.9-4.5-1.5z" fill="#040e00"/>
<path d="M1057.2 831.2l5.1-3.8-15.9-5.3-5.1 3.8z" fill="#8bcb59"/>
<path d="M976.9 869.1l5.2-6.2-15.3-6-5.2 6.2z" fill="#63e180"/>
<path d="M927 911.1l5.2-7.9-14.8-6.5-5.3 7.9z" fill="#65e7e6"/>
<path class="e" d="M926.7 910.8L912.6 904.5"/>
<path d="M1122.9 820.7l5-2.1-16.5-4.8-4.9 2z" fill="#679024"/>
<path d="M1017 847.4l5.1-5-15.5-5.7-5.2 5z" fill="#73da60"/>
<path d="M1357 861.5l4.1 3.1-18.5-3.5-4-3.1z" fill="#002c09"/>
<path class="e" d="M1356.6 861.5L1360.6 864.5"/>
<path d="M1244.8 829.3l4.6 .8-17.5-4.1-4.5-.8z" fill="#000000"/>
<path d="M1301 842.9l4.3 2-17.9-3.8-4.3-2z" fill="#041600"/>
<path d="M1153.4 820l4.9-1.4-16.8-4.6-4.8 1.4z" fill="#44640e"/>
<path d="M1214.4 824.3l4.7 .1-17.3-4.2-4.6-.1z" fill="#040601"/>
<path d="M1087.6 826.1l5-3.1-16.2-5.1-5 3.1z" fill="#84b846"/>
<path d="M1052.2 835l5.1-4-15.9-5.4-5.1 4z" fill="#88cf5b"/>
<path d="M971.8 875.3l5.2-6.5-15.2-6.1-5.2 6.5z" fill="#63e28d"/>
<path d="M1183.9 821.2l4.8-.6-17-4.4-4.8 .6z" fill="#1b2906"/>
<path d="M1011.9 852.4l5.2-5.3-15.6-5.7-5.2 5.2z" fill="#6bdb60"/>
<path d="M966.7 881.7l5.2-6.8-15.2-6.1-5.2 6.7z" fill="#64e39b"/>
<path d="M1270.7 834.9l4.5 1.2-17.8-3.9-4.4-1.3z" fill="#030900"/>
<path d="M1327 850.4l4.2 2.5-18.2-3.6-4.3-2.5z" fill="#011f00"/>
<path d="M1118 822.8l5-2.3-16.5-4.9-4.9 2.4z" fill="#709c2c"/>
<path d="M1047.2 839.1l5.1-4.4-15.9-5.4-5.1 4.3z" fill="#84d25c"/>
<path d="M1082.6 829.2l5.1-3.3-16.2-5.1-5.1 3.2z" fill="#88c04f"/>
<path d="M1006.8 857.6l5.2-5.5-15.5-5.8-5.2 5.5z" fill="#62dd61"/>
<path d="M1240.3 828.7l4.6 .6-17.5-4.1-4.6-.6z" fill="#000000"/>
<path d="M1148.6 821.5l4.9-1.6-16.8-4.7-4.8 1.6z" fill="#517315"/>
<path d="M961.6 888.3l5.3-7-15.2-6.2-5.2 7z" fill="#64e4aa"/>
<path d="M1352.9 858.7l4.1 2.9-18.4-3.5-4.1-2.9z" fill="#002804"/>
<path class="e" d="M1352.5 858.7L1356.6 861.5"/>
<path d="M1209.8 824.4l4.6-.2-17.2-4.2-4.7 .1z" fill="#090e02"/>
<path d="M1179.2 822l4.8-.9-17-4.4-4.8 .8z" fill="#283c09"/>
<path d="M1296.7 841.2l4.3 1.7-17.9-3.7-4.4-1.8z" fill="#041200"/>
<path d="M956.5 895.2l5.3-7.3-15.2-6.2-5.2 7.2z" fill="#65e5b9"/>
<path d="M1042.1 843.3l5.2-4.5-15.9-5.5-5.1 4.6z" fill="#7ed55e"/>
<path d="M1113.1 825.2l5-2.6-16.5-4.8-4.9 2.5z" fill="#77a634"/>
<path d="M1001.8 863.1l5.2-5.8-15.6-5.8-5.2 5.7z" fill="#62df6b"/>
<path d="M1077.6 832.5l5.1-3.5-16.2-5.2-5.1 3.5z" fill="#8bc757"/>
<path d="M1266.3 833.8l4.4 1.1-17.7-3.9-4.5-1.1z" fill="#020500"/>
<path d="M951.5 902.3l5.2-7.5-15.1-6.3-5.2 7.5z" fill="#65e6c9"/>
<path d="M1143.7 823.2l4.9-1.9-16.7-4.7-4.9 1.9z" fill="#5c821c"/>
<path d="M1322.7 848.3l4.3 2.2-18.3-3.6-4.2-2.2z" fill="#031b00"/>
<path d="M996.7 868.8l5.2-6.1-15.5-5.8-5.2 6z" fill="#63e077"/>
<path d="M1235.7 828.3l4.6 .3-17.5-4-4.6-.4z" fill="#010200"/>
<path d="M1037.1 847.9l5.2-4.9-15.9-5.4-5.2 4.7z" fill="#78d85f"/>
<path d="M1174.4 823l4.8-1.1-17-4.5-4.8 1.1z" fill="#37510c"/>
<path d="M1205.1 824.7l4.7-.4-17.3-4.2-4.7 .3z" fill="#101904"/>
<path d="M946.4 909.7l5.2-7.8-15.1-6.3-5.2 7.7z" fill="#65e6d9"/>
<path d="M1108.2 827.9l5-2.9-16.5-4.9-5 2.8z" fill="#7db03d"/>
<path d="M1072.6 836.1l5.1-3.8-16.2-5.2-5.1 3.8z" fill="#89cb59"/>
<path d="M1348.8 856.1l4.1 2.7-18.5-3.5-4.1-2.7z" fill="#002401"/>
<path class="e" d="M1348.4 856.1L1352.5 858.7"/>
<path d="M1292.3 839.7l4.4 1.5-18-3.7-4.4-1.6z" fill="#040e00"/>
<path d="M991.6 874.7l5.2-6.3-15.5-5.9-5.2 6.3z" fill="#63e284"/>
<path d="M941.3 917.3l5.3-8-15.1-6.4-5.2 7.9z" fill="#66e4e7"/>
<path class="e" d="M941 916.9L926.7 910.8"/>
<path d="M1032 852.6l5.2-5-15.8-5.6-5.2 5.1z" fill="#71da60"/>
<path d="M1138.8 825.1l5-2.1-16.8-4.7-4.9 2.1z" fill="#668f23"/>
<path d="M1261.8 833l4.5 .8-17.8-3.9-4.5-.8z" fill="#000000"/>
<path d="M986.5 880.9l5.2-6.5-15.4-6-5.3 6.5z" fill="#64e391"/>
<path d="M1067.5 840l5.2-4.1-16.2-5.3-5.1 4.1z" fill="#86cf5b"/>
<path d="M1169.6 824.2l4.8-1.3-17-4.5-4.8 1.3z" fill="#43620e"/>
<path d="M1103.2 830.8l5-3.1-16.4-5-5 3.1z" fill="#82b846"/>
<path d="M1231.1 828.2l4.6 .1-17.5-4.1-4.6-.1z" fill="#030601"/>
<path d="M1318.4 846.3l4.3 2-18.2-3.6-4.3-2z" fill="#041600"/>
<path d="M1200.3 825.3l4.8-.7-17.3-4.3-4.7 .7z" fill="#1a2806"/>
<path d="M1026.9 857.7l5.2-5.4-15.8-5.5-5.2 5.2z" fill="#69dc61"/>
<path d="M981.4 887.4l5.2-6.8-15.4-6-5.2 6.7z" fill="#64e49f"/>
<path d="M1133.9 827.3l5-2.4-16.7-4.7-5 2.4z" fill="#6e9b2c"/>
<path d="M1287.9 838.4l4.4 1.3-18-3.7-4.4-1.3z" fill="#030900"/>
<path d="M1344.6 853.7l4.2 2.5-18.5-3.5-4.2-2.4z" fill="#021f00"/>
<path class="e" d="M1344.2 853.7L1348.4 856.1"/>
<path d="M1062.5 844l5.1-4.3-16.1-5.3-5.1 4.3z" fill="#82d35d"/>
<path d="M1098.2 833.9l5.1-3.4-16.5-4.9-5 3.3z" fill="#87c04f"/>
<path d="M1021.8 862.9l5.3-5.6-15.8-5.6-5.2 5.6z" fill="#61de63"/>
<path d="M976.3 894.1l5.2-7.1-15.4-6-5.2 7z" fill="#64e5ad"/>
<path d="M1164.7 825.7l4.9-1.6-17-4.5-4.9 1.6z" fill="#4f7214"/>
<path d="M1257.2 832.4l4.6 .6-17.8-3.9-4.6-.6z" fill="#000000"/>
<path d="M1195.6 826l4.8-.8-17.3-4.3-4.8 .8z" fill="#273a08"/>
<path d="M1226.4 828.3l4.7-.2-17.5-4.1-4.7 .2z" fill="#080d02"/>
<path d="M971.2 901l5.2-7.3-15.3-6.1-5.3 7.2z" fill="#65e5bd"/>
<path d="M1314.1 844.6l4.3 1.8-18.2-3.6-4.4-1.8z" fill="#041200"/>
<path d="M1057.4 848.4l5.2-4.6-16.1-5.4-5.1 4.6z" fill="#7cd55e"/>
<path d="M1016.7 868.4l5.3-5.8-15.8-5.7-5.2 5.8z" fill="#62df6e"/>
<path d="M1129 829.7l5-2.6-16.7-4.7-5 2.5z" fill="#76a634"/>
<path d="M1093.2 837.3l5.1-3.6-16.4-5.1-5.1 3.6z" fill="#8ac758"/>
<path d="M966.1 908.2l5.2-7.6-15.3-6.1-5.3 7.5z" fill="#65e6cc"/>
<path d="M1283.4 837.4l4.5 1-18-3.7-4.5-1.1z" fill="#020500"/>
<path d="M1159.9 827.4l4.9-1.8-17-4.6-4.9 1.9z" fill="#5b811c"/>
<path d="M1011.6 874.2l5.3-6.1-15.7-5.7-5.3 6z" fill="#63e17a"/>
<path d="M1340.4 851.6l4.2 2.2-18.5-3.5-4.3-2.2z" fill="#041b00"/>
<path class="e" d="M1340 851.5L1344.2 853.7"/>
<path d="M1052.4 852.9l5.2-4.8-16.1-5.4-5.2 4.8z" fill="#76d85f"/>
<path d="M1252.6 832l4.6 .4-17.8-4-4.6-.3z" fill="#010200"/>
<path d="M961 915.6l5.2-7.8-15.3-6.2-5.2 7.7z" fill="#65e7dd"/>
<path d="M1190.8 827.1l4.8-1.2-17.3-4.3-4.8 1.1z" fill="#36500b"/>
<path d="M1221.7 828.6l4.7-.4-17.5-4.1-4.7 .4z" fill="#0f1703"/>
<path d="M1124 832.4l5-2.9-16.7-4.8-5 2.9z" fill="#7cb03d"/>
<path d="M1088.2 840.9l5.1-3.9-16.4-5-5.1 3.8z" fill="#88cc5a"/>
<path d="M1006.5 880.2l5.3-6.3-15.7-5.8-5.3 6.3z" fill="#63e287"/>
<path d="M955.8 923.3l5.3-8.1-15.2-6.3-5.3 8z" fill="#66e1e7"/>
<path class="e" d="M955.6 922.9L941 916.9"/>
<path d="M1309.8 843.1l4.3 1.6-18.3-3.6-4.4-1.6z" fill="#040e00"/>
<path d="M1047.3 857.8l5.2-5.2-16.1-5.4-5.2 5.1z" fill="#6fda60"/>
<path d="M1155 829.4l4.9-2.1-17-4.6-4.9 2.1z" fill="#658f23"/>
<path d="M1001.4 886.5l5.3-6.6-15.7-5.9-5.3 6.6z" fill="#64e394"/>
<path d="M1278.9 836.6l4.5 .8-18-3.8-4.5-.8z" fill="#000000"/>
<path d="M1083.1 844.8l5.2-4.1-16.4-5.1-5.2 4z" fill="#85d05b"/>
<path d="M1119 835.3l5.1-3.1-16.7-4.8-5 3.1z" fill="#81b946"/>
<path d="M1186 828.3l4.8-1.4-17.2-4.3-4.9 1.4z" fill="#42610e"/>
<path d="M1248 831.9l4.6 .1-17.8-3.9-4.6-.1z" fill="#030501"/>
<path d="M1217 829.2l4.8-.7-17.6-4.1-4.7 .6z" fill="#192605"/>
<path d="M1042.2 862.8l5.2-5.4-16-5.4-5.2 5.3z" fill="#67dc61"/>
<path d="M1336.1 849.6l4.3 2-18.6-3.4-4.2-2z" fill="#051600"/>
<path class="e" d="M1335.7 849.6L1340 851.5"/>
<path d="M996.3 893l5.3-6.9-15.7-5.9-5.3 6.8z" fill="#64e4a2"/>
<path d="M1150.1 831.6l4.9-2.4-17-4.5-4.9 2.3z" fill="#6e9b2c"/>
<path d="M1078.1 848.9l5.1-4.4-16.3-5.1-5.2 4.3z" fill="#80d35d"/>
<path d="M1305.3 841.9l4.4 1.3-18.3-3.7-4.4-1.3z" fill="#030900"/>
<path d="M1037.1 868.2l5.2-5.7-16-5.5-5.2 5.6z" fill="#62de66"/>
<path d="M1114.1 838.5l5-3.4-16.7-4.8-5 3.3z" fill="#86c04f"/>
<path d="M991.2 899.7l5.2-7.1-15.6-5.9-5.2 7z" fill="#65e5b1"/>
<path d="M1181.1 829.8l4.9-1.6-17.2-4.4-4.9 1.7z" fill="#4f7214"/>
<path d="M1274.4 836l4.5 .6-18-3.8-4.6-.6z" fill="#000000"/>
<path d="M1212.3 830l4.7-.9-17.5-4.2-4.8 .9z" fill="#263908"/>
<path d="M1243.4 832l4.6-.1-17.8-4-4.7 .1z" fill="#070c02"/>
<path d="M986 906.7l5.3-7.3-15.6-6-5.3 7.3z" fill="#65e6c0"/>
<path d="M1073 853.3l5.2-4.7-16.4-5.2-5.1 4.6z" fill="#7bd65e"/>
<path d="M1032 873.7l5.2-5.9-16-5.5-5.2 5.8z" fill="#62e071"/>
<path d="M1145.1 834.1l5-2.7-17-4.6-4.9 2.6z" fill="#75a634"/>
<path d="M1331.8 847.9l4.3 1.8-18.6-3.5-4.3-1.7z" fill="#051200"/>
<path class="e" d="M1331.4 847.9L1335.7 849.6"/>
<path d="M1109 841.9l5.1-3.6-16.6-4.9-5.1 3.6z" fill="#89c858"/>
<path d="M980.9 914l5.3-7.7-15.6-6-5.3 7.6z" fill="#65e7d0"/>
<path d="M1026.8 879.5l5.3-6.1-16-5.6-5.2 6.1z" fill="#63e17d"/>
<path d="M1176.3 831.6l4.9-1.9-17.3-4.4-4.9 1.9z" fill="#5a811c"/>
<path d="M1300.9 840.8l4.4 1.1-18.3-3.6-4.4-1.1z" fill="#020500"/>
<path d="M1067.9 857.9l5.2-4.9-16.3-5.2-5.2 4.8z" fill="#75d95f"/>
<path d="M975.8 921.5l5.3-7.9-15.6-6.1-5.3 7.8z" fill="#66e7e0"/>
<path d="M1207.5 831l4.8-1.1-17.6-4.2-4.8 1.1z" fill="#354e0b"/>
<path d="M1269.8 835.6l4.6 .4-18.1-3.8-4.6-.4z" fill="#010100"/>
<path d="M1140.2 836.8l5-2.9-17-4.7-5 2.9z" fill="#7cb03d"/>
<path d="M1238.7 832.4l4.7-.4-17.8-4-4.7 .4z" fill="#0e1603"/>
<path d="M1104 845.6l5.1-3.9-16.6-5-5.1 3.9z" fill="#87cc5a"/>
<path d="M970.6 929.2l5.3-8.1-15.5-6.2-5.3 8.1z" fill="#66dee8"/>
<path class="e" d="M970.4 928.8L955.6 922.9"/>
<path d="M1021.7 885.6l5.3-6.4-16-5.7-5.2 6.4z" fill="#63e28a"/>
<path d="M1062.8 862.8l5.2-5.2-16.3-5.3-5.2 5.1z" fill="#6ddb60"/>
<path d="M1327.5 846.4l4.3 1.6-18.6-3.5-4.3-1.5z" fill="#050e00"/>
<path class="e" d="M1327 846.4L1331.4 847.9"/>
<path d="M1171.4 833.6l4.9-2.2-17.2-4.4-5 2.2z" fill="#648f23"/>
<path d="M1016.6 891.9l5.3-6.7-16-5.7-5.2 6.7z" fill="#64e397"/>
<path d="M1098.9 849.5l5.2-4.2-16.6-4.9-5.2 4.1z" fill="#84d05b"/>
<path d="M1135.2 839.8l5-3.2-16.9-4.7-5.1 3.1z" fill="#81b946"/>
<path d="M1296.4 840l4.5 .8-18.3-3.6-4.5-.8z" fill="#000000"/>
<path d="M1202.7 832.3l4.8-1.4-17.5-4.2-4.9 1.4z" fill="#42600e"/>
<path d="M1057.7 867.9l5.2-5.4-16.3-5.4-5.2 5.4z" fill="#65dd61"/>
<path d="M1265.2 835.5l4.6 .1-18-3.8-4.7-.1z" fill="#030401"/>
<path d="M1234 832.9l4.7-.6-17.8-4-4.8 .6z" fill="#192505"/>
<path d="M1011.4 898.5l5.3-6.9-15.9-5.8-5.2 6.9z" fill="#64e4a5"/>
<path d="M1166.5 835.8l4.9-2.4-17.2-4.4-5 2.4z" fill="#6d9b2c"/>
<path d="M1093.9 853.7l5.1-4.5-16.6-5-5.1 4.4z" fill="#7fd35d"/>
<path d="M1052.6 873.3l5.2-5.7-16.2-5.4-5.3 5.6z" fill="#62df68"/>
<path d="M1006.3 905.3l5.3-7.2-15.9-5.8-5.3 7.1z" fill="#65e5b3"/>
<path d="M1130.2 843l5-3.5-16.9-4.7-5.1 3.4z" fill="#85c14f"/>
<path d="M1323.1 845.1l4.4 1.3-18.6-3.4-4.4-1.3z" fill="#040900"/>
<path class="e" d="M1322.7 845.1L1327 846.4"/>
<path d="M1197.8 833.8l4.9-1.6-17.5-4.2-4.9 1.6z" fill="#4e7114"/>
<path d="M1291.9 839.4l4.5 .6-18.3-3.6-4.6-.6z" fill="#000000"/>
<path d="M1001.1 912.4l5.3-7.5-15.8-5.9-5.3 7.4z" fill="#65e6c3"/>
<path d="M1229.2 833.8l4.8-.9-17.8-4.1-4.8 .9z" fill="#263708"/>
<path d="M1260.6 835.6l4.7-.1-18.2-3.8-4.6 .1z" fill="#070b02"/>
<path d="M1047.4 878.9l5.3-6-16.2-5.4-5.3 5.9z" fill="#63e073"/>
<path d="M1088.8 858.1l5.2-4.7-16.6-5.1-5.2 4.7z" fill="#7ad65e"/>
<path d="M1161.5 838.3l5-2.6-17.2-4.5-5 2.6z" fill="#75a634"/>
<path d="M1125.1 846.4l5.1-3.7-16.9-4.7-5.1 3.6z" fill="#89c858"/>
<path d="M996 919.7l5.3-7.7-15.8-6-5.3 7.7z" fill="#66e7d2"/>
<path d="M1042.3 884.8l5.3-6.3-16.3-5.4-5.2 6.1z" fill="#63e27f"/>
<path d="M1193 835.6l4.9-1.9-17.6-4.3-4.9 1.9z" fill="#5a801b"/>
<path d="M1083.7 862.7l5.2-4.9-16.6-5.1-5.2 4.9z" fill="#73d95f"/>
<path d="M990.8 927.2l5.3-7.9-15.7-6-5.4 7.8z" fill="#66e8e3"/>
<path d="M1318.7 844.1l4.4 1.1-18.6-3.5-4.5-1.1z" fill="#020500"/>
<path class="e" d="M1318.2 844L1322.7 845.1"/>
<path d="M1224.5 834.8l4.8-1.1-17.9-4.1-4.8 1.2z" fill="#354d0b"/>
<path d="M1287.4 839.1l4.5 .3-18.4-3.6-4.5-.4z" fill="#010100"/>
<path d="M1156.6 841.1l5-3-17.3-4.5-5 2.9z" fill="#7bb03d"/>
<path d="M1120.1 850.1l5.1-3.9-16.9-4.8-5.1 3.9z" fill="#87cc5a"/>
<path d="M1255.9 836l4.7-.4-18.1-3.9-4.7 .5z" fill="#0e1503"/>
<path d="M985.6 935l5.4-8.2-15.8-6.1-5.3 8.2z" fill="#66dce8"/>
<path class="e" d="M985.4 934.7L970.4 928.8"/>
<path d="M1037.1 890.9l5.3-6.5-16.2-5.5-5.2 6.4z" fill="#64e38c"/>
<path d="M1078.6 867.7l5.2-5.3-16.6-5.1-5.2 5.2z" fill="#6cdb60"/>
<path d="M1188.1 837.6l4.9-2.1-17.5-4.3-5 2.1z" fill="#648f23"/>
<path d="M1032 897.3l5.3-6.8-16.2-5.6-5.3 6.7z" fill="#64e499"/>
<path d="M1115 854.1l5.2-4.2-16.9-4.9-5.2 4.2z" fill="#83d05c"/>
<path d="M1151.6 844.1l5-3.2-17.2-4.6-5.1 3.2z" fill="#81b946"/>
<path d="M1314.2 843.3l4.5 .8-18.7-3.4-4.5-.9z" fill="#000000"/>
<path class="e" d="M1313.8 843.2L1318.2 844"/>
<path d="M1219.6 836.1l4.9-1.4-17.8-4-4.9 1.4z" fill="#415f0e"/>
<path d="M1073.4 872.8l5.3-5.5-16.6-5.2-5.2 5.5z" fill="#64dd61"/>
<path d="M1026.8 903.9l5.3-7-16.1-5.7-5.3 7z" fill="#65e5a7"/>
<path d="M1282.8 839l4.6 0-18.4-3.6-4.6-.1z" fill="#020401"/>
<path d="M1251.2 836.6l4.7-.7-18.1-3.8-4.7 .6z" fill="#182305"/>
<path d="M1183.2 839.9l4.9-2.4-17.5-4.3-5 2.4z" fill="#6e9b2c"/>
<path d="M1110 858.3l5.1-4.5-16.9-4.9-5.1 4.5z" fill="#7fd45d"/>
<path d="M1021.6 910.8l5.4-7.3-16.2-5.7-5.3 7.2z" fill="#65e6b5"/>
<path d="M1068.3 878.2l5.3-5.7-16.6-5.2-5.2 5.6z" fill="#62df69"/>
<path d="M1146.6 847.3l5-3.5-17.2-4.5-5.1 3.4z" fill="#85c14f"/>
<path d="M1214.8 837.7l4.9-1.7-17.9-4.1-4.8 1.7z" fill="#4e7014"/>
<path d="M1016.5 917.9l5.3-7.5-16.1-5.8-5.3 7.4z" fill="#65e7c5"/>
<path d="M1309.7 842.7l4.5 .6-18.7-3.5-4.5-.5z" fill="#000000"/>
<path class="e" d="M1309.3 842.6L1313.8 843.2"/>
<path d="M1063.1 883.9l5.3-6-16.5-5.3-5.2 6z" fill="#63e175"/>
<path d="M1246.5 837.4l4.7-.9-18.1-3.9-4.7 .9z" fill="#253608"/>
<path d="M1104.9 862.7l5.2-4.7-16.9-4.9-5.2 4.7z" fill="#79d75e"/>
<path d="M1278.1 839.1l4.7-.2-18.4-3.6-4.7 .1z" fill="#060a01"/>
<path d="M1178.2 842.4l5-2.7-17.5-4.3-5 2.7z" fill="#75a634"/>
<path d="M1011.3 925.3l5.3-7.8-16-5.8-5.4 7.7z" fill="#66e7d5"/>
<path d="M1141.5 850.8l5.1-3.7-17.2-4.7-5.1 3.7z" fill="#89c858"/>
<path d="M1058 889.9l5.3-6.3-16.5-5.4-5.3 6.2z" fill="#63e281"/>
<path d="M1006.1 932.9l5.3-8-16-5.9-5.3 7.9z" fill="#66e8e5"/>
<path d="M1099.7 867.5l5.3-5.1-16.9-4.9-5.2 4.9z" fill="#73d960"/>
<path d="M1209.9 839.5l4.9-1.9-17.8-4.1-4.9 1.9z" fill="#5a801b"/>
<path d="M1241.7 838.5l4.8-1.2-18.1-3.9-4.8 1.2z" fill="#344c0b"/>
<path d="M1000.9 940.8l5.4-8.3-16-6-5.4 8.2z" fill="#66dbe9"/>
<path class="e" d="M1000.6 940.4L985.4 934.7"/>
<path d="M1136.5 854.5l5.1-4-17.2-4.6-5.1 3.9z" fill="#87cd5a"/>
<path d="M1173.2 845.2l5.1-3-17.6-4.3-5 2.9z" fill="#7cb13d"/>
<path d="M1052.8 896l5.3-6.5-16.4-5.4-5.3 6.5z" fill="#64e38d"/>
<path d="M1305.2 842.4l4.5 .3-18.7-3.5-4.5-.3z" fill="#010100"/>
<path class="e" d="M1304.7 842.3L1309.3 842.6"/>
<path d="M1273.5 839.5l4.7-.5-18.5-3.6-4.6 .4z" fill="#0d1303"/>
<path d="M1094.6 872.4l5.2-5.2-16.8-5.1-5.2 5.3z" fill="#6cdc61"/>
<path d="M1047.6 902.5l5.4-6.8-16.5-5.5-5.3 6.7z" fill="#64e49b"/>
<path d="M1205 841.5l5-2.2-17.8-4.1-5 2.2z" fill="#658e23"/>
<path d="M1131.4 858.5l5.2-4.2-17.2-4.7-5.2 4.2z" fill="#83d15c"/>
<path d="M1168.2 848.2l5.1-3.2-17.5-4.4-5.1 3.2z" fill="#81b946"/>
<path d="M1089.5 877.6l5.2-5.5-16.8-5.1-5.2 5.5z" fill="#63de61"/>
<path d="M1236.9 839.8l4.8-1.4-18.1-3.9-4.8 1.4z" fill="#415e0e"/>
<path d="M1042.4 909.2l5.4-7.1-16.4-5.5-5.3 7z" fill="#65e5a9"/>
<path d="M1268.8 840.1l4.7-.7-18.4-3.7-4.7 .7z" fill="#172205"/>
<path d="M1300.6 842.3l4.6 .1-18.7-3.5-4.6-.1z" fill="#020300"/>
<path class="e" d="M1300.2 842.2L1304.7 842.3"/>
<path d="M1126.3 862.8l5.2-4.5-17.2-4.8-5.1 4.5z" fill="#7fd45d"/>
<path d="M1200.1 843.8l5-2.4-17.8-4.2-5 2.5z" fill="#6e9b2c"/>
<path d="M1037.2 916.1l5.4-7.3-16.4-5.6-5.3 7.2z" fill="#65e6b7"/>
<path d="M1084.3 883.1l5.3-5.8-16.8-5.1-5.3 5.7z" fill="#62df6a"/>
<path d="M1163.2 851.5l5.1-3.5-17.5-4.4-5.1 3.4z" fill="#86c24f"/>
<path d="M1032 923.3l5.4-7.6-16.3-5.6-5.4 7.5z" fill="#66e7c6"/>
<path d="M1232.1 841.4l4.8-1.7-18.1-3.9-4.8 1.7z" fill="#4f6f14"/>
<path d="M1079.1 888.8l5.3-6-16.7-5.2-5.3 6z" fill="#63e176"/>
<path d="M1121.2 867.3l5.2-4.8-17.2-4.8-5.1 4.7z" fill="#79d75f"/>
<path d="M1264.1 840.9l4.7-.9-18.4-3.7-4.8 .9z" fill="#253408"/>
<path d="M1296 842.4l4.6-.2-18.7-3.5-4.6 .2z" fill="#060901"/>
<path class="e" d="M1295.6 842.3L1300.2 842.2"/>
<path d="M1026.8 930.7l5.4-7.8-16.3-5.7-5.4 7.7z" fill="#66e8d6"/>
<path d="M1195.2 846.4l5-2.7-17.8-4.2-5 2.7z" fill="#76a734"/>
<path d="M1158.2 855l5.1-3.7-17.5-4.5-5.1 3.7z" fill="#89c958"/>
<path d="M1073.9 894.8l5.4-6.3-16.8-5.2-5.3 6.2z" fill="#64e282"/>
<path d="M1021.6 938.4l5.4-8.1-16.3-5.8-5.3 8.1z" fill="#66e8e7"/>
<path d="M1116.1 872l5.2-5-17.1-4.8-5.3 5z" fill="#73da60"/>
<path d="M1227.2 843.2l4.9-1.9-18.1-4-4.9 2z" fill="#5b801b"/>
<path d="M1016.4 946.4l5.4-8.4-16.3-5.8-5.3 8.2z" fill="#66dae9"/>
<path class="e" d="M1016.1 946L1000.6 940.4"/>
<path d="M1068.7 901.1l5.4-6.6-16.7-5.3-5.3 6.5z" fill="#64e48e"/>
<path d="M1153.1 858.8l5.2-4-17.5-4.5-5.1 4z" fill="#87cd5a"/>
<path d="M1190.2 849.2l5-3-17.8-4.2-5 2.9z" fill="#7db13d"/>
<path d="M1259.3 842l4.8-1.2-18.5-3.7-4.8 1.2z" fill="#344a0b"/>
<path d="M1291.3 842.8l4.7-.4-18.7-3.5-4.7 .4z" fill="#0d1203"/>
<path class="e" d="M1290.9 842.7L1295.6 842.3"/>
<path d="M1110.9 877.1l5.3-5.4-17.1-4.8-5.3 5.2z" fill="#6cdc61"/>
<path d="M1063.5 907.6l5.4-6.9-16.7-5.3-5.3 6.8z" fill="#65e59c"/>
<path d="M1222.3 845.3l5-2.2-18.2-4-4.9 2.2z" fill="#668e23"/>
<path d="M1148 862.9l5.2-4.3-17.5-4.6-5.1 4.2z" fill="#84d15c"/>
<path d="M1185.2 852.3l5.1-3.3-17.8-4.3-5.1 3.3z" fill="#82ba46"/>
<path d="M1105.7 882.3l5.3-5.5-17.1-5-5.2 5.5z" fill="#63de62"/>
<path d="M1058.3 914.3l5.4-7.1-16.7-5.4-5.3 7.1z" fill="#65e6aa"/>
<path d="M1254.5 843.4l4.8-1.5-18.4-3.7-4.9 1.4z" fill="#425d0d"/>
<path d="M1286.7 843.4l4.7-.7-18.8-3.5-4.7 .7z" fill="#172005"/>
<path class="e" d="M1286.2 843.3L1290.9 842.7"/>
<path d="M1142.9 867.1l5.2-4.5-17.4-4.6-5.2 4.5z" fill="#7fd55e"/>
<path d="M1053.1 921.3l5.4-7.3-16.7-5.5-5.3 7.3z" fill="#65e7b8"/>
<path d="M1100.6 887.9l5.3-5.9-17.1-5-5.3 5.8z" fill="#62e06b"/>
<path d="M1217.4 847.6l5-2.4-18.2-4.1-4.9 2.5z" fill="#6f9b2c"/>
<path d="M1180.2 855.6l5.1-3.6-17.8-4.2-5.1 3.4z" fill="#87c24f"/>
<path d="M1047.9 928.6l5.4-7.7-16.6-5.5-5.4 7.6z" fill="#66e7c8"/>
<path d="M1249.7 845l4.8-1.7-18.4-3.8-4.9 1.7z" fill="#4f6f14"/>
<path d="M1095.4 893.7l5.3-6.2-17.1-5-5.2 6.1z" fill="#63e176"/>
<path d="M1137.8 871.7l5.2-4.8-17.4-4.7-5.2 4.8z" fill="#7ad85f"/>
<path d="M1281.9 844.3l4.8-.9-18.8-3.6-4.7 .9z" fill="#243307"/>
<path class="e" d="M1281.5 844.2L1286.2 843.3"/>
<path d="M1042.6 936.1l5.4-7.9-16.5-5.6-5.4 7.8z" fill="#66e8d8"/>
<path d="M1212.4 850.2l5-2.7-18.1-4.1-5 2.8z" fill="#77a734"/>
<path d="M1175.1 859.1l5.1-3.8-17.7-4.3-5.1 3.8z" fill="#8ac958"/>
<path d="M1090.2 899.7l5.3-6.4-17-5.1-5.3 6.3z" fill="#64e382"/>
<path d="M1037.4 943.9l5.4-8.2-16.5-5.7-5.4 8.1z" fill="#66e9e8"/>
<path d="M1132.7 876.5l5.2-5.1-17.4-4.7-5.2 5.1z" fill="#73da60"/>
<path d="M1244.8 846.8l4.9-1.9-18.4-3.8-4.9 1.9z" fill="#5c7f1b"/>
<path d="M1032.1 951.9l5.5-8.4-16.5-5.8-5.4 8.4z" fill="#67d9e9"/>
<path class="e" d="M1031.9 951.5L1016.1 946"/>
<path d="M1085 906l5.3-6.6-17-5.2-5.3 6.6z" fill="#64e48f"/>
<path d="M1170 863l5.2-4.1-17.8-4.4-5.1 4z" fill="#88ce5a"/>
<path d="M1207.5 853.1l5-3.1-18.1-4-5 3z" fill="#7eb13d"/>
<path d="M1277.2 845.4l4.8-1.2-18.8-3.6-4.8 1.2z" fill="#34490a"/>
<path class="e" d="M1276.7 845.3L1281.5 844.2"/>
<path d="M1127.5 881.6l5.2-5.4-17.3-4.7-5.3 5.3z" fill="#6cdd61"/>
<path d="M1079.7 912.6l5.4-7-17-5.2-5.3 6.9z" fill="#65e59c"/>
<path d="M1239.9 848.9l4.9-2.2-18.4-3.8-4.9 2.2z" fill="#678e23"/>
<path d="M1165 867l5.1-4.3-17.7-4.4-5.2 4.3z" fill="#85d25c"/>
<path d="M1202.5 856.2l5-3.3-18.1-4.1-5 3.2z" fill="#84ba46"/>
<path d="M1122.3 886.9l5.3-5.6-17.4-4.8-5.2 5.6z" fill="#64df62"/>
<path d="M1074.5 919.4l5.4-7.2-17-5.3-5.3 7.1z" fill="#65e6aa"/>
<path d="M1272.4 846.8l4.8-1.5-18.8-3.6-4.8 1.5z" fill="#435c0d"/>
<path class="e" d="M1272 846.6L1276.7 845.3"/>
<path d="M1069.2 926.4l5.4-7.4-16.9-5.3-5.3 7.3z" fill="#66e7b9"/>
<path d="M1159.8 871.4l5.2-4.6-17.7-4.5-5.2 4.6z" fill="#80d55e"/>
<path d="M1117.1 892.5l5.3-5.9-17.3-4.9-5.3 5.9z" fill="#63e06b"/>
<path d="M1235 851.3l4.9-2.5-18.4-3.9-5 2.5z" fill="#719b2c"/>
<path d="M1197.4 859.5l5.1-3.6-18.1-4.1-5.1 3.5z" fill="#88c250"/>
<path d="M1064 933.8l5.4-7.7-16.9-5.4-5.4 7.6z" fill="#66e8c8"/>
<path d="M1111.9 898.3l5.3-6.1-17.3-4.9-5.3 6.1z" fill="#63e276"/>
<path d="M1267.6 848.4l4.8-1.7-18.8-3.6-4.8 1.7z" fill="#516e14"/>
<path class="e" d="M1267.1 848.3L1272 846.6"/>
<path d="M1154.7 876l5.2-4.9-17.7-4.5-5.2 4.8z" fill="#7bd85f"/>
<path d="M1058.7 941.4l5.4-8-16.8-5.5-5.4 7.9z" fill="#66e9d8"/>
<path d="M1230 853.9l5-2.8-18.4-3.9-5 2.8z" fill="#79a734"/>
<path d="M1192.4 863.1l5.1-3.8-18.1-4.2-5.1 3.8z" fill="#8cca59"/>
<path d="M1106.7 904.4l5.3-6.4-17.3-5-5.3 6.4z" fill="#64e382"/>
<path d="M1053.4 949.2l5.5-8.2-16.8-5.6-5.4 8.2z" fill="#67e9e9"/>
<path d="M1149.5 880.9l5.3-5.2-17.7-4.6-5.2 5.1z" fill="#74db60"/>
<path d="M1262.7 850.3l4.9-2-18.8-3.6-4.9 1.9z" fill="#5e7f1b"/>
<path class="e" d="M1262.3 850.1L1267.1 848.3"/>
<path d="M1048.2 957.3l5.4-8.5-16.8-5.6-5.4 8.4z" fill="#67d9ea"/>
<path class="e" d="M1047.9 956.9L1031.9 951.5"/>
<path d="M1101.4 910.8l5.4-6.7-17.3-5-5.3 6.6z" fill="#64e58f"/>
<path d="M1187.3 867l5.1-4.1-18-4.2-5.2 4z" fill="#8ace5b"/>
<path d="M1225 856.8l5.1-3.1-18.5-3.9-5 3z" fill="#80b13d"/>
<path d="M1144.4 886l5.2-5.4-17.7-4.7-5.2 5.4z" fill="#6ddd61"/>
<path d="M1096.2 917.4l5.4-6.9-17.3-5.1-5.3 6.9z" fill="#65e69c"/>
<path d="M1257.8 852.4l4.9-2.2-18.7-3.7-5 2.2z" fill="#698e23"/>
<path class="e" d="M1257.4 852.3L1262.3 850.1"/>
<path d="M1182.2 871.1l5.2-4.4-18.1-4.2-5.2 4.3z" fill="#86d25c"/>
<path d="M1139.2 891.4l5.3-5.7-17.7-4.7-5.3 5.6z" fill="#65df62"/>
<path d="M1220 859.9l5.1-3.3-18.4-4-5.1 3.3z" fill="#85bb47"/>
<path d="M1090.9 924.3l5.4-7.2-17.2-5.2-5.4 7.2z" fill="#65e7aa"/>
<path d="M1085.6 931.4l5.5-7.5-17.2-5.2-5.4 7.5z" fill="#66e8b9"/>
<path d="M1177 875.5l5.3-4.6-18.1-4.4-5.2 4.6z" fill="#82d65e"/>
<path d="M1133.9 897l5.4-6-17.7-4.7-5.3 5.9z" fill="#63e16a"/>
<path d="M1252.9 854.8l4.9-2.5-18.7-3.7-5 2.5z" fill="#739b2c"/>
<path class="e" d="M1252.5 854.6L1257.4 852.3"/>
<path d="M1215 863.3l5.1-3.6-18.4-4-5.1 3.6z" fill="#8ac350"/>
<path d="M1080.4 938.8l5.4-7.7-17.2-5.3-5.4 7.7z" fill="#66e8c8"/>
<path d="M1128.7 902.9l5.4-6.2-17.7-4.8-5.3 6.2z" fill="#64e276"/>
<path d="M1171.9 880.1l5.2-4.9-18-4.3-5.2 4.8z" fill="#7cd95f"/>
<path d="M1075.1 946.5l5.4-8-17.1-5.4-5.4 8z" fill="#66e9d8"/>
<path d="M1247.9 857.5l5-2.8-18.7-3.8-5 2.8z" fill="#7ba735"/>
<path class="e" d="M1247.5 857.3L1252.5 854.6"/>
<path d="M1209.9 867l5.1-3.9-18.3-4.1-5.2 3.9z" fill="#8dca59"/>
<path d="M1123.5 909.1l5.3-6.5-17.6-4.9-5.3 6.5z" fill="#64e482"/>
<path d="M1069.8 954.4l5.4-8.3-17.1-5.4-5.4 8.2z" fill="#67eae9"/>
<path d="M1166.7 885.1l5.3-5.2-18-4.5-5.3 5.2z" fill="#76db60"/>
<path d="M1064.5 962.6l5.4-8.6-17-5.5-5.5 8.5z" fill="#67daea"/>
<path class="e" d="M1064.2 962.2L1047.9 956.9"/>
<path d="M1118.2 915.5l5.4-6.8-17.6-4.9-5.3 6.7z" fill="#65e58e"/>
<path d="M1204.8 870.9l5.2-4.2-18.4-4.1-5.1 4.1z" fill="#8ccf5b"/>
<path d="M1242.9 860.4l5.1-3.1-18.8-3.8-5 3.1z" fill="#82b23e"/>
<path class="e" d="M1242.5 860.2L1247.5 857.3"/>
<path d="M1161.5 890.2l5.3-5.4-18-4.5-5.2 5.4z" fill="#6ede61"/>
<path d="M1112.9 922.2l5.4-7.1-17.5-4.9-5.4 6.9z" fill="#65e69c"/>
<path d="M1199.7 875l5.2-4.4-18.4-4.1-5.1 4.4z" fill="#88d35d"/>
<path d="M1156.3 895.7l5.3-5.8-17.9-4.5-5.3 5.7z" fill="#66e062"/>
<path d="M1107.6 929.1l5.5-7.3-17.5-5-5.4 7.2z" fill="#66e7aa"/>
<path d="M1237.9 863.5l5.1-3.3-18.8-3.8-5 3.3z" fill="#88bb47"/>
<path class="e" d="M1237.5 863.3L1242.5 860.2"/>
<path d="M1102.3 936.3l5.5-7.5-17.5-5.1-5.4 7.5z" fill="#66e8b9"/>
<path d="M1151.1 901.4l5.3-6-17.9-4.6-5.3 5.9z" fill="#63e169"/>
<path d="M1194.6 879.5l5.2-4.7-18.4-4.2-5.2 4.6z" fill="#84d65e"/>
<path d="M1232.9 867l5.1-3.7-18.8-3.8-5.1 3.6z" fill="#8cc350"/>
<path class="e" d="M1232.5 866.7L1237.5 863.3"/>
<path d="M1097 943.8l5.5-7.8-17.5-5.2-5.4 7.8z" fill="#66e9c8"/>
<path d="M1145.8 907.3l5.4-6.3-17.9-4.6-5.4 6.2z" fill="#64e375"/>
<path d="M1189.4 884.2l5.2-5-18.3-4.2-5.2 4.9z" fill="#7ed960"/>
<path d="M1091.7 951.5l5.5-8.1-17.4-5.2-5.5 8z" fill="#67e9d8"/>
<path d="M1227.8 870.7l5.1-4-18.7-3.8-5.1 3.8z" fill="#90cb59"/>
<path class="e" d="M1227.4 870.4L1232.5 866.7"/>
<path d="M1140.6 913.6l5.3-6.6-17.9-4.7-5.3 6.5z" fill="#64e481"/>
<path d="M1086.4 959.5l5.5-8.4-17.4-5.3-5.5 8.3z" fill="#67eae9"/>
<path d="M1184.2 889.1l5.3-5.2-18.3-4.3-5.3 5.2z" fill="#78dc61"/>
<path d="M1081 967.8l5.5-8.7-17.3-5.4-5.5 8.6z" fill="#67dbeb"/>
<path class="e" d="M1080.8 967.4L1064.2 962.2"/>
<path d="M1135.3 920l5.4-6.8-17.9-4.7-5.4 6.7z" fill="#65e58d"/>
<path d="M1222.7 874.6l5.2-4.2-18.8-3.9-5.1 4.1z" fill="#8ecf5b"/>
<path class="e" d="M1222.3 874.4L1227.4 870.4"/>
<path d="M1179 894.4l5.3-5.6-18.3-4.3-5.3 5.5z" fill="#70de62"/>
<path d="M1130 926.8l5.4-7.1-17.8-4.8-5.4 7z" fill="#65e79b"/>
<path d="M1217.6 878.8l5.2-4.4-18.7-4-5.2 4.4z" fill="#8bd35d"/>
<path class="e" d="M1217.2 878.6L1222.3 874.4"/>
<path d="M1173.8 899.9l5.3-5.8-18.3-4.4-5.3 5.7z" fill="#68e062"/>
<path d="M1124.7 933.8l5.4-7.4-17.8-4.9-5.4 7.3z" fill="#66e7a9"/>
<path d="M1119.3 941.1l5.5-7.7-17.8-4.9-5.4 7.6z" fill="#66e8b8"/>
<path d="M1168.5 905.6l5.4-6.1-18.3-4.4-5.3 6z" fill="#63e268"/>
<path d="M1212.4 883.3l5.2-4.7-18.6-4.1-5.3 4.7z" fill="#86d75e"/>
<path class="e" d="M1212 883.1L1217.2 878.6"/>
<path d="M1114 948.6l5.5-7.9-17.8-5-5.4 7.8z" fill="#66e9c7"/>
<path d="M1163.2 911.6l5.4-6.3-18.2-4.5-5.4 6.3z" fill="#64e373"/>
<path d="M1207.2 888.1l5.3-5.1-18.7-4-5.2 4.9z" fill="#81da60"/>
<path class="e" d="M1206.9 887.8L1212 883.1"/>
<path d="M1108.6 956.4l5.5-8.1-17.7-5.2-5.4 8.2z" fill="#67ead7"/>
<path d="M1103.3 964.5l5.5-8.5-17.7-5.1-5.5 8.3z" fill="#67ebe8"/>
<path d="M1158 917.9l5.4-6.6-18.3-4.6-5.3 6.6z" fill="#65e57f"/>
<path d="M1202 893.1l5.3-5.3-18.6-4.1-5.3 5.2z" fill="#7adc61"/>
<path class="e" d="M1201.7 892.8L1206.9 887.8"/>
<path d="M1097.9 972.8l5.5-8.7-17.6-5.3-5.5 8.7z" fill="#67ddeb"/>
<path class="e" d="M1097.6 972.5L1080.8 967.4"/>
<path d="M1152.7 924.5l5.4-6.9-18.2-4.6-5.4 6.8z" fill="#65e68c"/>
<path d="M1196.8 898.4l5.3-5.6-18.6-4.2-5.3 5.5z" fill="#73df62"/>
<path class="e" d="M1196.4 898.1L1201.7 892.8"/>
<path d="M1147.3 931.3l5.5-7.2-18.2-4.7-5.4 7.1z" fill="#66e799"/>
<path d="M1142 938.4l5.4-7.5-18.1-4.7-5.4 7.3z" fill="#66e8a7"/>
<path d="M1191.6 903.9l5.3-5.8-18.6-4.3-5.3 5.8z" fill="#6be163"/>
<path class="e" d="M1191.2 903.6L1196.4 898.1"/>
<path d="M1136.6 945.7l5.5-7.7-18.1-4.8-5.4 7.6z" fill="#66e9b6"/>
<path d="M1186.3 909.7l5.3-6.1-18.5-4.3-5.4 6.1z" fill="#63e266"/>
<path class="e" d="M1185.9 909.4L1191.2 903.6"/>
<path d="M1131.3 953.4l5.5-8-18.1-4.9-5.5 7.9z" fill="#67eac6"/>
<path d="M1181 915.8l5.4-6.4-18.6-4.4-5.3 6.4z" fill="#64e471"/>
<path class="e" d="M1180.6 915.5L1185.9 909.4"/>
<path d="M1125.9 961.2l5.5-8.2-18-5-5.5 8.2z" fill="#67ead6"/>
<path d="M1120.5 969.4l5.5-8.6-18-5-5.5 8.4z" fill="#67ebe6"/>
<path d="M1175.7 922.2l5.4-6.7-18.5-4.4-5.4 6.6z" fill="#65e57d"/>
<path class="e" d="M1175.3 921.9L1180.6 915.5"/>
<path d="M1115.1 977.8l5.5-8.8-17.9-5.2-5.5 8.8z" fill="#68dfec"/>
<path class="e" d="M1114.8 977.4L1097.6 972.5"/>
<path d="M1170.4 928.8l5.4-7-18.5-4.5-5.4 6.9z" fill="#65e68a"/>
<path class="e" d="M1170 928.5L1175.3 921.9"/>
<path d="M1165 935.7l5.5-7.3-18.5-4.5-5.4 7.1z" fill="#66e797"/>
<path class="e" d="M1164.7 935.4L1170 928.5"/>
<path d="M1159.6 942.8l5.5-7.5-18.4-4.6-5.5 7.4z" fill="#66e8a5"/>
<path class="e" d="M1159.3 942.5L1164.7 935.4"/>
<path d="M1154.3 950.3l5.5-7.8-18.5-4.7-5.4 7.7z" fill="#67e9b4"/>
<path class="e" d="M1153.9 949.9L1159.3 942.5"/>
<path d="M1148.9 957.9l5.5-8-18.4-4.8-5.5 8z" fill="#67eac4"/>
<path class="e" d="M1148.5 957.6L1153.9 949.9"/>
<path d="M1143.5 965.9l5.5-8.3-18.4-4.9-5.5 8.3z" fill="#67ebd4"/>
<path class="e" d="M1143.1 965.6L1148.5 957.6"/>
<path d="M1138 974.1l5.6-8.6-18.3-4.9-5.5 8.5z" fill="#67ebe4"/>
<path class="e" d="M1137.7 973.8L1143.1 965.6"/>
<path d="M1132.6 982.6l5.6-8.9-18.3-5-5.5 8.8z" fill="#68e2ec"/>
<path class="e" d="M1132.3 982.3L1114.8 977.4"/>
<path class="e" d="M1132.3 982.3L1137.7 973.8"/>
</g>
<mask id="mpd" maskUnits="userSpaceOnUse" x="882.9" y="771.2" width="499.3" height="213.1"><use href="#spd" filter="url(#wh)"/></mask>
<rect x="882.9" y="771.2" width="499.3" height="213.1" fill="url(#mesh)" mask="url(#mpd)"/>
</g>
<g id="pf">
<path d="M915.6 1633L1153.1 1569.8L1390.6 1633M913.7 1600.5L1153.1 1540.6L1392.6 1600.5M911.7 1568L1153.1 1511.4L1394.6 1568M909.7 1535.5L1153.1 1482.2L1396.6 1535.5M907.7 1503L1153.1 1453L1398.6 1503M905.7 1470.5L1153.1 1423.8L1400.6 1470.5M903.7 1438L1153.1 1394.6L1402.6 1438M953.6 1429.3L963.1 1620.3M1203 1403.3L1200.6 1582.4M1003.5 1420.7L1010.6 1607.7M1252.9 1412L1248.1 1595M1053.4 1412L1058.1 1595M1302.8 1420.7L1295.6 1607.7M1103.3 1403.3L1105.6 1582.4M1352.7 1429.3L1343.1 1620.3M903.7 1438L919.4 1694.1M1153.1 1394.6L1153.1 1624.6M1402.6 1438L1386.9 1694.1" fill="none" stroke="#555" stroke-width="1.1"/>
<polygon points="1153.1,1783.4 1386.9,1694.1 1153.1,1624.6 919.4,1694.1" fill="#ffff00" stroke="#444" stroke-width=".9"/>
<path d="M1202.4 1764.6 1194.7 1760.1 1189.5 1757.2 1181.6 1752.9 1176.3 1750.2 1168.1 1746.2 1161.7 1743.3 1154 1739.9 1145.4 1736.3 1136.7 1732.8 1127.7 1729.4 1118.7 1726.1 1109.4 1723 1100 1720 1090.5 1717 1080.8 1714.2 1074.3 1712.4 1064.3 1709.7 1057.2 1707.9 1047.4 1705.5 1039.7 1703.8 1030 1701.6 1022.9 1700.1 1012.1 1698 1004.8 1696.6 997.4 1695.2 988.5 1693.7 978.6 1692.1 970.9 1690.9 963.1 1689.7 955.2 1688.6 947.2 1687.5 943.2 1687" fill="none" stroke="#3cd2aa" stroke-width="1.1" stroke-opacity=".85"/>
<path d="M1306.3 1724.9 1300.7 1722.3 1292.2 1718.7 1286.5 1716.3 1277.8 1712.8 1269.1 1709.3 1260.3 1706 1254.4 1703.9 1245.4 1700.7 1236.4 1697.7 1227.3 1694.7 1218.1 1691.8 1208.8 1689 1199.4 1686.3 1193.1 1684.6 1183.6 1682 1174 1679.5 1166.4 1677.6 1157.7 1675.5 1147.9 1673.2 1141.2 1671.7 1131.2 1669.5 1124.5 1668.1 1114.3 1666 1107.4 1664.7 1099.9 1663.3 1090 1661.5 1083 1660.2 1075.9 1659 1065.1 1657.3 1057.9 1656.2 1050.6 1655.1" fill="none" stroke="#64f050" stroke-width="1.1" stroke-opacity=".85"/>
<path d="M1382.2 1695.9 1373.4 1692.5 1364.6 1689.3 1358.7 1687.2 1349.8 1684.1 1340.8 1681.1 1331.8 1678.1 1322.8 1675.3 1313.7 1672.5 1304.5 1669.8 1295.3 1667.1 1286.1 1664.5 1276.8 1662 1267.4 1659.6 1258 1657.2 1251.7 1655.6 1242.2 1653.4 1232.6 1651.1 1226.2 1649.7 1216.5 1647.6 1208.7 1645.9 1200.2 1644.2 1192.1 1642.6 1183.7 1641 1177.1 1639.7 1167 1637.9 1160.3 1636.7 1151.7 1635.2 1143.3 1633.8 1136.5 1632.7 1129.6 1631.6" fill="none" stroke="#a0ff30" stroke-width="1.1" stroke-opacity=".85"/>
<rect x="914" y="1631.7" width="3.2" height="2.6" fill="#111"/>
<rect x="912.1" y="1599.2" width="3.2" height="2.6" fill="#111"/>
<rect x="910.1" y="1566.7" width="3.2" height="2.6" fill="#111"/>
<rect x="908.1" y="1534.2" width="3.2" height="2.6" fill="#111"/>
<rect x="906.1" y="1501.7" width="3.2" height="2.6" fill="#111"/>
<rect x="904.1" y="1469.2" width="3.2" height="2.6" fill="#111"/>
<rect x="902.1" y="1436.7" width="3.2" height="2.6" fill="#111"/>
<rect x="1151.5" y="1782.2" width="3.2" height="2.4" fill="#111"/>
<rect x="1151.5" y="1782.2" width="3.2" height="2.4" fill="#111"/>
<rect x="1104.8" y="1764.3" width="3.2" height="2.4" fill="#111"/>
<rect x="1198.3" y="1764.3" width="3.2" height="2.4" fill="#111"/>
<rect x="1058" y="1746.5" width="3.2" height="2.4" fill="#111"/>
<rect x="1245" y="1746.5" width="3.2" height="2.4" fill="#111"/>
<rect x="1011.3" y="1728.6" width="3.2" height="2.4" fill="#111"/>
<rect x="1291.8" y="1728.6" width="3.2" height="2.4" fill="#111"/>
<rect x="964.5" y="1710.7" width="3.2" height="2.4" fill="#111"/>
<rect x="1338.5" y="1710.7" width="3.2" height="2.4" fill="#111"/>
<rect x="917.8" y="1692.9" width="3.2" height="2.4" fill="#111"/>
<rect x="1385.3" y="1692.9" width="3.2" height="2.4" fill="#111"/>
<circle cx="908.5" cy="1544.3" r="3.6" fill="#f4a6ae" stroke="#c66" stroke-width=".7"/><circle cx="1153.1" cy="1625.6" r="3.6" fill="#f4a6ae" stroke="#c66" stroke-width=".7"/>
<g id="spf">
<path d="M1163.1 1421.6l4.3-2.9-14.6-4.7-4.3 2.9z" fill="#b05c4d"/>
<path class="e" d="M1166.9 1418.7L1153.1 1414.3"/>
<path class="e" d="M1148.9 1416.9L1153.1 1414.3"/>
<path d="M1158.8 1424.2l4.4-2.8-14.6-4.7-4.4 2.8z" fill="#b0604d"/>
<path class="e" d="M1144.7 1419.6L1148.9 1416.9"/>
<path d="M1154.6 1426.9l4.3-2.9-14.6-4.7-4.3 2.8z" fill="#af644c"/>
<path class="e" d="M1140.4 1422.2L1144.7 1419.6"/>
<path d="M1150.3 1429.5l4.4-2.8-14.6-4.8-4.4 2.9z" fill="#af684c"/>
<path class="e" d="M1136.2 1424.8L1140.4 1422.2"/>
<path d="M1177 1425.9l4.4-2.9-14.8-4.6-4.3 2.9z" fill="#b0604d"/>
<path class="e" d="M1180.9 1422.9L1166.9 1418.7"/>
<path d="M1146 1432.2l4.4-2.9-14.6-4.8-4.4 2.9z" fill="#af6c4c"/>
<path class="e" d="M1131.9 1427.4L1136.2 1424.8"/>
<path d="M1172.8 1428.5l4.3-2.9-14.8-4.5-4.3 2.8z" fill="#b0644d"/>
<path d="M1141.7 1434.8l4.4-2.9-14.6-4.7-4.4 2.8z" fill="#af704b"/>
<path class="e" d="M1127.6 1430L1131.9 1427.4"/>
<path d="M1168.5 1431.2l4.4-2.9-14.8-4.6-4.3 2.9z" fill="#af684c"/>
<path d="M1137.4 1437.4l4.4-2.8-14.6-4.8-4.4 2.8z" fill="#af744b"/>
<path class="e" d="M1123.3 1432.6L1127.6 1430"/>
<path d="M1164.3 1433.9l4.3-2.9-14.8-4.6-4.3 2.8z" fill="#af6c4c"/>
<path d="M1133.1 1440l4.4-2.8-14.6-4.8-4.4 2.8z" fill="#af784a"/>
<path class="e" d="M1119 1435.2L1123.3 1432.6"/>
<path d="M1191.2 1430l4.3-2.9-15-4.4-4.3 2.9z" fill="#b0644d"/>
<path class="e" d="M1195.1 1427L1180.9 1422.9"/>
<path d="M1160 1436.5l4.3-2.9-14.7-4.6-4.4 2.8z" fill="#af704b"/>
<path d="M1128.7 1442.6l4.4-2.8-14.5-4.9-4.4 2.9z" fill="#af7c4a"/>
<path class="e" d="M1114.6 1437.8L1119 1435.2"/>
<path d="M1187 1432.7l4.3-2.9-15-4.5-4.3 2.9z" fill="#b0684d"/>
<path d="M1155.7 1439.2l4.4-2.9-14.8-4.7-4.4 2.9z" fill="#af744b"/>
<path d="M1124.3 1445.2l4.5-2.8-14.6-4.9-4.4 2.8z" fill="#af8049"/>
<path class="e" d="M1110.2 1440.4L1114.6 1437.8"/>
<path d="M1182.7 1435.4l4.3-2.9-14.9-4.5-4.4 2.9z" fill="#b06c4c"/>
<path d="M1151.3 1441.8l4.5-2.9-14.8-4.6-4.4 2.8z" fill="#af784b"/>
<path d="M1120 1447.8l4.4-2.8-14.5-4.9-4.5 2.8z" fill="#af8449"/>
<path class="e" d="M1105.9 1443L1110.2 1440.4"/>
<path d="M1178.4 1438.1l4.4-2.9-15-4.5-4.3 2.9z" fill="#af704c"/>
<path d="M1147 1444.5l4.4-2.9-14.7-4.7-4.4 2.8z" fill="#af7c4a"/>
<path d="M1115.6 1450.4l4.4-2.8-14.5-4.9-4.5 2.8z" fill="#af8849"/>
<path class="e" d="M1101.5 1445.5L1105.9 1443"/>
<path d="M1205.6 1434l4.3-2.9-15.2-4.3-4.3 2.9z" fill="#b0674d"/>
<path class="e" d="M1209.5 1431.1L1195.1 1427"/>
<path d="M1174.1 1440.8l4.4-2.9-15-4.6-4.3 2.9z" fill="#af744b"/>
<path d="M1142.6 1447.1l4.5-2.9-14.8-4.7-4.4 2.8z" fill="#af804a"/>
<path d="M1111.1 1453l4.5-2.8-14.5-4.9-4.5 2.7z" fill="#af8c48"/>
<path class="e" d="M1097.1 1448.1L1101.5 1445.5"/>
<path d="M1201.3 1436.8l4.4-3-15.2-4.3-4.3 2.9z" fill="#b06b4d"/>
<path d="M1169.8 1443.4l4.4-2.9-15-4.5-4.3 2.9z" fill="#af784b"/>
<path d="M1138.3 1449.7l4.4-2.8-14.7-4.8-4.5 2.8z" fill="#af8449"/>
<path d="M1106.7 1455.6l4.5-2.8-14.5-5-4.5 2.8z" fill="#af9048"/>
<path class="e" d="M1092.6 1450.7L1097.1 1448.1"/>
<path d="M1197.1 1439.5l4.3-3-15.2-4.3-4.3 2.9z" fill="#b06f4c"/>
<path d="M1165.5 1446.1l4.4-2.9-15-4.6-4.4 2.9z" fill="#af7c4a"/>
<path d="M1133.9 1452.3l4.5-2.8-14.8-4.8-4.4 2.8z" fill="#af8849"/>
<path d="M1102.3 1458.2l4.5-2.8-14.5-5-4.6 2.8z" fill="#af9447"/>
<path class="e" d="M1088.2 1453.2L1092.6 1450.7"/>
<path d="M1192.8 1442.2l4.4-2.9-15.2-4.4-4.4 2.9z" fill="#af734c"/>
<path d="M1161.1 1448.8l4.5-2.9-15-4.6-4.4 2.8z" fill="#af804a"/>
<path d="M1129.5 1455l4.5-2.9-14.8-4.8-4.4 2.8z" fill="#af8c48"/>
<path d="M1097.8 1460.8l4.5-2.8-14.5-5.1-4.5 2.8z" fill="#ae9847"/>
<path class="e" d="M1083.7 1455.8L1088.2 1453.2"/>
<path d="M1220.2 1438l4.3-3-15.4-4.2-4.3 3z" fill="#b06a4d"/>
<path class="e" d="M1224.1 1435L1209.5 1431.1"/>
<path d="M1188.5 1444.9l4.4-2.9-15.2-4.4-4.4 2.9z" fill="#af774b"/>
<path d="M1156.8 1451.4l4.4-2.9-14.9-4.6-4.5 2.9z" fill="#af844a"/>
<path d="M1125.1 1457.6l4.5-2.9-14.8-4.8-4.5 2.8z" fill="#af9048"/>
<path d="M1093.3 1463.3l4.6-2.8-14.5-5-4.6 2.7z" fill="#ae9c46"/>
<path class="e" d="M1079.2 1458.3L1083.7 1455.8"/>
<path d="M1215.9 1440.7l4.4-3-15.5-4.2-4.3 3z" fill="#b06e4c"/>
<path d="M1184.2 1447.6l4.4-2.9-15.2-4.5-4.4 2.9z" fill="#af7b4b"/>
<path d="M1152.4 1454.1l4.5-2.9-15-4.6-4.4 2.8z" fill="#af8849"/>
<path d="M1120.6 1460.2l4.5-2.9-14.7-4.8-4.5 2.8z" fill="#af9448"/>
<path d="M1088.8 1465.9l4.6-2.8-14.5-5.1-4.6 2.8z" fill="#aea046"/>
<path class="e" d="M1074.7 1460.8L1079.2 1458.3"/>
<path d="M1211.7 1443.4l4.3-2.9-15.4-4.2-4.3 2.9z" fill="#b0724c"/>
<path d="M1179.9 1450.3l4.4-2.9-15.2-4.5-4.4 2.9z" fill="#af7f4a"/>
<path d="M1148 1456.7l4.5-2.8-15-4.7-4.4 2.8z" fill="#af8c49"/>
<path d="M1116.2 1462.8l4.5-2.8-14.7-4.9-4.6 2.8z" fill="#af9847"/>
<path d="M1084.3 1468.4l4.6-2.7-14.5-5.1-4.6 2.7z" fill="#aea346"/>
<path class="e" d="M1070.2 1463.4L1074.7 1460.8"/>
<path d="M1207.4 1446.2l4.3-3-15.4-4.2-4.3 2.9z" fill="#b0764c"/>
<path d="M1175.5 1453l4.4-2.9-15.1-4.5-4.5 2.9z" fill="#af834a"/>
<path d="M1143.6 1459.4l4.5-2.9-14.9-4.7-4.5 2.8z" fill="#af9048"/>
<path d="M1111.7 1465.4l4.6-2.8-14.8-5-4.5 2.8z" fill="#ae9c47"/>
<path d="M1079.7 1471l4.7-2.8-14.5-5.1-4.7 2.7z" fill="#aea745"/>
<path class="e" d="M1065.7 1465.9L1070.2 1463.4"/>
<path d="M1235 1441.8l4.3-3-15.6-4.1-4.3 3z" fill="#b06c4d"/>
<path class="e" d="M1238.9 1438.7L1224.1 1435"/>
<path d="M1203.1 1448.9l4.4-2.9-15.5-4.3-4.3 2.9z" fill="#af7a4b"/>
<path d="M1171.1 1455.6l4.5-2.9-15.2-4.5-4.4 2.9z" fill="#af874a"/>
<path d="M1139.2 1462l4.5-2.9-14.9-4.7-4.5 2.9z" fill="#af9448"/>
<path d="M1107.2 1468l4.6-2.8-14.7-5-4.6 2.8z" fill="#aea046"/>
<path d="M1230.7 1444.5l4.4-3-15.7-4-4.3 2.9z" fill="#b0714c"/>
<path d="M1075.2 1473.5l4.6-2.7-14.5-5.2-4.6 2.8z" fill="#aeab45"/>
<path class="e" d="M1061.1 1468.4L1065.7 1465.9"/>
<path d="M1198.8 1451.6l4.3-2.9-15.4-4.3-4.3 2.9z" fill="#af7e4b"/>
<path d="M1166.8 1458.3l4.4-2.9-15.1-4.5-4.5 2.9z" fill="#af8b49"/>
<path d="M1134.7 1464.6l4.6-2.8-15-4.8-4.5 2.9z" fill="#af9847"/>
<path d="M1102.7 1470.6l4.6-2.9-14.7-4.9-4.6 2.8z" fill="#aea446"/>
<path d="M1226.5 1447.3l4.3-3-15.6-4.1-4.4 3z" fill="#b0754c"/>
<path d="M1070.6 1476.1l4.7-2.8-14.5-5.2-4.7 2.8z" fill="#adae44"/>
<path class="e" d="M1056.6 1470.9L1061.1 1468.4"/>
<path d="M1194.4 1454.3l4.4-2.9-15.4-4.3-4.4 2.9z" fill="#af824a"/>
<path d="M1162.4 1461l4.4-2.9-15.1-4.5-4.5 2.8z" fill="#af8f49"/>
<path d="M1130.3 1467.3l4.5-2.9-14.9-4.8-4.5 2.9z" fill="#af9c47"/>
<path d="M1098.2 1473.1l4.6-2.8-14.7-5-4.6 2.8z" fill="#aea845"/>
<path d="M1222.2 1450l4.3-2.9-15.6-4.1-4.3 2.9z" fill="#b0794c"/>
<path d="M1066 1478.6l4.7-2.7-14.5-5.3-4.7 2.8z" fill="#a9ae44"/>
<path class="e" d="M1052 1473.4L1056.6 1470.9"/>
<path d="M1190.1 1457l4.4-2.9-15.4-4.3-4.4 2.9z" fill="#af864a"/>
<path d="M1157.9 1463.7l4.5-2.9-15.1-4.6-4.5 2.9z" fill="#af9348"/>
<path d="M1125.8 1469.9l4.6-2.9-15-4.8-4.5 2.9z" fill="#aea047"/>
<path d="M1093.6 1475.7l4.6-2.8-14.6-5-4.7 2.8z" fill="#aeab45"/>
<path d="M1250 1445.4l4.4-3-15.9-3.9-4.3 3z" fill="#b06f4d"/>
<path class="e" d="M1253.9 1442.4L1238.9 1438.7"/>
<path d="M1217.9 1452.8l4.4-3-15.7-4.1-4.3 2.9z" fill="#b07d4b"/>
<path d="M1061.4 1481.1l4.7-2.7-14.5-5.3-4.7 2.8z" fill="#a5ae43"/>
<path class="e" d="M1047.4 1475.9L1052 1473.4"/>
<path d="M1185.7 1459.8l4.4-3-15.3-4.3-4.5 2.9z" fill="#af8a49"/>
<path d="M1153.5 1466.3l4.5-2.9-15.1-4.6-4.5 2.9z" fill="#af9748"/>
<path d="M1121.3 1472.5l4.6-2.8-14.9-4.9-4.6 2.8z" fill="#aea446"/>
<path d="M1089 1478.3l4.7-2.8-14.7-5.1-4.6 2.8z" fill="#adae45"/>
<path d="M1245.8 1448.2l4.3-3-15.9-3.9-4.3 3z" fill="#b0734c"/>
<path d="M1213.6 1455.5l4.3-2.9-15.6-4.2-4.4 2.9z" fill="#af814b"/>
<path d="M1181.3 1462.5l4.5-3-15.4-4.4-4.5 2.9z" fill="#af8e49"/>
<path d="M1056.8 1483.7l4.7-2.8-14.5-5.3-4.7 2.8z" fill="#a1ae43"/>
<path class="e" d="M1042.8 1478.4L1047.4 1475.9"/>
<path d="M1149.1 1469l4.5-2.9-15.2-4.6-4.5 2.8z" fill="#af9b47"/>
<path d="M1116.8 1475.1l4.6-2.8-14.9-4.9-4.6 2.8z" fill="#aea746"/>
<path d="M1084.5 1480.8l4.6-2.8-14.6-5-4.7 2.7z" fill="#a9ae44"/>
<path d="M1241.5 1451l4.3-3-15.8-3.9-4.4 2.9z" fill="#b0774c"/>
<path d="M1209.2 1458.3l4.4-3-15.6-4.2-4.4 3z" fill="#af854a"/>
<path d="M1176.9 1465.2l4.5-3-15.4-4.4-4.5 2.9z" fill="#af9249"/>
<path d="M1052.1 1486.2l4.8-2.8-14.5-5.3-4.7 2.8z" fill="#9dae43"/>
<path class="e" d="M1038.1 1480.9L1042.8 1478.4"/>
<path d="M1144.6 1471.6l4.5-2.8-15.1-4.7-4.5 2.9z" fill="#af9f47"/>
<path d="M1112.2 1477.7l4.7-2.8-14.9-4.9-4.6 2.8z" fill="#aeab45"/>
<path d="M1079.9 1483.4l4.7-2.8-14.7-5.1-4.7 2.8z" fill="#a5ae44"/>
<path d="M1237.2 1453.8l4.4-3-15.9-4-4.3 3z" fill="#b07b4c"/>
<path d="M1204.9 1461l4.4-2.9-15.6-4.3-4.5 3z" fill="#af894a"/>
<path d="M1172.5 1467.8l4.5-2.9-15.4-4.4-4.5 2.9z" fill="#af9648"/>
<path d="M1047.4 1488.7l4.8-2.8-14.4-5.3-4.8 2.7z" fill="#99ae42"/>
<path class="e" d="M1033.4 1483.4L1038.1 1480.9"/>
<path d="M1140.1 1474.3l4.6-2.9-15.2-4.7-4.5 2.9z" fill="#aea347"/>
<path d="M1107.7 1480.3l4.6-2.8-14.9-4.9-4.6 2.8z" fill="#adae45"/>
<path d="M1265.3 1449l4.3-3-16.1-3.8-4.3 3z" fill="#b0704d"/>
<path class="e" d="M1269.2 1445.9L1253.9 1442.4"/>
<path d="M1232.9 1456.6l4.4-3-15.9-4-4.4 2.9z" fill="#b07f4b"/>
<path d="M1075.2 1485.9l4.8-2.7-14.7-5.2-4.7 2.8z" fill="#a1ae43"/>
<path d="M1200.5 1463.7l4.4-2.9-15.6-4.2-4.4 2.9z" fill="#af8d49"/>
<path d="M1168.1 1470.5l4.5-2.9-15.4-4.5-4.5 2.9z" fill="#af9a48"/>
<path d="M1042.7 1491.2l4.8-2.7-14.4-5.4-4.8 2.7z" fill="#96ae42"/>
<path class="e" d="M1028.8 1485.9L1033.4 1483.4"/>
<path d="M1135.6 1476.9l4.6-2.8-15.1-4.8-4.6 2.9z" fill="#aea746"/>
<path d="M1103.1 1482.9l4.7-2.8-14.9-4.9-4.7 2.7z" fill="#a9ae45"/>
<path d="M1261.1 1451.8l4.3-3-16.1-3.8-4.4 3z" fill="#b0744c"/>
<path d="M1228.6 1459.3l4.4-2.9-15.9-4.1-4.4 3z" fill="#b0834b"/>
<path d="M1070.6 1488.5l4.7-2.8-14.6-5.1-4.7 2.7z" fill="#9dae43"/>
<path d="M1196.1 1466.5l4.5-3-15.7-4.2-4.4 2.9z" fill="#af9149"/>
<path d="M1163.6 1473.2l4.5-2.9-15.3-4.5-4.6 2.9z" fill="#af9e47"/>
<path d="M1038 1493.7l4.8-2.7-14.4-5.4-4.8 2.7z" fill="#92ae41"/>
<path class="e" d="M1024.1 1488.4L1028.8 1485.9"/>
<path d="M1131.1 1479.5l4.6-2.8-15.1-4.7-4.6 2.8z" fill="#aeab46"/>
<path d="M1098.5 1485.5l4.7-2.8-14.9-5-4.6 2.8z" fill="#a5ae44"/>
<path d="M1256.8 1454.6l4.3-3-16.1-3.8-4.3 3z" fill="#b0784c"/>
<path d="M1224.2 1462.1l4.4-3-15.8-4-4.4 2.9z" fill="#af874a"/>
<path d="M1065.9 1491l4.8-2.7-14.6-5.2-4.8 2.7z" fill="#99ae43"/>
<path d="M1191.7 1469.2l4.5-2.9-15.6-4.3-4.5 2.9z" fill="#af9549"/>
<path d="M1159.1 1475.9l4.6-2.9-15.4-4.5-4.5 2.8z" fill="#afa247"/>
<path d="M1033.3 1496.2l4.8-2.7-14.4-5.4-4.8 2.7z" fill="#8eae41"/>
<path class="e" d="M1019.3 1490.8L1024.1 1488.4"/>
<path d="M1126.5 1482.2l4.7-2.9-15.1-4.7-4.7 2.8z" fill="#aeae45"/>
<path d="M1093.9 1488.1l4.7-2.8-14.8-5-4.7 2.8z" fill="#a1ae44"/>
<path d="M1252.5 1457.4l4.3-3-16.1-3.8-4.3 2.9z" fill="#b07c4b"/>
<path d="M1219.9 1464.9l4.4-3-15.8-4.1-4.5 2.9z" fill="#af8b4a"/>
<path d="M1061.3 1493.6l4.7-2.8-14.6-5.2-4.8 2.7z" fill="#95ae42"/>
<path d="M1187.3 1471.9l4.5-2.9-15.6-4.3-4.5 2.9z" fill="#af9948"/>
<path d="M1154.6 1478.6l4.6-2.9-15.3-4.6-4.6 2.9z" fill="#afa646"/>
<path d="M1028.6 1498.7l4.8-2.7-14.4-5.5-4.8 2.7z" fill="#8aae41"/>
<path class="e" d="M1014.6 1493.3L1019.3 1490.8"/>
<path d="M1122 1484.8l4.6-2.8-15.1-4.8-4.6 2.8z" fill="#aaae45"/>
<path d="M1089.3 1490.6l4.7-2.8-14.8-5-4.8 2.8z" fill="#9dae43"/>
<path d="M1280.8 1452.4l4.3-3-16.3-3.7-4.3 3.1z" fill="#b0724d"/>
<path class="e" d="M1284.7 1449.4L1269.2 1445.9"/>
<path d="M1248.2 1460.2l4.3-3-16.1-3.9-4.3 3z" fill="#b0804b"/>
<path d="M1215.5 1467.6l4.4-2.9-15.8-4.2-4.4 3z" fill="#af8f49"/>
<path d="M1182.8 1474.6l4.5-2.9-15.6-4.4-4.5 2.9z" fill="#af9d48"/>
<path d="M1056.6 1496.1l4.8-2.8-14.7-5.2-4.8 2.7z" fill="#91ae42"/>
<path d="M1150.1 1481.2l4.6-2.9-15.3-4.5-4.6 2.8z" fill="#aeaa46"/>
<path d="M1023.8 1501.1l4.9-2.7-14.4-5.4-4.9 2.7z" fill="#86ae40"/>
<path class="e" d="M1009.8 1495.7L1014.6 1493.3"/>
<path d="M1117.4 1487.4l4.7-2.8-15.1-4.8-4.7 2.8z" fill="#a6ae44"/>
<path d="M1084.7 1493.2l4.7-2.8-14.9-5-4.7 2.8z" fill="#99ae43"/>
<path d="M1276.6 1455.3l4.3-3.1-16.4-3.7-4.3 3.1z" fill="#b0764c"/>
<path d="M1243.8 1463l4.4-3-16.1-3.9-4.4 3z" fill="#b0844b"/>
<path d="M1211.1 1470.4l4.5-3-15.9-4.1-4.4 2.9z" fill="#af9349"/>
<path d="M1178.4 1477.3l4.5-2.9-15.6-4.4-4.5 2.9z" fill="#afa047"/>
<path d="M1051.9 1498.6l4.8-2.7-14.7-5.3-4.8 2.7z" fill="#8dae41"/>
<path d="M1145.6 1483.9l4.6-2.9-15.3-4.6-4.6 2.8z" fill="#aeae46"/>
<path d="M1112.8 1490l4.7-2.8-15.1-4.8-4.7 2.8z" fill="#a2ae44"/>
<path d="M1019 1503.6l4.9-2.7-14.4-5.5-4.9 2.7z" fill="#82ae40"/>
<path class="e" d="M1005.1 1498.2L1009.8 1495.7"/>
<path d="M1272.3 1458.1l4.3-3-16.3-3.7-4.4 3z" fill="#b07a4c"/>
<path d="M1080 1495.8l4.7-2.8-14.8-5.1-4.8 2.8z" fill="#95ae42"/>
<path d="M1239.5 1465.8l4.4-3-16.1-3.9-4.4 2.9z" fill="#b0884a"/>
<path d="M1206.7 1473.1l4.5-2.9-15.9-4.2-4.4 2.9z" fill="#af9748"/>
<path d="M1173.9 1480l4.5-2.9-15.5-4.4-4.6 2.9z" fill="#afa447"/>
<path d="M1047.1 1501.1l4.9-2.7-14.7-5.3-4.8 2.7z" fill="#8aae41"/>
<path d="M1141.1 1486.5l4.6-2.8-15.3-4.7-4.7 2.9z" fill="#abae45"/>
<path d="M1108.2 1492.6l4.7-2.8-15.1-4.9-4.7 2.8z" fill="#9eae44"/>
<path d="M1014.2 1506.1l4.9-2.7-14.4-5.5-4.9 2.7z" fill="#7fae3f"/>
<path class="e" d="M1000.3 1500.6L1005.1 1498.2"/>
<path d="M1268 1460.9l4.3-3-16.3-3.7-4.4 3z" fill="#b07e4b"/>
<path d="M1235.1 1468.6l4.4-3-16-4-4.5 3z" fill="#af8c4a"/>
<path d="M1075.3 1498.3l4.8-2.7-14.9-5.1-4.7 2.7z" fill="#91ae42"/>
<path d="M1202.3 1475.9l4.5-3-15.9-4.2-4.5 2.9z" fill="#af9b48"/>
<path d="M1169.4 1482.7l4.6-2.9-15.6-4.4-4.6 2.9z" fill="#afa846"/>
<path d="M1042.4 1503.6l4.8-2.7-14.6-5.3-4.8 2.7z" fill="#86ae40"/>
<path d="M1136.5 1489.2l4.6-2.9-15.3-4.7-4.6 2.9z" fill="#a7ae45"/>
<path d="M1103.6 1495.2l4.7-2.8-15.1-4.9-4.7 2.8z" fill="#9aae43"/>
<path d="M1009.4 1508.6l4.9-2.7-14.4-5.6-4.9 2.7z" fill="#7bad3f"/>
<path class="e" d="M995.4 1503.1L1000.3 1500.6"/>
<path d="M1296.6 1455.7l4.3-3-16.6-3.6-4.3 3.1z" fill="#b0724d"/>
<path class="e" d="M1300.4 1452.6L1284.7 1449.4"/>
<path d="M1263.7 1463.8l4.3-3.1-16.3-3.7-4.4 3z" fill="#b0824b"/>
<path d="M1230.7 1471.4l4.5-3-16.1-4-4.4 3z" fill="#af9049"/>
<path d="M1070.6 1500.9l4.8-2.8-14.8-5.1-4.8 2.8z" fill="#8eae42"/>
<path d="M1197.8 1478.6l4.5-3-15.8-4.2-4.5 2.9z" fill="#af9f48"/>
<path d="M1164.9 1485.4l4.6-2.9-15.6-4.5-4.6 2.9z" fill="#afac46"/>
<path d="M1037.6 1506.2l4.9-2.8-14.6-5.3-4.9 2.7z" fill="#82ae40"/>
<path d="M1131.9 1491.8l4.7-2.8-15.3-4.7-4.7 2.8z" fill="#a3ae44"/>
<path d="M1098.9 1497.8l4.8-2.8-15.1-4.9-4.7 2.8z" fill="#96ae43"/>
<path d="M1004.5 1511l5-2.7-14.4-5.5-4.9 2.6z" fill="#77ad3e"/>
<path class="e" d="M990.6 1505.5L995.4 1503.1"/>
<path d="M1292.3 1458.6l4.3-3.1-16.6-3.5-4.3 3z" fill="#b0764c"/>
<path d="M1259.3 1466.6l4.4-3-16.3-3.8-4.4 3z" fill="#b0864b"/>
<path d="M1226.3 1474.2l4.5-3-16.1-4-4.4 2.9z" fill="#af9449"/>
<path d="M1065.9 1503.4l4.8-2.7-14.8-5.2-4.8 2.8z" fill="#8aae41"/>
<path d="M1193.4 1481.3l4.5-2.9-15.8-4.3-4.6 2.9z" fill="#afa347"/>
<path d="M1160.3 1488.1l4.7-2.9-15.6-4.5-4.6 2.9z" fill="#adae46"/>
<path d="M1032.8 1508.7l4.9-2.8-14.6-5.3-4.9 2.7z" fill="#7eae40"/>
<path d="M1127.3 1494.5l4.7-2.9-15.3-4.7-4.7 2.8z" fill="#9fae44"/>
<path d="M1094.3 1500.4l4.7-2.8-15.1-4.9-4.7 2.8z" fill="#92ae42"/>
<path d="M1288 1461.5l4.4-3.1-16.6-3.6-4.4 3.1z" fill="#b07b4c"/>
<path d="M999.6 1513.5l5-2.7-14.3-5.6-5 2.7z" fill="#73ad3e"/>
<path class="e" d="M985.7 1507.9L990.6 1505.5"/>
<path d="M1255 1469.4l4.4-3-16.3-3.8-4.5 3z" fill="#b08a4a"/>
<path d="M1221.9 1476.9l4.5-3-16.1-4-4.4 3z" fill="#af9848"/>
<path d="M1188.9 1484l4.5-2.9-15.8-4.3-4.5 2.9z" fill="#afa747"/>
<path d="M1061.1 1506l4.9-2.8-14.8-5.1-4.9 2.7z" fill="#86ae41"/>
<path d="M1155.8 1490.8l4.6-2.9-15.5-4.5-4.7 2.8z" fill="#a9ae45"/>
<path d="M1028 1511.1l4.9-2.7-14.6-5.4-4.9 2.7z" fill="#7aad3f"/>
<path d="M1122.7 1497.1l4.7-2.9-15.3-4.7-4.7 2.8z" fill="#9bae44"/>
<path d="M1089.6 1503l4.7-2.8-15-5-4.8 2.8z" fill="#8eae42"/>
<path d="M1283.7 1464.3l4.4-3-16.6-3.6-4.4 3z" fill="#b07f4b"/>
<path d="M1250.6 1472.2l4.4-3-16.3-3.8-4.4 2.9z" fill="#b08e4a"/>
<path d="M994.7 1515.9l5-2.7-14.3-5.6-5 2.7z" fill="#70ad3e"/>
<path class="e" d="M980.9 1510.4L985.7 1507.9"/>
<path d="M1217.5 1479.7l4.5-3-16.1-4.1-4.5 3z" fill="#af9c48"/>
<path d="M1184.4 1486.8l4.5-3-15.8-4.3-4.5 2.9z" fill="#afaa46"/>
<path d="M1056.4 1508.5l4.8-2.7-14.8-5.2-4.8 2.7z" fill="#82ae40"/>
<path d="M1151.2 1493.4l4.7-2.8-15.6-4.6-4.6 2.9z" fill="#a5ae45"/>
<path d="M1023.1 1513.6l5-2.7-14.6-5.4-4.9 2.7z" fill="#76ad3f"/>
<path d="M1118.1 1499.7l4.7-2.8-15.3-4.8-4.7 2.8z" fill="#97ae43"/>
<path d="M1279.4 1467.2l4.4-3.1-16.6-3.6-4.4 3z" fill="#b0834b"/>
<path d="M1084.9 1505.6l4.7-2.8-15-5-4.8 2.8z" fill="#8aae41"/>
<path d="M1312.6 1458.9l4.3-3.1-16.9-3.4-4.3 3.1z" fill="#b1734d"/>
<path class="e" d="M1316.5 1455.8L1300.4 1452.6"/>
<path d="M1246.2 1475l4.5-3-16.4-3.9-4.4 3z" fill="#b09249"/>
<path d="M989.8 1518.4l5-2.7-14.3-5.6-5 2.6z" fill="#6cad3d"/>
<path class="e" d="M975.9 1512.8L980.9 1510.4"/>
<path d="M1213 1482.4l4.6-2.9-16.1-4.1-4.5 2.9z" fill="#afa048"/>
<path d="M1179.9 1489.5l4.5-2.9-15.8-4.4-4.5 2.9z" fill="#afae46"/>
<path d="M1051.6 1511.1l4.9-2.8-14.8-5.2-4.9 2.7z" fill="#7eae40"/>
<path d="M1146.6 1496.1l4.7-2.9-15.5-4.5-4.7 2.8z" fill="#a1ae44"/>
<path d="M1113.4 1502.3l4.7-2.8-15.3-4.8-4.7 2.8z" fill="#93ae43"/>
<path d="M1018.3 1516.1l4.9-2.7-14.5-5.4-5 2.7z" fill="#73ad3e"/>
<path d="M1308.3 1461.8l4.3-3.1-16.8-3.4-4.3 3.1z" fill="#b1774c"/>
<path d="M1275.1 1470l4.4-3-16.6-3.7-4.4 3z" fill="#b0874b"/>
<path d="M1080.1 1508.2l4.8-2.8-15-5.1-4.8 2.8z" fill="#86ae41"/>
<path d="M1241.8 1477.8l4.5-3-16.3-3.9-4.5 3z" fill="#af9649"/>
<path d="M1208.6 1485.2l4.5-3-16-4.1-4.6 3z" fill="#afa447"/>
<path d="M984.9 1520.8l5-2.7-14.3-5.6-5 2.6z" fill="#68ad3d"/>
<path class="e" d="M971 1515.2L975.9 1512.8"/>
<path d="M1175.3 1492.2l4.6-2.9-15.8-4.4-4.6 2.9z" fill="#abaf45"/>
<path d="M1046.8 1513.6l4.9-2.8-14.8-5.2-4.9 2.7z" fill="#7aae3f"/>
<path d="M1142 1498.8l4.7-2.9-15.5-4.6-4.7 2.9z" fill="#9dae44"/>
<path d="M1108.7 1504.9l4.8-2.8-15.3-4.8-4.8 2.8z" fill="#8fae42"/>
<path d="M1013.4 1518.6l5-2.7-14.6-5.5-5 2.7z" fill="#6fad3e"/>
<path d="M1304 1464.7l4.4-3.1-16.9-3.4-4.3 3z" fill="#b07b4c"/>
<path d="M1270.7 1472.8l4.4-3-16.6-3.7-4.4 3.1z" fill="#b08b4a"/>
<path d="M1237.4 1480.6l4.5-3-16.3-3.9-4.5 3z" fill="#af9a48"/>
<path d="M1075.4 1510.7l4.8-2.8-15-5-4.9 2.8z" fill="#82ae41"/>
<path d="M1204.1 1488l4.5-3-16-4.2-4.6 3z" fill="#afa847"/>
<path d="M979.9 1523.2l5.1-2.6-14.3-5.7-5.1 2.6z" fill="#65ad3c"/>
<path class="e" d="M966.1 1517.6L971 1515.2"/>
<path d="M1170.8 1494.9l4.6-2.9-15.8-4.4-4.6 2.9z" fill="#a7ae45"/>
<path d="M1042 1516.1l4.9-2.7-14.8-5.3-4.9 2.7z" fill="#76ad3f"/>
<path d="M1137.4 1501.4l4.7-2.8-15.5-4.7-4.7 2.9z" fill="#99ae43"/>
<path d="M1104 1507.6l4.8-2.9-15.3-4.8-4.7 2.8z" fill="#8bae42"/>
<path d="M1008.5 1521.1l5-2.7-14.5-5.5-5 2.7z" fill="#6bad3d"/>
<path d="M1299.7 1467.6l4.4-3.1-16.9-3.5-4.3 3.1z" fill="#b07f4b"/>
<path d="M1266.3 1475.7l4.5-3.1-16.6-3.6-4.4 3z" fill="#b08f4a"/>
<path d="M1233 1483.4l4.5-3-16.3-3.9-4.5 2.9z" fill="#af9e48"/>
<path d="M1070.6 1513.3l4.9-2.8-15.1-5.1-4.8 2.8z" fill="#7fae40"/>
<path d="M1199.6 1490.7l4.6-3-16.1-4.1-4.6 2.9z" fill="#afac46"/>
<path d="M975 1525.6l5-2.6-14.3-5.7-5 2.6z" fill="#61ad3c"/>
<path class="e" d="M961.1 1520L966.1 1517.6"/>
<path d="M1166.2 1497.6l4.6-2.9-15.8-4.4-4.6 2.9z" fill="#a3ae45"/>
<path d="M1037.1 1518.6l5-2.7-14.8-5.3-5 2.7z" fill="#73ad3f"/>
<path d="M1132.8 1504.1l4.7-2.9-15.5-4.6-4.8 2.8z" fill="#95ae43"/>
<path d="M1099.3 1510.2l4.8-2.9-15.3-4.8-4.8 2.8z" fill="#87ae41"/>
<path d="M1003.6 1523.5l5-2.7-14.5-5.5-5.1 2.7z" fill="#68ad3d"/>
<path d="M1295.4 1470.4l4.4-3-16.9-3.5-4.3 3z" fill="#b0834b"/>
<path d="M1328.9 1461.9l4.3-3.1-17.1-3.2-4.4 3.1z" fill="#b1734d"/>
<path class="e" d="M1332.7 1458.8L1316.5 1455.8"/>
<path d="M1262 1478.5l4.4-3-16.6-3.7-4.4 3z" fill="#b09349"/>
<path d="M1228.5 1486.2l4.5-3-16.3-4-4.5 3z" fill="#afa248"/>
<path d="M1065.8 1515.8l4.9-2.7-15-5.1-4.9 2.7z" fill="#7bae40"/>
<path d="M1195.1 1493.4l4.6-2.9-16.1-4.2-4.6 2.9z" fill="#adaf46"/>
<path d="M1161.6 1500.3l4.7-2.9-15.8-4.5-4.7 2.9z" fill="#9fae44"/>
<path d="M970 1528.1l5.1-2.7-14.3-5.7-5.1 2.6z" fill="#5dad3c"/>
<path class="e" d="M956.1 1522.4L961.1 1520"/>
<path d="M1032.3 1521.1l4.9-2.7-14.8-5.3-4.9 2.7z" fill="#6fad3e"/>
<path d="M1128.1 1506.7l4.7-2.8-15.5-4.7-4.7 2.8z" fill="#91ae43"/>
<path d="M1094.6 1512.8l4.8-2.9-15.3-4.9-4.8 2.8z" fill="#83ae41"/>
<path d="M1291.1 1473.3l4.4-3.1-16.9-3.5-4.4 3.1z" fill="#b0874b"/>
<path d="M998.6 1526l5.1-2.7-14.5-5.5-5.1 2.6z" fill="#64ad3d"/>
<path d="M1324.6 1464.9l4.3-3.2-17.1-3.2-4.3 3.1z" fill="#b1774c"/>
<path d="M1257.6 1481.3l4.4-3-16.6-3.7-4.4 3z" fill="#b09749"/>
<path d="M1224 1489l4.6-3-16.3-4-4.6 2.9z" fill="#afa647"/>
<path d="M1190.5 1496.2l4.6-3-16-4.2-4.6 2.9z" fill="#a9af45"/>
<path d="M1061 1518.4l4.9-2.8-15-5.1-4.9 2.7z" fill="#77ae3f"/>
<path d="M1157 1503l4.7-2.9-15.8-4.5-4.7 2.9z" fill="#9bae44"/>
<path d="M964.9 1530.5l5.2-2.7-14.3-5.7-5.1 2.6z" fill="#5aad3b"/>
<path class="e" d="M951.1 1524.8L956.1 1522.4"/>
<path d="M1027.4 1523.6l5-2.7-14.8-5.4-5 2.7z" fill="#6bad3e"/>
<path d="M1123.4 1509.4l4.8-2.9-15.5-4.7-4.8 2.8z" fill="#8dae42"/>
<path d="M1089.8 1515.4l4.9-2.9-15.3-4.9-4.8 2.8z" fill="#7fae41"/>
<path d="M1286.7 1476.2l4.4-3.1-16.8-3.5-4.4 3z" fill="#b08b4a"/>
<path d="M1320.3 1467.8l4.4-3.1-17.2-3.3-4.3 3.1z" fill="#b17b4c"/>
<path d="M1253.1 1484.2l4.5-3.1-16.6-3.7-4.4 3z" fill="#af9b48"/>
<path d="M993.7 1528.5l5-2.7-14.5-5.6-5 2.7z" fill="#60ad3c"/>
<path d="M1219.6 1491.7l4.5-2.9-16.3-4.1-4.5 3z" fill="#afaa47"/>
<path d="M1186 1498.9l4.6-2.9-16-4.3-4.7 2.9z" fill="#a5af45"/>
<path d="M1056.2 1520.9l4.9-2.7-15-5.2-4.9 2.8z" fill="#73ad3f"/>
<path d="M1152.4 1505.7l4.7-2.9-15.8-4.5-4.7 2.8z" fill="#97ae43"/>
<path d="M959.9 1532.9l5.1-2.7-14.2-5.7-5.2 2.6z" fill="#56ad3b"/>
<path class="e" d="M946.1 1527.1L951.1 1524.8"/>
<path d="M1022.5 1526.1l5-2.7-14.8-5.4-5 2.7z" fill="#67ad3d"/>
<path d="M1118.7 1512l4.8-2.8-15.5-4.8-4.8 2.9z" fill="#89ae42"/>
<path d="M1282.3 1479l4.5-3-16.9-3.6-4.4 3.1z" fill="#b08f4a"/>
<path d="M1316 1470.7l4.4-3.1-17.2-3.3-4.3 3z" fill="#b17f4b"/>
<path d="M1085 1517.9l4.9-2.8-15.2-4.9-4.9 2.8z" fill="#7cae40"/>
<path d="M1248.7 1487l4.5-3-16.6-3.8-4.5 2.9z" fill="#af9f48"/>
<path d="M988.7 1530.9l5.1-2.7-14.5-5.6-5.1 2.7z" fill="#5cad3c"/>
<path d="M1215 1494.5l4.6-3-16.3-4-4.5 2.9z" fill="#afae46"/>
<path d="M1181.4 1501.6l4.6-2.9-16-4.3-4.6 2.9z" fill="#a1ae45"/>
<path d="M1051.3 1523.5l5-2.8-15-5.2-5 2.8z" fill="#6fad3f"/>
<path d="M1147.7 1508.3l4.7-2.9-15.7-4.5-4.7 2.9z" fill="#93ae43"/>
<path d="M954.8 1535.3l5.2-2.6-14.3-5.9-5.1 2.6z" fill="#52ad3a"/>
<path class="e" d="M941 1529.5L946.1 1527.1"/>
<path d="M1114 1514.6l4.8-2.8-15.5-4.8-4.8 2.9z" fill="#85ae41"/>
<path d="M1017.5 1528.6l5.1-2.7-14.8-5.4-5 2.7z" fill="#64ad3d"/>
<path d="M1311.7 1473.6l4.4-3.1-17.2-3.4-4.3 3.1z" fill="#b0834b"/>
<path d="M1278 1481.9l4.4-3.1-16.8-3.5-4.5 3z" fill="#b09349"/>
<path d="M1345.4 1464.8l4.3-3.1-17.4-3.1-4.3 3.1z" fill="#b1734d"/>
<path class="e" d="M1349.3 1461.7L1332.7 1458.8"/>
<path d="M1080.2 1520.5l4.9-2.8-15.2-5-4.9 2.8z" fill="#78ae40"/>
<path d="M1244.2 1489.8l4.6-3-16.6-3.9-4.5 3z" fill="#afa348"/>
<path d="M1210.5 1497.3l4.6-3-16.3-4.1-4.6 3z" fill="#acaf46"/>
<path d="M983.7 1533.4l5.1-2.7-14.5-5.7-5.1 2.7z" fill="#59ad3b"/>
<path d="M1176.8 1504.3l4.7-2.9-16.1-4.3-4.6 2.9z" fill="#9dae44"/>
<path d="M1046.4 1526l5-2.7-15-5.2-4.9 2.7z" fill="#6bad3e"/>
<path d="M1143 1511l4.8-2.9-15.8-4.5-4.7 2.8z" fill="#8fae43"/>
<path d="M949.7 1537.7l5.2-2.6-14.2-5.9-5.2 2.6z" fill="#4fad3a"/>
<path class="e" d="M935.9 1531.9L941 1529.5"/>
<path d="M1109.3 1517.3l4.8-2.9-15.5-4.8-4.8 2.9z" fill="#81ae41"/>
<path d="M1012.6 1531.1l5-2.7-14.7-5.4-5.1 2.6z" fill="#60ad3d"/>
<path d="M1307.3 1476.5l4.4-3.1-17.1-3.4-4.4 3.1z" fill="#b0874b"/>
<path d="M1273.5 1484.7l4.5-3-16.8-3.6-4.5 3z" fill="#b09749"/>
<path d="M1341.2 1467.8l4.3-3.1-17.4-3.2-4.3 3.2z" fill="#b1774c"/>
<path d="M1239.8 1492.6l4.5-3-16.6-3.9-4.5 3z" fill="#afa747"/>
<path d="M1075.4 1523.1l4.9-2.8-15.2-5-4.9 2.8z" fill="#74ae3f"/>
<path d="M1206 1500l4.6-2.9-16.3-4.1-4.6 2.9z" fill="#a8af45"/>
<path d="M978.6 1535.8l5.2-2.7-14.5-5.6-5.1 2.6z" fill="#55ad3b"/>
<path d="M1172.2 1507.1l4.7-3-16.1-4.3-4.6 2.9z" fill="#99ae44"/>
<path d="M1041.5 1528.6l5-2.8-14.9-5.2-5 2.7z" fill="#68ad3e"/>
<path d="M1138.4 1513.7l4.7-2.9-15.7-4.6-4.8 2.9z" fill="#8bae42"/>
<path d="M944.6 1540.1l5.2-2.7-14.2-5.8-5.2 2.6z" fill="#4bad39"/>
<path class="e" d="M930.8 1534.2L935.9 1531.9"/>
<path d="M1104.5 1519.9l4.8-2.9-15.5-4.8-4.8 2.8z" fill="#7dae40"/>
<path d="M1007.6 1533.6l5.1-2.7-14.8-5.5-5 2.7z" fill="#5cad3c"/>
<path d="M1303 1479.4l4.4-3.1-17.1-3.4-4.4 3.1z" fill="#b08b4a"/>
<path d="M1269.1 1487.6l4.5-3.1-16.8-3.6-4.5 3z" fill="#b09b48"/>
<path d="M1336.9 1470.7l4.3-3.1-17.4-3.1-4.3 3.1z" fill="#b17b4c"/>
<path d="M1235.3 1495.4l4.5-3-16.5-3.9-4.6 3z" fill="#afaa47"/>
<path d="M1070.6 1525.7l4.9-2.8-15.2-5.1-4.9 2.8z" fill="#70ae3f"/>
<path d="M1201.4 1502.8l4.6-3-16.2-4.1-4.7 2.9z" fill="#a4af45"/>
<path d="M973.6 1538.2l5.1-2.6-14.4-5.7-5.2 2.6z" fill="#52ad3b"/>
<path d="M1167.5 1509.8l4.7-3-16-4.3-4.7 2.9z" fill="#95ae43"/>
<path d="M1036.6 1531.1l5-2.8-14.9-5.2-5 2.7z" fill="#64ad3d"/>
<path d="M1133.6 1516.3l4.8-2.8-15.7-4.6-4.8 2.8z" fill="#87ae42"/>
<path d="M939.5 1542.5l5.2-2.7-14.2-5.9-5.3 2.6z" fill="#48ad39"/>
<path class="e" d="M925.7 1536.6L930.8 1534.2"/>
<path d="M1099.7 1522.5l4.9-2.8-15.5-4.9-4.9 2.8z" fill="#79ae40"/>
<path d="M1002.6 1536.1l5.1-2.7-14.7-5.5-5.1 2.6z" fill="#59ad3c"/>
<path d="M1298.6 1482.3l4.4-3.1-17.1-3.4-4.4 3z" fill="#b08f4a"/>
<path d="M1332.6 1473.7l4.3-3.2-17.4-3.1-4.3 3.1z" fill="#b17f4b"/>
<path d="M1264.7 1490.4l4.5-3-16.9-3.7-4.4 3z" fill="#b09f48"/>
<path d="M1230.8 1498.2l4.5-3-16.5-3.9-4.6 3z" fill="#afae46"/>
<path d="M1065.7 1528.3l5-2.8-15.2-5.1-5 2.8z" fill="#6cad3e"/>
<path d="M1196.8 1505.5l4.7-2.9-16.3-4.2-4.6 3z" fill="#a0af45"/>
<path d="M1162.9 1512.5l4.7-2.9-16-4.4-4.7 2.9z" fill="#91ae43"/>
<path d="M968.5 1540.7l5.2-2.7-14.5-5.7-5.2 2.6z" fill="#4ead3a"/>
<path d="M1031.7 1533.6l5-2.7-14.9-5.3-5.1 2.7z" fill="#60ad3d"/>
<path d="M1128.9 1519l4.8-2.9-15.7-4.6-4.8 2.8z" fill="#83ae41"/>
<path d="M1094.9 1525.1l4.9-2.8-15.5-4.9-4.9 2.8z" fill="#75ae40"/>
<path d="M934.3 1544.8l5.3-2.6-14.2-5.9-5.3 2.6z" fill="#44ad39"/>
<path class="e" d="M920.5 1538.9L925.7 1536.6"/>
<path d="M1294.2 1485.1l4.5-3-17.2-3.5-4.4 3.1z" fill="#b09349"/>
<path d="M997.6 1538.5l5.1-2.7-14.7-5.5-5.1 2.7z" fill="#55ad3b"/>
<path d="M1328.2 1476.6l4.4-3.1-17.4-3.2-4.4 3.1z" fill="#b1834b"/>
<path d="M1260.2 1493.3l4.5-3.1-16.8-3.7-4.5 3.1z" fill="#afa347"/>
<path d="M1362.3 1467.6l4.3-3.1-17.7-3-4.3 3.2z" fill="#b1724d"/>
<path class="e" d="M1366.1 1464.5L1349.3 1461.7"/>
<path d="M1226.2 1501l4.6-3-16.5-4-4.6 3z" fill="#acaf46"/>
<path d="M1192.2 1508.3l4.7-3-16.3-4.2-4.6 3z" fill="#9caf44"/>
<path d="M1060.8 1530.8l5-2.8-15.2-5.1-5 2.8z" fill="#69ad3e"/>
<path d="M1158.2 1515.2l4.8-2.9-16-4.5-4.8 2.9z" fill="#8dae42"/>
<path d="M963.4 1543.1l5.2-2.7-14.4-5.7-5.2 2.6z" fill="#4aad3a"/>
<path d="M1026.7 1536.1l5.1-2.7-15-5.4-5 2.8z" fill="#5dad3c"/>
<path d="M1124.2 1521.6l4.8-2.8-15.7-4.7-4.9 2.9z" fill="#7fae41"/>
<path d="M1090.1 1527.7l4.9-2.8-15.5-4.9-4.9 2.8z" fill="#71ae3f"/>
<path d="M1289.8 1488l4.5-3.1-17.1-3.4-4.5 3z" fill="#b09749"/>
<path d="M1323.9 1479.5l4.4-3.1-17.4-3.2-4.4 3.1z" fill="#b1874b"/>
<path d="M929.1 1547.2l5.3-2.6-14.2-6-5.3 2.6z" fill="#41ad38"/>
<path class="e" d="M915.4 1541.3L920.5 1538.9"/>
<path d="M1255.7 1496.1l4.6-3-16.8-3.8-4.6 3.1z" fill="#afa747"/>
<path d="M1358 1470.6l4.3-3.2-17.7-2.9-4.3 3.1z" fill="#b1764c"/>
<path d="M992.5 1541l5.2-2.7-14.7-5.5-5.1 2.6z" fill="#51ad3b"/>
<path d="M1221.7 1503.8l4.6-3-16.6-4-4.6 3z" fill="#a8af45"/>
<path d="M1187.6 1511l4.7-2.9-16.3-4.2-4.7 2.9z" fill="#98ae44"/>
<path d="M1055.9 1533.4l5-2.8-15.2-5.1-5 2.7z" fill="#65ad3e"/>
<path d="M1153.5 1517.9l4.8-2.9-16-4.5-4.8 2.9z" fill="#89ae42"/>
<path d="M958.3 1545.5l5.2-2.7-14.4-5.7-5.3 2.6z" fill="#47ad39"/>
<path d="M1021.7 1538.6l5.1-2.7-14.9-5.4-5.1 2.7z" fill="#59ad3c"/>
<path d="M1119.4 1524.3l4.8-2.9-15.7-4.7-4.8 2.9z" fill="#7bae40"/>
<path d="M1285.4 1490.9l4.5-3.1-17.1-3.5-4.5 3.1z" fill="#b09b48"/>
<path d="M1319.5 1482.4l4.4-3.1-17.4-3.2-4.4 3.1z" fill="#b08b4a"/>
<path d="M1085.2 1530.3l5-2.8-15.5-4.9-4.9 2.8z" fill="#6eae3f"/>
<path d="M1251.2 1498.9l4.6-3-16.8-3.7-4.6 3z" fill="#afab47"/>
<path d="M1353.7 1473.5l4.3-3.1-17.7-3-4.3 3.1z" fill="#b17a4c"/>
<path d="M923.9 1549.6l5.3-2.6-14.2-6-5.3 2.6z" fill="#3dad38"/>
<path class="e" d="M923.6 1549.3L910.2 1543.6"/>
<path class="e" d="M910.2 1543.6L915.4 1541.3"/>
<path d="M987.5 1543.5l5.1-2.7-14.6-5.6-5.2 2.7z" fill="#4ead3a"/>
<path d="M1217.1 1506.6l4.6-3-16.5-4-4.6 2.9z" fill="#a3af45"/>
<path d="M1183 1513.8l4.7-3-16.3-4.2-4.7 2.9z" fill="#94ae43"/>
<path d="M1051 1535.9l5-2.8-15.2-5.1-5 2.7z" fill="#61ad3d"/>
<path d="M1148.8 1520.6l4.8-2.9-16-4.5-4.8 2.8z" fill="#85ae42"/>
<path d="M953.1 1547.9l5.3-2.6-14.5-5.8-5.2 2.6z" fill="#43ad39"/>
<path d="M1114.6 1526.9l4.9-2.8-15.7-4.7-4.9 2.8z" fill="#77ae40"/>
<path d="M1016.7 1541.1l5.1-2.7-14.9-5.4-5.1 2.7z" fill="#55ad3c"/>
<path d="M1315.1 1485.3l4.5-3.1-17.4-3.2-4.4 3z" fill="#b08f4a"/>
<path d="M1280.9 1493.8l4.5-3.1-17.1-3.5-4.5 3z" fill="#b09f48"/>
<path d="M1349.4 1476.5l4.3-3.1-17.7-3.1-4.3 3.2z" fill="#b17e4b"/>
<path d="M1246.7 1501.8l4.6-3.1-16.8-3.7-4.6 3z" fill="#afaf46"/>
<path d="M1080.4 1532.9l4.9-2.8-15.4-5-5 2.8z" fill="#6aae3e"/>
<path d="M1212.5 1509.3l4.7-3-16.6-4-4.6 3z" fill="#9faf44"/>
<path d="M982.4 1545.9l5.2-2.7-14.7-5.6-5.2 2.7z" fill="#4aad3a"/>
<path d="M1178.3 1516.5l4.7-2.9-16.2-4.3-4.7 2.9z" fill="#90ae43"/>
<path d="M1046.1 1538.5l5-2.8-15.2-5.2-5 2.8z" fill="#5dad3d"/>
<path d="M1144.1 1523.2l4.8-2.9-16-4.5-4.8 2.9z" fill="#81ae41"/>
<path d="M948 1550.3l5.2-2.6-14.4-5.9-5.3 2.6z" fill="#40ad39"/>
<path d="M1109.8 1529.6l4.9-2.9-15.7-4.7-4.9 2.8z" fill="#73ae40"/>
<path d="M1011.7 1543.6l5.1-2.7-14.9-5.4-5.1 2.7z" fill="#52ad3b"/>
<path d="M1310.8 1488.3l4.4-3.2-17.4-3.2-4.4 3z" fill="#b09349"/>
<path d="M1276.5 1496.6l4.5-3-17.1-3.6-4.5 3z" fill="#b0a347"/>
<path d="M1345.1 1479.5l4.3-3.2-17.7-3-4.3 3.1z" fill="#b1824b"/>
<path d="M1242.2 1504.6l4.6-3.1-16.8-3.8-4.6 3z" fill="#abaf46"/>
<path d="M1075.5 1535.5l5-2.8-15.5-5-5 2.8z" fill="#66ad3e"/>
<path d="M1379.4 1470.2l4.3-3.1-18-2.8-4.3 3.1z" fill="#b2714d"/>
<path class="e" d="M1383.2 1467.1L1366.1 1464.5"/>
<path d="M1207.9 1512.1l4.7-3-16.5-4-4.7 2.9z" fill="#9baf44"/>
<path d="M977.3 1548.4l5.2-2.7-14.7-5.6-5.2 2.6z" fill="#47ad3a"/>
<path d="M1173.6 1519.2l4.8-2.9-16.3-4.3-4.7 2.9z" fill="#8cae42"/>
<path d="M1041.1 1541l5.1-2.8-15.2-5.2-5.1 2.8z" fill="#5aad3c"/>
<path d="M1139.3 1525.9l4.8-2.9-15.9-4.5-4.9 2.9z" fill="#7dae41"/>
<path d="M942.8 1552.7l5.3-2.6-14.4-5.9-5.3 2.6z" fill="#3cad38"/>
<path d="M1105 1532.2l4.9-2.8-15.7-4.8-4.9 2.8z" fill="#6fae3f"/>
<path d="M1006.7 1546.1l5.1-2.7-14.9-5.4-5.1 2.6z" fill="#4ead3b"/>
<path d="M1306.3 1491.2l4.5-3.1-17.4-3.4-4.4 3.1z" fill="#b09749"/>
<path d="M1272 1499.5l4.5-3.1-17.1-3.6-4.5 3.1z" fill="#b0a747"/>
<path d="M1340.7 1482.4l4.4-3.1-17.7-3.1-4.4 3.1z" fill="#b1864b"/>
<path d="M1237.6 1507.4l4.7-3-16.9-3.9-4.6 3z" fill="#a7af45"/>
<path d="M1375.1 1473.2l4.3-3.1-18-2.9-4.3 3.2z" fill="#b2754c"/>
<path d="M1070.6 1538.1l5-2.8-15.5-5-5 2.7z" fill="#62ad3e"/>
<path d="M1203.3 1514.9l4.7-3-16.5-4.1-4.7 3z" fill="#97af44"/>
<path d="M972.1 1550.8l5.3-2.7-14.7-5.6-5.2 2.6z" fill="#43ad39"/>
<path d="M1168.9 1521.9l4.8-2.9-16.2-4.3-4.8 2.9z" fill="#88ae42"/>
<path d="M1036.1 1543.5l5.1-2.7-15.2-5.3-5 2.8z" fill="#56ad3c"/>
<path d="M1134.5 1528.6l4.9-2.9-16-4.6-4.8 2.9z" fill="#79ae40"/>
<path d="M937.5 1555.1l5.4-2.6-14.4-5.9-5.4 2.6z" fill="#39ad38"/>
<path class="e" d="M937.2 1554.8L923.6 1549.3"/>
<path d="M1100.1 1534.8l4.9-2.8-15.6-4.8-5 2.8z" fill="#6cae3f"/>
<path d="M1001.6 1548.6l5.2-2.7-14.9-5.5-5.2 2.7z" fill="#4aad3a"/>
<path d="M1301.9 1494.1l4.5-3.1-17.4-3.4-4.5 3.1z" fill="#b09b48"/>
<path d="M1336.4 1485.4l4.4-3.2-17.7-3.1-4.4 3.1z" fill="#b18a4a"/>
<path d="M1267.5 1502.3l4.5-3-17-3.6-4.6 3z" fill="#b0ab47"/>
<path d="M1370.8 1476.2l4.3-3.2-17.9-2.8-4.4 3.2z" fill="#b1794c"/>
<path d="M1233.1 1510.2l4.6-3-16.8-3.9-4.6 3z" fill="#a3af45"/>
<path d="M1065.6 1540.7l5.1-2.8-15.5-5.1-5 2.8z" fill="#5fad3d"/>
<path d="M1198.7 1517.6l4.7-2.9-16.6-4.1-4.7 2.9z" fill="#93af43"/>
<path d="M1164.2 1524.7l4.8-3-16.2-4.3-4.8 2.9z" fill="#84ae42"/>
<path d="M967 1553.2l5.3-2.6-14.7-5.7-5.2 2.6z" fill="#3fad39"/>
<path d="M1031.1 1546.1l5.1-2.8-15.2-5.2-5.1 2.7z" fill="#52ad3c"/>
<path d="M1129.7 1531.3l4.9-2.9-15.9-4.6-4.9 2.8z" fill="#76ae40"/>
<path d="M1095.2 1537.5l5-2.9-15.7-4.8-4.9 2.8z" fill="#68ae3e"/>
<path d="M1297.5 1497l4.5-3.1-17.4-3.4-4.5 3z" fill="#b09f48"/>
<path d="M1332 1488.3l4.4-3.1-17.7-3.2-4.4 3.1z" fill="#b18e4a"/>
<path d="M996.5 1551.1l5.2-2.7-14.9-5.5-5.2 2.7z" fill="#47ad3a"/>
<path d="M1263 1505.2l4.5-3.1-17-3.6-4.6 3z" fill="#afaf46"/>
<path d="M1366.5 1479.2l4.4-3.2-18-2.8-4.4 3.1z" fill="#b17d4b"/>
<path d="M1228.5 1513l4.6-3-16.8-3.9-4.6 3z" fill="#9faf44"/>
<path d="M1194 1520.4l4.7-3-16.5-4.1-4.7 2.9z" fill="#8fae43"/>
<path d="M1060.7 1543.2l5-2.8-15.4-5-5 2.7z" fill="#5bad3d"/>
<path d="M1159.5 1527.4l4.8-3-16.2-4.3-4.9 2.9z" fill="#80ae41"/>
<path d="M961.8 1555.7l5.3-2.7-14.6-5.7-5.3 2.6z" fill="#3cad38"/>
<path d="M1026.1 1548.6l5.1-2.7-15.2-5.3-5.1 2.7z" fill="#4fad3b"/>
<path d="M1124.9 1533.9l4.9-2.9-15.9-4.6-4.9 2.9z" fill="#72ae3f"/>
<path d="M1090.3 1540.1l5-2.9-15.7-4.8-4.9 2.8z" fill="#64ae3e"/>
<path d="M1293 1499.8l4.5-3-17.4-3.5-4.5 3.1z" fill="#b0a347"/>
<path d="M1327.6 1491.2l4.4-3.1-17.7-3.1-4.4 3.1z" fill="#b19249"/>
<path d="M1258.4 1508l4.6-3-17.1-3.7-4.5 3z" fill="#acaf46"/>
<path d="M1362.2 1482.2l4.3-3.2-17.9-2.9-4.4 3.2z" fill="#b1814b"/>
<path d="M991.4 1553.6l5.2-2.7-14.9-5.6-5.2 2.7z" fill="#43ad3a"/>
<path d="M1223.9 1515.8l4.6-3-16.8-3.9-4.6 3z" fill="#9baf44"/>
<path d="M1396.8 1472.7l4.3-3.2-18.3-2.6-4.3 3.2z" fill="#b2704d"/>
<path class="e" d="M1400.7 1469.5L1383.2 1467.1"/>
<path class="e" d="M1396.4 1472.5L1400.7 1469.5"/>
<path d="M1189.3 1523.1l4.8-2.9-16.6-4.2-4.7 2.9z" fill="#8bae42"/>
<path d="M1055.7 1545.8l5.1-2.8-15.4-5.1-5.1 2.8z" fill="#57ad3c"/>
<path d="M1154.7 1530.1l4.8-2.9-16.2-4.5-4.8 2.9z" fill="#7cae41"/>
<path d="M956.6 1558.1l5.3-2.7-14.6-5.7-5.3 2.6z" fill="#38ad38"/>
<path d="M1021 1551.1l5.2-2.7-15.2-5.3-5.1 2.7z" fill="#4bad3b"/>
<path d="M1120.1 1536.6l4.9-2.9-15.9-4.6-4.9 2.8z" fill="#6eae3f"/>
<path d="M1323.2 1494.2l4.4-3.2-17.7-3.1-4.4 3.1z" fill="#b09649"/>
<path d="M1288.5 1502.7l4.5-3.1-17.3-3.4-4.6 3.1z" fill="#b0a747"/>
<path d="M1085.4 1542.7l5-2.9-15.6-4.8-5 2.8z" fill="#60ad3d"/>
<path d="M1357.8 1485.2l4.4-3.2-18-2.9-4.3 3.1z" fill="#b1854b"/>
<path d="M1253.9 1510.9l4.6-3.1-17.1-3.7-4.6 3z" fill="#a8af45"/>
<path d="M1392.5 1475.7l4.3-3.2-18.2-2.6-4.4 3.2z" fill="#b2744c"/>
<path class="e" d="M1392.1 1475.6L1396.4 1472.5"/>
<path d="M986.2 1556l5.3-2.7-14.9-5.5-5.2 2.6z" fill="#40ad39"/>
<path d="M1219.2 1518.6l4.7-3-16.8-4-4.6 3z" fill="#97af44"/>
<path d="M1184.6 1525.9l4.8-3-16.5-4.2-4.8 3z" fill="#87ae42"/>
<path d="M1050.7 1548.4l5.1-2.8-15.4-5.1-5.1 2.7z" fill="#53ad3c"/>
<path d="M1149.9 1532.8l4.9-2.9-16.2-4.5-4.9 2.9z" fill="#78ae40"/>
<path d="M951.4 1560.5l5.3-2.6-14.6-5.8-5.3 2.6z" fill="#38ad3a"/>
<path class="e" d="M951 1560.2L937.2 1554.8"/>
<path d="M1115.2 1539.2l5-2.8-16-4.7-4.9 2.8z" fill="#6aae3f"/>
<path d="M1015.9 1553.6l5.2-2.7-15.1-5.4-5.2 2.8z" fill="#47ad3a"/>
<path d="M1318.7 1497.1l4.5-3.1-17.7-3.2-4.4 3.1z" fill="#b09a48"/>
<path d="M1284 1505.6l4.6-3.1-17.4-3.4-4.6 3z" fill="#b0ab47"/>
<path d="M1353.5 1488.1l4.4-3.1-18-3-4.4 3.2z" fill="#b1894a"/>
<path d="M1249.3 1513.7l4.6-3-17-3.8-4.7 3.1z" fill="#a4af45"/>
<path d="M1080.5 1545.3l5-2.8-15.7-5-5 2.8z" fill="#5cad3d"/>
<path d="M1388.2 1478.8l4.4-3.2-18.3-2.7-4.3 3.2z" fill="#b2784c"/>
<path class="e" d="M1387.8 1478.6L1392.1 1475.6"/>
<path d="M1214.6 1521.4l4.7-3-16.8-4-4.7 3z" fill="#93af43"/>
<path d="M981.1 1558.5l5.2-2.7-14.8-5.6-5.3 2.7z" fill="#3cad39"/>
<path d="M1179.9 1528.6l4.8-2.9-16.5-4.2-4.8 2.9z" fill="#83ae42"/>
<path d="M1045.7 1550.9l5.1-2.8-15.4-5.1-5.1 2.7z" fill="#50ad3b"/>
<path d="M1145.1 1535.5l4.9-2.9-16.2-4.5-4.9 2.9z" fill="#75ae40"/>
<path d="M1110.4 1541.9l4.9-2.9-15.9-4.7-5 2.8z" fill="#66ae3e"/>
<path d="M1010.8 1556.1l5.2-2.7-15.1-5.4-5.2 2.7z" fill="#44ad3a"/>
<path d="M1314.3 1500l4.5-3.1-17.7-3.2-4.5 3z" fill="#b09e48"/>
<path d="M1279.5 1508.5l4.6-3.1-17.4-3.5-4.6 3.1z" fill="#b0af46"/>
<path d="M1349.1 1491.1l4.4-3.2-18-2.9-4.4 3.1z" fill="#b18d4a"/>
<path d="M1244.7 1516.5l4.7-3-17.1-3.7-4.7 3z" fill="#a0af44"/>
<path d="M1383.9 1481.8l4.4-3.2-18.3-2.7-4.4 3.1z" fill="#b27c4c"/>
<path class="e" d="M1383.5 1481.6L1387.8 1478.6"/>
<path d="M1075.5 1547.9l5.1-2.8-15.7-5-5 2.8z" fill="#59ad3d"/>
<path d="M1209.9 1524.2l4.8-3-16.8-4-4.7 2.9z" fill="#8faf43"/>
<path d="M975.9 1561l5.3-2.7-14.9-5.6-5.3 2.6z" fill="#39ad38"/>
<path d="M1175.1 1531.4l4.8-3-16.4-4.2-4.9 2.9z" fill="#80ae41"/>
<path d="M1040.6 1553.5l5.2-2.8-15.4-5.2-5.1 2.8z" fill="#4cad3b"/>
<path d="M1140.3 1538.2l4.9-2.9-16.2-4.5-4.9 2.8z" fill="#71ae3f"/>
<path d="M1105.4 1544.5l5-2.8-15.9-4.8-5 2.9z" fill="#62ae3e"/>
<path d="M1005.7 1558.6l5.2-2.7-15.1-5.4-5.2 2.7z" fill="#40ad39"/>
<path d="M1309.8 1502.9l4.5-3.1-17.6-3.2-4.6 3z" fill="#b0a247"/>
<path d="M1275 1511.4l4.5-3.1-17.3-3.5-4.6 3z" fill="#acb046"/>
<path d="M1344.7 1494.1l4.4-3.2-17.9-3-4.5 3.1z" fill="#b19149"/>
<path d="M1240.1 1519.4l4.7-3.1-17.1-3.7-4.7 3z" fill="#9caf44"/>
<path d="M1379.6 1484.8l4.4-3.2-18.3-2.7-4.4 3.1z" fill="#b2804b"/>
<path class="e" d="M1379.2 1484.6L1383.5 1481.6"/>
<path d="M1070.5 1550.5l5.1-2.8-15.6-5-5.1 2.8z" fill="#55ad3c"/>
<path d="M1205.2 1526.9l4.8-2.9-16.8-4.1-4.7 3z" fill="#8baf42"/>
<path d="M970.7 1563.4l5.3-2.7-14.9-5.6-5.3 2.6z" fill="#38ad3b"/>
<path d="M1170.4 1534.1l4.8-2.9-16.5-4.3-4.8 2.9z" fill="#7cae41"/>
<path d="M1035.6 1556l5.1-2.8-15.3-5.2-5.2 2.8z" fill="#48ad3b"/>
<path d="M1135.5 1540.8l4.9-2.9-16.2-4.5-4.9 2.9z" fill="#6dae3f"/>
<path d="M1100.5 1547.2l5-2.9-15.9-4.8-5 2.9z" fill="#5fae3d"/>
<path d="M1000.5 1561.1l5.3-2.7-15.1-5.4-5.3 2.7z" fill="#3dad39"/>
<path d="M1305.3 1505.8l4.6-3.1-17.7-3.3-4.5 3.1z" fill="#b0a647"/>
<path d="M1340.3 1497l4.4-3.1-17.9-3.1-4.5 3.2z" fill="#b19549"/>
<path d="M1270.4 1514.2l4.6-3-17.4-3.6-4.6 3z" fill="#a8af45"/>
<path d="M1375.3 1487.8l4.3-3.2-18.2-2.8-4.4 3.2z" fill="#b1844b"/>
<path class="e" d="M1374.8 1487.6L1379.2 1484.6"/>
<path d="M1235.5 1522.2l4.7-3-17.1-3.8-4.7 2.9z" fill="#97af44"/>
<path d="M1065.5 1553.1l5.1-2.8-15.6-5-5.1 2.7z" fill="#51ad3c"/>
<path d="M1200.5 1529.7l4.8-3-16.8-4-4.7 2.9z" fill="#87af42"/>
<path d="M1165.6 1536.8l4.8-2.9-16.4-4.3-4.9 2.9z" fill="#78ae40"/>
<path d="M965.4 1565.9l5.4-2.7-14.9-5.7-5.3 2.7z" fill="#37ad3d"/>
<path class="e" d="M965.1 1565.6L951 1560.2"/>
<path d="M1030.5 1558.6l5.2-2.8-15.4-5.2-5.2 2.7z" fill="#45ad3a"/>
<path d="M1130.6 1543.5l4.9-2.9-16.2-4.5-4.9 2.8z" fill="#69ae3f"/>
<path d="M1095.6 1549.8l5-2.9-15.9-4.7-5 2.8z" fill="#5bae3d"/>
<path d="M1300.8 1508.7l4.6-3.1-17.7-3.3-4.5 3.1z" fill="#b0aa47"/>
<path d="M1335.8 1500l4.5-3.2-18-3-4.4 3.1z" fill="#b19948"/>
<path d="M995.4 1563.6l5.2-2.7-15.1-5.5-5.2 2.7z" fill="#39ad39"/>
<path d="M1265.8 1517.1l4.6-3.1-17.3-3.6-4.6 3.1z" fill="#a4af45"/>
<path d="M1370.9 1490.8l4.4-3.2-18.3-2.8-4.4 3.2z" fill="#b1884a"/>
<path class="e" d="M1370.5 1490.6L1374.8 1487.6"/>
<path d="M1230.8 1525l4.7-3-17-3.9-4.7 3z" fill="#93af43"/>
<path d="M1195.8 1532.5l4.8-3-16.8-4.1-4.8 3z" fill="#83ae41"/>
<path d="M1060.5 1555.7l5.1-2.9-15.6-5-5.1 2.8z" fill="#4ead3b"/>
<path d="M1160.8 1539.6l4.8-3-16.4-4.3-4.9 2.9z" fill="#74ae40"/>
<path d="M1025.4 1561.1l5.2-2.8-15.4-5.2-5.2 2.7z" fill="#41ad3a"/>
<path d="M1125.7 1546.2l5-2.9-16.2-4.6-5 2.9z" fill="#65ae3e"/>
<path d="M1090.6 1552.4l5.1-2.8-15.9-4.8-5.1 2.8z" fill="#57ad3d"/>
<path d="M1296.3 1511.6l4.6-3-17.7-3.4-4.6 3.1z" fill="#b0ae46"/>
<path d="M1331.4 1502.9l4.5-3.1-18-3.1-4.5 3.1z" fill="#b19d48"/>
<path d="M1261.2 1519.9l4.7-3-17.4-3.6-4.6 3z" fill="#a0af44"/>
<path d="M1366.5 1493.8l4.4-3.2-18.3-2.8-4.4 3.1z" fill="#b18c4a"/>
<path class="e" d="M1366.1 1493.6L1370.5 1490.6"/>
<path d="M990.2 1566.1l5.3-2.7-15.1-5.5-5.3 2.7z" fill="#38ad3b"/>
<path d="M1226.1 1527.8l4.8-3-17.1-3.9-4.7 3z" fill="#90af43"/>
<path d="M1191.1 1535.3l4.8-3-16.8-4.1-4.8 2.9z" fill="#7fae41"/>
<path d="M1055.5 1558.2l5.1-2.8-15.6-5-5.2 2.7z" fill="#4aad3b"/>
<path d="M1155.9 1542.3l4.9-3-16.4-4.3-4.9 2.9z" fill="#70ae3f"/>
<path d="M1020.2 1563.6l5.3-2.7-15.4-5.3-5.2 2.7z" fill="#3ead39"/>
<path d="M1120.8 1548.9l5-2.9-16.2-4.6-5 2.8z" fill="#61ae3e"/>
<path d="M1326.9 1505.9l4.5-3.2-17.9-3.1-4.5 3.1z" fill="#b0a147"/>
<path d="M1291.8 1514.5l4.5-3-17.6-3.4-4.6 3z" fill="#aeb046"/>
<path d="M1085.6 1555l5.1-2.8-15.9-4.8-5.1 2.8z" fill="#53ad3c"/>
<path d="M1362.1 1496.8l4.4-3.2-18.2-2.9-4.5 3.2z" fill="#b19049"/>
<path class="e" d="M1361.7 1496.6L1366.1 1493.6"/>
<path d="M1256.6 1522.8l4.7-3.1-17.4-3.6-4.6 3z" fill="#9caf44"/>
<path d="M984.9 1568.6l5.4-2.7-15.1-5.5-5.3 2.6z" fill="#38ad3e"/>
<path d="M1221.5 1530.6l4.7-3-17.1-3.9-4.7 3z" fill="#8caf42"/>
<path d="M1186.3 1538l4.8-3-16.7-4.1-4.9 2.9z" fill="#7bae41"/>
<path d="M1050.4 1560.8l5.1-2.8-15.6-5.1-5.1 2.8z" fill="#46ad3b"/>
<path d="M1151.1 1545l4.9-2.9-16.4-4.4-5 2.9z" fill="#6cae3f"/>
<path d="M1115.9 1551.5l5-2.8-16.2-4.7-5 2.9z" fill="#5eae3d"/>
<path d="M1015.1 1566.2l5.2-2.8-15.3-5.3-5.3 2.7z" fill="#3aad39"/>
<path d="M1322.4 1508.8l4.6-3.1-18-3.2-4.5 3.1z" fill="#b0a547"/>
<path d="M1287.2 1517.4l4.6-3-17.6-3.5-4.7 3.1z" fill="#aab045"/>
<path d="M1357.7 1499.7l4.5-3.1-18.3-2.9-4.5 3.1z" fill="#b19449"/>
<path class="e" d="M1357.3 1499.6L1361.7 1496.6"/>
<path d="M1252 1525.6l4.7-3-17.4-3.7-4.7 3z" fill="#98af44"/>
<path d="M1080.6 1557.7l5.1-2.9-15.9-4.8-5.1 2.8z" fill="#50ad3c"/>
<path d="M1216.7 1533.4l4.8-3-17-3.9-4.8 3z" fill="#88af42"/>
<path d="M979.7 1571.1l5.3-2.7-15-5.6-5.4 2.7z" fill="#37ad40"/>
<path class="e" d="M979.3 1570.8L965.1 1565.6"/>
<path d="M1181.5 1540.8l4.8-3-16.7-4.2-4.8 3z" fill="#78ae40"/>
<path d="M1045.3 1563.4l5.2-2.8-15.6-5.1-5.2 2.7z" fill="#43ad3a"/>
<path d="M1146.2 1547.7l5-2.9-16.5-4.4-4.9 2.8z" fill="#68ae3f"/>
<path d="M1110.9 1554.2l5-2.9-16.1-4.6-5 2.8z" fill="#5aae3d"/>
<path d="M1009.9 1568.7l5.3-2.8-15.4-5.3-5.2 2.7z" fill="#39ad3b"/>
<path d="M1317.9 1511.7l4.6-3.1-18-3.2-4.5 3.1z" fill="#b0a947"/>
<path d="M1282.6 1520.3l4.6-3.1-17.6-3.4-4.6 3.1z" fill="#a6b045"/>
<path d="M1353.3 1502.7l4.4-3.1-18.2-2.9-4.5 3.1z" fill="#b19848"/>
<path class="e" d="M1352.9 1502.5L1357.3 1499.6"/>
<path d="M1247.3 1528.5l4.7-3.1-17.3-3.6-4.7 3z" fill="#94af43"/>
<path d="M1075.6 1560.3l5.1-2.9-15.9-4.9-5.1 2.8z" fill="#4cad3b"/>
<path d="M1212 1536.2l4.8-3-17-3.9-4.8 2.9z" fill="#84af41"/>
<path d="M1176.7 1543.5l4.9-2.9-16.8-4.2-4.9 2.9z" fill="#74ae40"/>
<path d="M1040.2 1565.9l5.2-2.7-15.6-5.2-5.2 2.8z" fill="#3fad3a"/>
<path d="M1141.3 1550.4l5-2.9-16.5-4.5-4.9 2.9z" fill="#65ae3e"/>
<path d="M1105.9 1556.9l5.1-2.9-16.2-4.7-5 2.8z" fill="#56ae3c"/>
<path d="M1004.7 1571.2l5.3-2.8-15.3-5.3-5.3 2.7z" fill="#38ad3d"/>
<path d="M1313.4 1514.7l4.6-3.1-18-3.2-4.6 3z" fill="#b0ad46"/>
<path d="M1348.8 1505.7l4.5-3.2-18.3-2.9-4.5 3.1z" fill="#b19c48"/>
<path class="e" d="M1348.4 1505.5L1352.9 1502.5"/>
<path d="M1278 1523.2l4.7-3.1-17.7-3.4-4.6 3z" fill="#a2b044"/>
<path d="M1242.6 1531.3l4.8-3-17.4-3.7-4.7 3z" fill="#90af43"/>
<path d="M1070.5 1562.9l5.1-2.8-15.8-5-5.2 2.8z" fill="#48ad3b"/>
<path d="M1207.3 1539l4.8-3-17.1-4-4.8 3z" fill="#80af41"/>
<path d="M1171.8 1546.3l4.9-3-16.7-4.2-4.9 2.9z" fill="#70ae3f"/>
<path d="M1035 1568.5l5.2-2.8-15.5-5.2-5.3 2.8z" fill="#3cad39"/>
<path d="M1136.4 1553.1l5-2.9-16.4-4.5-5 2.9z" fill="#61ae3e"/>
<path d="M1100.9 1559.5l5.1-2.9-16.1-4.7-5.1 2.8z" fill="#52ae3c"/>
<path d="M999.4 1573.7l5.4-2.7-15.3-5.5-5.4 2.8z" fill="#38ad40"/>
<path d="M1308.9 1517.6l4.5-3.1-17.9-3.2-4.6 3z" fill="#afb046"/>
<path d="M1344.3 1508.7l4.6-3.2-18.3-2.9-4.5 3.1z" fill="#b1a048"/>
<path class="e" d="M1343.9 1508.5L1348.4 1505.5"/>
<path d="M1273.4 1526.1l4.7-3.1-17.7-3.5-4.6 3.1z" fill="#9daf44"/>
<path d="M1237.9 1534.2l4.8-3.1-17.3-3.7-4.8 3z" fill="#8caf42"/>
<path d="M1065.4 1565.5l5.2-2.8-15.9-5-5.1 2.8z" fill="#45ad3a"/>
<path d="M1202.5 1541.8l4.8-3-17-4-4.9 3z" fill="#7cae41"/>
<path d="M1167 1549l4.9-2.9-16.7-4.3-4.9 2.9z" fill="#6cae3f"/>
<path d="M1029.8 1571.1l5.3-2.8-15.6-5.2-5.2 2.7z" fill="#39ad3a"/>
<path d="M1131.5 1555.8l5-2.9-16.4-4.5-5.1 2.8z" fill="#5dae3d"/>
<path d="M1095.9 1562.1l5.1-2.8-16.1-4.8-5.1 2.9z" fill="#4fae3c"/>
<path d="M1304.3 1520.5l4.6-3.1-17.9-3.2-4.7 3z" fill="#abb045"/>
<path d="M1339.9 1511.6l4.5-3.1-18.3-3-4.5 3.1z" fill="#b1a447"/>
<path class="e" d="M1339.4 1511.5L1343.9 1508.5"/>
<path d="M994.2 1576.2l5.3-2.7-15.3-5.5-5.3 2.7z" fill="#37ad43"/>
<path class="e" d="M993.8 1575.9L979.3 1570.8"/>
<path d="M1268.8 1529l4.6-3.1-17.6-3.5-4.7 3z" fill="#99af44"/>
<path d="M1233.2 1537l4.8-3-17.3-3.8-4.8 3z" fill="#88af42"/>
<path d="M1197.7 1544.6l4.8-3-17-4-4.8 2.9z" fill="#78ae40"/>
<path d="M1060.3 1568.1l5.2-2.8-15.8-5-5.2 2.8z" fill="#41ad3a"/>
<path d="M1162.1 1551.7l5-2.9-16.8-4.3-4.9 2.9z" fill="#68ae3e"/>
<path d="M1024.6 1573.6l5.3-2.8-15.5-5.2-5.3 2.7z" fill="#38ad3c"/>
<path d="M1126.5 1558.5l5-2.9-16.4-4.6-5 2.9z" fill="#59ae3d"/>
<path d="M1090.9 1564.8l5.1-2.9-16.1-4.8-5.1 2.9z" fill="#4bae3b"/>
<path d="M1299.7 1523.4l4.6-3.1-17.9-3.3-4.6 3.1z" fill="#a7b045"/>
<path d="M1335.3 1514.6l4.6-3.1-18.3-3.1-4.5 3.2z" fill="#b1a747"/>
<path class="e" d="M1334.9 1514.4L1339.4 1511.5"/>
<path d="M1264.1 1531.8l4.7-3-17.6-3.6-4.7 3.1z" fill="#95af43"/>
<path d="M1228.5 1539.8l4.8-3-17.3-3.8-4.8 3z" fill="#84af41"/>
<path d="M1192.9 1547.4l4.8-3-17-4.1-4.9 3z" fill="#74ae40"/>
<path d="M1055.2 1570.7l5.2-2.8-15.8-5.1-5.3 2.8z" fill="#3ead3a"/>
<path d="M1157.2 1554.5l5-3-16.7-4.3-5 2.9z" fill="#64ae3e"/>
<path d="M1019.4 1576.1l5.3-2.7-15.5-5.3-5.3 2.7z" fill="#38ad3f"/>
<path d="M1121.5 1561.2l5.1-2.9-16.4-4.6-5.1 2.9z" fill="#56ae3c"/>
<path d="M1330.8 1517.6l4.6-3.2-18.3-3-4.6 3.1z" fill="#b0ab46"/>
<path class="e" d="M1330.4 1517.4L1334.9 1514.4"/>
<path d="M1295.1 1526.4l4.7-3.1-18-3.4-4.6 3.1z" fill="#a3b044"/>
<path d="M1085.8 1567.4l5.2-2.8-16.2-4.8-5.1 2.8z" fill="#47ad3b"/>
<path d="M1259.4 1534.7l4.8-3-17.7-3.6-4.7 3z" fill="#91af43"/>
<path d="M1223.7 1542.6l4.8-3-17.3-3.8-4.8 3z" fill="#80af41"/>
<path d="M1188 1550.1l4.9-2.9-17-4.1-4.9 2.9z" fill="#70ae3f"/>
<path d="M1050 1573.3l5.3-2.8-15.9-5.1-5.2 2.8z" fill="#3aad39"/>
<path d="M1152.3 1557.2l5-2.9-16.7-4.4-5 2.9z" fill="#61ae3e"/>
<path d="M1116.5 1563.8l5.1-2.8-16.4-4.6-5.1 2.8z" fill="#52ae3c"/>
<path d="M1014.2 1578.7l5.3-2.8-15.5-5.3-5.4 2.8z" fill="#38ad42"/>
<path d="M1326.3 1520.5l4.6-3.1-18.3-3.1-4.6 3.1z" fill="#b0af46"/>
<path class="e" d="M1325.9 1520.3L1330.4 1517.4"/>
<path d="M1290.5 1529.3l4.7-3.1-18-3.4-4.7 3.1z" fill="#9fb044"/>
<path d="M1254.7 1537.6l4.8-3.1-17.7-3.6-4.7 3z" fill="#8eaf42"/>
<path d="M1080.7 1570.1l5.2-2.9-16.1-4.8-5.2 2.8z" fill="#44ad3a"/>
<path d="M1218.9 1545.5l4.9-3.1-17.3-3.8-4.9 3z" fill="#7daf41"/>
<path d="M1183.2 1552.9l4.9-3-17-4.1-4.9 2.9z" fill="#6cae3f"/>
<path d="M1044.8 1575.9l5.3-2.9-15.8-5-5.3 2.7z" fill="#39ad3b"/>
<path d="M1147.3 1559.9l5.1-2.9-16.7-4.4-5 2.9z" fill="#5dae3d"/>
<path d="M1111.5 1566.5l5.1-2.9-16.4-4.6-5.1 2.9z" fill="#4eae3c"/>
<path d="M1008.9 1581.2l5.4-2.7-15.6-5.4-5.3 2.8z" fill="#37ad44"/>
<path class="e" d="M1008.5 1580.9L993.8 1575.9"/>
<path d="M1321.7 1523.5l4.6-3.2-18.3-3.1-4.6 3.1z" fill="#adb045"/>
<path class="e" d="M1321.3 1523.3L1325.9 1520.3"/>
<path d="M1285.9 1532.2l4.6-3.1-17.9-3.4-4.7 3.1z" fill="#9bb044"/>
<path d="M1250 1540.4l4.8-3-17.7-3.7-4.7 3.1z" fill="#8aaf42"/>
<path d="M1075.6 1572.7l5.2-2.9-16.1-4.8-5.2 2.8z" fill="#40ad3a"/>
<path d="M1214.1 1548.3l4.9-3-17.3-3.9-4.9 2.9z" fill="#79af40"/>
<path d="M1178.3 1555.7l4.9-3-17-4.2-4.9 3z" fill="#69ae3e"/>
<path d="M1039.6 1578.4l5.3-2.8-15.8-5.1-5.3 2.8z" fill="#38ad3e"/>
<path d="M1142.4 1562.6l5-2.9-16.7-4.4-5 2.9z" fill="#59ae3d"/>
<path d="M1106.4 1569.2l5.2-2.9-16.4-4.7-5.1 2.9z" fill="#4aae3b"/>
<path d="M1317.1 1526.4l4.6-3.1-18.2-3.2-4.6 3.1z" fill="#a9b045"/>
<path class="e" d="M1316.7 1526.2L1321.3 1523.3"/>
<path d="M1281.2 1535.1l4.7-3.1-17.9-3.4-4.7 3z" fill="#97b043"/>
<path d="M1245.3 1543.3l4.8-3.1-17.7-3.6-4.8 3z" fill="#86af41"/>
<path d="M1070.5 1575.3l5.2-2.8-16.1-4.9-5.2 2.8z" fill="#3dad3a"/>
<path d="M1209.3 1551.1l4.9-3-17.3-4-4.9 3z" fill="#75af40"/>
<path d="M1173.4 1558.4l4.9-2.9-17-4.2-4.9 2.9z" fill="#65ae3e"/>
<path d="M1034.4 1581l5.3-2.8-15.8-5.1-5.3 2.7z" fill="#38ad41"/>
<path d="M1137.4 1565.4l5-3-16.6-4.4-5.1 2.9z" fill="#55ae3c"/>
<path d="M1101.4 1571.9l5.1-2.9-16.4-4.7-5.1 2.8z" fill="#47ae3b"/>
<path d="M1312.5 1529.4l4.7-3.2-18.3-3.1-4.6 3.1z" fill="#a5b044"/>
<path class="e" d="M1312.1 1529.2L1316.7 1526.2"/>
<path d="M1276.5 1538l4.7-3.1-17.9-3.5-4.7 3.1z" fill="#93b043"/>
<path d="M1240.5 1546.1l4.8-3-17.6-3.7-4.8 3z" fill="#82af41"/>
<path d="M1065.3 1577.9l5.2-2.8-16-4.9-5.3 2.8z" fill="#39ad39"/>
<path d="M1204.5 1553.9l4.9-3-17.3-4-4.9 3z" fill="#71af3f"/>
<path d="M1168.4 1561.2l5-3-17-4.2-4.9 2.9z" fill="#61ae3e"/>
<path d="M1029.2 1583.6l5.3-2.8-15.8-5.2-5.3 2.8z" fill="#38ad43"/>
<path d="M1132.4 1568.1l5.1-3-16.7-4.4-5.1 2.9z" fill="#52ae3c"/>
<path d="M1096.3 1574.5l5.1-2.9-16.3-4.7-5.2 2.9z" fill="#43ae3a"/>
<path d="M1307.9 1532.3l4.7-3.1-18.3-3.2-4.7 3.1z" fill="#a1b044"/>
<path class="e" d="M1307.5 1532.1L1312.1 1529.2"/>
<path d="M1271.8 1540.9l4.8-3.1-18-3.5-4.7 3.1z" fill="#8faf42"/>
<path d="M1235.7 1549l4.8-3.1-17.6-3.7-4.8 3z" fill="#7eaf41"/>
<path d="M1199.6 1556.7l4.9-3-17.3-4-4.9 3z" fill="#6dae3f"/>
<path d="M1060.1 1580.5l5.3-2.8-16.1-5-5.3 2.8z" fill="#39ad3c"/>
<path d="M1163.5 1563.9l5-2.9-17-4.3-5 3z" fill="#5dae3d"/>
<path d="M1023.9 1586.1l5.3-2.8-15.7-5.2-5.4 2.8z" fill="#37ad46"/>
<path class="e" d="M1023.5 1585.9L1008.5 1580.9"/>
<path d="M1127.3 1570.8l5.1-2.9-16.6-4.5-5.1 2.8z" fill="#4eae3c"/>
<path d="M1091.1 1577.2l5.2-2.9-16.3-4.8-5.2 2.9z" fill="#40ae3a"/>
<path d="M1303.3 1535.2l4.6-3.1-18.2-3.2-4.7 3.1z" fill="#9db044"/>
<path class="e" d="M1302.8 1535L1307.5 1532.1"/>
<path d="M1267.1 1543.7l4.8-3-18-3.5-4.7 3z" fill="#8baf42"/>
<path d="M1230.9 1551.8l4.9-3-17.6-3.8-4.9 3z" fill="#7aaf40"/>
<path d="M1194.7 1559.5l5-3-17.3-4-5 2.9z" fill="#69ae3e"/>
<path d="M1054.9 1583.1l5.3-2.8-16.1-5-5.3 2.8z" fill="#38ad3f"/>
<path d="M1158.5 1566.7l5.1-3-17-4.2-5 2.9z" fill="#59ae3d"/>
<path d="M1122.3 1573.5l5.1-2.9-16.7-4.6-5.1 2.9z" fill="#4aae3b"/>
<path d="M1298.6 1538.2l4.7-3.2-18.3-3.2-4.7 3.1z" fill="#99b043"/>
<path class="e" d="M1298.2 1538L1302.8 1535"/>
<path d="M1086 1579.8l5.2-2.8-16.3-4.8-5.3 2.8z" fill="#3cae39"/>
<path d="M1262.3 1546.6l4.8-3-17.9-3.6-4.8 3.1z" fill="#87af41"/>
<path d="M1226.1 1554.7l4.9-3.1-17.6-3.8-4.9 3z" fill="#76af40"/>
<path d="M1189.8 1562.3l5-3-17.3-4.1-5 3z" fill="#66ae3e"/>
<path d="M1049.6 1585.7l5.4-2.8-16.1-5-5.3 2.8z" fill="#38ad41"/>
<path d="M1153.5 1569.4l5.1-2.9-17-4.3-5 2.9z" fill="#56ae3c"/>
<path d="M1117.2 1576.2l5.2-2.9-16.7-4.6-5.2 2.9z" fill="#47ae3b"/>
<path d="M1293.9 1541.1l4.7-3.1-18.2-3.3-4.7 3.1z" fill="#95b043"/>
<path class="e" d="M1293.5 1540.9L1298.2 1538"/>
<path d="M1257.6 1549.5l4.8-3.1-17.9-3.5-4.9 3z" fill="#83af41"/>
<path d="M1080.8 1582.5l5.3-2.9-16.4-4.8-5.2 2.8z" fill="#39ae3a"/>
<path d="M1221.2 1557.5l4.9-3-17.6-3.9-4.9 3z" fill="#72af3f"/>
<path d="M1184.9 1565l5-2.9-17.3-4.1-5 2.9z" fill="#62ae3e"/>
<path d="M1044.4 1588.3l5.3-2.8-16-5-5.4 2.7z" fill="#37ad44"/>
<path d="M1148.5 1572.2l5.1-3-17-4.3-5 2.9z" fill="#52ae3c"/>
<path d="M1112.1 1578.9l5.2-2.9-16.7-4.6-5.2 2.8z" fill="#43ae3a"/>
<path d="M1289.2 1544l4.7-3.1-18.2-3.3-4.7 3.1z" fill="#91b042"/>
<path class="e" d="M1288.8 1543.8L1293.5 1540.9"/>
<path d="M1252.8 1552.4l4.8-3.1-17.9-3.6-4.8 3.1z" fill="#80af41"/>
<path d="M1075.6 1585.1l5.3-2.8-16.3-4.9-5.3 2.8z" fill="#39ad3d"/>
<path d="M1216.4 1560.3l4.9-3-17.6-3.9-4.9 3z" fill="#6eaf3f"/>
<path d="M1179.9 1567.8l5-3-17.2-4.1-5 3z" fill="#5eae3d"/>
<path d="M1039.1 1590.9l5.4-2.8-16.1-5.1-5.3 2.8z" fill="#37ad47"/>
<path class="e" d="M1038.7 1590.7L1023.5 1585.9"/>
<path d="M1143.5 1574.9l5.1-2.9-17-4.4-5.1 2.9z" fill="#4eae3b"/>
<path d="M1107 1581.5l5.2-2.9-16.7-4.6-5.2 2.9z" fill="#3fae3a"/>
<path d="M1284.5 1546.9l4.7-3.1-18.2-3.3-4.8 3z" fill="#8db042"/>
<path class="e" d="M1284.1 1546.7L1288.8 1543.8"/>
<path d="M1248 1555.3l4.8-3.1-17.9-3.6-4.8 3z" fill="#7caf40"/>
<path d="M1070.4 1587.7l5.3-2.8-16.3-4.9-5.3 2.8z" fill="#38ad3f"/>
<path d="M1211.5 1563.1l4.9-3-17.6-3.9-4.9 3z" fill="#6baf3e"/>
<path d="M1175 1570.6l5-3-17.3-4.1-5 2.9z" fill="#5aae3d"/>
<path d="M1138.4 1577.6l5.1-2.9-16.9-4.4-5.1 2.9z" fill="#4bae3b"/>
<path d="M1101.8 1584.2l5.2-2.9-16.6-4.6-5.2 2.8z" fill="#3cae39"/>
<path d="M1279.7 1549.8l4.8-3.1-18.2-3.3-4.8 3z" fill="#8ab041"/>
<path class="e" d="M1279.3 1549.6L1284.1 1546.7"/>
<path d="M1243.1 1558.1l4.9-3-17.9-3.7-4.9 3z" fill="#78af40"/>
<path d="M1065.2 1590.4l5.3-2.9-16.3-4.9-5.4 2.8z" fill="#38ad42"/>
<path d="M1206.6 1566l4.9-3-17.6-4-4.9 3z" fill="#67af3e"/>
<path d="M1169.9 1573.4l5.1-3-17.3-4.2-5 3z" fill="#57ae3c"/>
<path d="M1133.3 1580.4l5.2-3-17-4.4-5.1 2.9z" fill="#47ae3b"/>
<path d="M1096.6 1586.9l5.3-2.9-16.6-4.7-5.3 2.9z" fill="#39ae3a"/>
<path d="M1275 1552.7l4.8-3.1-18.3-3.4-4.8 3.1z" fill="#86b041"/>
<path class="e" d="M1274.5 1552.5L1279.3 1549.6"/>
<path d="M1238.3 1561l4.9-3.1-17.9-3.7-4.9 3.1z" fill="#74af3f"/>
<path d="M1201.6 1568.8l5-3-17.6-4-5 3z" fill="#63af3e"/>
<path d="M1059.9 1593l5.3-2.8-16.3-5-5.3 2.8z" fill="#37ad45"/>
<path d="M1164.9 1576.1l5.1-2.9-17.2-4.2-5.1 2.9z" fill="#53ae3c"/>
<path d="M1128.2 1583.1l5.2-3-17-4.4-5.1 2.9z" fill="#43ae3a"/>
<path d="M1091.4 1589.6l5.3-2.9-16.6-4.7-5.3 2.8z" fill="#39ae3d"/>
<path d="M1270.2 1555.6l4.8-3-18.2-3.5-4.9 3.1z" fill="#82af41"/>
<path class="e" d="M1269.8 1555.4L1274.5 1552.5"/>
<path d="M1233.4 1563.8l4.9-3-17.9-3.7-4.9 3z" fill="#70af3f"/>
<path d="M1196.7 1571.6l5-3-17.6-4-5 3z" fill="#5faf3d"/>
<path d="M1054.6 1595.6l5.4-2.8-16.3-5-5.4 2.8z" fill="#37ad47"/>
<path class="e" d="M1054.2 1595.4L1038.7 1590.7"/>
<path d="M1159.9 1578.9l5.1-3-17.3-4.2-5.1 2.9z" fill="#4fae3b"/>
<path d="M1123.1 1585.8l5.2-2.9-17-4.5-5.2 2.9z" fill="#40ae3a"/>
<path d="M1086.2 1592.2l5.3-2.9-16.6-4.7-5.3 2.8z" fill="#38ae3f"/>
<path d="M1265.4 1558.5l4.8-3-18.2-3.5-4.9 3z" fill="#7eaf40"/>
<path class="e" d="M1264.9 1558.3L1269.8 1555.4"/>
<path d="M1228.5 1566.7l5-3.1-17.9-3.7-5 3z" fill="#6caf3e"/>
<path d="M1191.7 1574.4l5-3-17.6-4-5 3z" fill="#5cae3d"/>
<path d="M1154.8 1581.7l5.1-3-17.2-4.3-5.1 3z" fill="#4bae3b"/>
<path d="M1117.9 1588.5l5.2-2.9-16.9-4.6-5.2 2.9z" fill="#3cae39"/>
<path d="M1260.5 1561.4l4.9-3-18.2-3.5-4.9 3z" fill="#7aaf40"/>
<path class="e" d="M1260.1 1561.2L1264.9 1558.3"/>
<path d="M1080.9 1594.9l5.4-2.9-16.6-4.8-5.4 2.9z" fill="#38ae42"/>
<path d="M1223.6 1569.5l5-3-17.9-3.8-5 3z" fill="#69af3e"/>
<path d="M1186.7 1577.2l5-3-17.5-4-5.1 2.9z" fill="#58ae3c"/>
<path d="M1149.7 1584.4l5.2-2.9-17.3-4.3-5.1 2.9z" fill="#48ae3b"/>
<path d="M1112.7 1591.2l5.3-2.9-17-4.6-5.2 2.9z" fill="#39ae39"/>
<path d="M1255.7 1564.3l4.9-3.1-18.3-3.5-4.9 3.1z" fill="#76af3f"/>
<path class="e" d="M1255.3 1564.1L1260.1 1561.2"/>
<path d="M1075.6 1597.5l5.4-2.8-16.6-4.8-5.3 2.8z" fill="#37ae45"/>
<path d="M1218.7 1572.4l5-3.1-17.9-3.8-5 3z" fill="#65af3e"/>
<path d="M1181.6 1580l5.1-3-17.5-4.1-5.1 3z" fill="#54ae3c"/>
<path d="M1144.6 1587.2l5.2-3-17.3-4.3-5.1 2.9z" fill="#44ae3a"/>
<path d="M1107.5 1593.9l5.3-2.9-16.9-4.6-5.3 2.9z" fill="#39ae3c"/>
<path d="M1250.8 1567.2l4.9-3.1-18.2-3.5-4.9 3z" fill="#72af3f"/>
<path class="e" d="M1250.4 1567L1255.3 1564.1"/>
<path d="M1070.3 1600.2l5.4-2.9-16.6-4.8-5.3 2.8z" fill="#37ae47"/>
<path class="e" d="M1070 1599.9L1054.2 1595.4"/>
<path d="M1213.7 1575.2l5-3-17.9-3.8-5 3z" fill="#61af3d"/>
<path d="M1176.6 1582.8l5.1-3-17.6-4.1-5.1 3z" fill="#50ae3b"/>
<path d="M1139.4 1589.9l5.2-2.9-17.2-4.4-5.2 2.9z" fill="#41ae3a"/>
<path d="M1102.2 1596.6l5.4-2.9-16.9-4.6-5.3 2.8z" fill="#38ae3f"/>
<path d="M1245.9 1570.1l4.9-3.1-18.2-3.6-4.9 3.1z" fill="#6faf3e"/>
<path class="e" d="M1245.5 1569.9L1250.4 1567"/>
<path d="M1208.7 1578.1l5-3.1-17.8-3.8-5.1 3z" fill="#5daf3d"/>
<path d="M1171.5 1585.6l5.1-3-17.5-4.1-5.1 2.9z" fill="#4dae3b"/>
<path d="M1134.3 1592.7l5.2-3-17.2-4.4-5.2 2.9z" fill="#3dae39"/>
<path d="M1097 1599.3l5.3-2.9-16.9-4.7-5.3 2.9z" fill="#38ae41"/>
<path d="M1241 1573l4.9-3.1-18.2-3.6-4.9 3z" fill="#6baf3e"/>
<path class="e" d="M1240.6 1572.8L1245.5 1569.9"/>
<path d="M1203.7 1580.9l5.1-3-17.9-3.9-5.1 3z" fill="#5aaf3c"/>
<path d="M1166.4 1588.4l5.2-3-17.6-4.2-5.1 3z" fill="#49ae3b"/>
<path d="M1129.1 1595.4l5.2-3-17.2-4.4-5.2 2.9z" fill="#39ae39"/>
<path d="M1091.7 1602l5.4-2.9-16.9-4.7-5.4 2.9z" fill="#37ae44"/>
<path d="M1236 1575.9l5-3.1-18.2-3.7-5 3.1z" fill="#67af3e"/>
<path class="e" d="M1235.6 1575.6L1240.6 1572.8"/>
<path d="M1198.7 1583.7l5-3-17.8-3.9-5.1 3z" fill="#56af3c"/>
<path d="M1161.3 1591.1l5.2-2.9-17.6-4.2-5.2 2.9z" fill="#46ae3a"/>
<path d="M1123.8 1598.1l5.3-2.9-17.2-4.5-5.2 2.9z" fill="#39ae3b"/>
<path d="M1086.4 1604.7l5.4-2.9-16.9-4.8-5.4 2.9z" fill="#37ae47"/>
<path class="e" d="M1086 1604.4L1070 1599.9"/>
<path d="M1231 1578.7l5.1-3-18.2-3.7-5.1 3z" fill="#63af3d"/>
<path class="e" d="M1230.6 1578.5L1235.6 1575.6"/>
<path d="M1193.6 1586.5l5.1-3-17.9-3.9-5.1 2.9z" fill="#52af3b"/>
<path d="M1156.1 1593.9l5.2-3-17.5-4.2-5.2 3z" fill="#42ae3a"/>
<path d="M1118.6 1600.8l5.3-2.9-17.2-4.5-5.3 2.9z" fill="#38ae3e"/>
<path d="M1226.1 1581.6l5-3.1-18.2-3.7-5 3z" fill="#60af3d"/>
<path class="e" d="M1225.7 1581.4L1230.6 1578.5"/>
<path d="M1188.5 1589.4l5.1-3.1-17.8-4-5.1 3z" fill="#4faf3b"/>
<path d="M1150.9 1596.7l5.3-3-17.5-4.3-5.3 3z" fill="#3eae39"/>
<path d="M1113.3 1603.6l5.4-3-17.2-4.5-5.3 2.9z" fill="#38ae40"/>
<path d="M1221 1584.5l5.1-3.1-18.2-3.8-5.1 3.1z" fill="#5caf3c"/>
<path class="e" d="M1220.6 1584.2L1225.7 1581.4"/>
<path d="M1183.4 1592.2l5.2-3-17.9-4.1-5.1 3z" fill="#4baf3b"/>
<path d="M1145.7 1599.5l5.3-3-17.5-4.3-5.3 2.9z" fill="#3bae39"/>
<path d="M1108 1606.3l5.4-2.9-17.2-4.6-5.3 2.9z" fill="#37ae43"/>
<path d="M1216 1587.3l5.1-3-18.2-3.8-5.1 3z" fill="#58af3c"/>
<path class="e" d="M1215.6 1587.1L1220.6 1584.2"/>
<path d="M1178.3 1595l5.2-3-17.9-4.1-5.2 3z" fill="#47af3a"/>
<path d="M1140.5 1602.2l5.3-3-17.5-4.3-5.3 3z" fill="#38ae3a"/>
<path d="M1102.7 1609l5.4-2.9-17.2-4.6-5.3 2.9z" fill="#37ae46"/>
<path class="e" d="M1102.3 1608.8L1086 1604.4"/>
<path d="M1210.9 1590.2l5.1-3.1-18.1-3.8-5.2 3z" fill="#55af3b"/>
<path class="e" d="M1210.5 1590L1215.6 1587.1"/>
<path d="M1173.1 1597.8l5.2-3-17.8-4.1-5.2 3z" fill="#44ae3a"/>
<path d="M1135.3 1605l5.3-3-17.5-4.4-5.3 3z" fill="#38ae3c"/>
<path d="M1205.8 1593l5.2-3-18.2-3.9-5.1 3z" fill="#51af3b"/>
<path class="e" d="M1205.4 1592.8L1210.5 1590"/>
<path d="M1167.9 1600.6l5.3-3-17.9-4.1-5.2 2.9z" fill="#40ae39"/>
<path d="M1130 1607.7l5.3-2.9-17.5-4.4-5.3 2.9z" fill="#38ae3f"/>
<path d="M1200.7 1595.9l5.2-3.1-18.2-3.9-5.1 3z" fill="#4daf3b"/>
<path class="e" d="M1200.3 1595.6L1205.4 1592.8"/>
<path d="M1162.7 1603.4l5.3-3-17.8-4.2-5.3 3z" fill="#3dae39"/>
<path d="M1124.7 1610.5l5.3-3-17.4-4.4-5.4 2.9z" fill="#37ae42"/>
<path d="M1195.6 1598.7l5.2-3-18.2-4-5.2 3z" fill="#4aaf3a"/>
<path class="e" d="M1195.2 1598.5L1200.3 1595.6"/>
<path d="M1157.5 1606.2l5.3-3-17.8-4.2-5.3 3z" fill="#39ae38"/>
<path d="M1119.3 1613.2l5.4-2.9-17.4-4.5-5.4 2.9z" fill="#37ae44"/>
<path class="e" d="M1118.9 1613L1102.3 1608.8"/>
<path d="M1190.4 1601.5l5.2-3-18.1-3.9-5.2 3z" fill="#46af3a"/>
<path class="e" d="M1190 1601.3L1195.2 1598.5"/>
<path d="M1152.2 1609l5.3-3-17.8-4.2-5.3 2.9z" fill="#38ae3a"/>
<path d="M1185.2 1604.4l5.3-3.1-18.2-3.9-5.2 3z" fill="#43af39"/>
<path class="e" d="M1184.8 1604.2L1190 1601.3"/>
<path d="M1146.9 1611.8l5.4-3-17.8-4.3-5.4 3z" fill="#38ae3d"/>
<path d="M1180 1607.2l5.3-3-18.2-4-5.2 2.9z" fill="#3faf39"/>
<path class="e" d="M1179.6 1607L1184.8 1604.2"/>
<path d="M1141.6 1614.5l5.4-2.9-17.8-4.3-5.4 2.9z" fill="#37ae40"/>
<path d="M1174.8 1610l5.3-3-18.2-4-5.3 2.9z" fill="#3caf38"/>
<path class="e" d="M1174.4 1609.8L1179.6 1607"/>
<path d="M1136.3 1617.3l5.4-3-17.8-4.3-5.4 3z" fill="#37ae42"/>
<path class="e" d="M1135.9 1617.1L1118.9 1613"/>
<path d="M1169.5 1612.8l5.3-3-18.1-4.1-5.3 3z" fill="#38af38"/>
<path class="e" d="M1169.1 1612.6L1174.4 1609.8"/>
<path d="M1164.2 1615.7l5.4-3-18.2-4.2-5.3 3z" fill="#38af3b"/>
<path class="e" d="M1163.8 1615.4L1169.1 1612.6"/>
<path d="M1158.9 1618.5l5.4-3-18.2-4.2-5.3 3z" fill="#37af3d"/>
<path class="e" d="M1158.5 1618.3L1163.8 1615.4"/>
<path d="M1153.5 1621.3l5.4-3-18.1-4.2-5.4 3z" fill="#37af40"/>
<path class="e" d="M1153.1 1621.1L1135.9 1617.1"/>
<path class="e" d="M1153.1 1621.1L1158.5 1618.3"/>
</g>
<mask id="mpf" maskUnits="userSpaceOnUse" x="908.2" y="1412.3" width="494.5" height="210.8"><use href="#spf" filter="url(#wh)"/></mask>
<rect x="908.2" y="1412.3" width="494.5" height="210.8" fill="url(#mesh)" mask="url(#mpf)"/>
</g>
<text transform="translate(857.7,270.8) scale(0.92,1)" font-size="29.7" text-anchor="end">7.6</text>
<text transform="translate(855.6,239.3) scale(0.92,1)" font-size="29.7" text-anchor="end">7.8</text>
<text transform="translate(853.6,207.8) scale(0.92,1)" font-size="29.7" text-anchor="end">8</text>
<text transform="translate(851.5,176.4) scale(0.92,1)" font-size="29.7" text-anchor="end">8.2</text>
<text transform="translate(849.4,144.9) scale(0.92,1)" font-size="29.7" text-anchor="end">8.4</text>
<text transform="translate(847.3,113.5) scale(0.92,1)" font-size="29.7" text-anchor="end">8.6</text>
<text transform="translate(845.2,82) scale(0.92,1)" font-size="29.7" text-anchor="end">8.8</text>
<text transform="translate(1093.9,451.4) scale(0.92,1)" font-size="29.7" text-anchor="end">7.00</text>
<text transform="translate(1047.5,434) scale(0.92,1)" font-size="29.7" text-anchor="end">7.20</text>
<text transform="translate(1001,416.6) scale(0.92,1)" font-size="29.7" text-anchor="end">7.40</text>
<text transform="translate(954.6,399.2) scale(0.92,1)" font-size="29.7" text-anchor="end">7.60</text>
<text transform="translate(908.1,381.8) scale(0.92,1)" font-size="29.7" text-anchor="end">7.80</text>
<text transform="translate(861.7,364.4) scale(0.92,1)" font-size="29.7" text-anchor="end">8.00</text>
<text transform="translate(1125.9,451.4) scale(0.92,1)" font-size="29.7" text-anchor="start">25.00</text>
<text transform="translate(1172.3,434) scale(0.92,1)" font-size="29.7" text-anchor="start">27.00</text>
<text transform="translate(1218.8,416.6) scale(0.92,1)" font-size="29.7" text-anchor="start">29.00</text>
<text transform="translate(1265.2,399.2) scale(0.92,1)" font-size="29.7" text-anchor="start">31.00</text>
<text transform="translate(1311.7,381.8) scale(0.92,1)" font-size="29.7" text-anchor="start">33.00</text>
<text transform="translate(1358.1,364.4) scale(0.92,1)" font-size="29.7" text-anchor="start">35.00</text>
<text transform="translate(886.6,441.1) scale(0.92,1)" font-size="31.3" text-anchor="start">B: pH</text>
<text transform="translate(1237.2,441.6) scale(0.92,1)" font-size="31.4" text-anchor="start">A: Temperature</text>
<text transform="translate(800.1,200.8) rotate(-90)" font-size="30" text-anchor="middle">pH</text>
<circle cx="1110" cy="164" r="4" fill="#f00"/>
<circle cx="1346.9" cy="263.4" r="4" fill="#f00"/>
<circle cx="1109.8" cy="353.7" r="4" fill="#f00"/>
<text transform="translate(871.5,929.9) scale(0.92,1)" font-size="31.3" text-anchor="end">7.6</text>
<text transform="translate(869.3,895.5) scale(0.92,1)" font-size="31.3" text-anchor="end">7.8</text>
<text transform="translate(867.1,861.2) scale(0.92,1)" font-size="31.3" text-anchor="end">8</text>
<text transform="translate(864.9,826.8) scale(0.92,1)" font-size="31.3" text-anchor="end">8.2</text>
<text transform="translate(862.8,792.5) scale(0.92,1)" font-size="31.3" text-anchor="end">8.4</text>
<text transform="translate(860.6,758.1) scale(0.92,1)" font-size="31.3" text-anchor="end">8.6</text>
<text transform="translate(858.4,723.8) scale(0.92,1)" font-size="31.3" text-anchor="end">8.8</text>
<text transform="translate(1115.8,1126.7) scale(0.92,1)" font-size="31.3" text-anchor="end">1.50</text>
<text transform="translate(1067.7,1107.7) scale(0.92,1)" font-size="31.3" text-anchor="end">1.70</text>
<text transform="translate(1019.7,1088.8) scale(0.92,1)" font-size="31.3" text-anchor="end">1.90</text>
<text transform="translate(971.6,1069.8) scale(0.92,1)" font-size="31.3" text-anchor="end">2.10</text>
<text transform="translate(923.6,1050.9) scale(0.92,1)" font-size="31.3" text-anchor="end">2.30</text>
<text transform="translate(875.5,1031.9) scale(0.92,1)" font-size="31.3" text-anchor="end">2.50</text>
<text transform="translate(1148.9,1127.2) scale(0.92,1)" font-size="31.3" text-anchor="start">25.00</text>
<text transform="translate(1197,1108.2) scale(0.92,1)" font-size="31.3" text-anchor="start">27.00</text>
<text transform="translate(1245,1089.3) scale(0.92,1)" font-size="31.3" text-anchor="start">29.00</text>
<text transform="translate(1293.1,1070.3) scale(0.92,1)" font-size="31.3" text-anchor="start">31.00</text>
<text transform="translate(1341.1,1051.4) scale(0.92,1)" font-size="31.3" text-anchor="start">33.00</text>
<text transform="translate(1389.2,1032.4) scale(0.92,1)" font-size="31.3" text-anchor="start">35.00</text>
<text transform="translate(837.6,1115.7) scale(0.92,1)" font-size="32.3" text-anchor="start">C: COD/SO<tspan font-size="19.4" dy="11.0">4</tspan><tspan font-size="18.4" dy="-23.6">2-</tspan></text>
<text transform="translate(1271.3,1114.9) scale(0.92,1)" font-size="32.3" text-anchor="start">A: Temperature</text>
<text transform="translate(811,836) rotate(-90)" font-size="30" text-anchor="middle">pH</text>
<circle cx="1132.6" cy="813.5" r="4" fill="#f00"/>
<circle cx="1379.6" cy="881.6" r="4" fill="#f00"/>
<text transform="translate(900.6,1625.6) scale(0.92,1)" font-size="30" text-anchor="end">7.6</text>
<text transform="translate(898.7,1593.1) scale(0.92,1)" font-size="30" text-anchor="end">7.8</text>
<text transform="translate(896.7,1560.6) scale(0.92,1)" font-size="30" text-anchor="end">8</text>
<text transform="translate(894.7,1528.1) scale(0.92,1)" font-size="30" text-anchor="end">8.2</text>
<text transform="translate(892.7,1495.6) scale(0.92,1)" font-size="30" text-anchor="end">8.4</text>
<text transform="translate(890.7,1463.1) scale(0.92,1)" font-size="30" text-anchor="end">8.6</text>
<text transform="translate(888.7,1430.6) scale(0.92,1)" font-size="30" text-anchor="end">8.8</text>
<text transform="translate(1137.3,1811.1) scale(0.92,1)" font-size="30" text-anchor="end">1.50</text>
<text transform="translate(1090.6,1793.2) scale(0.92,1)" font-size="30" text-anchor="end">1.70</text>
<text transform="translate(1043.8,1775.4) scale(0.92,1)" font-size="30" text-anchor="end">1.90</text>
<text transform="translate(997.1,1757.5) scale(0.92,1)" font-size="30" text-anchor="end">2.10</text>
<text transform="translate(950.3,1739.6) scale(0.92,1)" font-size="30" text-anchor="end">2.30</text>
<text transform="translate(903.6,1721.8) scale(0.92,1)" font-size="30" text-anchor="end">2.50</text>
<text transform="translate(1169.6,1811.1) scale(0.92,1)" font-size="30" text-anchor="start">7.00</text>
<text transform="translate(1216.4,1793.2) scale(0.92,1)" font-size="30" text-anchor="start">7.20</text>
<text transform="translate(1263.1,1775.4) scale(0.92,1)" font-size="30" text-anchor="start">7.40</text>
<text transform="translate(1309.9,1757.5) scale(0.92,1)" font-size="30" text-anchor="start">7.60</text>
<text transform="translate(1356.6,1739.6) scale(0.92,1)" font-size="30" text-anchor="start">7.80</text>
<text transform="translate(1403.4,1721.8) scale(0.92,1)" font-size="30" text-anchor="start">8.00</text>
<text transform="translate(871.5,1802.5) scale(0.92,1)" font-size="31.4" text-anchor="start">C: COD/SO<tspan font-size="18.8" dy="10.7">4</tspan><tspan font-size="17.9" dy="-22.9">2-</tspan></text>
<text transform="translate(1321,1798.5) scale(0.92,1)" font-size="31.4" text-anchor="start">B: pH</text>
<text transform="translate(837,1557.5) rotate(-90)" font-size="30" text-anchor="middle">pH</text>
<circle cx="1153.2" cy="1516.4" r="4" fill="#f00"/>
<circle cx="1153.2" cy="1411.4" r="4" fill="#f00"/>
<circle cx="1400.2" cy="1469" r="4" fill="#f00"/>
<text x="804" y="550.4" font-size="34.3" text-anchor="start" fill="#000">(b) Response surface plot of temperature and</text>
<text x="983.9" y="609.8" font-size="34.3" text-anchor="start" fill="#000">pH affecting pH</text>
<text x="818.4" y="1214" font-size="34.3" text-anchor="start" fill="#000">(d) Response surface plots of temperature and</text>
<text x="905.7" y="1275" font-size="34.3">COD/SO<tspan font-size="21.5" dy="10.7">4</tspan><tspan font-size="21.5" dy="-21.4">2-</tspan><tspan dy="10.7"> influenced sulfur pH</tspan></text>
<text x="817.4" y="1907.8" font-size="34.3">(f) Response surface plots of pH and COD/SO<tspan font-size="21.5" dy="10.7">4</tspan><tspan font-size="21.5" dy="-21.4">2-</tspan></text>
<text x="1040.5" y="1966.4" font-size="34.3" text-anchor="start" fill="#000">affecting pH</text>
</svg></body></html>
